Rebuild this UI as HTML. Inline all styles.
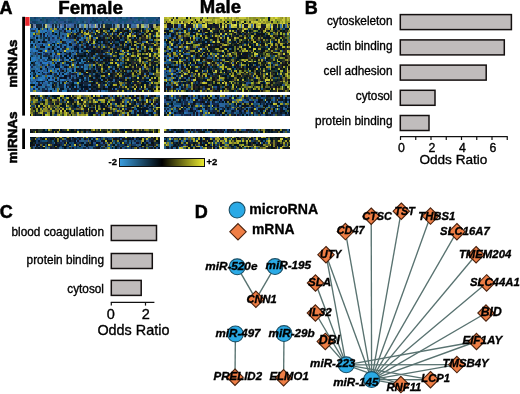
<!DOCTYPE html>
<html><head><meta charset="utf-8"><style>
html,body{margin:0;padding:0;background:#fff;width:520px;height:394px;overflow:hidden}
svg{display:block;font-family:'Liberation Sans', sans-serif;will-change:transform}
</style></head><body>
<svg width="520" height="394" viewBox="0 0 520 394">
<text x="-0.6" y="14.3" font-size="18" font-weight="bold" font-style="normal" text-anchor="start" stroke="#000" stroke-width="0.5" >A</text>
<text x="58.2" y="13.6" font-size="18.8" font-weight="bold" font-style="normal" text-anchor="start" stroke="#000" stroke-width="0.5" >Female</text>
<text x="199.8" y="13.4" font-size="18.5" font-weight="bold" font-style="normal" text-anchor="start" stroke="#000" stroke-width="0.5" >Male</text>
<g shape-rendering="crispEdges"><path fill="#145078" d="M29.6 16.8h2v1.9h-2zM31.6 18.7h2v1.9h-2zM33.6 18.7h2v1.9h-2zM35.6 16.8h2v1.9h-2zM35.6 22.5h2v1.9h-2zM37.6 22.5h2v1.9h-2zM39.6 22.5h2v1.9h-2zM41.6 20.6h2v1.9h-2zM43.6 16.8h2v1.9h-2zM43.6 22.5h2v1.9h-2zM45.6 22.5h2v1.9h-2zM47.6 18.7h2v1.9h-2zM47.6 20.6h2v1.9h-2zM49.6 16.8h2v1.9h-2zM49.6 18.7h2v1.9h-2zM51.6 16.8h2v1.9h-2zM53.6 18.7h2v1.9h-2zM55.6 16.8h2v1.9h-2zM59.6 18.7h2v1.9h-2zM61.6 18.7h2v1.9h-2zM65.6 22.5h2v1.9h-2zM67.6 16.8h2v1.9h-2zM69.6 16.8h2v1.9h-2zM71.6 18.7h2v1.9h-2zM71.6 20.6h2v1.9h-2zM73.6 18.7h2v1.9h-2zM75.6 20.6h2v1.9h-2zM75.6 22.5h2v1.9h-2zM77.6 16.8h2v1.9h-2zM79.6 16.8h2v1.9h-2zM79.6 18.7h2v1.9h-2zM79.6 20.6h2v1.9h-2zM81.6 18.7h2v1.9h-2zM81.6 22.5h2v1.9h-2zM83.6 16.8h2v1.9h-2zM89.6 16.8h2v1.9h-2zM89.6 18.7h2v1.9h-2zM91.6 20.6h2v1.9h-2zM91.6 22.5h2v1.9h-2zM93.6 16.8h2v1.9h-2zM95.6 18.7h2v1.9h-2zM97.6 20.6h2v1.9h-2zM97.6 22.5h2v1.9h-2zM99.6 16.8h2v1.9h-2zM103.6 16.8h2v1.9h-2zM103.6 18.7h2v1.9h-2zM103.6 22.5h2v1.9h-2zM109.6 20.6h2v1.9h-2zM109.6 22.5h2v1.9h-2zM111.6 16.8h2v1.9h-2zM113.6 16.8h2v1.9h-2zM113.6 18.7h2v1.9h-2zM117.6 16.8h2v1.9h-2zM117.6 20.6h2v1.9h-2zM119.6 18.7h2v1.9h-2zM119.6 20.6h2v1.9h-2zM121.6 18.7h2v1.9h-2zM123.6 18.7h2v1.9h-2zM123.6 20.6h2v1.9h-2zM123.6 22.5h2v1.9h-2zM125.6 16.8h2v1.9h-2zM125.6 18.7h2v1.9h-2zM131.6 20.6h2v1.9h-2zM133.6 16.8h2v1.9h-2zM133.6 22.5h2v1.9h-2zM135.6 16.8h2v1.9h-2zM135.6 22.5h2v1.9h-2zM141.6 16.8h2v1.9h-2zM145.6 16.8h2v1.9h-2zM145.6 22.5h2v1.9h-2zM147.6 16.8h2v1.9h-2zM147.6 18.7h2v1.9h-2zM147.6 20.6h2v1.9h-2zM149.6 16.8h2v1.9h-2zM149.6 18.7h2v1.9h-2zM151.6 16.8h2v1.9h-2zM151.6 18.7h2v1.9h-2zM153.6 16.8h2v1.9h-2zM155.6 20.6h2v1.9h-2zM155.6 22.5h2v1.9h-2zM157.6 20.6h2v1.9h-2zM74.07 28.03h1.71v1.81h-1.71zM75.78 28.03h1.71v1.81h-1.71zM91.18 28.03h1.71v1.81h-1.71zM144.21 28.03h1.71v1.81h-1.71zM149.34 28.03h1.71v1.81h-1.71zM92.89 29.84h1.71v1.81h-1.71zM94.6 31.65h1.71v1.81h-1.71zM125.39 31.65h1.71v1.81h-1.71zM142.49 31.65h1.71v1.81h-1.71zM53.55 33.47h1.71v1.81h-1.71zM79.21 33.47h1.71v1.81h-1.71zM56.97 35.28h1.71v1.81h-1.71zM65.52 35.28h1.71v1.81h-1.71zM77.49 35.28h1.71v1.81h-1.71zM147.63 35.28h1.71v1.81h-1.71zM46.71 37.09h1.71v1.81h-1.71zM67.23 37.09h1.71v1.81h-1.71zM75.78 37.09h1.71v1.81h-1.71zM82.63 37.09h1.71v1.81h-1.71zM132.23 37.09h1.71v1.81h-1.71zM82.63 38.91h1.71v1.81h-1.71zM121.97 38.91h1.71v1.81h-1.71zM55.26 40.72h1.71v1.81h-1.71zM108.28 40.72h1.71v1.81h-1.71zM127.1 40.72h1.71v1.81h-1.71zM84.34 42.54h1.71v1.81h-1.71zM87.76 42.54h1.71v1.81h-1.71zM29.6 44.35h1.71v1.81h-1.71zM39.86 44.35h1.71v1.81h-1.71zM65.52 44.35h1.71v1.81h-1.71zM65.52 46.16h1.71v1.81h-1.71zM123.68 46.16h1.71v1.81h-1.71zM151.05 46.16h1.71v1.81h-1.71zM38.15 47.98h1.71v1.81h-1.71zM72.36 47.98h1.71v1.81h-1.71zM79.21 47.98h1.71v1.81h-1.71zM80.92 47.98h1.71v1.81h-1.71zM142.49 47.98h1.71v1.81h-1.71zM41.57 49.79h1.71v1.81h-1.71zM84.34 49.79h1.71v1.81h-1.71zM89.47 49.79h1.71v1.81h-1.71zM50.13 51.6h1.71v1.81h-1.71zM65.52 51.6h1.71v1.81h-1.71zM80.92 51.6h1.71v1.81h-1.71zM125.39 51.6h1.71v1.81h-1.71zM127.1 51.6h1.71v1.81h-1.71zM70.65 53.42h1.71v1.81h-1.71zM123.68 53.42h1.71v1.81h-1.71zM94.6 55.23h1.71v1.81h-1.71zM120.26 55.23h1.71v1.81h-1.71zM56.97 57.04h1.71v1.81h-1.71zM82.63 57.04h1.71v1.81h-1.71zM103.15 57.04h1.71v1.81h-1.71zM120.26 57.04h1.71v1.81h-1.71zM135.65 57.04h1.71v1.81h-1.71zM74.07 58.86h1.71v1.81h-1.71zM92.89 58.86h1.71v1.81h-1.71zM101.44 58.86h1.71v1.81h-1.71zM115.13 58.86h1.71v1.81h-1.71zM75.78 60.67h1.71v1.81h-1.71zM144.21 60.67h1.71v1.81h-1.71zM70.65 62.48h1.71v1.81h-1.71zM80.92 62.48h1.71v1.81h-1.71zM116.84 62.48h1.71v1.81h-1.71zM121.97 62.48h1.71v1.81h-1.71zM145.92 62.48h1.71v1.81h-1.71zM43.28 64.3h1.71v1.81h-1.71zM63.81 64.3h1.71v1.81h-1.71zM106.57 64.3h1.71v1.81h-1.71zM120.26 64.3h1.71v1.81h-1.71zM50.13 66.11h1.71v1.81h-1.71zM91.18 66.11h1.71v1.81h-1.71zM121.97 66.11h1.71v1.81h-1.71zM84.34 69.74h1.71v1.81h-1.71zM104.86 69.74h1.71v1.81h-1.71zM109.99 71.55h1.71v1.81h-1.71zM127.1 71.55h1.71v1.81h-1.71zM149.34 71.55h1.71v1.81h-1.71zM89.47 73.36h1.71v1.81h-1.71zM123.68 73.36h1.71v1.81h-1.71zM34.73 75.18h1.71v1.81h-1.71zM39.86 75.18h1.71v1.81h-1.71zM99.73 75.18h1.71v1.81h-1.71zM108.28 75.18h1.71v1.81h-1.71zM137.36 75.18h1.71v1.81h-1.71zM44.99 76.99h1.71v1.81h-1.71zM65.52 78.81h1.71v1.81h-1.71zM84.34 78.81h1.71v1.81h-1.71zM145.92 80.62h1.71v1.81h-1.71zM130.52 82.43h1.71v1.81h-1.71zM108.28 84.25h1.71v1.81h-1.71zM121.97 84.25h1.71v1.81h-1.71zM46.71 86.06h1.71v1.81h-1.71zM79.21 87.87h1.71v1.81h-1.71zM104.86 89.69h1.71v1.81h-1.71zM165.71 28.03h1.71v1.81h-1.71zM192.99 28.03h1.71v1.81h-1.71zM283.38 28.03h1.71v1.81h-1.71zM179.35 29.84h1.71v1.81h-1.71zM182.76 29.84h1.71v1.81h-1.71zM187.88 29.84h1.71v1.81h-1.71zM170.82 31.65h1.71v1.81h-1.71zM182.76 31.65h1.71v1.81h-1.71zM223.69 33.47h1.71v1.81h-1.71zM271.44 33.47h1.71v1.81h-1.71zM165.71 35.28h1.71v1.81h-1.71zM189.58 35.28h1.71v1.81h-1.71zM191.29 35.28h1.71v1.81h-1.71zM249.27 37.09h1.71v1.81h-1.71zM201.52 38.91h1.71v1.81h-1.71zM164 40.72h1.71v1.81h-1.71zM172.53 40.72h1.71v1.81h-1.71zM210.05 40.72h1.71v1.81h-1.71zM259.5 40.72h1.71v1.81h-1.71zM271.44 40.72h1.71v1.81h-1.71zM286.79 40.72h1.71v1.81h-1.71zM165.71 44.35h1.71v1.81h-1.71zM252.68 44.35h1.71v1.81h-1.71zM257.8 44.35h1.71v1.81h-1.71zM266.32 46.16h1.71v1.81h-1.71zM194.7 47.98h1.71v1.81h-1.71zM201.52 47.98h1.71v1.81h-1.71zM181.05 49.79h1.71v1.81h-1.71zM164 51.6h1.71v1.81h-1.71zM199.81 51.6h1.71v1.81h-1.71zM221.98 51.6h1.71v1.81h-1.71zM175.94 53.42h1.71v1.81h-1.71zM208.34 55.23h1.71v1.81h-1.71zM220.28 55.23h1.71v1.81h-1.71zM269.74 55.23h1.71v1.81h-1.71zM273.15 55.23h1.71v1.81h-1.71zM213.46 57.04h1.71v1.81h-1.71zM232.22 57.04h1.71v1.81h-1.71zM271.44 57.04h1.71v1.81h-1.71zM181.05 58.86h1.71v1.81h-1.71zM187.88 58.86h1.71v1.81h-1.71zM213.46 58.86h1.71v1.81h-1.71zM216.87 58.86h1.71v1.81h-1.71zM167.41 60.67h1.71v1.81h-1.71zM165.71 62.48h1.71v1.81h-1.71zM167.41 62.48h1.71v1.81h-1.71zM169.12 62.48h1.71v1.81h-1.71zM199.81 62.48h1.71v1.81h-1.71zM271.44 62.48h1.71v1.81h-1.71zM239.04 64.3h1.71v1.81h-1.71zM254.39 64.3h1.71v1.81h-1.71zM268.03 64.3h1.71v1.81h-1.71zM210.05 66.11h1.71v1.81h-1.71zM232.22 66.11h1.71v1.81h-1.71zM206.64 67.92h1.71v1.81h-1.71zM233.92 67.92h1.71v1.81h-1.71zM268.03 67.92h1.71v1.81h-1.71zM165.71 69.74h1.71v1.81h-1.71zM247.56 69.74h1.71v1.81h-1.71zM167.41 71.55h1.71v1.81h-1.71zM177.64 71.55h1.71v1.81h-1.71zM250.98 71.55h1.71v1.81h-1.71zM165.71 73.36h1.71v1.81h-1.71zM167.41 73.36h1.71v1.81h-1.71zM208.34 73.36h1.71v1.81h-1.71zM223.69 73.36h1.71v1.81h-1.71zM264.62 73.36h1.71v1.81h-1.71zM179.35 75.18h1.71v1.81h-1.71zM167.41 76.99h1.71v1.81h-1.71zM204.93 76.99h1.71v1.81h-1.71zM273.15 76.99h1.71v1.81h-1.71zM276.56 76.99h1.71v1.81h-1.71zM179.35 80.62h1.71v1.81h-1.71zM249.27 82.43h1.71v1.81h-1.71zM264.62 82.43h1.71v1.81h-1.71zM167.41 84.25h1.71v1.81h-1.71zM169.12 84.25h1.71v1.81h-1.71zM181.05 84.25h1.71v1.81h-1.71zM187.88 86.06h1.71v1.81h-1.71zM189.58 86.06h1.71v1.81h-1.71zM213.46 86.06h1.71v1.81h-1.71zM221.98 86.06h1.71v1.81h-1.71zM177.64 87.87h1.71v1.81h-1.71zM186.17 87.87h1.71v1.81h-1.71zM261.21 87.87h1.71v1.81h-1.71zM38.15 95.4h1.71v1.85h-1.71zM48.42 95.4h1.71v1.85h-1.71zM121.97 95.4h1.71v1.85h-1.71zM63.81 97.25h1.71v1.85h-1.71zM123.68 97.25h1.71v1.85h-1.71zM60.39 99.11h1.71v1.85h-1.71zM65.52 99.11h1.71v1.85h-1.71zM96.31 99.11h1.71v1.85h-1.71zM127.1 99.11h1.71v1.85h-1.71zM132.23 99.11h1.71v1.85h-1.71zM140.78 99.11h1.71v1.85h-1.71zM31.31 100.96h1.71v1.85h-1.71zM87.76 100.96h1.71v1.85h-1.71zM99.73 100.96h1.71v1.85h-1.71zM106.57 100.96h1.71v1.85h-1.71zM130.52 100.96h1.71v1.85h-1.71zM111.71 102.82h1.71v1.85h-1.71zM113.42 102.82h1.71v1.85h-1.71zM77.49 104.67h1.71v1.85h-1.71zM123.68 104.67h1.71v1.85h-1.71zM41.57 106.53h1.71v1.85h-1.71zM65.52 106.53h1.71v1.85h-1.71zM67.23 106.53h1.71v1.85h-1.71zM89.47 106.53h1.71v1.85h-1.71zM152.76 106.53h1.71v1.85h-1.71zM133.94 108.38h1.71v1.85h-1.71zM82.63 110.24h1.71v1.85h-1.71zM111.71 113.95h1.71v1.85h-1.71zM135.65 113.95h1.71v1.85h-1.71zM149.34 113.95h1.71v1.85h-1.71zM164 95.4h1.71v1.85h-1.71zM169.12 95.4h1.71v1.85h-1.71zM199.81 95.4h1.71v1.85h-1.71zM203.22 95.4h1.71v1.85h-1.71zM218.57 95.4h1.71v1.85h-1.71zM254.39 95.4h1.71v1.85h-1.71zM257.8 95.4h1.71v1.85h-1.71zM223.69 97.25h1.71v1.85h-1.71zM230.51 97.25h1.71v1.85h-1.71zM237.33 97.25h1.71v1.85h-1.71zM262.91 97.25h1.71v1.85h-1.71zM170.82 99.11h1.71v1.85h-1.71zM181.05 99.11h1.71v1.85h-1.71zM191.29 99.11h1.71v1.85h-1.71zM206.64 99.11h1.71v1.85h-1.71zM218.57 99.11h1.71v1.85h-1.71zM244.15 99.11h1.71v1.85h-1.71zM250.98 99.11h1.71v1.85h-1.71zM254.39 99.11h1.71v1.85h-1.71zM262.91 99.11h1.71v1.85h-1.71zM271.44 99.11h1.71v1.85h-1.71zM167.41 100.96h1.71v1.85h-1.71zM169.12 100.96h1.71v1.85h-1.71zM182.76 100.96h1.71v1.85h-1.71zM216.87 100.96h1.71v1.85h-1.71zM240.74 100.96h1.71v1.85h-1.71zM279.97 100.96h1.71v1.85h-1.71zM174.23 102.82h1.71v1.85h-1.71zM175.94 102.82h1.71v1.85h-1.71zM177.64 102.82h1.71v1.85h-1.71zM179.35 102.82h1.71v1.85h-1.71zM198.11 102.82h1.71v1.85h-1.71zM232.22 102.82h1.71v1.85h-1.71zM252.68 102.82h1.71v1.85h-1.71zM254.39 102.82h1.71v1.85h-1.71zM256.09 102.82h1.71v1.85h-1.71zM283.38 102.82h1.71v1.85h-1.71zM227.1 104.67h1.71v1.85h-1.71zM232.22 104.67h1.71v1.85h-1.71zM254.39 104.67h1.71v1.85h-1.71zM286.79 104.67h1.71v1.85h-1.71zM164 106.53h1.71v1.85h-1.71zM177.64 106.53h1.71v1.85h-1.71zM194.7 106.53h1.71v1.85h-1.71zM213.46 106.53h1.71v1.85h-1.71zM218.57 106.53h1.71v1.85h-1.71zM233.92 106.53h1.71v1.85h-1.71zM257.8 106.53h1.71v1.85h-1.71zM261.21 106.53h1.71v1.85h-1.71zM172.53 108.38h1.71v1.85h-1.71zM211.75 108.38h1.71v1.85h-1.71zM225.39 108.38h1.71v1.85h-1.71zM278.26 108.38h1.71v1.85h-1.71zM174.23 110.24h1.71v1.85h-1.71zM175.94 110.24h1.71v1.85h-1.71zM257.8 110.24h1.71v1.85h-1.71zM274.85 110.24h1.71v1.85h-1.71zM189.58 112.09h1.71v1.85h-1.71zM191.29 112.09h1.71v1.85h-1.71zM227.1 112.09h1.71v1.85h-1.71zM228.81 112.09h1.71v1.85h-1.71zM235.63 112.09h1.71v1.85h-1.71zM237.33 112.09h1.71v1.85h-1.71zM259.5 112.09h1.71v1.85h-1.71zM208.34 113.95h1.71v1.85h-1.71zM240.74 113.95h1.71v1.85h-1.71zM250.98 113.95h1.71v1.85h-1.71zM256.09 113.95h1.71v1.85h-1.71zM44.99 129.2h1.71v1.65h-1.71zM113.42 130.85h1.71v1.65h-1.71zM184.46 129.2h1.71v1.65h-1.71zM242.45 129.2h1.71v1.65h-1.71zM204.93 130.85h1.71v1.65h-1.71zM225.39 130.85h1.71v1.65h-1.71zM247.56 130.85h1.71v1.65h-1.71zM257.8 130.85h1.71v1.65h-1.71zM288.49 130.85h1.71v1.65h-1.71zM113.42 136.5h1.71v1.81h-1.71zM121.97 136.5h1.71v1.81h-1.71zM139.07 136.5h1.71v1.81h-1.71zM144.21 136.5h1.71v1.81h-1.71zM82.63 138.31h1.71v1.81h-1.71zM101.44 138.31h1.71v1.81h-1.71zM109.99 138.31h1.71v1.81h-1.71zM147.63 138.31h1.71v1.81h-1.71zM41.57 140.13h1.71v1.81h-1.71zM43.28 140.13h1.71v1.81h-1.71zM44.99 140.13h1.71v1.81h-1.71zM51.84 140.13h1.71v1.81h-1.71zM96.31 140.13h1.71v1.81h-1.71zM98.02 140.13h1.71v1.81h-1.71zM113.42 140.13h1.71v1.81h-1.71zM128.81 140.13h1.71v1.81h-1.71zM135.65 140.13h1.71v1.81h-1.71zM68.94 141.94h1.71v1.81h-1.71zM72.36 141.94h1.71v1.81h-1.71zM116.84 141.94h1.71v1.81h-1.71zM44.99 143.76h1.71v1.81h-1.71zM72.36 143.76h1.71v1.81h-1.71zM127.1 143.76h1.71v1.81h-1.71zM157.89 143.76h1.71v1.81h-1.71zM44.99 145.57h1.71v1.81h-1.71zM60.39 145.57h1.71v1.81h-1.71zM72.36 145.57h1.71v1.81h-1.71zM87.76 145.57h1.71v1.81h-1.71zM91.18 145.57h1.71v1.81h-1.71zM108.28 145.57h1.71v1.81h-1.71zM109.99 145.57h1.71v1.81h-1.71zM123.68 145.57h1.71v1.81h-1.71zM157.89 145.57h1.71v1.81h-1.71zM67.23 147.39h1.71v1.81h-1.71zM70.65 147.39h1.71v1.81h-1.71zM74.07 147.39h1.71v1.81h-1.71zM79.21 147.39h1.71v1.81h-1.71zM80.92 147.39h1.71v1.81h-1.71zM99.73 147.39h1.71v1.81h-1.71zM109.99 147.39h1.71v1.81h-1.71zM113.42 147.39h1.71v1.81h-1.71zM127.1 147.39h1.71v1.81h-1.71zM147.63 147.39h1.71v1.81h-1.71zM152.76 147.39h1.71v1.81h-1.71zM192.99 136.5h1.71v1.81h-1.71zM225.39 136.5h1.71v1.81h-1.71zM164 138.31h1.71v1.81h-1.71zM167.41 138.31h1.71v1.81h-1.71zM182.76 138.31h1.71v1.81h-1.71zM196.4 138.31h1.71v1.81h-1.71zM211.75 138.31h1.71v1.81h-1.71zM228.81 138.31h1.71v1.81h-1.71zM240.74 138.31h1.71v1.81h-1.71zM266.32 138.31h1.71v1.81h-1.71zM167.41 140.13h1.71v1.81h-1.71zM169.12 140.13h1.71v1.81h-1.71zM189.58 140.13h1.71v1.81h-1.71zM194.7 140.13h1.71v1.81h-1.71zM262.91 140.13h1.71v1.81h-1.71zM182.76 141.94h1.71v1.81h-1.71zM201.52 141.94h1.71v1.81h-1.71zM170.82 143.76h1.71v1.81h-1.71zM215.16 143.76h1.71v1.81h-1.71zM223.69 143.76h1.71v1.81h-1.71zM177.64 145.57h1.71v1.81h-1.71zM191.29 145.57h1.71v1.81h-1.71zM233.92 145.57h1.71v1.81h-1.71zM169.12 147.39h1.71v1.81h-1.71zM250.98 147.39h1.71v1.81h-1.71z"/>
<path fill="#145064" d="M29.6 18.7h2v1.9h-2zM35.6 20.6h2v1.9h-2zM41.6 16.8h2v1.9h-2zM41.6 18.7h2v1.9h-2zM53.6 22.5h2v1.9h-2zM55.6 20.6h2v1.9h-2zM69.6 18.7h2v1.9h-2zM71.6 16.8h2v1.9h-2zM77.6 22.5h2v1.9h-2zM93.6 22.5h2v1.9h-2zM97.6 18.7h2v1.9h-2zM99.6 18.7h2v1.9h-2zM105.6 22.5h2v1.9h-2zM137.6 16.8h2v1.9h-2zM137.6 18.7h2v1.9h-2zM139.6 16.8h2v1.9h-2zM141.6 20.6h2v1.9h-2zM149.6 20.6h2v1.9h-2zM116.84 40.72h1.71v1.81h-1.71zM154.47 40.72h1.71v1.81h-1.71zM128.81 69.74h1.71v1.81h-1.71zM198.11 37.09h1.71v1.81h-1.71zM244.15 42.54h1.71v1.81h-1.71zM259.5 57.04h1.71v1.81h-1.71zM170.82 64.3h1.71v1.81h-1.71zM220.28 67.92h1.71v1.81h-1.71zM192.99 106.53h1.71v1.85h-1.71zM196.4 106.53h1.71v1.85h-1.71zM285.08 110.24h1.71v1.85h-1.71zM120.26 145.57h1.71v1.81h-1.71zM77.49 147.39h1.71v1.81h-1.71zM123.68 147.39h1.71v1.81h-1.71z"/>
<path fill="#285078" d="M29.6 20.6h2v1.9h-2zM31.6 16.8h2v1.9h-2zM31.6 22.5h2v1.9h-2zM37.6 16.8h2v1.9h-2zM37.6 20.6h2v1.9h-2zM43.6 18.7h2v1.9h-2zM43.6 20.6h2v1.9h-2zM45.6 16.8h2v1.9h-2zM47.6 16.8h2v1.9h-2zM47.6 22.5h2v1.9h-2zM51.6 18.7h2v1.9h-2zM51.6 20.6h2v1.9h-2zM55.6 22.5h2v1.9h-2zM57.6 18.7h2v1.9h-2zM57.6 22.5h2v1.9h-2zM59.6 22.5h2v1.9h-2zM61.6 16.8h2v1.9h-2zM63.6 16.8h2v1.9h-2zM63.6 18.7h2v1.9h-2zM65.6 16.8h2v1.9h-2zM67.6 18.7h2v1.9h-2zM67.6 22.5h2v1.9h-2zM73.6 20.6h2v1.9h-2zM79.6 22.5h2v1.9h-2zM81.6 16.8h2v1.9h-2zM83.6 18.7h2v1.9h-2zM83.6 22.5h2v1.9h-2zM85.6 16.8h2v1.9h-2zM85.6 18.7h2v1.9h-2zM85.6 20.6h2v1.9h-2zM89.6 22.5h2v1.9h-2zM97.6 16.8h2v1.9h-2zM101.6 16.8h2v1.9h-2zM101.6 18.7h2v1.9h-2zM105.6 20.6h2v1.9h-2zM107.6 16.8h2v1.9h-2zM107.6 20.6h2v1.9h-2zM111.6 20.6h2v1.9h-2zM117.6 18.7h2v1.9h-2zM125.6 20.6h2v1.9h-2zM127.6 18.7h2v1.9h-2zM127.6 20.6h2v1.9h-2zM129.6 18.7h2v1.9h-2zM131.6 18.7h2v1.9h-2zM139.6 22.5h2v1.9h-2zM141.6 18.7h2v1.9h-2zM143.6 18.7h2v1.9h-2zM143.6 20.6h2v1.9h-2zM147.6 22.5h2v1.9h-2zM151.6 20.6h2v1.9h-2zM153.6 20.6h2v1.9h-2zM153.6 22.5h2v1.9h-2zM155.6 16.8h2v1.9h-2zM157.6 22.5h2v1.9h-2zM34.73 31.65h1.71v1.81h-1.71zM62.1 31.65h1.71v1.81h-1.71zM79.21 35.28h1.71v1.81h-1.71zM101.44 35.28h1.71v1.81h-1.71zM120.26 38.91h1.71v1.81h-1.71zM149.34 38.91h1.71v1.81h-1.71zM72.36 40.72h1.71v1.81h-1.71zM86.05 40.72h1.71v1.81h-1.71zM36.44 42.54h1.71v1.81h-1.71zM44.99 42.54h1.71v1.81h-1.71zM118.55 42.54h1.71v1.81h-1.71zM82.63 44.35h1.71v1.81h-1.71zM55.26 46.16h1.71v1.81h-1.71zM72.36 46.16h1.71v1.81h-1.71zM79.21 46.16h1.71v1.81h-1.71zM101.44 46.16h1.71v1.81h-1.71zM111.71 46.16h1.71v1.81h-1.71zM50.13 47.98h1.71v1.81h-1.71zM50.13 49.79h1.71v1.81h-1.71zM62.1 49.79h1.71v1.81h-1.71zM74.07 49.79h1.71v1.81h-1.71zM82.63 49.79h1.71v1.81h-1.71zM36.44 51.6h1.71v1.81h-1.71zM121.97 51.6h1.71v1.81h-1.71zM33.02 53.42h1.71v1.81h-1.71zM48.42 53.42h1.71v1.81h-1.71zM106.57 53.42h1.71v1.81h-1.71zM36.44 55.23h1.71v1.81h-1.71zM50.13 55.23h1.71v1.81h-1.71zM72.36 55.23h1.71v1.81h-1.71zM72.36 57.04h1.71v1.81h-1.71zM38.15 58.86h1.71v1.81h-1.71zM43.28 58.86h1.71v1.81h-1.71zM43.28 60.67h1.71v1.81h-1.71zM55.26 60.67h1.71v1.81h-1.71zM74.07 62.48h1.71v1.81h-1.71zM34.73 64.3h1.71v1.81h-1.71zM44.99 67.92h1.71v1.81h-1.71zM62.1 67.92h1.71v1.81h-1.71zM108.28 67.92h1.71v1.81h-1.71zM53.55 69.74h1.71v1.81h-1.71zM96.31 69.74h1.71v1.81h-1.71zM137.36 69.74h1.71v1.81h-1.71zM67.23 73.36h1.71v1.81h-1.71zM72.36 75.18h1.71v1.81h-1.71zM74.07 75.18h1.71v1.81h-1.71zM36.44 76.99h1.71v1.81h-1.71zM118.55 76.99h1.71v1.81h-1.71zM29.6 78.81h1.71v1.81h-1.71zM44.99 78.81h1.71v1.81h-1.71zM67.23 78.81h1.71v1.81h-1.71zM29.6 80.62h1.71v1.81h-1.71zM67.23 82.43h1.71v1.81h-1.71zM82.63 84.25h1.71v1.81h-1.71zM48.42 86.06h1.71v1.81h-1.71zM139.07 87.87h1.71v1.81h-1.71zM133.94 89.69h1.71v1.81h-1.71zM149.34 89.69h1.71v1.81h-1.71zM181.05 28.03h1.71v1.81h-1.71zM247.56 29.84h1.71v1.81h-1.71zM210.05 31.65h1.71v1.81h-1.71zM165.71 33.47h1.71v1.81h-1.71zM203.22 33.47h1.71v1.81h-1.71zM264.62 33.47h1.71v1.81h-1.71zM288.49 33.47h1.71v1.81h-1.71zM181.05 37.09h1.71v1.81h-1.71zM288.49 37.09h1.71v1.81h-1.71zM211.75 38.91h1.71v1.81h-1.71zM182.76 40.72h1.71v1.81h-1.71zM235.63 40.72h1.71v1.81h-1.71zM169.12 44.35h1.71v1.81h-1.71zM164 46.16h1.71v1.81h-1.71zM203.22 47.98h1.71v1.81h-1.71zM230.51 51.6h1.71v1.81h-1.71zM203.22 55.23h1.71v1.81h-1.71zM213.46 55.23h1.71v1.81h-1.71zM227.1 55.23h1.71v1.81h-1.71zM208.34 57.04h1.71v1.81h-1.71zM169.12 60.67h1.71v1.81h-1.71zM266.32 60.67h1.71v1.81h-1.71zM223.69 62.48h1.71v1.81h-1.71zM179.35 64.3h1.71v1.81h-1.71zM191.29 64.3h1.71v1.81h-1.71zM218.57 64.3h1.71v1.81h-1.71zM273.15 64.3h1.71v1.81h-1.71zM198.11 66.11h1.71v1.81h-1.71zM179.35 67.92h1.71v1.81h-1.71zM211.75 67.92h1.71v1.81h-1.71zM203.22 69.74h1.71v1.81h-1.71zM164 73.36h1.71v1.81h-1.71zM213.46 73.36h1.71v1.81h-1.71zM175.94 75.18h1.71v1.81h-1.71zM186.17 78.81h1.71v1.81h-1.71zM177.64 84.25h1.71v1.81h-1.71zM187.88 84.25h1.71v1.81h-1.71zM245.86 84.25h1.71v1.81h-1.71zM283.38 84.25h1.71v1.81h-1.71zM182.76 86.06h1.71v1.81h-1.71zM82.63 95.4h1.71v1.85h-1.71zM127.1 95.4h1.71v1.85h-1.71zM157.89 95.4h1.71v1.85h-1.71zM39.86 97.25h1.71v1.85h-1.71zM43.28 99.11h1.71v1.85h-1.71zM74.07 99.11h1.71v1.85h-1.71zM63.81 100.96h1.71v1.85h-1.71zM137.36 102.82h1.71v1.85h-1.71zM108.28 104.67h1.71v1.85h-1.71zM149.34 104.67h1.71v1.85h-1.71zM154.47 104.67h1.71v1.85h-1.71zM111.71 108.38h1.71v1.85h-1.71zM149.34 108.38h1.71v1.85h-1.71zM75.78 113.95h1.71v1.85h-1.71zM228.81 95.4h1.71v1.85h-1.71zM252.68 95.4h1.71v1.85h-1.71zM259.5 95.4h1.71v1.85h-1.71zM264.62 95.4h1.71v1.85h-1.71zM169.12 97.25h1.71v1.85h-1.71zM186.17 97.25h1.71v1.85h-1.71zM215.16 97.25h1.71v1.85h-1.71zM221.98 97.25h1.71v1.85h-1.71zM225.39 97.25h1.71v1.85h-1.71zM165.71 100.96h1.71v1.85h-1.71zM172.53 100.96h1.71v1.85h-1.71zM239.04 100.96h1.71v1.85h-1.71zM273.15 100.96h1.71v1.85h-1.71zM227.1 102.82h1.71v1.85h-1.71zM230.51 104.67h1.71v1.85h-1.71zM235.63 104.67h1.71v1.85h-1.71zM215.16 106.53h1.71v1.85h-1.71zM244.15 108.38h1.71v1.85h-1.71zM285.08 108.38h1.71v1.85h-1.71zM206.64 112.09h1.71v1.85h-1.71zM254.39 112.09h1.71v1.85h-1.71zM268.03 112.09h1.71v1.85h-1.71zM182.76 113.95h1.71v1.85h-1.71zM206.64 113.95h1.71v1.85h-1.71zM86.05 130.85h1.71v1.65h-1.71zM189.58 129.2h1.71v1.65h-1.71zM240.74 129.2h1.71v1.65h-1.71zM196.4 130.85h1.71v1.65h-1.71zM206.64 130.85h1.71v1.65h-1.71zM283.38 130.85h1.71v1.65h-1.71zM38.15 136.5h1.71v1.81h-1.71zM65.52 136.5h1.71v1.81h-1.71zM70.65 136.5h1.71v1.81h-1.71zM108.28 136.5h1.71v1.81h-1.71zM109.99 136.5h1.71v1.81h-1.71zM65.52 140.13h1.71v1.81h-1.71zM84.34 140.13h1.71v1.81h-1.71zM89.47 140.13h1.71v1.81h-1.71zM123.68 140.13h1.71v1.81h-1.71zM132.23 140.13h1.71v1.81h-1.71zM145.92 140.13h1.71v1.81h-1.71zM104.86 141.94h1.71v1.81h-1.71zM70.65 143.76h1.71v1.81h-1.71zM137.36 143.76h1.71v1.81h-1.71zM33.02 145.57h1.71v1.81h-1.71zM38.15 145.57h1.71v1.81h-1.71zM92.89 145.57h1.71v1.81h-1.71zM113.42 145.57h1.71v1.81h-1.71zM137.36 145.57h1.71v1.81h-1.71zM151.05 145.57h1.71v1.81h-1.71zM33.02 147.39h1.71v1.81h-1.71zM104.86 147.39h1.71v1.81h-1.71zM213.46 140.13h1.71v1.81h-1.71zM218.57 141.94h1.71v1.81h-1.71zM264.62 141.94h1.71v1.81h-1.71zM192.99 145.57h1.71v1.81h-1.71zM201.52 147.39h1.71v1.81h-1.71z"/>
<path fill="#143c64" d="M29.6 22.5h2v1.9h-2zM31.6 20.6h2v1.9h-2zM33.6 16.8h2v1.9h-2zM33.6 20.6h2v1.9h-2zM33.6 22.5h2v1.9h-2zM39.6 18.7h2v1.9h-2zM45.6 18.7h2v1.9h-2zM45.6 20.6h2v1.9h-2zM57.6 16.8h2v1.9h-2zM63.6 20.6h2v1.9h-2zM67.6 20.6h2v1.9h-2zM69.6 20.6h2v1.9h-2zM73.6 16.8h2v1.9h-2zM81.6 20.6h2v1.9h-2zM85.6 22.5h2v1.9h-2zM89.6 20.6h2v1.9h-2zM91.6 16.8h2v1.9h-2zM91.6 18.7h2v1.9h-2zM93.6 18.7h2v1.9h-2zM93.6 20.6h2v1.9h-2zM95.6 16.8h2v1.9h-2zM95.6 20.6h2v1.9h-2zM101.6 20.6h2v1.9h-2zM101.6 22.5h2v1.9h-2zM105.6 16.8h2v1.9h-2zM107.6 18.7h2v1.9h-2zM117.6 22.5h2v1.9h-2zM119.6 16.8h2v1.9h-2zM129.6 16.8h2v1.9h-2zM141.6 22.5h2v1.9h-2zM155.6 18.7h2v1.9h-2zM157.6 16.8h2v1.9h-2zM116.84 28.03h1.71v1.81h-1.71zM106.57 29.84h1.71v1.81h-1.71zM99.73 35.28h1.71v1.81h-1.71zM118.55 35.28h1.71v1.81h-1.71zM121.97 37.09h1.71v1.81h-1.71zM98.02 40.72h1.71v1.81h-1.71zM115.13 40.72h1.71v1.81h-1.71zM101.44 42.54h1.71v1.81h-1.71zM127.1 42.54h1.71v1.81h-1.71zM149.34 42.54h1.71v1.81h-1.71zM104.86 46.16h1.71v1.81h-1.71zM142.49 46.16h1.71v1.81h-1.71zM111.71 53.42h1.71v1.81h-1.71zM151.05 58.86h1.71v1.81h-1.71zM108.28 62.48h1.71v1.81h-1.71zM113.42 66.11h1.71v1.81h-1.71zM156.18 66.11h1.71v1.81h-1.71zM149.34 67.92h1.71v1.81h-1.71zM98.02 71.55h1.71v1.81h-1.71zM104.86 76.99h1.71v1.81h-1.71zM120.26 80.62h1.71v1.81h-1.71zM140.78 80.62h1.71v1.81h-1.71zM142.49 80.62h1.71v1.81h-1.71zM152.76 80.62h1.71v1.81h-1.71zM123.68 82.43h1.71v1.81h-1.71zM103.15 84.25h1.71v1.81h-1.71zM130.52 86.06h1.71v1.81h-1.71zM127.1 89.69h1.71v1.81h-1.71zM288.49 26.21h1.71v1.81h-1.71zM228.81 28.03h1.71v1.81h-1.71zM247.56 28.03h1.71v1.81h-1.71zM276.56 28.03h1.71v1.81h-1.71zM281.67 28.03h1.71v1.81h-1.71zM254.39 31.65h1.71v1.81h-1.71zM242.45 33.47h1.71v1.81h-1.71zM285.08 33.47h1.71v1.81h-1.71zM174.23 35.28h1.71v1.81h-1.71zM210.05 35.28h1.71v1.81h-1.71zM227.1 35.28h1.71v1.81h-1.71zM221.98 38.91h1.71v1.81h-1.71zM192.99 40.72h1.71v1.81h-1.71zM228.81 40.72h1.71v1.81h-1.71zM247.56 40.72h1.71v1.81h-1.71zM242.45 44.35h1.71v1.81h-1.71zM181.05 47.98h1.71v1.81h-1.71zM187.88 49.79h1.71v1.81h-1.71zM201.52 49.79h1.71v1.81h-1.71zM274.85 49.79h1.71v1.81h-1.71zM182.76 53.42h1.71v1.81h-1.71zM247.56 55.23h1.71v1.81h-1.71zM187.88 57.04h1.71v1.81h-1.71zM261.21 57.04h1.71v1.81h-1.71zM187.88 62.48h1.71v1.81h-1.71zM198.11 62.48h1.71v1.81h-1.71zM192.99 64.3h1.71v1.81h-1.71zM220.28 64.3h1.71v1.81h-1.71zM278.26 64.3h1.71v1.81h-1.71zM216.87 66.11h1.71v1.81h-1.71zM244.15 66.11h1.71v1.81h-1.71zM196.4 67.92h1.71v1.81h-1.71zM218.57 67.92h1.71v1.81h-1.71zM204.93 69.74h1.71v1.81h-1.71zM228.81 69.74h1.71v1.81h-1.71zM218.57 71.55h1.71v1.81h-1.71zM237.33 71.55h1.71v1.81h-1.71zM281.67 71.55h1.71v1.81h-1.71zM191.29 73.36h1.71v1.81h-1.71zM252.68 73.36h1.71v1.81h-1.71zM278.26 73.36h1.71v1.81h-1.71zM210.05 75.18h1.71v1.81h-1.71zM227.1 75.18h1.71v1.81h-1.71zM250.98 75.18h1.71v1.81h-1.71zM279.97 75.18h1.71v1.81h-1.71zM177.64 76.99h1.71v1.81h-1.71zM206.64 76.99h1.71v1.81h-1.71zM247.56 78.81h1.71v1.81h-1.71zM196.4 80.62h1.71v1.81h-1.71zM247.56 80.62h1.71v1.81h-1.71zM262.91 80.62h1.71v1.81h-1.71zM192.99 82.43h1.71v1.81h-1.71zM196.4 82.43h1.71v1.81h-1.71zM227.1 84.25h1.71v1.81h-1.71zM203.22 86.06h1.71v1.81h-1.71zM230.51 86.06h1.71v1.81h-1.71zM215.16 87.87h1.71v1.81h-1.71zM220.28 87.87h1.71v1.81h-1.71zM237.33 87.87h1.71v1.81h-1.71zM189.58 89.69h1.71v1.81h-1.71zM201.52 89.69h1.71v1.81h-1.71zM233.92 89.69h1.71v1.81h-1.71zM65.52 95.4h1.71v1.85h-1.71zM130.52 95.4h1.71v1.85h-1.71zM51.84 97.25h1.71v1.85h-1.71zM84.34 97.25h1.71v1.85h-1.71zM113.42 97.25h1.71v1.85h-1.71zM151.05 97.25h1.71v1.85h-1.71zM82.63 99.11h1.71v1.85h-1.71zM38.15 100.96h1.71v1.85h-1.71zM60.39 100.96h1.71v1.85h-1.71zM111.71 100.96h1.71v1.85h-1.71zM123.68 100.96h1.71v1.85h-1.71zM48.42 102.82h1.71v1.85h-1.71zM94.6 102.82h1.71v1.85h-1.71zM31.31 104.67h1.71v1.85h-1.71zM33.02 104.67h1.71v1.85h-1.71zM70.65 104.67h1.71v1.85h-1.71zM86.05 104.67h1.71v1.85h-1.71zM55.26 106.53h1.71v1.85h-1.71zM92.89 106.53h1.71v1.85h-1.71zM99.73 106.53h1.71v1.85h-1.71zM121.97 106.53h1.71v1.85h-1.71zM41.57 108.38h1.71v1.85h-1.71zM74.07 108.38h1.71v1.85h-1.71zM50.13 110.24h1.71v1.85h-1.71zM68.94 110.24h1.71v1.85h-1.71zM151.05 110.24h1.71v1.85h-1.71zM44.99 112.09h1.71v1.85h-1.71zM79.21 112.09h1.71v1.85h-1.71zM135.65 112.09h1.71v1.85h-1.71zM53.55 113.95h1.71v1.85h-1.71zM55.26 113.95h1.71v1.85h-1.71zM87.76 113.95h1.71v1.85h-1.71zM109.99 113.95h1.71v1.85h-1.71zM116.84 113.95h1.71v1.85h-1.71zM247.56 97.25h1.71v1.85h-1.71zM249.27 97.25h1.71v1.85h-1.71zM264.62 97.25h1.71v1.85h-1.71zM211.75 99.11h1.71v1.85h-1.71zM240.74 102.82h1.71v1.85h-1.71zM261.21 102.82h1.71v1.85h-1.71zM271.44 104.67h1.71v1.85h-1.71zM250.98 106.53h1.71v1.85h-1.71zM259.5 106.53h1.71v1.85h-1.71zM273.15 106.53h1.71v1.85h-1.71zM228.81 108.38h1.71v1.85h-1.71zM210.05 110.24h1.71v1.85h-1.71zM242.45 112.09h1.71v1.85h-1.71zM249.27 112.09h1.71v1.85h-1.71zM77.49 129.2h1.71v1.65h-1.71zM123.68 129.2h1.71v1.65h-1.71zM58.68 130.85h1.71v1.65h-1.71zM89.47 130.85h1.71v1.65h-1.71zM235.63 130.85h1.71v1.65h-1.71zM286.79 130.85h1.71v1.65h-1.71zM43.28 136.5h1.71v1.81h-1.71zM84.34 136.5h1.71v1.81h-1.71zM101.44 136.5h1.71v1.81h-1.71zM104.86 136.5h1.71v1.81h-1.71zM116.84 136.5h1.71v1.81h-1.71zM29.6 138.31h1.71v1.81h-1.71zM36.44 138.31h1.71v1.81h-1.71zM53.55 138.31h1.71v1.81h-1.71zM77.49 138.31h1.71v1.81h-1.71zM108.28 138.31h1.71v1.81h-1.71zM36.44 140.13h1.71v1.81h-1.71zM39.86 140.13h1.71v1.81h-1.71zM46.71 140.13h1.71v1.81h-1.71zM137.36 140.13h1.71v1.81h-1.71zM139.07 140.13h1.71v1.81h-1.71zM36.44 141.94h1.71v1.81h-1.71zM51.84 141.94h1.71v1.81h-1.71zM62.1 141.94h1.71v1.81h-1.71zM70.65 141.94h1.71v1.81h-1.71zM77.49 141.94h1.71v1.81h-1.71zM99.73 141.94h1.71v1.81h-1.71zM125.39 141.94h1.71v1.81h-1.71zM139.07 141.94h1.71v1.81h-1.71zM144.21 141.94h1.71v1.81h-1.71zM147.63 141.94h1.71v1.81h-1.71zM41.57 143.76h1.71v1.81h-1.71zM62.1 143.76h1.71v1.81h-1.71zM67.23 143.76h1.71v1.81h-1.71zM80.92 143.76h1.71v1.81h-1.71zM92.89 143.76h1.71v1.81h-1.71zM94.6 143.76h1.71v1.81h-1.71zM103.15 143.76h1.71v1.81h-1.71zM109.99 143.76h1.71v1.81h-1.71zM118.55 143.76h1.71v1.81h-1.71zM120.26 143.76h1.71v1.81h-1.71zM121.97 143.76h1.71v1.81h-1.71zM132.23 143.76h1.71v1.81h-1.71zM133.94 143.76h1.71v1.81h-1.71zM41.57 145.57h1.71v1.81h-1.71zM96.31 145.57h1.71v1.81h-1.71zM128.81 145.57h1.71v1.81h-1.71zM145.92 145.57h1.71v1.81h-1.71zM62.1 147.39h1.71v1.81h-1.71zM116.84 147.39h1.71v1.81h-1.71zM128.81 147.39h1.71v1.81h-1.71zM132.23 147.39h1.71v1.81h-1.71zM142.49 147.39h1.71v1.81h-1.71zM179.35 136.5h1.71v1.81h-1.71zM240.74 140.13h1.71v1.81h-1.71zM250.98 140.13h1.71v1.81h-1.71zM252.68 140.13h1.71v1.81h-1.71zM213.46 141.94h1.71v1.81h-1.71zM216.87 141.94h1.71v1.81h-1.71zM227.1 141.94h1.71v1.81h-1.71zM256.09 141.94h1.71v1.81h-1.71zM266.32 141.94h1.71v1.81h-1.71zM182.76 143.76h1.71v1.81h-1.71zM210.05 143.76h1.71v1.81h-1.71zM285.08 143.76h1.71v1.81h-1.71zM216.87 145.57h1.71v1.81h-1.71zM220.28 145.57h1.71v1.81h-1.71zM228.81 145.57h1.71v1.81h-1.71zM233.92 147.39h1.71v1.81h-1.71zM278.26 147.39h1.71v1.81h-1.71z"/>
<path fill="#28508c" d="M35.6 18.7h2v1.9h-2zM39.6 20.6h2v1.9h-2zM41.6 22.5h2v1.9h-2zM49.6 20.6h2v1.9h-2zM49.6 22.5h2v1.9h-2zM51.6 22.5h2v1.9h-2zM53.6 16.8h2v1.9h-2zM55.6 18.7h2v1.9h-2zM57.6 20.6h2v1.9h-2zM59.6 16.8h2v1.9h-2zM59.6 20.6h2v1.9h-2zM61.6 20.6h2v1.9h-2zM63.6 22.5h2v1.9h-2zM65.6 20.6h2v1.9h-2zM69.6 22.5h2v1.9h-2zM71.6 22.5h2v1.9h-2zM73.6 22.5h2v1.9h-2zM75.6 16.8h2v1.9h-2zM75.6 18.7h2v1.9h-2zM77.6 18.7h2v1.9h-2zM87.6 16.8h2v1.9h-2zM87.6 18.7h2v1.9h-2zM87.6 20.6h2v1.9h-2zM87.6 22.5h2v1.9h-2zM95.6 22.5h2v1.9h-2zM99.6 20.6h2v1.9h-2zM103.6 20.6h2v1.9h-2zM109.6 16.8h2v1.9h-2zM109.6 18.7h2v1.9h-2zM111.6 18.7h2v1.9h-2zM111.6 22.5h2v1.9h-2zM113.6 20.6h2v1.9h-2zM115.6 16.8h2v1.9h-2zM115.6 18.7h2v1.9h-2zM115.6 20.6h2v1.9h-2zM115.6 22.5h2v1.9h-2zM119.6 22.5h2v1.9h-2zM121.6 20.6h2v1.9h-2zM125.6 22.5h2v1.9h-2zM127.6 16.8h2v1.9h-2zM127.6 22.5h2v1.9h-2zM129.6 20.6h2v1.9h-2zM129.6 22.5h2v1.9h-2zM131.6 16.8h2v1.9h-2zM131.6 22.5h2v1.9h-2zM133.6 18.7h2v1.9h-2zM135.6 20.6h2v1.9h-2zM137.6 20.6h2v1.9h-2zM137.6 22.5h2v1.9h-2zM139.6 18.7h2v1.9h-2zM143.6 22.5h2v1.9h-2zM145.6 18.7h2v1.9h-2zM145.6 20.6h2v1.9h-2zM149.6 22.5h2v1.9h-2zM151.6 22.5h2v1.9h-2zM153.6 18.7h2v1.9h-2zM157.6 18.7h2v1.9h-2zM29.6 28.03h1.71v1.81h-1.71zM34.73 28.03h1.71v1.81h-1.71zM51.84 28.03h1.71v1.81h-1.71zM147.63 28.03h1.71v1.81h-1.71zM46.71 29.84h1.71v1.81h-1.71zM62.1 29.84h1.71v1.81h-1.71zM84.34 29.84h1.71v1.81h-1.71zM89.47 29.84h1.71v1.81h-1.71zM128.81 29.84h1.71v1.81h-1.71zM48.42 31.65h1.71v1.81h-1.71zM67.23 31.65h1.71v1.81h-1.71zM68.94 31.65h1.71v1.81h-1.71zM72.36 31.65h1.71v1.81h-1.71zM48.42 33.47h1.71v1.81h-1.71zM115.13 33.47h1.71v1.81h-1.71zM120.26 33.47h1.71v1.81h-1.71zM132.23 33.47h1.71v1.81h-1.71zM139.07 33.47h1.71v1.81h-1.71zM36.44 35.28h1.71v1.81h-1.71zM50.13 35.28h1.71v1.81h-1.71zM70.65 35.28h1.71v1.81h-1.71zM29.6 37.09h1.71v1.81h-1.71zM33.02 37.09h1.71v1.81h-1.71zM53.55 37.09h1.71v1.81h-1.71zM62.1 37.09h1.71v1.81h-1.71zM51.84 38.91h1.71v1.81h-1.71zM53.55 38.91h1.71v1.81h-1.71zM68.94 38.91h1.71v1.81h-1.71zM39.86 40.72h1.71v1.81h-1.71zM50.13 40.72h1.71v1.81h-1.71zM142.49 40.72h1.71v1.81h-1.71zM72.36 42.54h1.71v1.81h-1.71zM38.15 44.35h1.71v1.81h-1.71zM46.71 44.35h1.71v1.81h-1.71zM58.68 44.35h1.71v1.81h-1.71zM74.07 44.35h1.71v1.81h-1.71zM92.89 44.35h1.71v1.81h-1.71zM98.02 44.35h1.71v1.81h-1.71zM103.15 44.35h1.71v1.81h-1.71zM113.42 44.35h1.71v1.81h-1.71zM125.39 44.35h1.71v1.81h-1.71zM113.42 46.16h1.71v1.81h-1.71zM43.28 47.98h1.71v1.81h-1.71zM46.71 47.98h1.71v1.81h-1.71zM53.55 47.98h1.71v1.81h-1.71zM48.42 49.79h1.71v1.81h-1.71zM60.39 49.79h1.71v1.81h-1.71zM108.28 49.79h1.71v1.81h-1.71zM154.47 51.6h1.71v1.81h-1.71zM36.44 53.42h1.71v1.81h-1.71zM43.28 53.42h1.71v1.81h-1.71zM60.39 53.42h1.71v1.81h-1.71zM63.81 53.42h1.71v1.81h-1.71zM86.05 53.42h1.71v1.81h-1.71zM55.26 55.23h1.71v1.81h-1.71zM56.97 55.23h1.71v1.81h-1.71zM109.99 55.23h1.71v1.81h-1.71zM51.84 57.04h1.71v1.81h-1.71zM87.76 57.04h1.71v1.81h-1.71zM41.57 58.86h1.71v1.81h-1.71zM60.39 58.86h1.71v1.81h-1.71zM38.15 60.67h1.71v1.81h-1.71zM48.42 62.48h1.71v1.81h-1.71zM39.86 64.3h1.71v1.81h-1.71zM65.52 64.3h1.71v1.81h-1.71zM94.6 64.3h1.71v1.81h-1.71zM48.42 66.11h1.71v1.81h-1.71zM142.49 66.11h1.71v1.81h-1.71zM41.57 67.92h1.71v1.81h-1.71zM70.65 67.92h1.71v1.81h-1.71zM36.44 69.74h1.71v1.81h-1.71zM43.28 69.74h1.71v1.81h-1.71zM109.99 69.74h1.71v1.81h-1.71zM48.42 71.55h1.71v1.81h-1.71zM77.49 71.55h1.71v1.81h-1.71zM44.99 73.36h1.71v1.81h-1.71zM149.34 73.36h1.71v1.81h-1.71zM60.39 75.18h1.71v1.81h-1.71zM147.63 76.99h1.71v1.81h-1.71zM31.31 80.62h1.71v1.81h-1.71zM60.39 80.62h1.71v1.81h-1.71zM68.94 80.62h1.71v1.81h-1.71zM82.63 80.62h1.71v1.81h-1.71zM113.42 80.62h1.71v1.81h-1.71zM149.34 82.43h1.71v1.81h-1.71zM36.44 84.25h1.71v1.81h-1.71zM44.99 84.25h1.71v1.81h-1.71zM104.86 86.06h1.71v1.81h-1.71zM118.55 86.06h1.71v1.81h-1.71zM154.47 86.06h1.71v1.81h-1.71zM39.86 89.69h1.71v1.81h-1.71zM48.42 89.69h1.71v1.81h-1.71zM98.02 89.69h1.71v1.81h-1.71zM196.4 28.03h1.71v1.81h-1.71zM201.52 28.03h1.71v1.81h-1.71zM172.53 29.84h1.71v1.81h-1.71zM235.63 29.84h1.71v1.81h-1.71zM179.35 33.47h1.71v1.81h-1.71zM164 35.28h1.71v1.81h-1.71zM167.41 37.09h1.71v1.81h-1.71zM172.53 37.09h1.71v1.81h-1.71zM194.7 37.09h1.71v1.81h-1.71zM172.53 42.54h1.71v1.81h-1.71zM179.35 42.54h1.71v1.81h-1.71zM211.75 44.35h1.71v1.81h-1.71zM175.94 46.16h1.71v1.81h-1.71zM196.4 46.16h1.71v1.81h-1.71zM165.71 49.79h1.71v1.81h-1.71zM167.41 49.79h1.71v1.81h-1.71zM281.67 49.79h1.71v1.81h-1.71zM184.46 53.42h1.71v1.81h-1.71zM215.16 53.42h1.71v1.81h-1.71zM164 55.23h1.71v1.81h-1.71zM167.41 55.23h1.71v1.81h-1.71zM256.09 55.23h1.71v1.81h-1.71zM170.82 57.04h1.71v1.81h-1.71zM206.64 57.04h1.71v1.81h-1.71zM262.91 57.04h1.71v1.81h-1.71zM184.46 58.86h1.71v1.81h-1.71zM220.28 58.86h1.71v1.81h-1.71zM264.62 58.86h1.71v1.81h-1.71zM216.87 62.48h1.71v1.81h-1.71zM232.22 62.48h1.71v1.81h-1.71zM276.56 62.48h1.71v1.81h-1.71zM182.76 64.3h1.71v1.81h-1.71zM208.34 64.3h1.71v1.81h-1.71zM257.8 66.11h1.71v1.81h-1.71zM170.82 67.92h1.71v1.81h-1.71zM164 69.74h1.71v1.81h-1.71zM172.53 69.74h1.71v1.81h-1.71zM179.35 69.74h1.71v1.81h-1.71zM169.12 71.55h1.71v1.81h-1.71zM170.82 71.55h1.71v1.81h-1.71zM184.46 71.55h1.71v1.81h-1.71zM165.71 75.18h1.71v1.81h-1.71zM191.29 75.18h1.71v1.81h-1.71zM184.46 76.99h1.71v1.81h-1.71zM254.39 76.99h1.71v1.81h-1.71zM177.64 78.81h1.71v1.81h-1.71zM191.29 78.81h1.71v1.81h-1.71zM182.76 80.62h1.71v1.81h-1.71zM203.22 80.62h1.71v1.81h-1.71zM245.86 82.43h1.71v1.81h-1.71zM247.56 82.43h1.71v1.81h-1.71zM281.67 84.25h1.71v1.81h-1.71zM215.16 86.06h1.71v1.81h-1.71zM203.22 87.87h1.71v1.81h-1.71zM108.28 95.4h1.71v1.85h-1.71zM145.92 95.4h1.71v1.85h-1.71zM46.71 97.25h1.71v1.85h-1.71zM137.36 97.25h1.71v1.85h-1.71zM144.21 97.25h1.71v1.85h-1.71zM152.76 97.25h1.71v1.85h-1.71zM39.86 99.11h1.71v1.85h-1.71zM156.18 102.82h1.71v1.85h-1.71zM79.21 106.53h1.71v1.85h-1.71zM147.63 106.53h1.71v1.85h-1.71zM125.39 108.38h1.71v1.85h-1.71zM115.13 110.24h1.71v1.85h-1.71zM96.31 112.09h1.71v1.85h-1.71zM101.44 112.09h1.71v1.85h-1.71zM98.02 113.95h1.71v1.85h-1.71zM174.23 95.4h1.71v1.85h-1.71zM187.88 95.4h1.71v1.85h-1.71zM211.75 95.4h1.71v1.85h-1.71zM239.04 95.4h1.71v1.85h-1.71zM189.58 97.25h1.71v1.85h-1.71zM220.28 97.25h1.71v1.85h-1.71zM227.1 97.25h1.71v1.85h-1.71zM261.21 97.25h1.71v1.85h-1.71zM278.26 97.25h1.71v1.85h-1.71zM288.49 97.25h1.71v1.85h-1.71zM164 99.11h1.71v1.85h-1.71zM198.11 99.11h1.71v1.85h-1.71zM221.98 99.11h1.71v1.85h-1.71zM232.22 99.11h1.71v1.85h-1.71zM256.09 99.11h1.71v1.85h-1.71zM164 100.96h1.71v1.85h-1.71zM189.58 100.96h1.71v1.85h-1.71zM235.63 100.96h1.71v1.85h-1.71zM247.56 100.96h1.71v1.85h-1.71zM201.52 102.82h1.71v1.85h-1.71zM225.39 102.82h1.71v1.85h-1.71zM264.62 102.82h1.71v1.85h-1.71zM218.57 104.67h1.71v1.85h-1.71zM259.5 104.67h1.71v1.85h-1.71zM165.71 106.53h1.71v1.85h-1.71zM189.58 106.53h1.71v1.85h-1.71zM256.09 106.53h1.71v1.85h-1.71zM271.44 106.53h1.71v1.85h-1.71zM286.79 106.53h1.71v1.85h-1.71zM192.99 108.38h1.71v1.85h-1.71zM218.57 108.38h1.71v1.85h-1.71zM232.22 108.38h1.71v1.85h-1.71zM164 110.24h1.71v1.85h-1.71zM184.46 110.24h1.71v1.85h-1.71zM186.17 110.24h1.71v1.85h-1.71zM196.4 110.24h1.71v1.85h-1.71zM227.1 110.24h1.71v1.85h-1.71zM237.33 110.24h1.71v1.85h-1.71zM242.45 110.24h1.71v1.85h-1.71zM271.44 110.24h1.71v1.85h-1.71zM187.88 112.09h1.71v1.85h-1.71zM198.11 112.09h1.71v1.85h-1.71zM286.79 112.09h1.71v1.85h-1.71zM174.23 113.95h1.71v1.85h-1.71zM191.29 113.95h1.71v1.85h-1.71zM201.52 113.95h1.71v1.85h-1.71zM220.28 113.95h1.71v1.85h-1.71zM261.21 113.95h1.71v1.85h-1.71zM273.15 113.95h1.71v1.85h-1.71zM281.67 113.95h1.71v1.85h-1.71zM194.7 129.2h1.71v1.65h-1.71zM235.63 129.2h1.71v1.65h-1.71zM244.15 129.2h1.71v1.65h-1.71zM174.23 130.85h1.71v1.65h-1.71zM184.46 130.85h1.71v1.65h-1.71zM46.71 136.5h1.71v1.81h-1.71zM74.07 136.5h1.71v1.81h-1.71zM94.6 136.5h1.71v1.81h-1.71zM38.15 138.31h1.71v1.81h-1.71zM70.65 138.31h1.71v1.81h-1.71zM87.76 138.31h1.71v1.81h-1.71zM94.6 138.31h1.71v1.81h-1.71zM98.02 138.31h1.71v1.81h-1.71zM120.26 138.31h1.71v1.81h-1.71zM133.94 138.31h1.71v1.81h-1.71zM60.39 140.13h1.71v1.81h-1.71zM79.21 140.13h1.71v1.81h-1.71zM86.05 140.13h1.71v1.81h-1.71zM147.63 140.13h1.71v1.81h-1.71zM92.89 141.94h1.71v1.81h-1.71zM94.6 141.94h1.71v1.81h-1.71zM101.44 141.94h1.71v1.81h-1.71zM133.94 141.94h1.71v1.81h-1.71zM149.34 141.94h1.71v1.81h-1.71zM34.73 143.76h1.71v1.81h-1.71zM74.07 145.57h1.71v1.81h-1.71zM77.49 145.57h1.71v1.81h-1.71zM80.92 145.57h1.71v1.81h-1.71zM106.57 145.57h1.71v1.81h-1.71zM125.39 145.57h1.71v1.81h-1.71zM149.34 145.57h1.71v1.81h-1.71zM86.05 147.39h1.71v1.81h-1.71zM89.47 147.39h1.71v1.81h-1.71zM118.55 147.39h1.71v1.81h-1.71zM121.97 147.39h1.71v1.81h-1.71zM139.07 147.39h1.71v1.81h-1.71zM156.18 147.39h1.71v1.81h-1.71zM177.64 136.5h1.71v1.81h-1.71zM211.75 136.5h1.71v1.81h-1.71zM247.56 136.5h1.71v1.81h-1.71zM254.39 138.31h1.71v1.81h-1.71zM223.69 140.13h1.71v1.81h-1.71zM261.21 141.94h1.71v1.81h-1.71zM184.46 143.76h1.71v1.81h-1.71zM198.11 143.76h1.71v1.81h-1.71zM181.05 145.57h1.71v1.81h-1.71zM211.75 145.57h1.71v1.81h-1.71zM225.39 145.57h1.71v1.81h-1.71zM215.16 147.39h1.71v1.81h-1.71zM256.09 147.39h1.71v1.81h-1.71z"/>
<path fill="#28648c" d="M37.6 18.7h2v1.9h-2zM39.6 16.8h2v1.9h-2zM53.6 20.6h2v1.9h-2zM61.6 22.5h2v1.9h-2zM65.6 18.7h2v1.9h-2zM77.6 20.6h2v1.9h-2zM83.6 20.6h2v1.9h-2zM99.6 22.5h2v1.9h-2zM105.6 18.7h2v1.9h-2zM107.6 22.5h2v1.9h-2zM113.6 22.5h2v1.9h-2zM121.6 16.8h2v1.9h-2zM121.6 22.5h2v1.9h-2zM123.6 16.8h2v1.9h-2zM133.6 20.6h2v1.9h-2zM135.6 18.7h2v1.9h-2zM139.6 20.6h2v1.9h-2zM143.6 16.8h2v1.9h-2zM39.86 28.03h1.71v1.81h-1.71zM43.28 28.03h1.71v1.81h-1.71zM63.81 28.03h1.71v1.81h-1.71zM82.63 28.03h1.71v1.81h-1.71zM125.39 28.03h1.71v1.81h-1.71zM29.6 29.84h1.71v1.81h-1.71zM55.26 29.84h1.71v1.81h-1.71zM56.97 29.84h1.71v1.81h-1.71zM72.36 29.84h1.71v1.81h-1.71zM77.49 29.84h1.71v1.81h-1.71zM108.28 29.84h1.71v1.81h-1.71zM115.13 29.84h1.71v1.81h-1.71zM41.57 31.65h1.71v1.81h-1.71zM60.39 31.65h1.71v1.81h-1.71zM140.78 31.65h1.71v1.81h-1.71zM56.97 33.47h1.71v1.81h-1.71zM60.39 33.47h1.71v1.81h-1.71zM109.99 33.47h1.71v1.81h-1.71zM123.68 33.47h1.71v1.81h-1.71zM63.81 35.28h1.71v1.81h-1.71zM91.18 35.28h1.71v1.81h-1.71zM154.47 35.28h1.71v1.81h-1.71zM31.31 37.09h1.71v1.81h-1.71zM38.15 37.09h1.71v1.81h-1.71zM41.57 37.09h1.71v1.81h-1.71zM87.76 37.09h1.71v1.81h-1.71zM135.65 37.09h1.71v1.81h-1.71zM34.73 38.91h1.71v1.81h-1.71zM36.44 38.91h1.71v1.81h-1.71zM39.86 38.91h1.71v1.81h-1.71zM56.97 38.91h1.71v1.81h-1.71zM94.6 38.91h1.71v1.81h-1.71zM151.05 38.91h1.71v1.81h-1.71zM36.44 40.72h1.71v1.81h-1.71zM46.71 40.72h1.71v1.81h-1.71zM70.65 40.72h1.71v1.81h-1.71zM144.21 40.72h1.71v1.81h-1.71zM34.73 42.54h1.71v1.81h-1.71zM46.71 42.54h1.71v1.81h-1.71zM55.26 42.54h1.71v1.81h-1.71zM58.68 42.54h1.71v1.81h-1.71zM74.07 42.54h1.71v1.81h-1.71zM135.65 42.54h1.71v1.81h-1.71zM139.07 42.54h1.71v1.81h-1.71zM44.99 44.35h1.71v1.81h-1.71zM118.55 44.35h1.71v1.81h-1.71zM36.44 46.16h1.71v1.81h-1.71zM50.13 46.16h1.71v1.81h-1.71zM128.81 46.16h1.71v1.81h-1.71zM39.86 47.98h1.71v1.81h-1.71zM41.57 47.98h1.71v1.81h-1.71zM128.81 47.98h1.71v1.81h-1.71zM87.76 49.79h1.71v1.81h-1.71zM139.07 49.79h1.71v1.81h-1.71zM31.31 51.6h1.71v1.81h-1.71zM33.02 51.6h1.71v1.81h-1.71zM44.99 51.6h1.71v1.81h-1.71zM46.71 51.6h1.71v1.81h-1.71zM48.42 51.6h1.71v1.81h-1.71zM56.97 51.6h1.71v1.81h-1.71zM67.23 51.6h1.71v1.81h-1.71zM152.76 51.6h1.71v1.81h-1.71zM62.1 53.42h1.71v1.81h-1.71zM108.28 53.42h1.71v1.81h-1.71zM128.81 53.42h1.71v1.81h-1.71zM29.6 55.23h1.71v1.81h-1.71zM33.02 55.23h1.71v1.81h-1.71zM121.97 55.23h1.71v1.81h-1.71zM84.34 57.04h1.71v1.81h-1.71zM91.18 57.04h1.71v1.81h-1.71zM152.76 57.04h1.71v1.81h-1.71zM53.55 58.86h1.71v1.81h-1.71zM99.73 58.86h1.71v1.81h-1.71zM33.02 60.67h1.71v1.81h-1.71zM60.39 62.48h1.71v1.81h-1.71zM63.81 62.48h1.71v1.81h-1.71zM82.63 62.48h1.71v1.81h-1.71zM120.26 62.48h1.71v1.81h-1.71zM31.31 64.3h1.71v1.81h-1.71zM36.44 64.3h1.71v1.81h-1.71zM86.05 64.3h1.71v1.81h-1.71zM36.44 66.11h1.71v1.81h-1.71zM38.15 66.11h1.71v1.81h-1.71zM62.1 66.11h1.71v1.81h-1.71zM86.05 66.11h1.71v1.81h-1.71zM109.99 66.11h1.71v1.81h-1.71zM31.31 67.92h1.71v1.81h-1.71zM33.02 67.92h1.71v1.81h-1.71zM50.13 67.92h1.71v1.81h-1.71zM68.94 67.92h1.71v1.81h-1.71zM89.47 67.92h1.71v1.81h-1.71zM142.49 67.92h1.71v1.81h-1.71zM44.99 69.74h1.71v1.81h-1.71zM63.81 69.74h1.71v1.81h-1.71zM67.23 69.74h1.71v1.81h-1.71zM127.1 69.74h1.71v1.81h-1.71zM34.73 71.55h1.71v1.81h-1.71zM60.39 71.55h1.71v1.81h-1.71zM65.52 71.55h1.71v1.81h-1.71zM103.15 71.55h1.71v1.81h-1.71zM31.31 73.36h1.71v1.81h-1.71zM92.89 73.36h1.71v1.81h-1.71zM51.84 75.18h1.71v1.81h-1.71zM87.76 76.99h1.71v1.81h-1.71zM92.89 76.99h1.71v1.81h-1.71zM145.92 76.99h1.71v1.81h-1.71zM34.73 78.81h1.71v1.81h-1.71zM113.42 78.81h1.71v1.81h-1.71zM33.02 80.62h1.71v1.81h-1.71zM87.76 80.62h1.71v1.81h-1.71zM111.71 80.62h1.71v1.81h-1.71zM147.63 80.62h1.71v1.81h-1.71zM31.31 82.43h1.71v1.81h-1.71zM56.97 82.43h1.71v1.81h-1.71zM106.57 82.43h1.71v1.81h-1.71zM43.28 84.25h1.71v1.81h-1.71zM56.97 84.25h1.71v1.81h-1.71zM77.49 84.25h1.71v1.81h-1.71zM123.68 84.25h1.71v1.81h-1.71zM38.15 86.06h1.71v1.81h-1.71zM56.97 86.06h1.71v1.81h-1.71zM39.86 87.87h1.71v1.81h-1.71zM44.99 87.87h1.71v1.81h-1.71zM51.84 87.87h1.71v1.81h-1.71zM63.81 87.87h1.71v1.81h-1.71zM65.52 87.87h1.71v1.81h-1.71zM68.94 87.87h1.71v1.81h-1.71zM82.63 87.87h1.71v1.81h-1.71zM145.92 87.87h1.71v1.81h-1.71zM31.31 89.69h1.71v1.81h-1.71zM36.44 89.69h1.71v1.81h-1.71zM38.15 89.69h1.71v1.81h-1.71zM53.55 89.69h1.71v1.81h-1.71zM106.57 89.69h1.71v1.81h-1.71zM170.82 28.03h1.71v1.81h-1.71zM177.64 31.65h1.71v1.81h-1.71zM199.81 33.47h1.71v1.81h-1.71zM167.41 35.28h1.71v1.81h-1.71zM221.98 35.28h1.71v1.81h-1.71zM164 37.09h1.71v1.81h-1.71zM165.71 37.09h1.71v1.81h-1.71zM196.4 37.09h1.71v1.81h-1.71zM196.4 38.91h1.71v1.81h-1.71zM179.35 40.72h1.71v1.81h-1.71zM204.93 40.72h1.71v1.81h-1.71zM198.11 42.54h1.71v1.81h-1.71zM164 44.35h1.71v1.81h-1.71zM169.12 46.16h1.71v1.81h-1.71zM174.23 46.16h1.71v1.81h-1.71zM182.76 47.98h1.71v1.81h-1.71zM198.11 47.98h1.71v1.81h-1.71zM228.81 47.98h1.71v1.81h-1.71zM177.64 51.6h1.71v1.81h-1.71zM187.88 53.42h1.71v1.81h-1.71zM211.75 53.42h1.71v1.81h-1.71zM165.71 55.23h1.71v1.81h-1.71zM192.99 55.23h1.71v1.81h-1.71zM192.99 57.04h1.71v1.81h-1.71zM210.05 57.04h1.71v1.81h-1.71zM165.71 60.67h1.71v1.81h-1.71zM198.11 60.67h1.71v1.81h-1.71zM203.22 60.67h1.71v1.81h-1.71zM172.53 64.3h1.71v1.81h-1.71zM167.41 66.11h1.71v1.81h-1.71zM201.52 71.55h1.71v1.81h-1.71zM169.12 73.36h1.71v1.81h-1.71zM172.53 73.36h1.71v1.81h-1.71zM164 75.18h1.71v1.81h-1.71zM165.71 76.99h1.71v1.81h-1.71zM174.23 76.99h1.71v1.81h-1.71zM187.88 76.99h1.71v1.81h-1.71zM167.41 78.81h1.71v1.81h-1.71zM220.28 78.81h1.71v1.81h-1.71zM164 80.62h1.71v1.81h-1.71zM175.94 80.62h1.71v1.81h-1.71zM167.41 82.43h1.71v1.81h-1.71zM192.99 89.69h1.71v1.81h-1.71zM101.44 95.4h1.71v1.85h-1.71zM113.42 95.4h1.71v1.85h-1.71zM144.21 95.4h1.71v1.85h-1.71zM156.18 95.4h1.71v1.85h-1.71zM109.99 97.25h1.71v1.85h-1.71zM120.26 97.25h1.71v1.85h-1.71zM75.78 99.11h1.71v1.85h-1.71zM144.21 99.11h1.71v1.85h-1.71zM125.39 102.82h1.71v1.85h-1.71zM115.13 104.67h1.71v1.85h-1.71zM130.52 106.53h1.71v1.85h-1.71zM154.47 106.53h1.71v1.85h-1.71zM118.55 108.38h1.71v1.85h-1.71zM135.65 108.38h1.71v1.85h-1.71zM140.78 110.24h1.71v1.85h-1.71zM147.63 110.24h1.71v1.85h-1.71zM149.34 110.24h1.71v1.85h-1.71zM125.39 112.09h1.71v1.85h-1.71zM130.52 112.09h1.71v1.85h-1.71zM132.23 112.09h1.71v1.85h-1.71zM108.28 113.95h1.71v1.85h-1.71zM189.58 95.4h1.71v1.85h-1.71zM196.4 95.4h1.71v1.85h-1.71zM232.22 95.4h1.71v1.85h-1.71zM240.74 95.4h1.71v1.85h-1.71zM194.7 97.25h1.71v1.85h-1.71zM196.4 97.25h1.71v1.85h-1.71zM211.75 97.25h1.71v1.85h-1.71zM286.79 97.25h1.71v1.85h-1.71zM175.94 99.11h1.71v1.85h-1.71zM186.17 99.11h1.71v1.85h-1.71zM233.92 99.11h1.71v1.85h-1.71zM249.27 99.11h1.71v1.85h-1.71zM174.23 100.96h1.71v1.85h-1.71zM182.76 102.82h1.71v1.85h-1.71zM196.4 102.82h1.71v1.85h-1.71zM221.98 102.82h1.71v1.85h-1.71zM230.51 102.82h1.71v1.85h-1.71zM257.8 102.82h1.71v1.85h-1.71zM179.35 104.67h1.71v1.85h-1.71zM203.22 104.67h1.71v1.85h-1.71zM210.05 104.67h1.71v1.85h-1.71zM223.69 104.67h1.71v1.85h-1.71zM261.21 104.67h1.71v1.85h-1.71zM268.03 104.67h1.71v1.85h-1.71zM172.53 106.53h1.71v1.85h-1.71zM230.51 106.53h1.71v1.85h-1.71zM247.56 106.53h1.71v1.85h-1.71zM283.38 106.53h1.71v1.85h-1.71zM165.71 108.38h1.71v1.85h-1.71zM169.12 108.38h1.71v1.85h-1.71zM187.88 108.38h1.71v1.85h-1.71zM201.52 108.38h1.71v1.85h-1.71zM210.05 108.38h1.71v1.85h-1.71zM274.85 108.38h1.71v1.85h-1.71zM172.53 110.24h1.71v1.85h-1.71zM204.93 110.24h1.71v1.85h-1.71zM218.57 110.24h1.71v1.85h-1.71zM225.39 110.24h1.71v1.85h-1.71zM228.81 110.24h1.71v1.85h-1.71zM235.63 110.24h1.71v1.85h-1.71zM262.91 110.24h1.71v1.85h-1.71zM172.53 112.09h1.71v1.85h-1.71zM233.92 112.09h1.71v1.85h-1.71zM177.64 113.95h1.71v1.85h-1.71zM179.35 113.95h1.71v1.85h-1.71zM211.75 113.95h1.71v1.85h-1.71zM225.39 113.95h1.71v1.85h-1.71zM244.15 113.95h1.71v1.85h-1.71zM247.56 113.95h1.71v1.85h-1.71zM254.39 113.95h1.71v1.85h-1.71zM262.91 113.95h1.71v1.85h-1.71zM252.68 129.2h1.71v1.65h-1.71zM256.09 129.2h1.71v1.65h-1.71zM191.29 130.85h1.71v1.65h-1.71zM208.34 130.85h1.71v1.65h-1.71zM41.57 136.5h1.71v1.81h-1.71zM75.78 136.5h1.71v1.81h-1.71zM92.89 136.5h1.71v1.81h-1.71zM103.15 136.5h1.71v1.81h-1.71zM106.57 136.5h1.71v1.81h-1.71zM130.52 136.5h1.71v1.81h-1.71zM63.81 138.31h1.71v1.81h-1.71zM80.92 138.31h1.71v1.81h-1.71zM91.18 138.31h1.71v1.81h-1.71zM80.92 140.13h1.71v1.81h-1.71zM82.63 140.13h1.71v1.81h-1.71zM99.73 140.13h1.71v1.81h-1.71zM125.39 140.13h1.71v1.81h-1.71zM53.55 141.94h1.71v1.81h-1.71zM84.34 141.94h1.71v1.81h-1.71zM113.42 141.94h1.71v1.81h-1.71zM118.55 141.94h1.71v1.81h-1.71zM128.81 141.94h1.71v1.81h-1.71zM132.23 141.94h1.71v1.81h-1.71zM82.63 143.76h1.71v1.81h-1.71zM106.57 143.76h1.71v1.81h-1.71zM115.13 143.76h1.71v1.81h-1.71zM135.65 143.76h1.71v1.81h-1.71zM139.07 143.76h1.71v1.81h-1.71zM34.73 145.57h1.71v1.81h-1.71zM70.65 145.57h1.71v1.81h-1.71zM82.63 145.57h1.71v1.81h-1.71zM84.34 145.57h1.71v1.81h-1.71zM89.47 145.57h1.71v1.81h-1.71zM44.99 147.39h1.71v1.81h-1.71zM48.42 147.39h1.71v1.81h-1.71zM58.68 147.39h1.71v1.81h-1.71zM60.39 147.39h1.71v1.81h-1.71zM91.18 147.39h1.71v1.81h-1.71zM189.58 136.5h1.71v1.81h-1.71zM189.58 138.31h1.71v1.81h-1.71zM174.23 140.13h1.71v1.81h-1.71zM175.94 140.13h1.71v1.81h-1.71zM165.71 141.94h1.71v1.81h-1.71zM169.12 141.94h1.71v1.81h-1.71zM225.39 141.94h1.71v1.81h-1.71zM169.12 143.76h1.71v1.81h-1.71zM164 145.57h1.71v1.81h-1.71zM169.12 145.57h1.71v1.81h-1.71zM164 147.39h1.71v1.81h-1.71zM174.23 147.39h1.71v1.81h-1.71zM244.15 147.39h1.71v1.81h-1.71z"/>
<path fill="#b4b428" d="M164 16.8h1.71v1.9h-1.71zM165.71 16.8h1.71v1.9h-1.71zM169.12 16.8h1.71v1.9h-1.71zM177.64 16.8h1.71v1.9h-1.71zM181.05 16.8h1.71v1.9h-1.71zM218.57 16.8h1.71v1.9h-1.71zM264.62 16.8h1.71v1.9h-1.71zM273.15 16.8h1.71v1.9h-1.71zM278.26 16.8h1.71v1.9h-1.71zM177.64 18.7h1.71v1.9h-1.71zM179.35 18.7h1.71v1.9h-1.71zM187.88 18.7h1.71v1.9h-1.71zM189.58 18.7h1.71v1.9h-1.71zM196.4 18.7h1.71v1.9h-1.71zM203.22 18.7h1.71v1.9h-1.71zM216.87 18.7h1.71v1.9h-1.71zM223.69 18.7h1.71v1.9h-1.71zM237.33 18.7h1.71v1.9h-1.71zM264.62 18.7h1.71v1.9h-1.71zM266.32 18.7h1.71v1.9h-1.71zM269.74 18.7h1.71v1.9h-1.71zM187.88 20.6h1.71v1.9h-1.71zM218.57 20.6h1.71v1.9h-1.71zM225.39 20.6h1.71v1.9h-1.71zM252.68 20.6h1.71v1.9h-1.71zM264.62 20.6h1.71v1.9h-1.71zM256.09 22.5h1.71v1.9h-1.71zM262.91 22.5h1.71v1.9h-1.71zM286.79 22.5h1.71v1.9h-1.71zM53.55 28.03h1.71v1.81h-1.71zM68.94 28.03h1.71v1.81h-1.71zM156.18 28.03h1.71v1.81h-1.71zM51.84 29.84h1.71v1.81h-1.71zM147.63 29.84h1.71v1.81h-1.71zM80.92 31.65h1.71v1.81h-1.71zM84.34 31.65h1.71v1.81h-1.71zM120.26 31.65h1.71v1.81h-1.71zM156.18 31.65h1.71v1.81h-1.71zM94.6 33.47h1.71v1.81h-1.71zM118.55 33.47h1.71v1.81h-1.71zM149.34 33.47h1.71v1.81h-1.71zM125.39 40.72h1.71v1.81h-1.71zM92.89 42.54h1.71v1.81h-1.71zM48.42 44.35h1.71v1.81h-1.71zM154.47 44.35h1.71v1.81h-1.71zM121.97 49.79h1.71v1.81h-1.71zM151.05 49.79h1.71v1.81h-1.71zM157.89 49.79h1.71v1.81h-1.71zM106.57 51.6h1.71v1.81h-1.71zM58.68 53.42h1.71v1.81h-1.71zM109.99 53.42h1.71v1.81h-1.71zM154.47 53.42h1.71v1.81h-1.71zM132.23 55.23h1.71v1.81h-1.71zM58.68 58.86h1.71v1.81h-1.71zM70.65 58.86h1.71v1.81h-1.71zM127.1 58.86h1.71v1.81h-1.71zM87.76 60.67h1.71v1.81h-1.71zM109.99 62.48h1.71v1.81h-1.71zM115.13 62.48h1.71v1.81h-1.71zM144.21 64.3h1.71v1.81h-1.71zM101.44 67.92h1.71v1.81h-1.71zM75.78 71.55h1.71v1.81h-1.71zM135.65 71.55h1.71v1.81h-1.71zM139.07 71.55h1.71v1.81h-1.71zM156.18 71.55h1.71v1.81h-1.71zM65.52 80.62h1.71v1.81h-1.71zM89.47 80.62h1.71v1.81h-1.71zM137.36 80.62h1.71v1.81h-1.71zM157.89 80.62h1.71v1.81h-1.71zM151.05 82.43h1.71v1.81h-1.71zM113.42 84.25h1.71v1.81h-1.71zM125.39 86.06h1.71v1.81h-1.71zM135.65 86.06h1.71v1.81h-1.71zM156.18 86.06h1.71v1.81h-1.71zM121.97 89.69h1.71v1.81h-1.71zM286.79 24.4h1.71v1.81h-1.71zM208.34 28.03h1.71v1.81h-1.71zM264.62 28.03h1.71v1.81h-1.71zM271.44 28.03h1.71v1.81h-1.71zM184.46 29.84h1.71v1.81h-1.71zM179.35 31.65h1.71v1.81h-1.71zM204.93 31.65h1.71v1.81h-1.71zM247.56 31.65h1.71v1.81h-1.71zM276.56 31.65h1.71v1.81h-1.71zM196.4 33.47h1.71v1.81h-1.71zM268.03 33.47h1.71v1.81h-1.71zM192.99 35.28h1.71v1.81h-1.71zM199.81 35.28h1.71v1.81h-1.71zM211.75 35.28h1.71v1.81h-1.71zM215.16 35.28h1.71v1.81h-1.71zM250.98 35.28h1.71v1.81h-1.71zM269.74 35.28h1.71v1.81h-1.71zM192.99 37.09h1.71v1.81h-1.71zM204.93 37.09h1.71v1.81h-1.71zM244.15 37.09h1.71v1.81h-1.71zM250.98 37.09h1.71v1.81h-1.71zM165.71 38.91h1.71v1.81h-1.71zM181.05 38.91h1.71v1.81h-1.71zM191.29 40.72h1.71v1.81h-1.71zM218.57 40.72h1.71v1.81h-1.71zM254.39 40.72h1.71v1.81h-1.71zM278.26 40.72h1.71v1.81h-1.71zM269.74 42.54h1.71v1.81h-1.71zM279.97 42.54h1.71v1.81h-1.71zM223.69 44.35h1.71v1.81h-1.71zM247.56 44.35h1.71v1.81h-1.71zM271.44 44.35h1.71v1.81h-1.71zM179.35 46.16h1.71v1.81h-1.71zM249.27 46.16h1.71v1.81h-1.71zM269.74 46.16h1.71v1.81h-1.71zM281.67 46.16h1.71v1.81h-1.71zM283.38 46.16h1.71v1.81h-1.71zM169.12 47.98h1.71v1.81h-1.71zM225.39 47.98h1.71v1.81h-1.71zM244.15 47.98h1.71v1.81h-1.71zM179.35 49.79h1.71v1.81h-1.71zM198.11 49.79h1.71v1.81h-1.71zM245.86 49.79h1.71v1.81h-1.71zM252.68 49.79h1.71v1.81h-1.71zM172.53 51.6h1.71v1.81h-1.71zM274.85 51.6h1.71v1.81h-1.71zM286.79 51.6h1.71v1.81h-1.71zM288.49 51.6h1.71v1.81h-1.71zM201.52 53.42h1.71v1.81h-1.71zM210.05 53.42h1.71v1.81h-1.71zM191.29 55.23h1.71v1.81h-1.71zM179.35 58.86h1.71v1.81h-1.71zM242.45 58.86h1.71v1.81h-1.71zM276.56 58.86h1.71v1.81h-1.71zM211.75 60.67h1.71v1.81h-1.71zM227.1 60.67h1.71v1.81h-1.71zM278.26 60.67h1.71v1.81h-1.71zM189.58 62.48h1.71v1.81h-1.71zM194.7 62.48h1.71v1.81h-1.71zM235.63 62.48h1.71v1.81h-1.71zM268.03 62.48h1.71v1.81h-1.71zM232.22 64.3h1.71v1.81h-1.71zM220.28 66.11h1.71v1.81h-1.71zM221.98 66.11h1.71v1.81h-1.71zM221.98 67.92h1.71v1.81h-1.71zM256.09 67.92h1.71v1.81h-1.71zM194.7 69.74h1.71v1.81h-1.71zM196.4 69.74h1.71v1.81h-1.71zM206.64 69.74h1.71v1.81h-1.71zM235.63 69.74h1.71v1.81h-1.71zM281.67 69.74h1.71v1.81h-1.71zM187.88 71.55h1.71v1.81h-1.71zM220.28 71.55h1.71v1.81h-1.71zM245.86 71.55h1.71v1.81h-1.71zM286.79 71.55h1.71v1.81h-1.71zM170.82 73.36h1.71v1.81h-1.71zM204.93 75.18h1.71v1.81h-1.71zM230.51 75.18h1.71v1.81h-1.71zM232.22 75.18h1.71v1.81h-1.71zM252.68 75.18h1.71v1.81h-1.71zM218.57 76.99h1.71v1.81h-1.71zM256.09 76.99h1.71v1.81h-1.71zM206.64 78.81h1.71v1.81h-1.71zM237.33 78.81h1.71v1.81h-1.71zM242.45 78.81h1.71v1.81h-1.71zM165.71 80.62h1.71v1.81h-1.71zM283.38 80.62h1.71v1.81h-1.71zM174.23 82.43h1.71v1.81h-1.71zM191.29 82.43h1.71v1.81h-1.71zM201.52 82.43h1.71v1.81h-1.71zM204.93 82.43h1.71v1.81h-1.71zM218.57 82.43h1.71v1.81h-1.71zM257.8 82.43h1.71v1.81h-1.71zM266.32 82.43h1.71v1.81h-1.71zM232.22 84.25h1.71v1.81h-1.71zM242.45 84.25h1.71v1.81h-1.71zM211.75 86.06h1.71v1.81h-1.71zM232.22 86.06h1.71v1.81h-1.71zM208.34 87.87h1.71v1.81h-1.71zM252.68 87.87h1.71v1.81h-1.71zM276.56 87.87h1.71v1.81h-1.71zM170.82 89.69h1.71v1.81h-1.71zM199.81 89.69h1.71v1.81h-1.71zM223.69 89.69h1.71v1.81h-1.71zM276.56 89.69h1.71v1.81h-1.71zM62.1 95.4h1.71v1.85h-1.71zM79.21 95.4h1.71v1.85h-1.71zM87.76 95.4h1.71v1.85h-1.71zM98.02 95.4h1.71v1.85h-1.71zM67.23 97.25h1.71v1.85h-1.71zM128.81 97.25h1.71v1.85h-1.71zM103.15 99.11h1.71v1.85h-1.71zM111.71 99.11h1.71v1.85h-1.71zM133.94 99.11h1.71v1.85h-1.71zM152.76 99.11h1.71v1.85h-1.71zM53.55 102.82h1.71v1.85h-1.71zM151.05 102.82h1.71v1.85h-1.71zM48.42 104.67h1.71v1.85h-1.71zM94.6 106.53h1.71v1.85h-1.71zM109.99 106.53h1.71v1.85h-1.71zM62.1 108.38h1.71v1.85h-1.71zM68.94 108.38h1.71v1.85h-1.71zM121.97 108.38h1.71v1.85h-1.71zM41.57 110.24h1.71v1.85h-1.71zM63.81 110.24h1.71v1.85h-1.71zM72.36 110.24h1.71v1.85h-1.71zM96.31 110.24h1.71v1.85h-1.71zM145.92 110.24h1.71v1.85h-1.71zM39.86 112.09h1.71v1.85h-1.71zM41.57 112.09h1.71v1.85h-1.71zM77.49 112.09h1.71v1.85h-1.71zM31.31 113.95h1.71v1.85h-1.71zM103.15 113.95h1.71v1.85h-1.71zM137.36 113.95h1.71v1.85h-1.71zM170.82 95.4h1.71v1.85h-1.71zM220.28 95.4h1.71v1.85h-1.71zM223.69 95.4h1.71v1.85h-1.71zM192.99 99.11h1.71v1.85h-1.71zM239.04 99.11h1.71v1.85h-1.71zM240.74 99.11h1.71v1.85h-1.71zM274.85 102.82h1.71v1.85h-1.71zM199.81 110.24h1.71v1.85h-1.71zM250.98 112.09h1.71v1.85h-1.71zM48.42 129.2h1.71v1.65h-1.71zM58.68 129.2h1.71v1.65h-1.71zM92.89 129.2h1.71v1.65h-1.71zM34.73 130.85h1.71v1.65h-1.71zM152.76 130.85h1.71v1.65h-1.71zM157.89 130.85h1.71v1.65h-1.71zM60.39 136.5h1.71v1.81h-1.71zM82.63 136.5h1.71v1.81h-1.71zM86.05 136.5h1.71v1.81h-1.71zM147.63 136.5h1.71v1.81h-1.71zM44.99 138.31h1.71v1.81h-1.71zM96.31 138.31h1.71v1.81h-1.71zM142.49 138.31h1.71v1.81h-1.71zM156.18 138.31h1.71v1.81h-1.71zM104.86 140.13h1.71v1.81h-1.71zM121.97 141.94h1.71v1.81h-1.71zM96.31 143.76h1.71v1.81h-1.71zM201.52 136.5h1.71v1.81h-1.71zM223.69 136.5h1.71v1.81h-1.71zM249.27 136.5h1.71v1.81h-1.71zM192.99 138.31h1.71v1.81h-1.71zM198.11 138.31h1.71v1.81h-1.71zM223.69 138.31h1.71v1.81h-1.71zM237.33 140.13h1.71v1.81h-1.71zM242.45 140.13h1.71v1.81h-1.71zM278.26 140.13h1.71v1.81h-1.71zM228.81 141.94h1.71v1.81h-1.71zM237.33 141.94h1.71v1.81h-1.71zM268.03 141.94h1.71v1.81h-1.71zM165.71 143.76h1.71v1.81h-1.71zM204.93 143.76h1.71v1.81h-1.71zM211.75 143.76h1.71v1.81h-1.71zM269.74 143.76h1.71v1.81h-1.71zM182.76 145.57h1.71v1.81h-1.71zM184.46 145.57h1.71v1.81h-1.71zM198.11 145.57h1.71v1.81h-1.71zM201.52 145.57h1.71v1.81h-1.71zM244.15 145.57h1.71v1.81h-1.71zM181.05 147.39h1.71v1.81h-1.71zM187.88 147.39h1.71v1.81h-1.71z"/>
<path fill="#c8c83c" d="M167.41 16.8h1.71v1.9h-1.71zM174.23 16.8h1.71v1.9h-1.71zM182.76 16.8h1.71v1.9h-1.71zM184.46 16.8h1.71v1.9h-1.71zM187.88 16.8h1.71v1.9h-1.71zM196.4 16.8h1.71v1.9h-1.71zM225.39 16.8h1.71v1.9h-1.71zM228.81 16.8h1.71v1.9h-1.71zM232.22 16.8h1.71v1.9h-1.71zM239.04 16.8h1.71v1.9h-1.71zM240.74 16.8h1.71v1.9h-1.71zM242.45 16.8h1.71v1.9h-1.71zM244.15 16.8h1.71v1.9h-1.71zM247.56 16.8h1.71v1.9h-1.71zM271.44 16.8h1.71v1.9h-1.71zM276.56 16.8h1.71v1.9h-1.71zM283.38 16.8h1.71v1.9h-1.71zM286.79 16.8h1.71v1.9h-1.71zM191.29 18.7h1.71v1.9h-1.71zM198.11 18.7h1.71v1.9h-1.71zM201.52 18.7h1.71v1.9h-1.71zM204.93 18.7h1.71v1.9h-1.71zM206.64 18.7h1.71v1.9h-1.71zM208.34 18.7h1.71v1.9h-1.71zM215.16 18.7h1.71v1.9h-1.71zM221.98 18.7h1.71v1.9h-1.71zM262.91 18.7h1.71v1.9h-1.71zM273.15 18.7h1.71v1.9h-1.71zM281.67 18.7h1.71v1.9h-1.71zM283.38 18.7h1.71v1.9h-1.71zM170.82 20.6h1.71v1.9h-1.71zM172.53 20.6h1.71v1.9h-1.71zM181.05 20.6h1.71v1.9h-1.71zM194.7 20.6h1.71v1.9h-1.71zM203.22 20.6h1.71v1.9h-1.71zM215.16 20.6h1.71v1.9h-1.71zM240.74 20.6h1.71v1.9h-1.71zM242.45 20.6h1.71v1.9h-1.71zM250.98 20.6h1.71v1.9h-1.71zM254.39 20.6h1.71v1.9h-1.71zM256.09 20.6h1.71v1.9h-1.71zM283.38 20.6h1.71v1.9h-1.71zM170.82 22.5h1.71v1.9h-1.71zM191.29 22.5h1.71v1.9h-1.71zM204.93 22.5h1.71v1.9h-1.71zM210.05 22.5h1.71v1.9h-1.71zM215.16 22.5h1.71v1.9h-1.71zM221.98 22.5h1.71v1.9h-1.71zM230.51 22.5h1.71v1.9h-1.71zM244.15 22.5h1.71v1.9h-1.71zM245.86 22.5h1.71v1.9h-1.71zM252.68 22.5h1.71v1.9h-1.71zM269.74 22.5h1.71v1.9h-1.71zM279.97 22.5h1.71v1.9h-1.71zM111.71 28.03h1.71v1.81h-1.71zM115.13 28.03h1.71v1.81h-1.71zM96.31 29.84h1.71v1.81h-1.71zM157.89 29.84h1.71v1.81h-1.71zM87.76 31.65h1.71v1.81h-1.71zM86.05 33.47h1.71v1.81h-1.71zM128.81 33.47h1.71v1.81h-1.71zM156.18 33.47h1.71v1.81h-1.71zM67.23 35.28h1.71v1.81h-1.71zM89.47 35.28h1.71v1.81h-1.71zM127.1 35.28h1.71v1.81h-1.71zM128.81 35.28h1.71v1.81h-1.71zM133.94 35.28h1.71v1.81h-1.71zM156.18 35.28h1.71v1.81h-1.71zM87.76 40.72h1.71v1.81h-1.71zM145.92 40.72h1.71v1.81h-1.71zM44.99 49.79h1.71v1.81h-1.71zM63.81 49.79h1.71v1.81h-1.71zM123.68 51.6h1.71v1.81h-1.71zM157.89 51.6h1.71v1.81h-1.71zM127.1 53.42h1.71v1.81h-1.71zM149.34 53.42h1.71v1.81h-1.71zM149.34 55.23h1.71v1.81h-1.71zM157.89 55.23h1.71v1.81h-1.71zM139.07 58.86h1.71v1.81h-1.71zM139.07 60.67h1.71v1.81h-1.71zM111.71 62.48h1.71v1.81h-1.71zM72.36 64.3h1.71v1.81h-1.71zM99.73 64.3h1.71v1.81h-1.71zM116.84 64.3h1.71v1.81h-1.71zM135.65 64.3h1.71v1.81h-1.71zM86.05 71.55h1.71v1.81h-1.71zM108.28 73.36h1.71v1.81h-1.71zM152.76 73.36h1.71v1.81h-1.71zM137.36 76.99h1.71v1.81h-1.71zM118.55 80.62h1.71v1.81h-1.71zM140.78 86.06h1.71v1.81h-1.71zM133.94 87.87h1.71v1.81h-1.71zM156.18 87.87h1.71v1.81h-1.71zM156.18 89.69h1.71v1.81h-1.71zM201.52 24.4h1.71v1.81h-1.71zM203.22 24.4h1.71v1.81h-1.71zM232.22 24.4h1.71v1.81h-1.71zM242.45 24.4h1.71v1.81h-1.71zM252.68 24.4h1.71v1.81h-1.71zM268.03 24.4h1.71v1.81h-1.71zM281.67 24.4h1.71v1.81h-1.71zM164 26.21h1.71v1.81h-1.71zM165.71 26.21h1.71v1.81h-1.71zM232.22 26.21h1.71v1.81h-1.71zM252.68 26.21h1.71v1.81h-1.71zM266.32 26.21h1.71v1.81h-1.71zM189.58 28.03h1.71v1.81h-1.71zM244.15 28.03h1.71v1.81h-1.71zM288.49 28.03h1.71v1.81h-1.71zM210.05 29.84h1.71v1.81h-1.71zM228.81 29.84h1.71v1.81h-1.71zM242.45 29.84h1.71v1.81h-1.71zM264.62 29.84h1.71v1.81h-1.71zM184.46 31.65h1.71v1.81h-1.71zM220.28 33.47h1.71v1.81h-1.71zM225.39 33.47h1.71v1.81h-1.71zM189.58 37.09h1.71v1.81h-1.71zM227.1 37.09h1.71v1.81h-1.71zM213.46 40.72h1.71v1.81h-1.71zM252.68 40.72h1.71v1.81h-1.71zM269.74 40.72h1.71v1.81h-1.71zM170.82 42.54h1.71v1.81h-1.71zM186.17 42.54h1.71v1.81h-1.71zM256.09 42.54h1.71v1.81h-1.71zM170.82 44.35h1.71v1.81h-1.71zM208.34 44.35h1.71v1.81h-1.71zM264.62 44.35h1.71v1.81h-1.71zM186.17 46.16h1.71v1.81h-1.71zM240.74 46.16h1.71v1.81h-1.71zM286.79 46.16h1.71v1.81h-1.71zM199.81 47.98h1.71v1.81h-1.71zM206.64 47.98h1.71v1.81h-1.71zM252.68 47.98h1.71v1.81h-1.71zM254.39 47.98h1.71v1.81h-1.71zM221.98 49.79h1.71v1.81h-1.71zM286.79 49.79h1.71v1.81h-1.71zM228.81 53.42h1.71v1.81h-1.71zM254.39 53.42h1.71v1.81h-1.71zM256.09 53.42h1.71v1.81h-1.71zM283.38 53.42h1.71v1.81h-1.71zM288.49 53.42h1.71v1.81h-1.71zM181.05 55.23h1.71v1.81h-1.71zM215.16 55.23h1.71v1.81h-1.71zM221.98 55.23h1.71v1.81h-1.71zM264.62 57.04h1.71v1.81h-1.71zM169.12 58.86h1.71v1.81h-1.71zM198.11 58.86h1.71v1.81h-1.71zM179.35 60.67h1.71v1.81h-1.71zM244.15 60.67h1.71v1.81h-1.71zM249.27 60.67h1.71v1.81h-1.71zM208.34 62.48h1.71v1.81h-1.71zM164 67.92h1.71v1.81h-1.71zM286.79 67.92h1.71v1.81h-1.71zM215.16 69.74h1.71v1.81h-1.71zM286.79 69.74h1.71v1.81h-1.71zM223.69 71.55h1.71v1.81h-1.71zM184.46 73.36h1.71v1.81h-1.71zM266.32 73.36h1.71v1.81h-1.71zM286.79 73.36h1.71v1.81h-1.71zM181.05 75.18h1.71v1.81h-1.71zM218.57 75.18h1.71v1.81h-1.71zM286.79 75.18h1.71v1.81h-1.71zM165.71 78.81h1.71v1.81h-1.71zM192.99 78.81h1.71v1.81h-1.71zM194.7 78.81h1.71v1.81h-1.71zM264.62 78.81h1.71v1.81h-1.71zM266.32 78.81h1.71v1.81h-1.71zM268.03 78.81h1.71v1.81h-1.71zM264.62 80.62h1.71v1.81h-1.71zM203.22 82.43h1.71v1.81h-1.71zM221.98 82.43h1.71v1.81h-1.71zM225.39 82.43h1.71v1.81h-1.71zM273.15 87.87h1.71v1.81h-1.71zM288.49 87.87h1.71v1.81h-1.71zM177.64 89.69h1.71v1.81h-1.71zM220.28 89.69h1.71v1.81h-1.71zM242.45 89.69h1.71v1.81h-1.71zM39.86 95.4h1.71v1.85h-1.71zM60.39 95.4h1.71v1.85h-1.71zM70.65 95.4h1.71v1.85h-1.71zM92.89 95.4h1.71v1.85h-1.71zM58.68 97.25h1.71v1.85h-1.71zM77.49 97.25h1.71v1.85h-1.71zM80.92 99.11h1.71v1.85h-1.71zM145.92 99.11h1.71v1.85h-1.71zM67.23 100.96h1.71v1.85h-1.71zM77.49 100.96h1.71v1.85h-1.71zM84.34 100.96h1.71v1.85h-1.71zM94.6 100.96h1.71v1.85h-1.71zM145.92 100.96h1.71v1.85h-1.71zM106.57 102.82h1.71v1.85h-1.71zM38.15 104.67h1.71v1.85h-1.71zM65.52 104.67h1.71v1.85h-1.71zM84.34 104.67h1.71v1.85h-1.71zM121.97 104.67h1.71v1.85h-1.71zM156.18 106.53h1.71v1.85h-1.71zM29.6 108.38h1.71v1.85h-1.71zM60.39 110.24h1.71v1.85h-1.71zM65.52 112.09h1.71v1.85h-1.71zM108.28 112.09h1.71v1.85h-1.71zM58.68 113.95h1.71v1.85h-1.71zM65.52 113.95h1.71v1.85h-1.71zM86.05 113.95h1.71v1.85h-1.71zM127.1 113.95h1.71v1.85h-1.71zM242.45 95.4h1.71v1.85h-1.71zM264.62 99.11h1.71v1.85h-1.71zM273.15 102.82h1.71v1.85h-1.71zM211.75 104.67h1.71v1.85h-1.71zM181.05 106.53h1.71v1.85h-1.71zM276.56 108.38h1.71v1.85h-1.71zM169.12 112.09h1.71v1.85h-1.71zM67.23 129.2h1.71v1.65h-1.71zM99.73 129.2h1.71v1.65h-1.71zM77.49 130.85h1.71v1.65h-1.71zM125.39 130.85h1.71v1.65h-1.71zM164 129.2h1.71v1.65h-1.71zM125.39 136.5h1.71v1.81h-1.71zM48.42 143.76h1.71v1.81h-1.71zM74.07 143.76h1.71v1.81h-1.71zM43.28 145.57h1.71v1.81h-1.71zM127.1 145.57h1.71v1.81h-1.71zM232.22 136.5h1.71v1.81h-1.71zM261.21 136.5h1.71v1.81h-1.71zM285.08 136.5h1.71v1.81h-1.71zM169.12 138.31h1.71v1.81h-1.71zM225.39 138.31h1.71v1.81h-1.71zM256.09 138.31h1.71v1.81h-1.71zM279.97 138.31h1.71v1.81h-1.71zM281.67 138.31h1.71v1.81h-1.71zM196.4 140.13h1.71v1.81h-1.71zM225.39 140.13h1.71v1.81h-1.71zM268.03 140.13h1.71v1.81h-1.71zM164 141.94h1.71v1.81h-1.71zM211.75 141.94h1.71v1.81h-1.71zM259.5 141.94h1.71v1.81h-1.71zM218.57 145.57h1.71v1.81h-1.71zM240.74 145.57h1.71v1.81h-1.71zM247.56 145.57h1.71v1.81h-1.71zM254.39 145.57h1.71v1.81h-1.71zM266.32 145.57h1.71v1.81h-1.71zM288.49 145.57h1.71v1.81h-1.71zM179.35 147.39h1.71v1.81h-1.71zM204.93 147.39h1.71v1.81h-1.71zM211.75 147.39h1.71v1.81h-1.71zM220.28 147.39h1.71v1.81h-1.71zM279.97 147.39h1.71v1.81h-1.71z"/>
<path fill="#a0a028" d="M170.82 16.8h1.71v1.9h-1.71zM191.29 16.8h1.71v1.9h-1.71zM208.34 16.8h1.71v1.9h-1.71zM210.05 16.8h1.71v1.9h-1.71zM211.75 16.8h1.71v1.9h-1.71zM215.16 16.8h1.71v1.9h-1.71zM216.87 16.8h1.71v1.9h-1.71zM237.33 16.8h1.71v1.9h-1.71zM245.86 16.8h1.71v1.9h-1.71zM256.09 16.8h1.71v1.9h-1.71zM257.8 16.8h1.71v1.9h-1.71zM269.74 16.8h1.71v1.9h-1.71zM279.97 16.8h1.71v1.9h-1.71zM165.71 18.7h1.71v1.9h-1.71zM167.41 18.7h1.71v1.9h-1.71zM174.23 18.7h1.71v1.9h-1.71zM175.94 18.7h1.71v1.9h-1.71zM182.76 18.7h1.71v1.9h-1.71zM192.99 18.7h1.71v1.9h-1.71zM213.46 18.7h1.71v1.9h-1.71zM233.92 18.7h1.71v1.9h-1.71zM242.45 18.7h1.71v1.9h-1.71zM249.27 18.7h1.71v1.9h-1.71zM250.98 18.7h1.71v1.9h-1.71zM257.8 18.7h1.71v1.9h-1.71zM278.26 18.7h1.71v1.9h-1.71zM279.97 18.7h1.71v1.9h-1.71zM288.49 18.7h1.71v1.9h-1.71zM164 20.6h1.71v1.9h-1.71zM167.41 20.6h1.71v1.9h-1.71zM186.17 20.6h1.71v1.9h-1.71zM192.99 20.6h1.71v1.9h-1.71zM198.11 20.6h1.71v1.9h-1.71zM199.81 20.6h1.71v1.9h-1.71zM216.87 20.6h1.71v1.9h-1.71zM220.28 20.6h1.71v1.9h-1.71zM221.98 20.6h1.71v1.9h-1.71zM230.51 20.6h1.71v1.9h-1.71zM257.8 20.6h1.71v1.9h-1.71zM269.74 20.6h1.71v1.9h-1.71zM286.79 20.6h1.71v1.9h-1.71zM175.94 22.5h1.71v1.9h-1.71zM179.35 22.5h1.71v1.9h-1.71zM184.46 22.5h1.71v1.9h-1.71zM194.7 22.5h1.71v1.9h-1.71zM196.4 22.5h1.71v1.9h-1.71zM199.81 22.5h1.71v1.9h-1.71zM211.75 22.5h1.71v1.9h-1.71zM223.69 22.5h1.71v1.9h-1.71zM228.81 22.5h1.71v1.9h-1.71zM247.56 22.5h1.71v1.9h-1.71zM249.27 22.5h1.71v1.9h-1.71zM264.62 22.5h1.71v1.9h-1.71zM266.32 22.5h1.71v1.9h-1.71zM273.15 22.5h1.71v1.9h-1.71zM274.85 22.5h1.71v1.9h-1.71zM281.67 22.5h1.71v1.9h-1.71zM157.89 26.21h1.71v1.81h-1.71zM41.57 28.03h1.71v1.81h-1.71zM109.99 28.03h1.71v1.81h-1.71zM123.68 28.03h1.71v1.81h-1.71zM157.89 28.03h1.71v1.81h-1.71zM103.15 29.84h1.71v1.81h-1.71zM113.42 29.84h1.71v1.81h-1.71zM140.78 29.84h1.71v1.81h-1.71zM104.86 31.65h1.71v1.81h-1.71zM130.52 31.65h1.71v1.81h-1.71zM84.34 33.47h1.71v1.81h-1.71zM106.57 33.47h1.71v1.81h-1.71zM89.47 37.09h1.71v1.81h-1.71zM111.71 37.09h1.71v1.81h-1.71zM133.94 40.72h1.71v1.81h-1.71zM56.97 42.54h1.71v1.81h-1.71zM109.99 42.54h1.71v1.81h-1.71zM142.49 42.54h1.71v1.81h-1.71zM152.76 42.54h1.71v1.81h-1.71zM123.68 44.35h1.71v1.81h-1.71zM34.73 46.16h1.71v1.81h-1.71zM67.23 47.98h1.71v1.81h-1.71zM132.23 47.98h1.71v1.81h-1.71zM127.1 49.79h1.71v1.81h-1.71zM137.36 49.79h1.71v1.81h-1.71zM87.76 51.6h1.71v1.81h-1.71zM111.71 51.6h1.71v1.81h-1.71zM115.13 51.6h1.71v1.81h-1.71zM56.97 53.42h1.71v1.81h-1.71zM120.26 53.42h1.71v1.81h-1.71zM130.52 55.23h1.71v1.81h-1.71zM156.18 57.04h1.71v1.81h-1.71zM51.84 58.86h1.71v1.81h-1.71zM116.84 58.86h1.71v1.81h-1.71zM149.34 58.86h1.71v1.81h-1.71zM62.1 62.48h1.71v1.81h-1.71zM92.89 64.3h1.71v1.81h-1.71zM108.28 66.11h1.71v1.81h-1.71zM144.21 66.11h1.71v1.81h-1.71zM50.13 69.74h1.71v1.81h-1.71zM157.89 71.55h1.71v1.81h-1.71zM116.84 73.36h1.71v1.81h-1.71zM132.23 73.36h1.71v1.81h-1.71zM103.15 75.18h1.71v1.81h-1.71zM118.55 75.18h1.71v1.81h-1.71zM33.02 76.99h1.71v1.81h-1.71zM151.05 76.99h1.71v1.81h-1.71zM132.23 80.62h1.71v1.81h-1.71zM156.18 82.43h1.71v1.81h-1.71zM104.86 84.25h1.71v1.81h-1.71zM115.13 84.25h1.71v1.81h-1.71zM144.21 84.25h1.71v1.81h-1.71zM147.63 89.69h1.71v1.81h-1.71zM154.47 89.69h1.71v1.81h-1.71zM157.89 89.69h1.71v1.81h-1.71zM286.79 26.21h1.71v1.81h-1.71zM245.86 28.03h1.71v1.81h-1.71zM268.03 28.03h1.71v1.81h-1.71zM262.91 29.84h1.71v1.81h-1.71zM211.75 31.65h1.71v1.81h-1.71zM273.15 31.65h1.71v1.81h-1.71zM279.97 31.65h1.71v1.81h-1.71zM276.56 33.47h1.71v1.81h-1.71zM179.35 35.28h1.71v1.81h-1.71zM252.68 35.28h1.71v1.81h-1.71zM271.44 35.28h1.71v1.81h-1.71zM172.53 38.91h1.71v1.81h-1.71zM227.1 38.91h1.71v1.81h-1.71zM240.74 38.91h1.71v1.81h-1.71zM252.68 38.91h1.71v1.81h-1.71zM269.74 38.91h1.71v1.81h-1.71zM189.58 42.54h1.71v1.81h-1.71zM228.81 42.54h1.71v1.81h-1.71zM271.44 42.54h1.71v1.81h-1.71zM281.67 42.54h1.71v1.81h-1.71zM196.4 44.35h1.71v1.81h-1.71zM198.11 44.35h1.71v1.81h-1.71zM279.97 44.35h1.71v1.81h-1.71zM216.87 47.98h1.71v1.81h-1.71zM257.8 47.98h1.71v1.81h-1.71zM259.5 47.98h1.71v1.81h-1.71zM192.99 49.79h1.71v1.81h-1.71zM288.49 49.79h1.71v1.81h-1.71zM174.23 51.6h1.71v1.81h-1.71zM203.22 51.6h1.71v1.81h-1.71zM232.22 51.6h1.71v1.81h-1.71zM276.56 51.6h1.71v1.81h-1.71zM174.23 53.42h1.71v1.81h-1.71zM179.35 53.42h1.71v1.81h-1.71zM216.87 53.42h1.71v1.81h-1.71zM235.63 53.42h1.71v1.81h-1.71zM240.74 53.42h1.71v1.81h-1.71zM278.26 53.42h1.71v1.81h-1.71zM169.12 55.23h1.71v1.81h-1.71zM235.63 55.23h1.71v1.81h-1.71zM274.85 55.23h1.71v1.81h-1.71zM196.4 58.86h1.71v1.81h-1.71zM245.86 58.86h1.71v1.81h-1.71zM261.21 58.86h1.71v1.81h-1.71zM286.79 58.86h1.71v1.81h-1.71zM181.05 60.67h1.71v1.81h-1.71zM237.33 60.67h1.71v1.81h-1.71zM247.56 60.67h1.71v1.81h-1.71zM276.56 60.67h1.71v1.81h-1.71zM175.94 62.48h1.71v1.81h-1.71zM206.64 62.48h1.71v1.81h-1.71zM230.51 62.48h1.71v1.81h-1.71zM240.74 62.48h1.71v1.81h-1.71zM269.74 62.48h1.71v1.81h-1.71zM216.87 64.3h1.71v1.81h-1.71zM247.56 64.3h1.71v1.81h-1.71zM269.74 64.3h1.71v1.81h-1.71zM196.4 66.11h1.71v1.81h-1.71zM225.39 66.11h1.71v1.81h-1.71zM266.32 66.11h1.71v1.81h-1.71zM283.38 66.11h1.71v1.81h-1.71zM227.1 67.92h1.71v1.81h-1.71zM269.74 67.92h1.71v1.81h-1.71zM169.12 69.74h1.71v1.81h-1.71zM187.88 69.74h1.71v1.81h-1.71zM201.52 69.74h1.71v1.81h-1.71zM233.92 69.74h1.71v1.81h-1.71zM179.35 71.55h1.71v1.81h-1.71zM182.76 71.55h1.71v1.81h-1.71zM269.74 71.55h1.71v1.81h-1.71zM194.7 73.36h1.71v1.81h-1.71zM203.22 73.36h1.71v1.81h-1.71zM254.39 73.36h1.71v1.81h-1.71zM285.08 73.36h1.71v1.81h-1.71zM262.91 75.18h1.71v1.81h-1.71zM269.74 75.18h1.71v1.81h-1.71zM172.53 76.99h1.71v1.81h-1.71zM179.35 76.99h1.71v1.81h-1.71zM220.28 76.99h1.71v1.81h-1.71zM221.98 76.99h1.71v1.81h-1.71zM164 78.81h1.71v1.81h-1.71zM218.57 78.81h1.71v1.81h-1.71zM223.69 80.62h1.71v1.81h-1.71zM228.81 80.62h1.71v1.81h-1.71zM286.79 80.62h1.71v1.81h-1.71zM182.76 84.25h1.71v1.81h-1.71zM285.08 84.25h1.71v1.81h-1.71zM235.63 86.06h1.71v1.81h-1.71zM249.27 86.06h1.71v1.81h-1.71zM256.09 86.06h1.71v1.81h-1.71zM288.49 86.06h1.71v1.81h-1.71zM257.8 87.87h1.71v1.81h-1.71zM174.23 89.69h1.71v1.81h-1.71zM181.05 89.69h1.71v1.81h-1.71zM266.32 89.69h1.71v1.81h-1.71zM147.63 95.4h1.71v1.85h-1.71zM29.6 97.25h1.71v1.85h-1.71zM41.57 97.25h1.71v1.85h-1.71zM65.52 97.25h1.71v1.85h-1.71zM79.21 97.25h1.71v1.85h-1.71zM29.6 99.11h1.71v1.85h-1.71zM36.44 99.11h1.71v1.85h-1.71zM44.99 99.11h1.71v1.85h-1.71zM51.84 99.11h1.71v1.85h-1.71zM58.68 99.11h1.71v1.85h-1.71zM33.02 100.96h1.71v1.85h-1.71zM92.89 100.96h1.71v1.85h-1.71zM96.31 100.96h1.71v1.85h-1.71zM103.15 100.96h1.71v1.85h-1.71zM121.97 100.96h1.71v1.85h-1.71zM127.1 100.96h1.71v1.85h-1.71zM77.49 102.82h1.71v1.85h-1.71zM82.63 102.82h1.71v1.85h-1.71zM109.99 102.82h1.71v1.85h-1.71zM115.13 102.82h1.71v1.85h-1.71zM128.81 102.82h1.71v1.85h-1.71zM34.73 104.67h1.71v1.85h-1.71zM43.28 104.67h1.71v1.85h-1.71zM94.6 104.67h1.71v1.85h-1.71zM137.36 104.67h1.71v1.85h-1.71zM152.76 104.67h1.71v1.85h-1.71zM44.99 106.53h1.71v1.85h-1.71zM48.42 106.53h1.71v1.85h-1.71zM53.55 106.53h1.71v1.85h-1.71zM60.39 106.53h1.71v1.85h-1.71zM132.23 106.53h1.71v1.85h-1.71zM36.44 108.38h1.71v1.85h-1.71zM39.86 108.38h1.71v1.85h-1.71zM50.13 108.38h1.71v1.85h-1.71zM94.6 108.38h1.71v1.85h-1.71zM103.15 108.38h1.71v1.85h-1.71zM113.42 108.38h1.71v1.85h-1.71zM152.76 108.38h1.71v1.85h-1.71zM116.84 110.24h1.71v1.85h-1.71zM29.6 112.09h1.71v1.85h-1.71zM46.71 112.09h1.71v1.85h-1.71zM63.81 112.09h1.71v1.85h-1.71zM121.97 112.09h1.71v1.85h-1.71zM127.1 112.09h1.71v1.85h-1.71zM48.42 113.95h1.71v1.85h-1.71zM56.97 113.95h1.71v1.85h-1.71zM80.92 113.95h1.71v1.85h-1.71zM118.55 113.95h1.71v1.85h-1.71zM250.98 102.82h1.71v1.85h-1.71zM279.97 102.82h1.71v1.85h-1.71zM196.4 104.67h1.71v1.85h-1.71zM199.81 104.67h1.71v1.85h-1.71zM232.22 106.53h1.71v1.85h-1.71zM235.63 108.38h1.71v1.85h-1.71zM223.69 110.24h1.71v1.85h-1.71zM204.93 112.09h1.71v1.85h-1.71zM167.41 113.95h1.71v1.85h-1.71zM106.57 130.85h1.71v1.65h-1.71zM262.91 130.85h1.71v1.65h-1.71zM67.23 136.5h1.71v1.81h-1.71zM65.52 141.94h1.71v1.81h-1.71zM108.28 143.76h1.71v1.81h-1.71zM111.71 145.57h1.71v1.81h-1.71zM29.6 147.39h1.71v1.81h-1.71zM108.28 147.39h1.71v1.81h-1.71zM198.11 136.5h1.71v1.81h-1.71zM256.09 136.5h1.71v1.81h-1.71zM184.46 138.31h1.71v1.81h-1.71zM203.22 138.31h1.71v1.81h-1.71zM210.05 138.31h1.71v1.81h-1.71zM215.16 138.31h1.71v1.81h-1.71zM218.57 138.31h1.71v1.81h-1.71zM247.56 138.31h1.71v1.81h-1.71zM192.99 140.13h1.71v1.81h-1.71zM220.28 140.13h1.71v1.81h-1.71zM235.63 140.13h1.71v1.81h-1.71zM249.27 140.13h1.71v1.81h-1.71zM279.97 140.13h1.71v1.81h-1.71zM285.08 140.13h1.71v1.81h-1.71zM288.49 140.13h1.71v1.81h-1.71zM186.17 141.94h1.71v1.81h-1.71zM208.34 141.94h1.71v1.81h-1.71zM221.98 141.94h1.71v1.81h-1.71zM230.51 141.94h1.71v1.81h-1.71zM233.92 141.94h1.71v1.81h-1.71zM283.38 141.94h1.71v1.81h-1.71zM196.4 145.57h1.71v1.81h-1.71zM245.86 145.57h1.71v1.81h-1.71zM218.57 147.39h1.71v1.81h-1.71zM225.39 147.39h1.71v1.81h-1.71zM276.56 147.39h1.71v1.81h-1.71z"/>
<path fill="#142828" d="M172.53 16.8h1.71v1.9h-1.71zM175.94 16.8h1.71v1.9h-1.71zM237.33 20.6h1.71v1.9h-1.71zM92.89 28.03h1.71v1.81h-1.71zM103.15 28.03h1.71v1.81h-1.71zM104.86 28.03h1.71v1.81h-1.71zM121.97 28.03h1.71v1.81h-1.71zM135.65 28.03h1.71v1.81h-1.71zM118.55 29.84h1.71v1.81h-1.71zM132.23 29.84h1.71v1.81h-1.71zM152.76 29.84h1.71v1.81h-1.71zM156.18 29.84h1.71v1.81h-1.71zM101.44 31.65h1.71v1.81h-1.71zM103.15 31.65h1.71v1.81h-1.71zM108.28 31.65h1.71v1.81h-1.71zM144.21 31.65h1.71v1.81h-1.71zM125.39 33.47h1.71v1.81h-1.71zM154.47 33.47h1.71v1.81h-1.71zM92.89 35.28h1.71v1.81h-1.71zM103.15 35.28h1.71v1.81h-1.71zM115.13 35.28h1.71v1.81h-1.71zM142.49 38.91h1.71v1.81h-1.71zM94.6 40.72h1.71v1.81h-1.71zM99.73 40.72h1.71v1.81h-1.71zM113.42 40.72h1.71v1.81h-1.71zM106.57 42.54h1.71v1.81h-1.71zM116.84 42.54h1.71v1.81h-1.71zM140.78 42.54h1.71v1.81h-1.71zM104.86 44.35h1.71v1.81h-1.71zM149.34 44.35h1.71v1.81h-1.71zM152.76 44.35h1.71v1.81h-1.71zM157.89 44.35h1.71v1.81h-1.71zM118.55 46.16h1.71v1.81h-1.71zM120.26 46.16h1.71v1.81h-1.71zM99.73 47.98h1.71v1.81h-1.71zM94.6 49.79h1.71v1.81h-1.71zM113.42 49.79h1.71v1.81h-1.71zM140.78 49.79h1.71v1.81h-1.71zM118.55 51.6h1.71v1.81h-1.71zM133.94 51.6h1.71v1.81h-1.71zM82.63 53.42h1.71v1.81h-1.71zM115.13 53.42h1.71v1.81h-1.71zM151.05 53.42h1.71v1.81h-1.71zM98.02 55.23h1.71v1.81h-1.71zM104.86 55.23h1.71v1.81h-1.71zM108.28 55.23h1.71v1.81h-1.71zM111.71 55.23h1.71v1.81h-1.71zM128.81 55.23h1.71v1.81h-1.71zM151.05 55.23h1.71v1.81h-1.71zM156.18 55.23h1.71v1.81h-1.71zM125.39 57.04h1.71v1.81h-1.71zM133.94 57.04h1.71v1.81h-1.71zM157.89 57.04h1.71v1.81h-1.71zM130.52 58.86h1.71v1.81h-1.71zM132.23 58.86h1.71v1.81h-1.71zM152.76 58.86h1.71v1.81h-1.71zM156.18 58.86h1.71v1.81h-1.71zM111.71 60.67h1.71v1.81h-1.71zM130.52 60.67h1.71v1.81h-1.71zM140.78 60.67h1.71v1.81h-1.71zM149.34 60.67h1.71v1.81h-1.71zM137.36 62.48h1.71v1.81h-1.71zM156.18 62.48h1.71v1.81h-1.71zM109.99 64.3h1.71v1.81h-1.71zM111.71 64.3h1.71v1.81h-1.71zM125.39 64.3h1.71v1.81h-1.71zM147.63 64.3h1.71v1.81h-1.71zM151.05 64.3h1.71v1.81h-1.71zM154.47 64.3h1.71v1.81h-1.71zM111.71 66.11h1.71v1.81h-1.71zM103.15 67.92h1.71v1.81h-1.71zM121.97 67.92h1.71v1.81h-1.71zM135.65 67.92h1.71v1.81h-1.71zM108.28 69.74h1.71v1.81h-1.71zM94.6 71.55h1.71v1.81h-1.71zM121.97 71.55h1.71v1.81h-1.71zM142.49 71.55h1.71v1.81h-1.71zM151.05 71.55h1.71v1.81h-1.71zM113.42 73.36h1.71v1.81h-1.71zM125.39 73.36h1.71v1.81h-1.71zM106.57 75.18h1.71v1.81h-1.71zM154.47 75.18h1.71v1.81h-1.71zM121.97 76.99h1.71v1.81h-1.71zM128.81 78.81h1.71v1.81h-1.71zM132.23 78.81h1.71v1.81h-1.71zM133.94 78.81h1.71v1.81h-1.71zM137.36 78.81h1.71v1.81h-1.71zM116.84 80.62h1.71v1.81h-1.71zM135.65 80.62h1.71v1.81h-1.71zM154.47 80.62h1.71v1.81h-1.71zM104.86 82.43h1.71v1.81h-1.71zM109.99 82.43h1.71v1.81h-1.71zM111.71 84.25h1.71v1.81h-1.71zM118.55 84.25h1.71v1.81h-1.71zM125.39 84.25h1.71v1.81h-1.71zM128.81 84.25h1.71v1.81h-1.71zM139.07 84.25h1.71v1.81h-1.71zM154.47 84.25h1.71v1.81h-1.71zM91.18 86.06h1.71v1.81h-1.71zM96.31 86.06h1.71v1.81h-1.71zM139.07 86.06h1.71v1.81h-1.71zM147.63 86.06h1.71v1.81h-1.71zM121.97 87.87h1.71v1.81h-1.71zM108.28 89.69h1.71v1.81h-1.71zM120.26 89.69h1.71v1.81h-1.71zM170.82 24.4h1.71v1.81h-1.71zM182.76 24.4h1.71v1.81h-1.71zM186.17 24.4h1.71v1.81h-1.71zM191.29 24.4h1.71v1.81h-1.71zM208.34 24.4h1.71v1.81h-1.71zM211.75 24.4h1.71v1.81h-1.71zM216.87 24.4h1.71v1.81h-1.71zM223.69 24.4h1.71v1.81h-1.71zM227.1 24.4h1.71v1.81h-1.71zM237.33 24.4h1.71v1.81h-1.71zM262.91 24.4h1.71v1.81h-1.71zM264.62 24.4h1.71v1.81h-1.71zM273.15 24.4h1.71v1.81h-1.71zM278.26 24.4h1.71v1.81h-1.71zM283.38 24.4h1.71v1.81h-1.71zM182.76 26.21h1.71v1.81h-1.71zM206.64 26.21h1.71v1.81h-1.71zM211.75 26.21h1.71v1.81h-1.71zM213.46 26.21h1.71v1.81h-1.71zM220.28 26.21h1.71v1.81h-1.71zM223.69 26.21h1.71v1.81h-1.71zM237.33 26.21h1.71v1.81h-1.71zM245.86 26.21h1.71v1.81h-1.71zM274.85 26.21h1.71v1.81h-1.71zM278.26 26.21h1.71v1.81h-1.71zM283.38 26.21h1.71v1.81h-1.71zM240.74 28.03h1.71v1.81h-1.71zM252.68 28.03h1.71v1.81h-1.71zM177.64 29.84h1.71v1.81h-1.71zM186.17 29.84h1.71v1.81h-1.71zM189.58 29.84h1.71v1.81h-1.71zM194.7 29.84h1.71v1.81h-1.71zM213.46 29.84h1.71v1.81h-1.71zM215.16 29.84h1.71v1.81h-1.71zM230.51 29.84h1.71v1.81h-1.71zM250.98 29.84h1.71v1.81h-1.71zM281.67 29.84h1.71v1.81h-1.71zM286.79 29.84h1.71v1.81h-1.71zM186.17 31.65h1.71v1.81h-1.71zM228.81 31.65h1.71v1.81h-1.71zM252.68 31.65h1.71v1.81h-1.71zM174.23 33.47h1.71v1.81h-1.71zM213.46 33.47h1.71v1.81h-1.71zM216.87 33.47h1.71v1.81h-1.71zM269.74 33.47h1.71v1.81h-1.71zM278.26 33.47h1.71v1.81h-1.71zM281.67 33.47h1.71v1.81h-1.71zM206.64 35.28h1.71v1.81h-1.71zM232.22 35.28h1.71v1.81h-1.71zM242.45 35.28h1.71v1.81h-1.71zM249.27 35.28h1.71v1.81h-1.71zM262.91 35.28h1.71v1.81h-1.71zM285.08 35.28h1.71v1.81h-1.71zM170.82 37.09h1.71v1.81h-1.71zM208.34 37.09h1.71v1.81h-1.71zM278.26 37.09h1.71v1.81h-1.71zM208.34 38.91h1.71v1.81h-1.71zM232.22 38.91h1.71v1.81h-1.71zM235.63 38.91h1.71v1.81h-1.71zM259.5 38.91h1.71v1.81h-1.71zM264.62 38.91h1.71v1.81h-1.71zM268.03 38.91h1.71v1.81h-1.71zM283.38 38.91h1.71v1.81h-1.71zM170.82 40.72h1.71v1.81h-1.71zM199.81 40.72h1.71v1.81h-1.71zM215.16 40.72h1.71v1.81h-1.71zM230.51 40.72h1.71v1.81h-1.71zM257.8 40.72h1.71v1.81h-1.71zM266.32 40.72h1.71v1.81h-1.71zM283.38 40.72h1.71v1.81h-1.71zM192.99 42.54h1.71v1.81h-1.71zM216.87 42.54h1.71v1.81h-1.71zM232.22 42.54h1.71v1.81h-1.71zM233.92 42.54h1.71v1.81h-1.71zM257.8 42.54h1.71v1.81h-1.71zM199.81 44.35h1.71v1.81h-1.71zM228.81 44.35h1.71v1.81h-1.71zM247.56 46.16h1.71v1.81h-1.71zM262.91 46.16h1.71v1.81h-1.71zM192.99 47.98h1.71v1.81h-1.71zM204.93 47.98h1.71v1.81h-1.71zM213.46 47.98h1.71v1.81h-1.71zM264.62 47.98h1.71v1.81h-1.71zM266.32 47.98h1.71v1.81h-1.71zM273.15 47.98h1.71v1.81h-1.71zM281.67 47.98h1.71v1.81h-1.71zM286.79 47.98h1.71v1.81h-1.71zM174.23 49.79h1.71v1.81h-1.71zM213.46 49.79h1.71v1.81h-1.71zM215.16 49.79h1.71v1.81h-1.71zM240.74 49.79h1.71v1.81h-1.71zM247.56 49.79h1.71v1.81h-1.71zM256.09 49.79h1.71v1.81h-1.71zM257.8 49.79h1.71v1.81h-1.71zM276.56 49.79h1.71v1.81h-1.71zM181.05 51.6h1.71v1.81h-1.71zM216.87 51.6h1.71v1.81h-1.71zM247.56 51.6h1.71v1.81h-1.71zM252.68 51.6h1.71v1.81h-1.71zM268.03 51.6h1.71v1.81h-1.71zM285.08 51.6h1.71v1.81h-1.71zM177.64 53.42h1.71v1.81h-1.71zM189.58 53.42h1.71v1.81h-1.71zM247.56 53.42h1.71v1.81h-1.71zM249.27 53.42h1.71v1.81h-1.71zM257.8 53.42h1.71v1.81h-1.71zM259.5 53.42h1.71v1.81h-1.71zM261.21 53.42h1.71v1.81h-1.71zM269.74 53.42h1.71v1.81h-1.71zM186.17 55.23h1.71v1.81h-1.71zM198.11 55.23h1.71v1.81h-1.71zM201.52 55.23h1.71v1.81h-1.71zM216.87 55.23h1.71v1.81h-1.71zM233.92 55.23h1.71v1.81h-1.71zM249.27 55.23h1.71v1.81h-1.71zM181.05 57.04h1.71v1.81h-1.71zM194.7 57.04h1.71v1.81h-1.71zM198.11 57.04h1.71v1.81h-1.71zM204.93 57.04h1.71v1.81h-1.71zM221.98 57.04h1.71v1.81h-1.71zM266.32 57.04h1.71v1.81h-1.71zM274.85 57.04h1.71v1.81h-1.71zM276.56 57.04h1.71v1.81h-1.71zM172.53 58.86h1.71v1.81h-1.71zM177.64 58.86h1.71v1.81h-1.71zM228.81 58.86h1.71v1.81h-1.71zM268.03 58.86h1.71v1.81h-1.71zM274.85 58.86h1.71v1.81h-1.71zM279.97 58.86h1.71v1.81h-1.71zM187.88 60.67h1.71v1.81h-1.71zM218.57 60.67h1.71v1.81h-1.71zM239.04 60.67h1.71v1.81h-1.71zM256.09 60.67h1.71v1.81h-1.71zM218.57 62.48h1.71v1.81h-1.71zM245.86 62.48h1.71v1.81h-1.71zM250.98 62.48h1.71v1.81h-1.71zM257.8 64.3h1.71v1.81h-1.71zM192.99 66.11h1.71v1.81h-1.71zM227.1 66.11h1.71v1.81h-1.71zM276.56 66.11h1.71v1.81h-1.71zM285.08 66.11h1.71v1.81h-1.71zM194.7 67.92h1.71v1.81h-1.71zM210.05 67.92h1.71v1.81h-1.71zM215.16 67.92h1.71v1.81h-1.71zM216.87 67.92h1.71v1.81h-1.71zM274.85 67.92h1.71v1.81h-1.71zM182.76 69.74h1.71v1.81h-1.71zM257.8 69.74h1.71v1.81h-1.71zM264.62 69.74h1.71v1.81h-1.71zM266.32 69.74h1.71v1.81h-1.71zM276.56 69.74h1.71v1.81h-1.71zM262.91 71.55h1.71v1.81h-1.71zM268.03 71.55h1.71v1.81h-1.71zM283.38 71.55h1.71v1.81h-1.71zM210.05 73.36h1.71v1.81h-1.71zM220.28 73.36h1.71v1.81h-1.71zM235.63 73.36h1.71v1.81h-1.71zM242.45 73.36h1.71v1.81h-1.71zM167.41 75.18h1.71v1.81h-1.71zM182.76 75.18h1.71v1.81h-1.71zM194.7 75.18h1.71v1.81h-1.71zM196.4 75.18h1.71v1.81h-1.71zM215.16 75.18h1.71v1.81h-1.71zM228.81 75.18h1.71v1.81h-1.71zM244.15 75.18h1.71v1.81h-1.71zM247.56 75.18h1.71v1.81h-1.71zM261.21 75.18h1.71v1.81h-1.71zM268.03 75.18h1.71v1.81h-1.71zM278.26 75.18h1.71v1.81h-1.71zM198.11 76.99h1.71v1.81h-1.71zM203.22 76.99h1.71v1.81h-1.71zM245.86 76.99h1.71v1.81h-1.71zM199.81 78.81h1.71v1.81h-1.71zM201.52 78.81h1.71v1.81h-1.71zM223.69 78.81h1.71v1.81h-1.71zM245.86 78.81h1.71v1.81h-1.71zM273.15 78.81h1.71v1.81h-1.71zM274.85 78.81h1.71v1.81h-1.71zM278.26 78.81h1.71v1.81h-1.71zM167.41 80.62h1.71v1.81h-1.71zM187.88 80.62h1.71v1.81h-1.71zM210.05 80.62h1.71v1.81h-1.71zM220.28 80.62h1.71v1.81h-1.71zM233.92 80.62h1.71v1.81h-1.71zM237.33 80.62h1.71v1.81h-1.71zM239.04 80.62h1.71v1.81h-1.71zM242.45 80.62h1.71v1.81h-1.71zM273.15 80.62h1.71v1.81h-1.71zM169.12 82.43h1.71v1.81h-1.71zM189.58 82.43h1.71v1.81h-1.71zM228.81 82.43h1.71v1.81h-1.71zM232.22 82.43h1.71v1.81h-1.71zM279.97 82.43h1.71v1.81h-1.71zM198.11 84.25h1.71v1.81h-1.71zM218.57 84.25h1.71v1.81h-1.71zM233.92 84.25h1.71v1.81h-1.71zM254.39 84.25h1.71v1.81h-1.71zM273.15 84.25h1.71v1.81h-1.71zM274.85 84.25h1.71v1.81h-1.71zM278.26 84.25h1.71v1.81h-1.71zM181.05 86.06h1.71v1.81h-1.71zM228.81 86.06h1.71v1.81h-1.71zM259.5 86.06h1.71v1.81h-1.71zM174.23 87.87h1.71v1.81h-1.71zM182.76 87.87h1.71v1.81h-1.71zM196.4 87.87h1.71v1.81h-1.71zM244.15 87.87h1.71v1.81h-1.71zM256.09 87.87h1.71v1.81h-1.71zM172.53 89.69h1.71v1.81h-1.71zM228.81 89.69h1.71v1.81h-1.71zM271.44 89.69h1.71v1.81h-1.71zM58.68 95.4h1.71v1.85h-1.71zM72.36 95.4h1.71v1.85h-1.71zM99.73 95.4h1.71v1.85h-1.71zM106.57 95.4h1.71v1.85h-1.71zM103.15 97.25h1.71v1.85h-1.71zM108.28 97.25h1.71v1.85h-1.71zM157.89 97.25h1.71v1.85h-1.71zM41.57 99.11h1.71v1.85h-1.71zM48.42 99.11h1.71v1.85h-1.71zM67.23 99.11h1.71v1.85h-1.71zM87.76 99.11h1.71v1.85h-1.71zM55.26 102.82h1.71v1.85h-1.71zM63.81 102.82h1.71v1.85h-1.71zM67.23 102.82h1.71v1.85h-1.71zM68.94 102.82h1.71v1.85h-1.71zM75.78 102.82h1.71v1.85h-1.71zM80.92 102.82h1.71v1.85h-1.71zM123.68 102.82h1.71v1.85h-1.71zM132.23 102.82h1.71v1.85h-1.71zM72.36 104.67h1.71v1.85h-1.71zM151.05 104.67h1.71v1.85h-1.71zM72.36 106.53h1.71v1.85h-1.71zM87.76 106.53h1.71v1.85h-1.71zM115.13 106.53h1.71v1.85h-1.71zM127.1 106.53h1.71v1.85h-1.71zM128.81 106.53h1.71v1.85h-1.71zM51.84 108.38h1.71v1.85h-1.71zM154.47 108.38h1.71v1.85h-1.71zM38.15 110.24h1.71v1.85h-1.71zM98.02 110.24h1.71v1.85h-1.71zM101.44 110.24h1.71v1.85h-1.71zM103.15 110.24h1.71v1.85h-1.71zM156.18 110.24h1.71v1.85h-1.71zM84.34 112.09h1.71v1.85h-1.71zM113.42 112.09h1.71v1.85h-1.71zM140.78 112.09h1.71v1.85h-1.71zM36.44 113.95h1.71v1.85h-1.71zM38.15 113.95h1.71v1.85h-1.71zM271.44 100.96h1.71v1.85h-1.71zM33.02 129.2h1.71v1.65h-1.71zM55.26 129.2h1.71v1.65h-1.71zM68.94 129.2h1.71v1.65h-1.71zM80.92 129.2h1.71v1.65h-1.71zM82.63 129.2h1.71v1.65h-1.71zM87.76 129.2h1.71v1.65h-1.71zM94.6 129.2h1.71v1.65h-1.71zM98.02 129.2h1.71v1.65h-1.71zM108.28 129.2h1.71v1.65h-1.71zM142.49 129.2h1.71v1.65h-1.71zM39.86 130.85h1.71v1.65h-1.71zM48.42 130.85h1.71v1.65h-1.71zM79.21 130.85h1.71v1.65h-1.71zM98.02 130.85h1.71v1.65h-1.71zM101.44 130.85h1.71v1.65h-1.71zM115.13 130.85h1.71v1.65h-1.71zM167.41 129.2h1.71v1.65h-1.71zM175.94 129.2h1.71v1.65h-1.71zM179.35 129.2h1.71v1.65h-1.71zM199.81 129.2h1.71v1.65h-1.71zM230.51 129.2h1.71v1.65h-1.71zM249.27 129.2h1.71v1.65h-1.71zM250.98 129.2h1.71v1.65h-1.71zM276.56 129.2h1.71v1.65h-1.71zM283.38 129.2h1.71v1.65h-1.71zM198.11 130.85h1.71v1.65h-1.71zM242.45 130.85h1.71v1.65h-1.71zM266.32 130.85h1.71v1.65h-1.71zM269.74 130.85h1.71v1.65h-1.71zM51.84 136.5h1.71v1.81h-1.71zM127.1 136.5h1.71v1.81h-1.71zM31.31 138.31h1.71v1.81h-1.71zM60.39 138.31h1.71v1.81h-1.71zM116.84 138.31h1.71v1.81h-1.71zM125.39 138.31h1.71v1.81h-1.71zM50.13 140.13h1.71v1.81h-1.71zM120.26 140.13h1.71v1.81h-1.71zM127.1 140.13h1.71v1.81h-1.71zM33.02 141.94h1.71v1.81h-1.71zM44.99 141.94h1.71v1.81h-1.71zM115.13 141.94h1.71v1.81h-1.71zM147.63 143.76h1.71v1.81h-1.71zM121.97 145.57h1.71v1.81h-1.71zM31.31 147.39h1.71v1.81h-1.71zM36.44 147.39h1.71v1.81h-1.71zM149.34 147.39h1.71v1.81h-1.71zM221.98 136.5h1.71v1.81h-1.71zM242.45 136.5h1.71v1.81h-1.71zM244.15 136.5h1.71v1.81h-1.71zM250.98 136.5h1.71v1.81h-1.71zM271.44 136.5h1.71v1.81h-1.71zM273.15 136.5h1.71v1.81h-1.71zM276.56 136.5h1.71v1.81h-1.71zM279.97 136.5h1.71v1.81h-1.71zM281.67 136.5h1.71v1.81h-1.71zM181.05 138.31h1.71v1.81h-1.71zM227.1 138.31h1.71v1.81h-1.71zM232.22 138.31h1.71v1.81h-1.71zM245.86 138.31h1.71v1.81h-1.71zM274.85 138.31h1.71v1.81h-1.71zM165.71 140.13h1.71v1.81h-1.71zM218.57 140.13h1.71v1.81h-1.71zM233.92 140.13h1.71v1.81h-1.71zM274.85 140.13h1.71v1.81h-1.71zM184.46 141.94h1.71v1.81h-1.71zM196.4 141.94h1.71v1.81h-1.71zM239.04 141.94h1.71v1.81h-1.71zM242.45 141.94h1.71v1.81h-1.71zM172.53 143.76h1.71v1.81h-1.71zM175.94 143.76h1.71v1.81h-1.71zM230.51 143.76h1.71v1.81h-1.71zM244.15 143.76h1.71v1.81h-1.71zM170.82 145.57h1.71v1.81h-1.71zM204.93 145.57h1.71v1.81h-1.71zM239.04 145.57h1.71v1.81h-1.71zM262.91 145.57h1.71v1.81h-1.71zM232.22 147.39h1.71v1.81h-1.71zM245.86 147.39h1.71v1.81h-1.71zM269.74 147.39h1.71v1.81h-1.71z"/>
<path fill="#b4b43c" d="M179.35 16.8h1.71v1.9h-1.71zM194.7 16.8h1.71v1.9h-1.71zM233.92 16.8h1.71v1.9h-1.71zM288.49 16.8h1.71v1.9h-1.71zM210.05 18.7h1.71v1.9h-1.71zM218.57 18.7h1.71v1.9h-1.71zM235.63 18.7h1.71v1.9h-1.71zM247.56 18.7h1.71v1.9h-1.71zM271.44 18.7h1.71v1.9h-1.71zM247.56 20.6h1.71v1.9h-1.71zM261.21 20.6h1.71v1.9h-1.71zM279.97 20.6h1.71v1.9h-1.71zM268.03 22.5h1.71v1.9h-1.71zM128.81 28.03h1.71v1.81h-1.71zM87.76 33.47h1.71v1.81h-1.71zM111.71 33.47h1.71v1.81h-1.71zM145.92 35.28h1.71v1.81h-1.71zM96.31 37.09h1.71v1.81h-1.71zM157.89 38.91h1.71v1.81h-1.71zM133.94 44.35h1.71v1.81h-1.71zM144.21 46.16h1.71v1.81h-1.71zM151.05 47.98h1.71v1.81h-1.71zM145.92 53.42h1.71v1.81h-1.71zM139.07 57.04h1.71v1.81h-1.71zM111.71 58.86h1.71v1.81h-1.71zM139.07 67.92h1.71v1.81h-1.71zM156.18 69.74h1.71v1.81h-1.71zM154.47 76.99h1.71v1.81h-1.71zM98.02 84.25h1.71v1.81h-1.71zM144.21 86.06h1.71v1.81h-1.71zM164 24.4h1.71v1.81h-1.71zM165.71 24.4h1.71v1.81h-1.71zM172.53 24.4h1.71v1.81h-1.71zM218.57 24.4h1.71v1.81h-1.71zM221.98 24.4h1.71v1.81h-1.71zM225.39 24.4h1.71v1.81h-1.71zM247.56 24.4h1.71v1.81h-1.71zM256.09 24.4h1.71v1.81h-1.71zM257.8 24.4h1.71v1.81h-1.71zM259.5 24.4h1.71v1.81h-1.71zM271.44 24.4h1.71v1.81h-1.71zM276.56 24.4h1.71v1.81h-1.71zM172.53 26.21h1.71v1.81h-1.71zM184.46 26.21h1.71v1.81h-1.71zM192.99 26.21h1.71v1.81h-1.71zM201.52 26.21h1.71v1.81h-1.71zM203.22 26.21h1.71v1.81h-1.71zM218.57 26.21h1.71v1.81h-1.71zM225.39 26.21h1.71v1.81h-1.71zM233.92 26.21h1.71v1.81h-1.71zM235.63 26.21h1.71v1.81h-1.71zM239.04 26.21h1.71v1.81h-1.71zM256.09 26.21h1.71v1.81h-1.71zM268.03 26.21h1.71v1.81h-1.71zM276.56 26.21h1.71v1.81h-1.71zM281.67 26.21h1.71v1.81h-1.71zM170.82 29.84h1.71v1.81h-1.71zM198.11 29.84h1.71v1.81h-1.71zM233.92 31.65h1.71v1.81h-1.71zM286.79 33.47h1.71v1.81h-1.71zM218.57 35.28h1.71v1.81h-1.71zM220.28 37.09h1.71v1.81h-1.71zM233.92 37.09h1.71v1.81h-1.71zM228.81 38.91h1.71v1.81h-1.71zM278.26 38.91h1.71v1.81h-1.71zM169.12 40.72h1.71v1.81h-1.71zM216.87 40.72h1.71v1.81h-1.71zM187.88 42.54h1.71v1.81h-1.71zM264.62 42.54h1.71v1.81h-1.71zM225.39 44.35h1.71v1.81h-1.71zM256.09 44.35h1.71v1.81h-1.71zM240.74 64.3h1.71v1.81h-1.71zM228.81 67.92h1.71v1.81h-1.71zM262.91 69.74h1.71v1.81h-1.71zM213.46 71.55h1.71v1.81h-1.71zM235.63 71.55h1.71v1.81h-1.71zM279.97 73.36h1.71v1.81h-1.71zM177.64 80.62h1.71v1.81h-1.71zM259.5 80.62h1.71v1.81h-1.71zM175.94 84.25h1.71v1.81h-1.71zM281.67 87.87h1.71v1.81h-1.71zM92.89 99.11h1.71v1.85h-1.71zM99.73 99.11h1.71v1.85h-1.71zM101.44 99.11h1.71v1.85h-1.71zM130.52 99.11h1.71v1.85h-1.71zM152.76 100.96h1.71v1.85h-1.71zM29.6 104.67h1.71v1.85h-1.71zM65.52 108.38h1.71v1.85h-1.71zM80.92 108.38h1.71v1.85h-1.71zM51.84 110.24h1.71v1.85h-1.71zM77.49 113.95h1.71v1.85h-1.71zM232.22 100.96h1.71v1.85h-1.71zM235.63 102.82h1.71v1.85h-1.71zM254.39 108.38h1.71v1.85h-1.71zM208.34 112.09h1.71v1.85h-1.71zM108.28 130.85h1.71v1.65h-1.71zM145.92 138.31h1.71v1.81h-1.71zM142.49 140.13h1.71v1.81h-1.71zM216.87 136.5h1.71v1.81h-1.71zM230.51 138.31h1.71v1.81h-1.71zM216.87 140.13h1.71v1.81h-1.71zM245.86 140.13h1.71v1.81h-1.71zM281.67 145.57h1.71v1.81h-1.71z"/>
<path fill="#001414" d="M186.17 16.8h1.71v1.9h-1.71zM196.4 20.6h1.71v1.9h-1.71zM244.15 20.6h1.71v1.9h-1.71zM169.12 22.5h1.71v1.9h-1.71zM220.28 22.5h1.71v1.9h-1.71zM151.05 28.03h1.71v1.81h-1.71zM109.99 29.84h1.71v1.81h-1.71zM127.1 29.84h1.71v1.81h-1.71zM135.65 29.84h1.71v1.81h-1.71zM82.63 31.65h1.71v1.81h-1.71zM116.84 31.65h1.71v1.81h-1.71zM135.65 31.65h1.71v1.81h-1.71zM55.26 33.47h1.71v1.81h-1.71zM139.07 35.28h1.71v1.81h-1.71zM36.44 37.09h1.71v1.81h-1.71zM113.42 37.09h1.71v1.81h-1.71zM120.26 37.09h1.71v1.81h-1.71zM154.47 37.09h1.71v1.81h-1.71zM31.31 38.91h1.71v1.81h-1.71zM108.28 38.91h1.71v1.81h-1.71zM125.39 38.91h1.71v1.81h-1.71zM140.78 38.91h1.71v1.81h-1.71zM79.21 40.72h1.71v1.81h-1.71zM96.31 40.72h1.71v1.81h-1.71zM53.55 42.54h1.71v1.81h-1.71zM86.05 42.54h1.71v1.81h-1.71zM111.71 42.54h1.71v1.81h-1.71zM132.23 42.54h1.71v1.81h-1.71zM144.21 42.54h1.71v1.81h-1.71zM53.55 44.35h1.71v1.81h-1.71zM115.13 44.35h1.71v1.81h-1.71zM127.1 44.35h1.71v1.81h-1.71zM43.28 46.16h1.71v1.81h-1.71zM75.78 46.16h1.71v1.81h-1.71zM99.73 46.16h1.71v1.81h-1.71zM130.52 46.16h1.71v1.81h-1.71zM145.92 46.16h1.71v1.81h-1.71zM51.84 47.98h1.71v1.81h-1.71zM123.68 47.98h1.71v1.81h-1.71zM127.1 47.98h1.71v1.81h-1.71zM53.55 49.79h1.71v1.81h-1.71zM118.55 49.79h1.71v1.81h-1.71zM123.68 49.79h1.71v1.81h-1.71zM142.49 49.79h1.71v1.81h-1.71zM60.39 51.6h1.71v1.81h-1.71zM86.05 51.6h1.71v1.81h-1.71zM109.99 51.6h1.71v1.81h-1.71zM140.78 51.6h1.71v1.81h-1.71zM130.52 53.42h1.71v1.81h-1.71zM63.81 55.23h1.71v1.81h-1.71zM80.92 55.23h1.71v1.81h-1.71zM84.34 55.23h1.71v1.81h-1.71zM127.1 55.23h1.71v1.81h-1.71zM140.78 55.23h1.71v1.81h-1.71zM142.49 55.23h1.71v1.81h-1.71zM53.55 57.04h1.71v1.81h-1.71zM74.07 57.04h1.71v1.81h-1.71zM116.84 57.04h1.71v1.81h-1.71zM29.6 58.86h1.71v1.81h-1.71zM82.63 58.86h1.71v1.81h-1.71zM123.68 58.86h1.71v1.81h-1.71zM135.65 58.86h1.71v1.81h-1.71zM142.49 58.86h1.71v1.81h-1.71zM108.28 60.67h1.71v1.81h-1.71zM125.39 60.67h1.71v1.81h-1.71zM31.31 62.48h1.71v1.81h-1.71zM106.57 62.48h1.71v1.81h-1.71zM128.81 62.48h1.71v1.81h-1.71zM96.31 64.3h1.71v1.81h-1.71zM103.15 64.3h1.71v1.81h-1.71zM123.68 64.3h1.71v1.81h-1.71zM127.1 64.3h1.71v1.81h-1.71zM145.92 64.3h1.71v1.81h-1.71zM157.89 64.3h1.71v1.81h-1.71zM65.52 66.11h1.71v1.81h-1.71zM92.89 66.11h1.71v1.81h-1.71zM115.13 66.11h1.71v1.81h-1.71zM39.86 67.92h1.71v1.81h-1.71zM46.71 67.92h1.71v1.81h-1.71zM140.78 67.92h1.71v1.81h-1.71zM38.15 71.55h1.71v1.81h-1.71zM92.89 71.55h1.71v1.81h-1.71zM99.73 71.55h1.71v1.81h-1.71zM137.36 71.55h1.71v1.81h-1.71zM101.44 73.36h1.71v1.81h-1.71zM121.97 73.36h1.71v1.81h-1.71zM75.78 75.18h1.71v1.81h-1.71zM151.05 75.18h1.71v1.81h-1.71zM91.18 76.99h1.71v1.81h-1.71zM101.44 76.99h1.71v1.81h-1.71zM103.15 76.99h1.71v1.81h-1.71zM156.18 76.99h1.71v1.81h-1.71zM77.49 78.81h1.71v1.81h-1.71zM98.02 78.81h1.71v1.81h-1.71zM127.1 78.81h1.71v1.81h-1.71zM135.65 78.81h1.71v1.81h-1.71zM147.63 78.81h1.71v1.81h-1.71zM67.23 80.62h1.71v1.81h-1.71zM80.92 80.62h1.71v1.81h-1.71zM101.44 80.62h1.71v1.81h-1.71zM121.97 80.62h1.71v1.81h-1.71zM130.52 80.62h1.71v1.81h-1.71zM156.18 80.62h1.71v1.81h-1.71zM92.89 82.43h1.71v1.81h-1.71zM111.71 82.43h1.71v1.81h-1.71zM31.31 84.25h1.71v1.81h-1.71zM33.02 84.25h1.71v1.81h-1.71zM72.36 84.25h1.71v1.81h-1.71zM79.21 84.25h1.71v1.81h-1.71zM140.78 84.25h1.71v1.81h-1.71zM157.89 84.25h1.71v1.81h-1.71zM108.28 86.06h1.71v1.81h-1.71zM109.99 86.06h1.71v1.81h-1.71zM127.1 86.06h1.71v1.81h-1.71zM53.55 87.87h1.71v1.81h-1.71zM103.15 87.87h1.71v1.81h-1.71zM135.65 87.87h1.71v1.81h-1.71zM149.34 87.87h1.71v1.81h-1.71zM89.47 89.69h1.71v1.81h-1.71zM204.93 28.03h1.71v1.81h-1.71zM233.92 28.03h1.71v1.81h-1.71zM278.26 28.03h1.71v1.81h-1.71zM249.27 29.84h1.71v1.81h-1.71zM279.97 29.84h1.71v1.81h-1.71zM283.38 29.84h1.71v1.81h-1.71zM216.87 31.65h1.71v1.81h-1.71zM230.51 31.65h1.71v1.81h-1.71zM264.62 31.65h1.71v1.81h-1.71zM269.74 31.65h1.71v1.81h-1.71zM167.41 33.47h1.71v1.81h-1.71zM206.64 33.47h1.71v1.81h-1.71zM208.34 33.47h1.71v1.81h-1.71zM262.91 33.47h1.71v1.81h-1.71zM198.11 35.28h1.71v1.81h-1.71zM254.39 35.28h1.71v1.81h-1.71zM278.26 35.28h1.71v1.81h-1.71zM211.75 37.09h1.71v1.81h-1.71zM182.76 38.91h1.71v1.81h-1.71zM187.88 38.91h1.71v1.81h-1.71zM230.51 38.91h1.71v1.81h-1.71zM167.41 40.72h1.71v1.81h-1.71zM240.74 40.72h1.71v1.81h-1.71zM250.98 40.72h1.71v1.81h-1.71zM194.7 42.54h1.71v1.81h-1.71zM211.75 42.54h1.71v1.81h-1.71zM223.69 42.54h1.71v1.81h-1.71zM239.04 42.54h1.71v1.81h-1.71zM262.91 42.54h1.71v1.81h-1.71zM273.15 42.54h1.71v1.81h-1.71zM187.88 44.35h1.71v1.81h-1.71zM191.29 44.35h1.71v1.81h-1.71zM203.22 44.35h1.71v1.81h-1.71zM285.08 44.35h1.71v1.81h-1.71zM216.87 46.16h1.71v1.81h-1.71zM235.63 46.16h1.71v1.81h-1.71zM245.86 46.16h1.71v1.81h-1.71zM250.98 46.16h1.71v1.81h-1.71zM249.27 47.98h1.71v1.81h-1.71zM169.12 49.79h1.71v1.81h-1.71zM232.22 49.79h1.71v1.81h-1.71zM254.39 49.79h1.71v1.81h-1.71zM165.71 51.6h1.71v1.81h-1.71zM206.64 51.6h1.71v1.81h-1.71zM215.16 51.6h1.71v1.81h-1.71zM225.39 51.6h1.71v1.81h-1.71zM191.29 53.42h1.71v1.81h-1.71zM196.4 53.42h1.71v1.81h-1.71zM252.68 53.42h1.71v1.81h-1.71zM170.82 55.23h1.71v1.81h-1.71zM184.46 55.23h1.71v1.81h-1.71zM196.4 55.23h1.71v1.81h-1.71zM204.93 55.23h1.71v1.81h-1.71zM239.04 55.23h1.71v1.81h-1.71zM252.68 55.23h1.71v1.81h-1.71zM261.21 55.23h1.71v1.81h-1.71zM239.04 57.04h1.71v1.81h-1.71zM242.45 57.04h1.71v1.81h-1.71zM244.15 57.04h1.71v1.81h-1.71zM268.03 57.04h1.71v1.81h-1.71zM235.63 58.86h1.71v1.81h-1.71zM256.09 58.86h1.71v1.81h-1.71zM266.32 58.86h1.71v1.81h-1.71zM189.58 60.67h1.71v1.81h-1.71zM199.81 60.67h1.71v1.81h-1.71zM216.87 60.67h1.71v1.81h-1.71zM235.63 60.67h1.71v1.81h-1.71zM264.62 60.67h1.71v1.81h-1.71zM174.23 62.48h1.71v1.81h-1.71zM177.64 62.48h1.71v1.81h-1.71zM186.17 62.48h1.71v1.81h-1.71zM211.75 62.48h1.71v1.81h-1.71zM244.15 62.48h1.71v1.81h-1.71zM249.27 62.48h1.71v1.81h-1.71zM278.26 62.48h1.71v1.81h-1.71zM186.17 64.3h1.71v1.81h-1.71zM206.64 64.3h1.71v1.81h-1.71zM245.86 64.3h1.71v1.81h-1.71zM286.79 64.3h1.71v1.81h-1.71zM169.12 66.11h1.71v1.81h-1.71zM174.23 66.11h1.71v1.81h-1.71zM187.88 66.11h1.71v1.81h-1.71zM199.81 66.11h1.71v1.81h-1.71zM203.22 66.11h1.71v1.81h-1.71zM262.91 66.11h1.71v1.81h-1.71zM281.67 66.11h1.71v1.81h-1.71zM187.88 67.92h1.71v1.81h-1.71zM203.22 67.92h1.71v1.81h-1.71zM232.22 67.92h1.71v1.81h-1.71zM252.68 67.92h1.71v1.81h-1.71zM271.44 67.92h1.71v1.81h-1.71zM283.38 67.92h1.71v1.81h-1.71zM192.99 69.74h1.71v1.81h-1.71zM198.11 69.74h1.71v1.81h-1.71zM218.57 69.74h1.71v1.81h-1.71zM250.98 69.74h1.71v1.81h-1.71zM278.26 69.74h1.71v1.81h-1.71zM210.05 71.55h1.71v1.81h-1.71zM225.39 71.55h1.71v1.81h-1.71zM233.92 71.55h1.71v1.81h-1.71zM257.8 71.55h1.71v1.81h-1.71zM264.62 71.55h1.71v1.81h-1.71zM199.81 73.36h1.71v1.81h-1.71zM211.75 73.36h1.71v1.81h-1.71zM268.03 73.36h1.71v1.81h-1.71zM281.67 73.36h1.71v1.81h-1.71zM206.64 75.18h1.71v1.81h-1.71zM225.39 75.18h1.71v1.81h-1.71zM257.8 75.18h1.71v1.81h-1.71zM276.56 75.18h1.71v1.81h-1.71zM283.38 75.18h1.71v1.81h-1.71zM230.51 76.99h1.71v1.81h-1.71zM237.33 76.99h1.71v1.81h-1.71zM244.15 76.99h1.71v1.81h-1.71zM268.03 76.99h1.71v1.81h-1.71zM184.46 78.81h1.71v1.81h-1.71zM225.39 78.81h1.71v1.81h-1.71zM227.1 80.62h1.71v1.81h-1.71zM201.52 84.25h1.71v1.81h-1.71zM216.87 84.25h1.71v1.81h-1.71zM221.98 84.25h1.71v1.81h-1.71zM223.69 84.25h1.71v1.81h-1.71zM228.81 84.25h1.71v1.81h-1.71zM262.91 84.25h1.71v1.81h-1.71zM279.97 84.25h1.71v1.81h-1.71zM262.91 86.06h1.71v1.81h-1.71zM285.08 86.06h1.71v1.81h-1.71zM198.11 87.87h1.71v1.81h-1.71zM221.98 87.87h1.71v1.81h-1.71zM266.32 87.87h1.71v1.81h-1.71zM271.44 87.87h1.71v1.81h-1.71zM186.17 89.69h1.71v1.81h-1.71zM232.22 89.69h1.71v1.81h-1.71zM250.98 89.69h1.71v1.81h-1.71zM288.49 89.69h1.71v1.81h-1.71zM33.02 95.4h1.71v1.85h-1.71zM44.99 95.4h1.71v1.85h-1.71zM51.84 95.4h1.71v1.85h-1.71zM53.55 95.4h1.71v1.85h-1.71zM56.97 95.4h1.71v1.85h-1.71zM128.81 95.4h1.71v1.85h-1.71zM140.78 95.4h1.71v1.85h-1.71zM38.15 97.25h1.71v1.85h-1.71zM55.26 97.25h1.71v1.85h-1.71zM80.92 97.25h1.71v1.85h-1.71zM145.92 97.25h1.71v1.85h-1.71zM147.63 97.25h1.71v1.85h-1.71zM68.94 99.11h1.71v1.85h-1.71zM43.28 100.96h1.71v1.85h-1.71zM142.49 100.96h1.71v1.85h-1.71zM62.1 102.82h1.71v1.85h-1.71zM74.07 102.82h1.71v1.85h-1.71zM96.31 102.82h1.71v1.85h-1.71zM104.86 102.82h1.71v1.85h-1.71zM108.28 102.82h1.71v1.85h-1.71zM118.55 102.82h1.71v1.85h-1.71zM147.63 102.82h1.71v1.85h-1.71zM41.57 104.67h1.71v1.85h-1.71zM74.07 104.67h1.71v1.85h-1.71zM82.63 104.67h1.71v1.85h-1.71zM127.1 104.67h1.71v1.85h-1.71zM137.36 106.53h1.71v1.85h-1.71zM38.15 108.38h1.71v1.85h-1.71zM106.57 108.38h1.71v1.85h-1.71zM139.07 108.38h1.71v1.85h-1.71zM67.23 110.24h1.71v1.85h-1.71zM74.07 110.24h1.71v1.85h-1.71zM75.78 110.24h1.71v1.85h-1.71zM99.73 110.24h1.71v1.85h-1.71zM106.57 112.09h1.71v1.85h-1.71zM151.05 112.09h1.71v1.85h-1.71zM157.89 112.09h1.71v1.85h-1.71zM29.6 113.95h1.71v1.85h-1.71zM70.65 113.95h1.71v1.85h-1.71zM91.18 113.95h1.71v1.85h-1.71zM130.52 113.95h1.71v1.85h-1.71zM182.76 95.4h1.71v1.85h-1.71zM186.17 95.4h1.71v1.85h-1.71zM215.16 95.4h1.71v1.85h-1.71zM256.09 95.4h1.71v1.85h-1.71zM261.21 95.4h1.71v1.85h-1.71zM187.88 97.25h1.71v1.85h-1.71zM201.52 97.25h1.71v1.85h-1.71zM210.05 97.25h1.71v1.85h-1.71zM208.34 99.11h1.71v1.85h-1.71zM213.46 99.11h1.71v1.85h-1.71zM281.67 99.11h1.71v1.85h-1.71zM285.08 99.11h1.71v1.85h-1.71zM201.52 100.96h1.71v1.85h-1.71zM225.39 100.96h1.71v1.85h-1.71zM257.8 100.96h1.71v1.85h-1.71zM264.62 100.96h1.71v1.85h-1.71zM285.08 100.96h1.71v1.85h-1.71zM170.82 102.82h1.71v1.85h-1.71zM249.27 102.82h1.71v1.85h-1.71zM271.44 102.82h1.71v1.85h-1.71zM278.26 102.82h1.71v1.85h-1.71zM164 104.67h1.71v1.85h-1.71zM184.46 104.67h1.71v1.85h-1.71zM191.29 104.67h1.71v1.85h-1.71zM264.62 104.67h1.71v1.85h-1.71zM274.85 106.53h1.71v1.85h-1.71zM189.58 108.38h1.71v1.85h-1.71zM198.11 108.38h1.71v1.85h-1.71zM216.87 108.38h1.71v1.85h-1.71zM245.86 108.38h1.71v1.85h-1.71zM273.15 108.38h1.71v1.85h-1.71zM286.79 108.38h1.71v1.85h-1.71zM288.49 108.38h1.71v1.85h-1.71zM165.71 110.24h1.71v1.85h-1.71zM220.28 110.24h1.71v1.85h-1.71zM259.5 110.24h1.71v1.85h-1.71zM273.15 110.24h1.71v1.85h-1.71zM210.05 112.09h1.71v1.85h-1.71zM225.39 112.09h1.71v1.85h-1.71zM285.08 112.09h1.71v1.85h-1.71zM164 113.95h1.71v1.85h-1.71zM170.82 113.95h1.71v1.85h-1.71zM221.98 113.95h1.71v1.85h-1.71zM242.45 113.95h1.71v1.85h-1.71zM288.49 113.95h1.71v1.85h-1.71zM43.28 129.2h1.71v1.65h-1.71zM70.65 129.2h1.71v1.65h-1.71zM79.21 129.2h1.71v1.65h-1.71zM89.47 129.2h1.71v1.65h-1.71zM128.81 129.2h1.71v1.65h-1.71zM156.18 129.2h1.71v1.65h-1.71zM46.71 130.85h1.71v1.65h-1.71zM70.65 130.85h1.71v1.65h-1.71zM72.36 130.85h1.71v1.65h-1.71zM84.34 130.85h1.71v1.65h-1.71zM103.15 130.85h1.71v1.65h-1.71zM139.07 130.85h1.71v1.65h-1.71zM149.34 130.85h1.71v1.65h-1.71zM156.18 130.85h1.71v1.65h-1.71zM174.23 129.2h1.71v1.65h-1.71zM237.33 129.2h1.71v1.65h-1.71zM268.03 129.2h1.71v1.65h-1.71zM170.82 130.85h1.71v1.65h-1.71zM179.35 130.85h1.71v1.65h-1.71zM203.22 130.85h1.71v1.65h-1.71zM240.74 130.85h1.71v1.65h-1.71zM264.62 130.85h1.71v1.65h-1.71zM31.31 136.5h1.71v1.81h-1.71zM53.55 136.5h1.71v1.81h-1.71zM72.36 136.5h1.71v1.81h-1.71zM99.73 136.5h1.71v1.81h-1.71zM118.55 136.5h1.71v1.81h-1.71zM154.47 136.5h1.71v1.81h-1.71zM41.57 138.31h1.71v1.81h-1.71zM43.28 138.31h1.71v1.81h-1.71zM89.47 138.31h1.71v1.81h-1.71zM139.07 138.31h1.71v1.81h-1.71zM33.02 140.13h1.71v1.81h-1.71zM156.18 140.13h1.71v1.81h-1.71zM31.31 141.94h1.71v1.81h-1.71zM142.49 141.94h1.71v1.81h-1.71zM151.05 141.94h1.71v1.81h-1.71zM29.6 143.76h1.71v1.81h-1.71zM46.71 143.76h1.71v1.81h-1.71zM75.78 143.76h1.71v1.81h-1.71zM113.42 143.76h1.71v1.81h-1.71zM142.49 143.76h1.71v1.81h-1.71zM53.55 145.57h1.71v1.81h-1.71zM79.21 145.57h1.71v1.81h-1.71zM99.73 145.57h1.71v1.81h-1.71zM130.52 145.57h1.71v1.81h-1.71zM152.76 145.57h1.71v1.81h-1.71zM63.81 147.39h1.71v1.81h-1.71zM115.13 147.39h1.71v1.81h-1.71zM181.05 136.5h1.71v1.81h-1.71zM204.93 136.5h1.71v1.81h-1.71zM206.64 136.5h1.71v1.81h-1.71zM235.63 136.5h1.71v1.81h-1.71zM274.85 136.5h1.71v1.81h-1.71zM262.91 138.31h1.71v1.81h-1.71zM271.44 138.31h1.71v1.81h-1.71zM211.75 140.13h1.71v1.81h-1.71zM247.56 140.13h1.71v1.81h-1.71zM240.74 141.94h1.71v1.81h-1.71zM252.68 141.94h1.71v1.81h-1.71zM177.64 143.76h1.71v1.81h-1.71zM192.99 143.76h1.71v1.81h-1.71zM201.52 143.76h1.71v1.81h-1.71zM208.34 143.76h1.71v1.81h-1.71zM233.92 143.76h1.71v1.81h-1.71zM235.63 143.76h1.71v1.81h-1.71zM247.56 143.76h1.71v1.81h-1.71zM256.09 143.76h1.71v1.81h-1.71zM276.56 143.76h1.71v1.81h-1.71zM172.53 145.57h1.71v1.81h-1.71zM187.88 145.57h1.71v1.81h-1.71zM191.29 147.39h1.71v1.81h-1.71zM271.44 147.39h1.71v1.81h-1.71z"/>
<path fill="#001428" d="M189.58 16.8h1.71v1.9h-1.71zM268.03 16.8h1.71v1.9h-1.71zM194.7 18.7h1.71v1.9h-1.71zM268.03 18.7h1.71v1.9h-1.71zM191.29 20.6h1.71v1.9h-1.71zM223.69 20.6h1.71v1.9h-1.71zM227.1 20.6h1.71v1.9h-1.71zM201.52 22.5h1.71v1.9h-1.71zM203.22 22.5h1.71v1.9h-1.71zM213.46 22.5h1.71v1.9h-1.71zM233.92 22.5h1.71v1.9h-1.71zM242.45 22.5h1.71v1.9h-1.71zM288.49 22.5h1.71v1.9h-1.71zM156.18 24.4h1.71v1.81h-1.71zM38.15 28.03h1.71v1.81h-1.71zM46.71 28.03h1.71v1.81h-1.71zM67.23 28.03h1.71v1.81h-1.71zM84.34 28.03h1.71v1.81h-1.71zM108.28 28.03h1.71v1.81h-1.71zM139.07 28.03h1.71v1.81h-1.71zM142.49 28.03h1.71v1.81h-1.71zM70.65 29.84h1.71v1.81h-1.71zM75.78 29.84h1.71v1.81h-1.71zM79.21 29.84h1.71v1.81h-1.71zM101.44 29.84h1.71v1.81h-1.71zM111.71 29.84h1.71v1.81h-1.71zM116.84 29.84h1.71v1.81h-1.71zM120.26 29.84h1.71v1.81h-1.71zM133.94 29.84h1.71v1.81h-1.71zM137.36 29.84h1.71v1.81h-1.71zM142.49 29.84h1.71v1.81h-1.71zM51.84 31.65h1.71v1.81h-1.71zM58.68 31.65h1.71v1.81h-1.71zM109.99 31.65h1.71v1.81h-1.71zM149.34 31.65h1.71v1.81h-1.71zM151.05 31.65h1.71v1.81h-1.71zM152.76 31.65h1.71v1.81h-1.71zM58.68 33.47h1.71v1.81h-1.71zM70.65 33.47h1.71v1.81h-1.71zM121.97 33.47h1.71v1.81h-1.71zM127.1 33.47h1.71v1.81h-1.71zM135.65 33.47h1.71v1.81h-1.71zM142.49 33.47h1.71v1.81h-1.71zM152.76 33.47h1.71v1.81h-1.71zM74.07 35.28h1.71v1.81h-1.71zM94.6 35.28h1.71v1.81h-1.71zM113.42 35.28h1.71v1.81h-1.71zM125.39 35.28h1.71v1.81h-1.71zM137.36 35.28h1.71v1.81h-1.71zM151.05 35.28h1.71v1.81h-1.71zM98.02 37.09h1.71v1.81h-1.71zM99.73 37.09h1.71v1.81h-1.71zM137.36 37.09h1.71v1.81h-1.71zM151.05 37.09h1.71v1.81h-1.71zM98.02 38.91h1.71v1.81h-1.71zM101.44 38.91h1.71v1.81h-1.71zM111.71 38.91h1.71v1.81h-1.71zM115.13 38.91h1.71v1.81h-1.71zM116.84 38.91h1.71v1.81h-1.71zM118.55 38.91h1.71v1.81h-1.71zM132.23 38.91h1.71v1.81h-1.71zM135.65 38.91h1.71v1.81h-1.71zM147.63 38.91h1.71v1.81h-1.71zM38.15 40.72h1.71v1.81h-1.71zM41.57 40.72h1.71v1.81h-1.71zM103.15 40.72h1.71v1.81h-1.71zM118.55 40.72h1.71v1.81h-1.71zM121.97 40.72h1.71v1.81h-1.71zM132.23 40.72h1.71v1.81h-1.71zM140.78 40.72h1.71v1.81h-1.71zM147.63 40.72h1.71v1.81h-1.71zM151.05 40.72h1.71v1.81h-1.71zM157.89 40.72h1.71v1.81h-1.71zM51.84 42.54h1.71v1.81h-1.71zM68.94 42.54h1.71v1.81h-1.71zM79.21 42.54h1.71v1.81h-1.71zM89.47 42.54h1.71v1.81h-1.71zM98.02 42.54h1.71v1.81h-1.71zM103.15 42.54h1.71v1.81h-1.71zM108.28 42.54h1.71v1.81h-1.71zM121.97 42.54h1.71v1.81h-1.71zM125.39 42.54h1.71v1.81h-1.71zM133.94 42.54h1.71v1.81h-1.71zM31.31 44.35h1.71v1.81h-1.71zM56.97 44.35h1.71v1.81h-1.71zM68.94 44.35h1.71v1.81h-1.71zM91.18 44.35h1.71v1.81h-1.71zM99.73 44.35h1.71v1.81h-1.71zM116.84 44.35h1.71v1.81h-1.71zM121.97 44.35h1.71v1.81h-1.71zM128.81 44.35h1.71v1.81h-1.71zM137.36 44.35h1.71v1.81h-1.71zM91.18 46.16h1.71v1.81h-1.71zM109.99 46.16h1.71v1.81h-1.71zM132.23 46.16h1.71v1.81h-1.71zM133.94 46.16h1.71v1.81h-1.71zM139.07 46.16h1.71v1.81h-1.71zM147.63 46.16h1.71v1.81h-1.71zM154.47 46.16h1.71v1.81h-1.71zM56.97 47.98h1.71v1.81h-1.71zM74.07 47.98h1.71v1.81h-1.71zM77.49 47.98h1.71v1.81h-1.71zM86.05 47.98h1.71v1.81h-1.71zM87.76 47.98h1.71v1.81h-1.71zM104.86 47.98h1.71v1.81h-1.71zM115.13 47.98h1.71v1.81h-1.71zM121.97 47.98h1.71v1.81h-1.71zM125.39 47.98h1.71v1.81h-1.71zM152.76 47.98h1.71v1.81h-1.71zM80.92 49.79h1.71v1.81h-1.71zM91.18 49.79h1.71v1.81h-1.71zM92.89 49.79h1.71v1.81h-1.71zM101.44 49.79h1.71v1.81h-1.71zM116.84 49.79h1.71v1.81h-1.71zM128.81 49.79h1.71v1.81h-1.71zM130.52 49.79h1.71v1.81h-1.71zM133.94 49.79h1.71v1.81h-1.71zM149.34 49.79h1.71v1.81h-1.71zM156.18 49.79h1.71v1.81h-1.71zM63.81 51.6h1.71v1.81h-1.71zM77.49 51.6h1.71v1.81h-1.71zM84.34 51.6h1.71v1.81h-1.71zM89.47 51.6h1.71v1.81h-1.71zM94.6 51.6h1.71v1.81h-1.71zM101.44 51.6h1.71v1.81h-1.71zM113.42 51.6h1.71v1.81h-1.71zM130.52 51.6h1.71v1.81h-1.71zM135.65 51.6h1.71v1.81h-1.71zM139.07 51.6h1.71v1.81h-1.71zM142.49 51.6h1.71v1.81h-1.71zM144.21 51.6h1.71v1.81h-1.71zM149.34 51.6h1.71v1.81h-1.71zM151.05 51.6h1.71v1.81h-1.71zM84.34 53.42h1.71v1.81h-1.71zM87.76 53.42h1.71v1.81h-1.71zM92.89 53.42h1.71v1.81h-1.71zM116.84 53.42h1.71v1.81h-1.71zM140.78 53.42h1.71v1.81h-1.71zM60.39 55.23h1.71v1.81h-1.71zM65.52 55.23h1.71v1.81h-1.71zM68.94 55.23h1.71v1.81h-1.71zM74.07 55.23h1.71v1.81h-1.71zM79.21 55.23h1.71v1.81h-1.71zM87.76 55.23h1.71v1.81h-1.71zM116.84 55.23h1.71v1.81h-1.71zM118.55 55.23h1.71v1.81h-1.71zM123.68 55.23h1.71v1.81h-1.71zM135.65 55.23h1.71v1.81h-1.71zM144.21 55.23h1.71v1.81h-1.71zM145.92 55.23h1.71v1.81h-1.71zM29.6 57.04h1.71v1.81h-1.71zM48.42 57.04h1.71v1.81h-1.71zM65.52 57.04h1.71v1.81h-1.71zM67.23 57.04h1.71v1.81h-1.71zM70.65 57.04h1.71v1.81h-1.71zM104.86 57.04h1.71v1.81h-1.71zM108.28 57.04h1.71v1.81h-1.71zM111.71 57.04h1.71v1.81h-1.71zM113.42 57.04h1.71v1.81h-1.71zM132.23 57.04h1.71v1.81h-1.71zM137.36 57.04h1.71v1.81h-1.71zM75.78 58.86h1.71v1.81h-1.71zM79.21 58.86h1.71v1.81h-1.71zM89.47 58.86h1.71v1.81h-1.71zM91.18 58.86h1.71v1.81h-1.71zM98.02 58.86h1.71v1.81h-1.71zM118.55 58.86h1.71v1.81h-1.71zM144.21 58.86h1.71v1.81h-1.71zM60.39 60.67h1.71v1.81h-1.71zM62.1 60.67h1.71v1.81h-1.71zM65.52 60.67h1.71v1.81h-1.71zM72.36 60.67h1.71v1.81h-1.71zM79.21 60.67h1.71v1.81h-1.71zM91.18 60.67h1.71v1.81h-1.71zM115.13 60.67h1.71v1.81h-1.71zM152.76 60.67h1.71v1.81h-1.71zM56.97 62.48h1.71v1.81h-1.71zM58.68 62.48h1.71v1.81h-1.71zM65.52 62.48h1.71v1.81h-1.71zM67.23 62.48h1.71v1.81h-1.71zM68.94 62.48h1.71v1.81h-1.71zM77.49 62.48h1.71v1.81h-1.71zM99.73 62.48h1.71v1.81h-1.71zM104.86 62.48h1.71v1.81h-1.71zM123.68 62.48h1.71v1.81h-1.71zM127.1 62.48h1.71v1.81h-1.71zM140.78 62.48h1.71v1.81h-1.71zM55.26 64.3h1.71v1.81h-1.71zM108.28 64.3h1.71v1.81h-1.71zM113.42 64.3h1.71v1.81h-1.71zM115.13 64.3h1.71v1.81h-1.71zM133.94 64.3h1.71v1.81h-1.71zM137.36 64.3h1.71v1.81h-1.71zM139.07 64.3h1.71v1.81h-1.71zM152.76 64.3h1.71v1.81h-1.71zM55.26 66.11h1.71v1.81h-1.71zM56.97 66.11h1.71v1.81h-1.71zM99.73 66.11h1.71v1.81h-1.71zM103.15 66.11h1.71v1.81h-1.71zM120.26 66.11h1.71v1.81h-1.71zM133.94 66.11h1.71v1.81h-1.71zM140.78 66.11h1.71v1.81h-1.71zM151.05 66.11h1.71v1.81h-1.71zM154.47 66.11h1.71v1.81h-1.71zM157.89 66.11h1.71v1.81h-1.71zM80.92 67.92h1.71v1.81h-1.71zM99.73 67.92h1.71v1.81h-1.71zM104.86 67.92h1.71v1.81h-1.71zM109.99 67.92h1.71v1.81h-1.71zM123.68 67.92h1.71v1.81h-1.71zM125.39 67.92h1.71v1.81h-1.71zM128.81 67.92h1.71v1.81h-1.71zM130.52 67.92h1.71v1.81h-1.71zM151.05 67.92h1.71v1.81h-1.71zM154.47 67.92h1.71v1.81h-1.71zM33.02 69.74h1.71v1.81h-1.71zM46.71 69.74h1.71v1.81h-1.71zM72.36 69.74h1.71v1.81h-1.71zM79.21 69.74h1.71v1.81h-1.71zM94.6 69.74h1.71v1.81h-1.71zM98.02 69.74h1.71v1.81h-1.71zM118.55 69.74h1.71v1.81h-1.71zM132.23 69.74h1.71v1.81h-1.71zM144.21 69.74h1.71v1.81h-1.71zM151.05 69.74h1.71v1.81h-1.71zM152.76 69.74h1.71v1.81h-1.71zM154.47 69.74h1.71v1.81h-1.71zM29.6 71.55h1.71v1.81h-1.71zM41.57 71.55h1.71v1.81h-1.71zM50.13 71.55h1.71v1.81h-1.71zM58.68 71.55h1.71v1.81h-1.71zM80.92 71.55h1.71v1.81h-1.71zM108.28 71.55h1.71v1.81h-1.71zM123.68 71.55h1.71v1.81h-1.71zM147.63 71.55h1.71v1.81h-1.71zM34.73 73.36h1.71v1.81h-1.71zM50.13 73.36h1.71v1.81h-1.71zM62.1 73.36h1.71v1.81h-1.71zM86.05 73.36h1.71v1.81h-1.71zM96.31 73.36h1.71v1.81h-1.71zM104.86 73.36h1.71v1.81h-1.71zM106.57 73.36h1.71v1.81h-1.71zM118.55 73.36h1.71v1.81h-1.71zM128.81 73.36h1.71v1.81h-1.71zM133.94 73.36h1.71v1.81h-1.71zM135.65 73.36h1.71v1.81h-1.71zM29.6 75.18h1.71v1.81h-1.71zM33.02 75.18h1.71v1.81h-1.71zM65.52 75.18h1.71v1.81h-1.71zM79.21 75.18h1.71v1.81h-1.71zM80.92 75.18h1.71v1.81h-1.71zM96.31 75.18h1.71v1.81h-1.71zM98.02 75.18h1.71v1.81h-1.71zM109.99 75.18h1.71v1.81h-1.71zM127.1 75.18h1.71v1.81h-1.71zM139.07 75.18h1.71v1.81h-1.71zM149.34 75.18h1.71v1.81h-1.71zM152.76 75.18h1.71v1.81h-1.71zM60.39 76.99h1.71v1.81h-1.71zM63.81 76.99h1.71v1.81h-1.71zM80.92 76.99h1.71v1.81h-1.71zM108.28 76.99h1.71v1.81h-1.71zM116.84 76.99h1.71v1.81h-1.71zM123.68 76.99h1.71v1.81h-1.71zM130.52 76.99h1.71v1.81h-1.71zM133.94 76.99h1.71v1.81h-1.71zM135.65 76.99h1.71v1.81h-1.71zM139.07 76.99h1.71v1.81h-1.71zM140.78 76.99h1.71v1.81h-1.71zM149.34 76.99h1.71v1.81h-1.71zM152.76 76.99h1.71v1.81h-1.71zM46.71 78.81h1.71v1.81h-1.71zM55.26 78.81h1.71v1.81h-1.71zM82.63 78.81h1.71v1.81h-1.71zM99.73 78.81h1.71v1.81h-1.71zM109.99 78.81h1.71v1.81h-1.71zM120.26 78.81h1.71v1.81h-1.71zM130.52 78.81h1.71v1.81h-1.71zM144.21 78.81h1.71v1.81h-1.71zM145.92 78.81h1.71v1.81h-1.71zM154.47 78.81h1.71v1.81h-1.71zM36.44 80.62h1.71v1.81h-1.71zM41.57 80.62h1.71v1.81h-1.71zM77.49 80.62h1.71v1.81h-1.71zM86.05 80.62h1.71v1.81h-1.71zM92.89 80.62h1.71v1.81h-1.71zM115.13 80.62h1.71v1.81h-1.71zM125.39 80.62h1.71v1.81h-1.71zM127.1 80.62h1.71v1.81h-1.71zM144.21 80.62h1.71v1.81h-1.71zM58.68 82.43h1.71v1.81h-1.71zM62.1 82.43h1.71v1.81h-1.71zM72.36 82.43h1.71v1.81h-1.71zM103.15 82.43h1.71v1.81h-1.71zM128.81 82.43h1.71v1.81h-1.71zM135.65 82.43h1.71v1.81h-1.71zM142.49 82.43h1.71v1.81h-1.71zM144.21 82.43h1.71v1.81h-1.71zM145.92 82.43h1.71v1.81h-1.71zM147.63 82.43h1.71v1.81h-1.71zM152.76 82.43h1.71v1.81h-1.71zM51.84 84.25h1.71v1.81h-1.71zM58.68 84.25h1.71v1.81h-1.71zM65.52 84.25h1.71v1.81h-1.71zM70.65 84.25h1.71v1.81h-1.71zM80.92 84.25h1.71v1.81h-1.71zM106.57 84.25h1.71v1.81h-1.71zM109.99 84.25h1.71v1.81h-1.71zM130.52 84.25h1.71v1.81h-1.71zM132.23 84.25h1.71v1.81h-1.71zM142.49 84.25h1.71v1.81h-1.71zM145.92 84.25h1.71v1.81h-1.71zM151.05 84.25h1.71v1.81h-1.71zM72.36 86.06h1.71v1.81h-1.71zM80.92 86.06h1.71v1.81h-1.71zM82.63 86.06h1.71v1.81h-1.71zM84.34 86.06h1.71v1.81h-1.71zM86.05 86.06h1.71v1.81h-1.71zM89.47 86.06h1.71v1.81h-1.71zM92.89 86.06h1.71v1.81h-1.71zM94.6 86.06h1.71v1.81h-1.71zM115.13 86.06h1.71v1.81h-1.71zM142.49 86.06h1.71v1.81h-1.71zM151.05 86.06h1.71v1.81h-1.71zM60.39 87.87h1.71v1.81h-1.71zM62.1 87.87h1.71v1.81h-1.71zM70.65 87.87h1.71v1.81h-1.71zM80.92 87.87h1.71v1.81h-1.71zM96.31 87.87h1.71v1.81h-1.71zM99.73 87.87h1.71v1.81h-1.71zM104.86 87.87h1.71v1.81h-1.71zM113.42 87.87h1.71v1.81h-1.71zM120.26 87.87h1.71v1.81h-1.71zM128.81 87.87h1.71v1.81h-1.71zM130.52 87.87h1.71v1.81h-1.71zM132.23 87.87h1.71v1.81h-1.71zM137.36 87.87h1.71v1.81h-1.71zM142.49 87.87h1.71v1.81h-1.71zM147.63 87.87h1.71v1.81h-1.71zM50.13 89.69h1.71v1.81h-1.71zM58.68 89.69h1.71v1.81h-1.71zM67.23 89.69h1.71v1.81h-1.71zM79.21 89.69h1.71v1.81h-1.71zM87.76 89.69h1.71v1.81h-1.71zM92.89 89.69h1.71v1.81h-1.71zM99.73 89.69h1.71v1.81h-1.71zM125.39 89.69h1.71v1.81h-1.71zM132.23 89.69h1.71v1.81h-1.71zM140.78 89.69h1.71v1.81h-1.71zM151.05 89.69h1.71v1.81h-1.71zM169.12 28.03h1.71v1.81h-1.71zM182.76 28.03h1.71v1.81h-1.71zM184.46 28.03h1.71v1.81h-1.71zM210.05 28.03h1.71v1.81h-1.71zM218.57 28.03h1.71v1.81h-1.71zM225.39 28.03h1.71v1.81h-1.71zM230.51 28.03h1.71v1.81h-1.71zM232.22 28.03h1.71v1.81h-1.71zM235.63 28.03h1.71v1.81h-1.71zM254.39 28.03h1.71v1.81h-1.71zM256.09 28.03h1.71v1.81h-1.71zM269.74 28.03h1.71v1.81h-1.71zM273.15 28.03h1.71v1.81h-1.71zM286.79 28.03h1.71v1.81h-1.71zM165.71 29.84h1.71v1.81h-1.71zM167.41 29.84h1.71v1.81h-1.71zM191.29 29.84h1.71v1.81h-1.71zM192.99 29.84h1.71v1.81h-1.71zM196.4 29.84h1.71v1.81h-1.71zM199.81 29.84h1.71v1.81h-1.71zM220.28 29.84h1.71v1.81h-1.71zM245.86 29.84h1.71v1.81h-1.71zM257.8 29.84h1.71v1.81h-1.71zM268.03 29.84h1.71v1.81h-1.71zM274.85 29.84h1.71v1.81h-1.71zM198.11 31.65h1.71v1.81h-1.71zM199.81 31.65h1.71v1.81h-1.71zM208.34 31.65h1.71v1.81h-1.71zM213.46 31.65h1.71v1.81h-1.71zM225.39 31.65h1.71v1.81h-1.71zM237.33 31.65h1.71v1.81h-1.71zM245.86 31.65h1.71v1.81h-1.71zM256.09 31.65h1.71v1.81h-1.71zM261.21 31.65h1.71v1.81h-1.71zM271.44 31.65h1.71v1.81h-1.71zM164 33.47h1.71v1.81h-1.71zM172.53 33.47h1.71v1.81h-1.71zM189.58 33.47h1.71v1.81h-1.71zM191.29 33.47h1.71v1.81h-1.71zM192.99 33.47h1.71v1.81h-1.71zM204.93 33.47h1.71v1.81h-1.71zM218.57 33.47h1.71v1.81h-1.71zM233.92 33.47h1.71v1.81h-1.71zM239.04 33.47h1.71v1.81h-1.71zM240.74 33.47h1.71v1.81h-1.71zM250.98 33.47h1.71v1.81h-1.71zM252.68 33.47h1.71v1.81h-1.71zM256.09 33.47h1.71v1.81h-1.71zM257.8 33.47h1.71v1.81h-1.71zM170.82 35.28h1.71v1.81h-1.71zM201.52 35.28h1.71v1.81h-1.71zM225.39 35.28h1.71v1.81h-1.71zM228.81 35.28h1.71v1.81h-1.71zM235.63 35.28h1.71v1.81h-1.71zM237.33 35.28h1.71v1.81h-1.71zM266.32 35.28h1.71v1.81h-1.71zM182.76 37.09h1.71v1.81h-1.71zM187.88 37.09h1.71v1.81h-1.71zM199.81 37.09h1.71v1.81h-1.71zM203.22 37.09h1.71v1.81h-1.71zM210.05 37.09h1.71v1.81h-1.71zM225.39 37.09h1.71v1.81h-1.71zM240.74 37.09h1.71v1.81h-1.71zM247.56 37.09h1.71v1.81h-1.71zM252.68 37.09h1.71v1.81h-1.71zM262.91 37.09h1.71v1.81h-1.71zM264.62 37.09h1.71v1.81h-1.71zM268.03 37.09h1.71v1.81h-1.71zM269.74 37.09h1.71v1.81h-1.71zM276.56 37.09h1.71v1.81h-1.71zM167.41 38.91h1.71v1.81h-1.71zM169.12 38.91h1.71v1.81h-1.71zM198.11 38.91h1.71v1.81h-1.71zM204.93 38.91h1.71v1.81h-1.71zM206.64 38.91h1.71v1.81h-1.71zM215.16 38.91h1.71v1.81h-1.71zM218.57 38.91h1.71v1.81h-1.71zM225.39 38.91h1.71v1.81h-1.71zM237.33 38.91h1.71v1.81h-1.71zM279.97 38.91h1.71v1.81h-1.71zM285.08 38.91h1.71v1.81h-1.71zM165.71 40.72h1.71v1.81h-1.71zM175.94 40.72h1.71v1.81h-1.71zM177.64 40.72h1.71v1.81h-1.71zM181.05 40.72h1.71v1.81h-1.71zM201.52 40.72h1.71v1.81h-1.71zM203.22 40.72h1.71v1.81h-1.71zM221.98 40.72h1.71v1.81h-1.71zM233.92 40.72h1.71v1.81h-1.71zM244.15 40.72h1.71v1.81h-1.71zM245.86 40.72h1.71v1.81h-1.71zM256.09 40.72h1.71v1.81h-1.71zM268.03 40.72h1.71v1.81h-1.71zM273.15 40.72h1.71v1.81h-1.71zM274.85 40.72h1.71v1.81h-1.71zM174.23 42.54h1.71v1.81h-1.71zM175.94 42.54h1.71v1.81h-1.71zM184.46 42.54h1.71v1.81h-1.71zM201.52 42.54h1.71v1.81h-1.71zM204.93 42.54h1.71v1.81h-1.71zM206.64 42.54h1.71v1.81h-1.71zM208.34 42.54h1.71v1.81h-1.71zM210.05 42.54h1.71v1.81h-1.71zM213.46 42.54h1.71v1.81h-1.71zM218.57 42.54h1.71v1.81h-1.71zM225.39 42.54h1.71v1.81h-1.71zM230.51 42.54h1.71v1.81h-1.71zM240.74 42.54h1.71v1.81h-1.71zM245.86 42.54h1.71v1.81h-1.71zM254.39 42.54h1.71v1.81h-1.71zM261.21 42.54h1.71v1.81h-1.71zM167.41 44.35h1.71v1.81h-1.71zM174.23 44.35h1.71v1.81h-1.71zM201.52 44.35h1.71v1.81h-1.71zM237.33 44.35h1.71v1.81h-1.71zM250.98 44.35h1.71v1.81h-1.71zM268.03 44.35h1.71v1.81h-1.71zM273.15 44.35h1.71v1.81h-1.71zM283.38 44.35h1.71v1.81h-1.71zM170.82 46.16h1.71v1.81h-1.71zM199.81 46.16h1.71v1.81h-1.71zM208.34 46.16h1.71v1.81h-1.71zM215.16 46.16h1.71v1.81h-1.71zM225.39 46.16h1.71v1.81h-1.71zM228.81 46.16h1.71v1.81h-1.71zM230.51 46.16h1.71v1.81h-1.71zM232.22 46.16h1.71v1.81h-1.71zM242.45 46.16h1.71v1.81h-1.71zM254.39 46.16h1.71v1.81h-1.71zM256.09 46.16h1.71v1.81h-1.71zM268.03 46.16h1.71v1.81h-1.71zM278.26 46.16h1.71v1.81h-1.71zM279.97 46.16h1.71v1.81h-1.71zM164 47.98h1.71v1.81h-1.71zM210.05 47.98h1.71v1.81h-1.71zM221.98 47.98h1.71v1.81h-1.71zM227.1 47.98h1.71v1.81h-1.71zM232.22 47.98h1.71v1.81h-1.71zM239.04 47.98h1.71v1.81h-1.71zM245.86 47.98h1.71v1.81h-1.71zM250.98 47.98h1.71v1.81h-1.71zM256.09 47.98h1.71v1.81h-1.71zM261.21 47.98h1.71v1.81h-1.71zM262.91 47.98h1.71v1.81h-1.71zM279.97 47.98h1.71v1.81h-1.71zM177.64 49.79h1.71v1.81h-1.71zM194.7 49.79h1.71v1.81h-1.71zM196.4 49.79h1.71v1.81h-1.71zM203.22 49.79h1.71v1.81h-1.71zM210.05 49.79h1.71v1.81h-1.71zM223.69 49.79h1.71v1.81h-1.71zM225.39 49.79h1.71v1.81h-1.71zM228.81 49.79h1.71v1.81h-1.71zM237.33 49.79h1.71v1.81h-1.71zM261.21 49.79h1.71v1.81h-1.71zM184.46 51.6h1.71v1.81h-1.71zM213.46 51.6h1.71v1.81h-1.71zM218.57 51.6h1.71v1.81h-1.71zM239.04 51.6h1.71v1.81h-1.71zM245.86 51.6h1.71v1.81h-1.71zM249.27 51.6h1.71v1.81h-1.71zM256.09 51.6h1.71v1.81h-1.71zM164 53.42h1.71v1.81h-1.71zM165.71 53.42h1.71v1.81h-1.71zM181.05 53.42h1.71v1.81h-1.71zM203.22 53.42h1.71v1.81h-1.71zM208.34 53.42h1.71v1.81h-1.71zM221.98 53.42h1.71v1.81h-1.71zM242.45 53.42h1.71v1.81h-1.71zM244.15 53.42h1.71v1.81h-1.71zM240.74 55.23h1.71v1.81h-1.71zM257.8 55.23h1.71v1.81h-1.71zM281.67 55.23h1.71v1.81h-1.71zM283.38 55.23h1.71v1.81h-1.71zM174.23 57.04h1.71v1.81h-1.71zM175.94 57.04h1.71v1.81h-1.71zM184.46 57.04h1.71v1.81h-1.71zM189.58 57.04h1.71v1.81h-1.71zM225.39 57.04h1.71v1.81h-1.71zM228.81 57.04h1.71v1.81h-1.71zM237.33 57.04h1.71v1.81h-1.71zM164 58.86h1.71v1.81h-1.71zM175.94 58.86h1.71v1.81h-1.71zM189.58 58.86h1.71v1.81h-1.71zM194.7 58.86h1.71v1.81h-1.71zM199.81 58.86h1.71v1.81h-1.71zM218.57 58.86h1.71v1.81h-1.71zM225.39 58.86h1.71v1.81h-1.71zM227.1 58.86h1.71v1.81h-1.71zM237.33 58.86h1.71v1.81h-1.71zM252.68 58.86h1.71v1.81h-1.71zM259.5 58.86h1.71v1.81h-1.71zM278.26 58.86h1.71v1.81h-1.71zM177.64 60.67h1.71v1.81h-1.71zM182.76 60.67h1.71v1.81h-1.71zM191.29 60.67h1.71v1.81h-1.71zM196.4 60.67h1.71v1.81h-1.71zM245.86 60.67h1.71v1.81h-1.71zM262.91 60.67h1.71v1.81h-1.71zM273.15 60.67h1.71v1.81h-1.71zM274.85 60.67h1.71v1.81h-1.71zM279.97 60.67h1.71v1.81h-1.71zM288.49 60.67h1.71v1.81h-1.71zM191.29 62.48h1.71v1.81h-1.71zM196.4 62.48h1.71v1.81h-1.71zM221.98 62.48h1.71v1.81h-1.71zM242.45 62.48h1.71v1.81h-1.71zM254.39 62.48h1.71v1.81h-1.71zM256.09 62.48h1.71v1.81h-1.71zM264.62 62.48h1.71v1.81h-1.71zM281.67 62.48h1.71v1.81h-1.71zM181.05 64.3h1.71v1.81h-1.71zM189.58 64.3h1.71v1.81h-1.71zM201.52 64.3h1.71v1.81h-1.71zM225.39 64.3h1.71v1.81h-1.71zM227.1 64.3h1.71v1.81h-1.71zM249.27 64.3h1.71v1.81h-1.71zM250.98 64.3h1.71v1.81h-1.71zM256.09 64.3h1.71v1.81h-1.71zM271.44 64.3h1.71v1.81h-1.71zM165.71 66.11h1.71v1.81h-1.71zM170.82 66.11h1.71v1.81h-1.71zM177.64 66.11h1.71v1.81h-1.71zM211.75 66.11h1.71v1.81h-1.71zM215.16 66.11h1.71v1.81h-1.71zM233.92 66.11h1.71v1.81h-1.71zM245.86 66.11h1.71v1.81h-1.71zM249.27 66.11h1.71v1.81h-1.71zM252.68 66.11h1.71v1.81h-1.71zM261.21 66.11h1.71v1.81h-1.71zM264.62 66.11h1.71v1.81h-1.71zM274.85 66.11h1.71v1.81h-1.71zM191.29 67.92h1.71v1.81h-1.71zM201.52 67.92h1.71v1.81h-1.71zM208.34 67.92h1.71v1.81h-1.71zM225.39 67.92h1.71v1.81h-1.71zM249.27 67.92h1.71v1.81h-1.71zM250.98 67.92h1.71v1.81h-1.71zM257.8 67.92h1.71v1.81h-1.71zM261.21 67.92h1.71v1.81h-1.71zM273.15 67.92h1.71v1.81h-1.71zM175.94 69.74h1.71v1.81h-1.71zM189.58 69.74h1.71v1.81h-1.71zM191.29 69.74h1.71v1.81h-1.71zM199.81 69.74h1.71v1.81h-1.71zM208.34 69.74h1.71v1.81h-1.71zM210.05 69.74h1.71v1.81h-1.71zM221.98 69.74h1.71v1.81h-1.71zM225.39 69.74h1.71v1.81h-1.71zM232.22 69.74h1.71v1.81h-1.71zM256.09 69.74h1.71v1.81h-1.71zM268.03 69.74h1.71v1.81h-1.71zM283.38 69.74h1.71v1.81h-1.71zM174.23 71.55h1.71v1.81h-1.71zM181.05 71.55h1.71v1.81h-1.71zM192.99 71.55h1.71v1.81h-1.71zM203.22 71.55h1.71v1.81h-1.71zM211.75 71.55h1.71v1.81h-1.71zM228.81 71.55h1.71v1.81h-1.71zM261.21 71.55h1.71v1.81h-1.71zM278.26 71.55h1.71v1.81h-1.71zM179.35 73.36h1.71v1.81h-1.71zM227.1 73.36h1.71v1.81h-1.71zM233.92 73.36h1.71v1.81h-1.71zM274.85 73.36h1.71v1.81h-1.71zM172.53 75.18h1.71v1.81h-1.71zM186.17 75.18h1.71v1.81h-1.71zM221.98 75.18h1.71v1.81h-1.71zM223.69 75.18h1.71v1.81h-1.71zM274.85 75.18h1.71v1.81h-1.71zM164 76.99h1.71v1.81h-1.71zM175.94 76.99h1.71v1.81h-1.71zM186.17 76.99h1.71v1.81h-1.71zM189.58 76.99h1.71v1.81h-1.71zM192.99 76.99h1.71v1.81h-1.71zM211.75 76.99h1.71v1.81h-1.71zM216.87 76.99h1.71v1.81h-1.71zM228.81 76.99h1.71v1.81h-1.71zM232.22 76.99h1.71v1.81h-1.71zM240.74 76.99h1.71v1.81h-1.71zM259.5 76.99h1.71v1.81h-1.71zM279.97 76.99h1.71v1.81h-1.71zM174.23 78.81h1.71v1.81h-1.71zM175.94 78.81h1.71v1.81h-1.71zM181.05 78.81h1.71v1.81h-1.71zM182.76 78.81h1.71v1.81h-1.71zM203.22 78.81h1.71v1.81h-1.71zM227.1 78.81h1.71v1.81h-1.71zM228.81 78.81h1.71v1.81h-1.71zM230.51 78.81h1.71v1.81h-1.71zM239.04 78.81h1.71v1.81h-1.71zM244.15 78.81h1.71v1.81h-1.71zM254.39 78.81h1.71v1.81h-1.71zM256.09 78.81h1.71v1.81h-1.71zM276.56 78.81h1.71v1.81h-1.71zM194.7 80.62h1.71v1.81h-1.71zM198.11 80.62h1.71v1.81h-1.71zM206.64 80.62h1.71v1.81h-1.71zM208.34 80.62h1.71v1.81h-1.71zM211.75 80.62h1.71v1.81h-1.71zM221.98 80.62h1.71v1.81h-1.71zM235.63 80.62h1.71v1.81h-1.71zM250.98 80.62h1.71v1.81h-1.71zM254.39 80.62h1.71v1.81h-1.71zM274.85 80.62h1.71v1.81h-1.71zM165.71 82.43h1.71v1.81h-1.71zM182.76 82.43h1.71v1.81h-1.71zM184.46 82.43h1.71v1.81h-1.71zM208.34 82.43h1.71v1.81h-1.71zM211.75 82.43h1.71v1.81h-1.71zM215.16 82.43h1.71v1.81h-1.71zM220.28 82.43h1.71v1.81h-1.71zM239.04 82.43h1.71v1.81h-1.71zM244.15 82.43h1.71v1.81h-1.71zM261.21 82.43h1.71v1.81h-1.71zM262.91 82.43h1.71v1.81h-1.71zM269.74 82.43h1.71v1.81h-1.71zM281.67 82.43h1.71v1.81h-1.71zM179.35 84.25h1.71v1.81h-1.71zM189.58 84.25h1.71v1.81h-1.71zM196.4 84.25h1.71v1.81h-1.71zM199.81 84.25h1.71v1.81h-1.71zM206.64 84.25h1.71v1.81h-1.71zM215.16 84.25h1.71v1.81h-1.71zM230.51 84.25h1.71v1.81h-1.71zM235.63 84.25h1.71v1.81h-1.71zM240.74 84.25h1.71v1.81h-1.71zM249.27 84.25h1.71v1.81h-1.71zM256.09 84.25h1.71v1.81h-1.71zM257.8 84.25h1.71v1.81h-1.71zM259.5 84.25h1.71v1.81h-1.71zM276.56 84.25h1.71v1.81h-1.71zM177.64 86.06h1.71v1.81h-1.71zM206.64 86.06h1.71v1.81h-1.71zM218.57 86.06h1.71v1.81h-1.71zM233.92 86.06h1.71v1.81h-1.71zM237.33 86.06h1.71v1.81h-1.71zM252.68 86.06h1.71v1.81h-1.71zM269.74 86.06h1.71v1.81h-1.71zM172.53 87.87h1.71v1.81h-1.71zM181.05 87.87h1.71v1.81h-1.71zM218.57 87.87h1.71v1.81h-1.71zM228.81 87.87h1.71v1.81h-1.71zM235.63 87.87h1.71v1.81h-1.71zM240.74 87.87h1.71v1.81h-1.71zM247.56 87.87h1.71v1.81h-1.71zM250.98 87.87h1.71v1.81h-1.71zM268.03 87.87h1.71v1.81h-1.71zM196.4 89.69h1.71v1.81h-1.71zM206.64 89.69h1.71v1.81h-1.71zM218.57 89.69h1.71v1.81h-1.71zM240.74 89.69h1.71v1.81h-1.71zM252.68 89.69h1.71v1.81h-1.71zM254.39 89.69h1.71v1.81h-1.71zM256.09 89.69h1.71v1.81h-1.71zM269.74 89.69h1.71v1.81h-1.71zM279.97 89.69h1.71v1.81h-1.71zM55.26 95.4h1.71v1.85h-1.71zM63.81 95.4h1.71v1.85h-1.71zM67.23 95.4h1.71v1.85h-1.71zM91.18 95.4h1.71v1.85h-1.71zM94.6 95.4h1.71v1.85h-1.71zM103.15 95.4h1.71v1.85h-1.71zM104.86 95.4h1.71v1.85h-1.71zM115.13 95.4h1.71v1.85h-1.71zM132.23 95.4h1.71v1.85h-1.71zM135.65 95.4h1.71v1.85h-1.71zM154.47 95.4h1.71v1.85h-1.71zM34.73 97.25h1.71v1.85h-1.71zM53.55 97.25h1.71v1.85h-1.71zM60.39 97.25h1.71v1.85h-1.71zM68.94 97.25h1.71v1.85h-1.71zM70.65 97.25h1.71v1.85h-1.71zM92.89 97.25h1.71v1.85h-1.71zM94.6 97.25h1.71v1.85h-1.71zM96.31 97.25h1.71v1.85h-1.71zM99.73 97.25h1.71v1.85h-1.71zM133.94 97.25h1.71v1.85h-1.71zM149.34 97.25h1.71v1.85h-1.71zM38.15 99.11h1.71v1.85h-1.71zM70.65 99.11h1.71v1.85h-1.71zM79.21 99.11h1.71v1.85h-1.71zM106.57 99.11h1.71v1.85h-1.71zM116.84 99.11h1.71v1.85h-1.71zM120.26 99.11h1.71v1.85h-1.71zM135.65 99.11h1.71v1.85h-1.71zM137.36 99.11h1.71v1.85h-1.71zM70.65 100.96h1.71v1.85h-1.71zM79.21 100.96h1.71v1.85h-1.71zM98.02 100.96h1.71v1.85h-1.71zM116.84 100.96h1.71v1.85h-1.71zM133.94 100.96h1.71v1.85h-1.71zM151.05 100.96h1.71v1.85h-1.71zM38.15 102.82h1.71v1.85h-1.71zM51.84 102.82h1.71v1.85h-1.71zM70.65 102.82h1.71v1.85h-1.71zM101.44 102.82h1.71v1.85h-1.71zM116.84 102.82h1.71v1.85h-1.71zM127.1 102.82h1.71v1.85h-1.71zM133.94 102.82h1.71v1.85h-1.71zM157.89 102.82h1.71v1.85h-1.71zM36.44 104.67h1.71v1.85h-1.71zM39.86 104.67h1.71v1.85h-1.71zM60.39 104.67h1.71v1.85h-1.71zM62.1 104.67h1.71v1.85h-1.71zM63.81 104.67h1.71v1.85h-1.71zM75.78 104.67h1.71v1.85h-1.71zM89.47 104.67h1.71v1.85h-1.71zM96.31 104.67h1.71v1.85h-1.71zM101.44 104.67h1.71v1.85h-1.71zM103.15 104.67h1.71v1.85h-1.71zM111.71 104.67h1.71v1.85h-1.71zM130.52 104.67h1.71v1.85h-1.71zM132.23 104.67h1.71v1.85h-1.71zM139.07 104.67h1.71v1.85h-1.71zM140.78 104.67h1.71v1.85h-1.71zM145.92 104.67h1.71v1.85h-1.71zM156.18 104.67h1.71v1.85h-1.71zM157.89 104.67h1.71v1.85h-1.71zM29.6 106.53h1.71v1.85h-1.71zM58.68 106.53h1.71v1.85h-1.71zM63.81 106.53h1.71v1.85h-1.71zM74.07 106.53h1.71v1.85h-1.71zM96.31 106.53h1.71v1.85h-1.71zM101.44 106.53h1.71v1.85h-1.71zM103.15 106.53h1.71v1.85h-1.71zM111.71 106.53h1.71v1.85h-1.71zM113.42 106.53h1.71v1.85h-1.71zM135.65 106.53h1.71v1.85h-1.71zM149.34 106.53h1.71v1.85h-1.71zM151.05 106.53h1.71v1.85h-1.71zM53.55 108.38h1.71v1.85h-1.71zM63.81 108.38h1.71v1.85h-1.71zM89.47 108.38h1.71v1.85h-1.71zM92.89 108.38h1.71v1.85h-1.71zM96.31 108.38h1.71v1.85h-1.71zM120.26 108.38h1.71v1.85h-1.71zM137.36 108.38h1.71v1.85h-1.71zM142.49 108.38h1.71v1.85h-1.71zM144.21 108.38h1.71v1.85h-1.71zM145.92 108.38h1.71v1.85h-1.71zM34.73 110.24h1.71v1.85h-1.71zM58.68 110.24h1.71v1.85h-1.71zM65.52 110.24h1.71v1.85h-1.71zM77.49 110.24h1.71v1.85h-1.71zM86.05 110.24h1.71v1.85h-1.71zM104.86 110.24h1.71v1.85h-1.71zM108.28 110.24h1.71v1.85h-1.71zM142.49 110.24h1.71v1.85h-1.71zM157.89 110.24h1.71v1.85h-1.71zM34.73 112.09h1.71v1.85h-1.71zM50.13 112.09h1.71v1.85h-1.71zM55.26 112.09h1.71v1.85h-1.71zM68.94 112.09h1.71v1.85h-1.71zM89.47 112.09h1.71v1.85h-1.71zM91.18 112.09h1.71v1.85h-1.71zM92.89 112.09h1.71v1.85h-1.71zM111.71 112.09h1.71v1.85h-1.71zM115.13 112.09h1.71v1.85h-1.71zM128.81 112.09h1.71v1.85h-1.71zM137.36 112.09h1.71v1.85h-1.71zM142.49 112.09h1.71v1.85h-1.71zM149.34 112.09h1.71v1.85h-1.71zM34.73 113.95h1.71v1.85h-1.71zM39.86 113.95h1.71v1.85h-1.71zM50.13 113.95h1.71v1.85h-1.71zM89.47 113.95h1.71v1.85h-1.71zM99.73 113.95h1.71v1.85h-1.71zM104.86 113.95h1.71v1.85h-1.71zM133.94 113.95h1.71v1.85h-1.71zM144.21 113.95h1.71v1.85h-1.71zM151.05 113.95h1.71v1.85h-1.71zM152.76 113.95h1.71v1.85h-1.71zM157.89 113.95h1.71v1.85h-1.71zM167.41 95.4h1.71v1.85h-1.71zM198.11 95.4h1.71v1.85h-1.71zM204.93 95.4h1.71v1.85h-1.71zM208.34 95.4h1.71v1.85h-1.71zM249.27 95.4h1.71v1.85h-1.71zM271.44 95.4h1.71v1.85h-1.71zM276.56 95.4h1.71v1.85h-1.71zM286.79 95.4h1.71v1.85h-1.71zM198.11 97.25h1.71v1.85h-1.71zM216.87 97.25h1.71v1.85h-1.71zM233.92 97.25h1.71v1.85h-1.71zM244.15 97.25h1.71v1.85h-1.71zM276.56 97.25h1.71v1.85h-1.71zM281.67 97.25h1.71v1.85h-1.71zM167.41 99.11h1.71v1.85h-1.71zM182.76 99.11h1.71v1.85h-1.71zM196.4 99.11h1.71v1.85h-1.71zM257.8 99.11h1.71v1.85h-1.71zM259.5 99.11h1.71v1.85h-1.71zM268.03 99.11h1.71v1.85h-1.71zM288.49 99.11h1.71v1.85h-1.71zM179.35 100.96h1.71v1.85h-1.71zM192.99 100.96h1.71v1.85h-1.71zM218.57 100.96h1.71v1.85h-1.71zM221.98 100.96h1.71v1.85h-1.71zM228.81 100.96h1.71v1.85h-1.71zM230.51 100.96h1.71v1.85h-1.71zM252.68 100.96h1.71v1.85h-1.71zM268.03 100.96h1.71v1.85h-1.71zM288.49 100.96h1.71v1.85h-1.71zM204.93 102.82h1.71v1.85h-1.71zM208.34 102.82h1.71v1.85h-1.71zM233.92 102.82h1.71v1.85h-1.71zM237.33 102.82h1.71v1.85h-1.71zM239.04 102.82h1.71v1.85h-1.71zM259.5 102.82h1.71v1.85h-1.71zM266.32 102.82h1.71v1.85h-1.71zM269.74 102.82h1.71v1.85h-1.71zM165.71 104.67h1.71v1.85h-1.71zM213.46 104.67h1.71v1.85h-1.71zM237.33 104.67h1.71v1.85h-1.71zM242.45 104.67h1.71v1.85h-1.71zM245.86 104.67h1.71v1.85h-1.71zM266.32 104.67h1.71v1.85h-1.71zM279.97 104.67h1.71v1.85h-1.71zM281.67 104.67h1.71v1.85h-1.71zM175.94 106.53h1.71v1.85h-1.71zM186.17 106.53h1.71v1.85h-1.71zM199.81 106.53h1.71v1.85h-1.71zM204.93 106.53h1.71v1.85h-1.71zM208.34 106.53h1.71v1.85h-1.71zM211.75 106.53h1.71v1.85h-1.71zM240.74 106.53h1.71v1.85h-1.71zM252.68 106.53h1.71v1.85h-1.71zM264.62 106.53h1.71v1.85h-1.71zM278.26 106.53h1.71v1.85h-1.71zM281.67 106.53h1.71v1.85h-1.71zM285.08 106.53h1.71v1.85h-1.71zM181.05 108.38h1.71v1.85h-1.71zM227.1 108.38h1.71v1.85h-1.71zM237.33 108.38h1.71v1.85h-1.71zM250.98 108.38h1.71v1.85h-1.71zM259.5 108.38h1.71v1.85h-1.71zM268.03 108.38h1.71v1.85h-1.71zM281.67 108.38h1.71v1.85h-1.71zM179.35 110.24h1.71v1.85h-1.71zM189.58 110.24h1.71v1.85h-1.71zM191.29 110.24h1.71v1.85h-1.71zM194.7 110.24h1.71v1.85h-1.71zM221.98 110.24h1.71v1.85h-1.71zM232.22 110.24h1.71v1.85h-1.71zM239.04 110.24h1.71v1.85h-1.71zM261.21 110.24h1.71v1.85h-1.71zM268.03 110.24h1.71v1.85h-1.71zM283.38 110.24h1.71v1.85h-1.71zM288.49 110.24h1.71v1.85h-1.71zM174.23 112.09h1.71v1.85h-1.71zM182.76 112.09h1.71v1.85h-1.71zM220.28 112.09h1.71v1.85h-1.71zM240.74 112.09h1.71v1.85h-1.71zM257.8 112.09h1.71v1.85h-1.71zM261.21 112.09h1.71v1.85h-1.71zM264.62 112.09h1.71v1.85h-1.71zM276.56 112.09h1.71v1.85h-1.71zM279.97 112.09h1.71v1.85h-1.71zM288.49 112.09h1.71v1.85h-1.71zM218.57 113.95h1.71v1.85h-1.71zM223.69 113.95h1.71v1.85h-1.71zM245.86 113.95h1.71v1.85h-1.71zM266.32 113.95h1.71v1.85h-1.71zM269.74 113.95h1.71v1.85h-1.71zM46.71 129.2h1.71v1.65h-1.71zM51.84 129.2h1.71v1.65h-1.71zM53.55 129.2h1.71v1.65h-1.71zM60.39 129.2h1.71v1.65h-1.71zM72.36 129.2h1.71v1.65h-1.71zM120.26 129.2h1.71v1.65h-1.71zM121.97 129.2h1.71v1.65h-1.71zM125.39 129.2h1.71v1.65h-1.71zM130.52 129.2h1.71v1.65h-1.71zM29.6 130.85h1.71v1.65h-1.71zM41.57 130.85h1.71v1.65h-1.71zM43.28 130.85h1.71v1.65h-1.71zM44.99 130.85h1.71v1.65h-1.71zM51.84 130.85h1.71v1.65h-1.71zM62.1 130.85h1.71v1.65h-1.71zM63.81 130.85h1.71v1.65h-1.71zM67.23 130.85h1.71v1.65h-1.71zM75.78 130.85h1.71v1.65h-1.71zM94.6 130.85h1.71v1.65h-1.71zM123.68 130.85h1.71v1.65h-1.71zM133.94 130.85h1.71v1.65h-1.71zM140.78 130.85h1.71v1.65h-1.71zM142.49 130.85h1.71v1.65h-1.71zM144.21 130.85h1.71v1.65h-1.71zM181.05 129.2h1.71v1.65h-1.71zM186.17 129.2h1.71v1.65h-1.71zM187.88 129.2h1.71v1.65h-1.71zM204.93 129.2h1.71v1.65h-1.71zM208.34 129.2h1.71v1.65h-1.71zM210.05 129.2h1.71v1.65h-1.71zM223.69 129.2h1.71v1.65h-1.71zM266.32 129.2h1.71v1.65h-1.71zM278.26 129.2h1.71v1.65h-1.71zM281.67 129.2h1.71v1.65h-1.71zM288.49 129.2h1.71v1.65h-1.71zM175.94 130.85h1.71v1.65h-1.71zM177.64 130.85h1.71v1.65h-1.71zM213.46 130.85h1.71v1.65h-1.71zM227.1 130.85h1.71v1.65h-1.71zM239.04 130.85h1.71v1.65h-1.71zM259.5 130.85h1.71v1.65h-1.71zM261.21 130.85h1.71v1.65h-1.71zM268.03 130.85h1.71v1.65h-1.71zM271.44 130.85h1.71v1.65h-1.71zM279.97 130.85h1.71v1.65h-1.71zM281.67 130.85h1.71v1.65h-1.71zM29.6 136.5h1.71v1.81h-1.71zM33.02 136.5h1.71v1.81h-1.71zM34.73 136.5h1.71v1.81h-1.71zM39.86 136.5h1.71v1.81h-1.71zM56.97 136.5h1.71v1.81h-1.71zM63.81 136.5h1.71v1.81h-1.71zM77.49 136.5h1.71v1.81h-1.71zM98.02 136.5h1.71v1.81h-1.71zM120.26 136.5h1.71v1.81h-1.71zM132.23 136.5h1.71v1.81h-1.71zM137.36 136.5h1.71v1.81h-1.71zM151.05 136.5h1.71v1.81h-1.71zM50.13 138.31h1.71v1.81h-1.71zM58.68 138.31h1.71v1.81h-1.71zM92.89 138.31h1.71v1.81h-1.71zM106.57 138.31h1.71v1.81h-1.71zM128.81 138.31h1.71v1.81h-1.71zM132.23 138.31h1.71v1.81h-1.71zM135.65 138.31h1.71v1.81h-1.71zM34.73 140.13h1.71v1.81h-1.71zM38.15 140.13h1.71v1.81h-1.71zM55.26 140.13h1.71v1.81h-1.71zM58.68 140.13h1.71v1.81h-1.71zM68.94 140.13h1.71v1.81h-1.71zM74.07 140.13h1.71v1.81h-1.71zM91.18 140.13h1.71v1.81h-1.71zM103.15 140.13h1.71v1.81h-1.71zM106.57 140.13h1.71v1.81h-1.71zM109.99 140.13h1.71v1.81h-1.71zM118.55 140.13h1.71v1.81h-1.71zM144.21 140.13h1.71v1.81h-1.71zM157.89 140.13h1.71v1.81h-1.71zM29.6 141.94h1.71v1.81h-1.71zM67.23 141.94h1.71v1.81h-1.71zM80.92 141.94h1.71v1.81h-1.71zM82.63 141.94h1.71v1.81h-1.71zM87.76 141.94h1.71v1.81h-1.71zM91.18 141.94h1.71v1.81h-1.71zM96.31 141.94h1.71v1.81h-1.71zM120.26 141.94h1.71v1.81h-1.71zM130.52 141.94h1.71v1.81h-1.71zM157.89 141.94h1.71v1.81h-1.71zM38.15 143.76h1.71v1.81h-1.71zM53.55 143.76h1.71v1.81h-1.71zM55.26 143.76h1.71v1.81h-1.71zM58.68 143.76h1.71v1.81h-1.71zM68.94 143.76h1.71v1.81h-1.71zM84.34 143.76h1.71v1.81h-1.71zM91.18 143.76h1.71v1.81h-1.71zM140.78 143.76h1.71v1.81h-1.71zM144.21 143.76h1.71v1.81h-1.71zM29.6 145.57h1.71v1.81h-1.71zM36.44 145.57h1.71v1.81h-1.71zM56.97 145.57h1.71v1.81h-1.71zM62.1 145.57h1.71v1.81h-1.71zM63.81 145.57h1.71v1.81h-1.71zM65.52 145.57h1.71v1.81h-1.71zM86.05 145.57h1.71v1.81h-1.71zM98.02 145.57h1.71v1.81h-1.71zM104.86 145.57h1.71v1.81h-1.71zM133.94 145.57h1.71v1.81h-1.71zM135.65 145.57h1.71v1.81h-1.71zM156.18 145.57h1.71v1.81h-1.71zM38.15 147.39h1.71v1.81h-1.71zM41.57 147.39h1.71v1.81h-1.71zM43.28 147.39h1.71v1.81h-1.71zM111.71 147.39h1.71v1.81h-1.71zM157.89 147.39h1.71v1.81h-1.71zM164 136.5h1.71v1.81h-1.71zM196.4 136.5h1.71v1.81h-1.71zM199.81 136.5h1.71v1.81h-1.71zM218.57 136.5h1.71v1.81h-1.71zM230.51 136.5h1.71v1.81h-1.71zM237.33 136.5h1.71v1.81h-1.71zM254.39 136.5h1.71v1.81h-1.71zM269.74 136.5h1.71v1.81h-1.71zM165.71 138.31h1.71v1.81h-1.71zM177.64 138.31h1.71v1.81h-1.71zM194.7 138.31h1.71v1.81h-1.71zM199.81 138.31h1.71v1.81h-1.71zM204.93 138.31h1.71v1.81h-1.71zM206.64 138.31h1.71v1.81h-1.71zM233.92 138.31h1.71v1.81h-1.71zM250.98 138.31h1.71v1.81h-1.71zM257.8 138.31h1.71v1.81h-1.71zM259.5 138.31h1.71v1.81h-1.71zM261.21 138.31h1.71v1.81h-1.71zM264.62 138.31h1.71v1.81h-1.71zM269.74 138.31h1.71v1.81h-1.71zM283.38 138.31h1.71v1.81h-1.71zM285.08 138.31h1.71v1.81h-1.71zM170.82 140.13h1.71v1.81h-1.71zM179.35 140.13h1.71v1.81h-1.71zM186.17 140.13h1.71v1.81h-1.71zM199.81 140.13h1.71v1.81h-1.71zM208.34 140.13h1.71v1.81h-1.71zM261.21 140.13h1.71v1.81h-1.71zM264.62 140.13h1.71v1.81h-1.71zM271.44 140.13h1.71v1.81h-1.71zM281.67 140.13h1.71v1.81h-1.71zM175.94 141.94h1.71v1.81h-1.71zM179.35 141.94h1.71v1.81h-1.71zM192.99 141.94h1.71v1.81h-1.71zM204.93 141.94h1.71v1.81h-1.71zM206.64 141.94h1.71v1.81h-1.71zM244.15 141.94h1.71v1.81h-1.71zM247.56 141.94h1.71v1.81h-1.71zM249.27 141.94h1.71v1.81h-1.71zM254.39 141.94h1.71v1.81h-1.71zM174.23 143.76h1.71v1.81h-1.71zM189.58 143.76h1.71v1.81h-1.71zM203.22 143.76h1.71v1.81h-1.71zM237.33 143.76h1.71v1.81h-1.71zM249.27 143.76h1.71v1.81h-1.71zM261.21 143.76h1.71v1.81h-1.71zM278.26 143.76h1.71v1.81h-1.71zM281.67 143.76h1.71v1.81h-1.71zM175.94 145.57h1.71v1.81h-1.71zM203.22 145.57h1.71v1.81h-1.71zM210.05 145.57h1.71v1.81h-1.71zM230.51 145.57h1.71v1.81h-1.71zM232.22 145.57h1.71v1.81h-1.71zM242.45 145.57h1.71v1.81h-1.71zM271.44 145.57h1.71v1.81h-1.71zM278.26 145.57h1.71v1.81h-1.71zM279.97 145.57h1.71v1.81h-1.71zM186.17 147.39h1.71v1.81h-1.71zM196.4 147.39h1.71v1.81h-1.71zM198.11 147.39h1.71v1.81h-1.71zM216.87 147.39h1.71v1.81h-1.71zM249.27 147.39h1.71v1.81h-1.71zM285.08 147.39h1.71v1.81h-1.71z"/>
<path fill="#8ca028" d="M192.99 16.8h1.71v1.9h-1.71zM223.69 16.8h1.71v1.9h-1.71zM230.51 16.8h1.71v1.9h-1.71zM250.98 16.8h1.71v1.9h-1.71zM164 18.7h1.71v1.9h-1.71zM181.05 18.7h1.71v1.9h-1.71zM186.17 18.7h1.71v1.9h-1.71zM227.1 18.7h1.71v1.9h-1.71zM228.81 18.7h1.71v1.9h-1.71zM240.74 18.7h1.71v1.9h-1.71zM245.86 18.7h1.71v1.9h-1.71zM261.21 18.7h1.71v1.9h-1.71zM174.23 20.6h1.71v1.9h-1.71zM213.46 20.6h1.71v1.9h-1.71zM228.81 20.6h1.71v1.9h-1.71zM259.5 20.6h1.71v1.9h-1.71zM274.85 20.6h1.71v1.9h-1.71zM281.67 20.6h1.71v1.9h-1.71zM239.04 22.5h1.71v1.9h-1.71zM278.26 22.5h1.71v1.9h-1.71zM151.05 29.84h1.71v1.81h-1.71zM67.23 33.47h1.71v1.81h-1.71zM127.1 37.09h1.71v1.81h-1.71zM128.81 38.91h1.71v1.81h-1.71zM156.18 38.91h1.71v1.81h-1.71zM137.36 42.54h1.71v1.81h-1.71zM140.78 44.35h1.71v1.81h-1.71zM103.15 46.16h1.71v1.81h-1.71zM135.65 47.98h1.71v1.81h-1.71zM149.34 47.98h1.71v1.81h-1.71zM121.97 53.42h1.71v1.81h-1.71zM157.89 76.99h1.71v1.81h-1.71zM254.39 29.84h1.71v1.81h-1.71zM283.38 33.47h1.71v1.81h-1.71zM223.69 35.28h1.71v1.81h-1.71zM279.97 37.09h1.71v1.81h-1.71zM281.67 38.91h1.71v1.81h-1.71zM268.03 42.54h1.71v1.81h-1.71zM194.7 44.35h1.71v1.81h-1.71zM279.97 49.79h1.71v1.81h-1.71zM254.39 51.6h1.71v1.81h-1.71zM273.15 51.6h1.71v1.81h-1.71zM266.32 53.42h1.71v1.81h-1.71zM230.51 55.23h1.71v1.81h-1.71zM254.39 55.23h1.71v1.81h-1.71zM279.97 57.04h1.71v1.81h-1.71zM192.99 58.86h1.71v1.81h-1.71zM223.69 58.86h1.71v1.81h-1.71zM259.5 62.48h1.71v1.81h-1.71zM242.45 64.3h1.71v1.81h-1.71zM247.56 67.92h1.71v1.81h-1.71zM239.04 69.74h1.71v1.81h-1.71zM240.74 71.55h1.71v1.81h-1.71zM269.74 73.36h1.71v1.81h-1.71zM276.56 73.36h1.71v1.81h-1.71zM210.05 76.99h1.71v1.81h-1.71zM288.49 76.99h1.71v1.81h-1.71zM208.34 78.81h1.71v1.81h-1.71zM286.79 82.43h1.71v1.81h-1.71zM239.04 87.87h1.71v1.81h-1.71zM116.84 95.4h1.71v1.85h-1.71zM56.97 97.25h1.71v1.85h-1.71zM34.73 99.11h1.71v1.85h-1.71zM98.02 99.11h1.71v1.85h-1.71zM44.99 102.82h1.71v1.85h-1.71zM98.02 108.38h1.71v1.85h-1.71zM36.44 110.24h1.71v1.85h-1.71zM60.39 112.09h1.71v1.85h-1.71zM82.63 113.95h1.71v1.85h-1.71zM92.89 113.95h1.71v1.85h-1.71zM101.44 113.95h1.71v1.85h-1.71zM264.62 136.5h1.71v1.81h-1.71zM215.16 141.94h1.71v1.81h-1.71zM225.39 143.76h1.71v1.81h-1.71zM221.98 145.57h1.71v1.81h-1.71zM254.39 147.39h1.71v1.81h-1.71z"/>
<path fill="#b4c83c" d="M198.11 16.8h1.71v1.9h-1.71zM286.79 18.7h1.71v1.9h-1.71zM235.63 20.6h1.71v1.9h-1.71zM227.1 22.5h1.71v1.9h-1.71zM65.52 28.03h1.71v1.81h-1.71zM98.02 31.65h1.71v1.81h-1.71zM157.89 35.28h1.71v1.81h-1.71zM92.89 40.72h1.71v1.81h-1.71zM157.89 47.98h1.71v1.81h-1.71zM137.36 55.23h1.71v1.81h-1.71zM149.34 78.81h1.71v1.81h-1.71zM142.49 89.69h1.71v1.81h-1.71zM194.7 28.03h1.71v1.81h-1.71zM288.49 31.65h1.71v1.81h-1.71zM268.03 47.98h1.71v1.81h-1.71zM182.76 51.6h1.71v1.81h-1.71zM254.39 60.67h1.71v1.81h-1.71zM189.58 66.11h1.71v1.81h-1.71zM215.16 71.55h1.71v1.81h-1.71zM198.11 73.36h1.71v1.81h-1.71zM230.51 82.43h1.71v1.81h-1.71zM281.67 86.06h1.71v1.81h-1.71zM286.79 86.06h1.71v1.81h-1.71zM242.45 87.87h1.71v1.81h-1.71zM87.76 108.38h1.71v1.85h-1.71zM44.99 113.95h1.71v1.85h-1.71zM46.71 113.95h1.71v1.85h-1.71zM232.22 97.25h1.71v1.85h-1.71zM276.56 104.67h1.71v1.85h-1.71z"/>
<path fill="#8c8c28" d="M199.81 16.8h1.71v1.9h-1.71zM227.1 16.8h1.71v1.9h-1.71zM235.63 16.8h1.71v1.9h-1.71zM249.27 16.8h1.71v1.9h-1.71zM252.68 16.8h1.71v1.9h-1.71zM254.39 16.8h1.71v1.9h-1.71zM259.5 16.8h1.71v1.9h-1.71zM281.67 16.8h1.71v1.9h-1.71zM285.08 16.8h1.71v1.9h-1.71zM225.39 18.7h1.71v1.9h-1.71zM230.51 18.7h1.71v1.9h-1.71zM239.04 18.7h1.71v1.9h-1.71zM252.68 18.7h1.71v1.9h-1.71zM254.39 18.7h1.71v1.9h-1.71zM285.08 18.7h1.71v1.9h-1.71zM169.12 20.6h1.71v1.9h-1.71zM175.94 20.6h1.71v1.9h-1.71zM184.46 20.6h1.71v1.9h-1.71zM189.58 20.6h1.71v1.9h-1.71zM201.52 20.6h1.71v1.9h-1.71zM204.93 20.6h1.71v1.9h-1.71zM208.34 20.6h1.71v1.9h-1.71zM210.05 20.6h1.71v1.9h-1.71zM211.75 20.6h1.71v1.9h-1.71zM245.86 20.6h1.71v1.9h-1.71zM262.91 20.6h1.71v1.9h-1.71zM266.32 20.6h1.71v1.9h-1.71zM288.49 20.6h1.71v1.9h-1.71zM165.71 22.5h1.71v1.9h-1.71zM174.23 22.5h1.71v1.9h-1.71zM182.76 22.5h1.71v1.9h-1.71zM216.87 22.5h1.71v1.9h-1.71zM218.57 22.5h1.71v1.9h-1.71zM250.98 22.5h1.71v1.9h-1.71zM254.39 22.5h1.71v1.9h-1.71zM261.21 22.5h1.71v1.9h-1.71zM271.44 22.5h1.71v1.9h-1.71zM276.56 22.5h1.71v1.9h-1.71zM285.08 22.5h1.71v1.9h-1.71zM50.13 28.03h1.71v1.81h-1.71zM55.26 28.03h1.71v1.81h-1.71zM38.15 29.84h1.71v1.81h-1.71zM80.92 29.84h1.71v1.81h-1.71zM145.92 29.84h1.71v1.81h-1.71zM145.92 31.65h1.71v1.81h-1.71zM132.23 35.28h1.71v1.81h-1.71zM152.76 35.28h1.71v1.81h-1.71zM86.05 37.09h1.71v1.81h-1.71zM145.92 37.09h1.71v1.81h-1.71zM156.18 42.54h1.71v1.81h-1.71zM142.49 44.35h1.71v1.81h-1.71zM111.71 47.98h1.71v1.81h-1.71zM86.05 49.79h1.71v1.81h-1.71zM75.78 53.42h1.71v1.81h-1.71zM118.55 53.42h1.71v1.81h-1.71zM137.36 53.42h1.71v1.81h-1.71zM139.07 53.42h1.71v1.81h-1.71zM113.42 55.23h1.71v1.81h-1.71zM154.47 55.23h1.71v1.81h-1.71zM121.97 57.04h1.71v1.81h-1.71zM55.26 58.86h1.71v1.81h-1.71zM72.36 58.86h1.71v1.81h-1.71zM145.92 60.67h1.71v1.81h-1.71zM142.49 62.48h1.71v1.81h-1.71zM46.71 64.3h1.71v1.81h-1.71zM149.34 64.3h1.71v1.81h-1.71zM156.18 64.3h1.71v1.81h-1.71zM68.94 66.11h1.71v1.81h-1.71zM152.76 66.11h1.71v1.81h-1.71zM123.68 69.74h1.71v1.81h-1.71zM139.07 69.74h1.71v1.81h-1.71zM118.55 71.55h1.71v1.81h-1.71zM79.21 73.36h1.71v1.81h-1.71zM36.44 75.18h1.71v1.81h-1.71zM89.47 75.18h1.71v1.81h-1.71zM120.26 75.18h1.71v1.81h-1.71zM144.21 75.18h1.71v1.81h-1.71zM147.63 75.18h1.71v1.81h-1.71zM63.81 82.43h1.71v1.81h-1.71zM96.31 82.43h1.71v1.81h-1.71zM120.26 82.43h1.71v1.81h-1.71zM154.47 82.43h1.71v1.81h-1.71zM120.26 84.25h1.71v1.81h-1.71zM31.31 86.06h1.71v1.81h-1.71zM127.1 87.87h1.71v1.81h-1.71zM33.02 89.69h1.71v1.81h-1.71zM56.97 89.69h1.71v1.81h-1.71zM221.98 28.03h1.71v1.81h-1.71zM223.69 29.84h1.71v1.81h-1.71zM164 31.65h1.71v1.81h-1.71zM187.88 31.65h1.71v1.81h-1.71zM235.63 31.65h1.71v1.81h-1.71zM262.91 31.65h1.71v1.81h-1.71zM266.32 31.65h1.71v1.81h-1.71zM286.79 31.65h1.71v1.81h-1.71zM186.17 33.47h1.71v1.81h-1.71zM187.88 33.47h1.71v1.81h-1.71zM201.52 37.09h1.71v1.81h-1.71zM223.69 37.09h1.71v1.81h-1.71zM237.33 37.09h1.71v1.81h-1.71zM257.8 37.09h1.71v1.81h-1.71zM210.05 38.91h1.71v1.81h-1.71zM216.87 38.91h1.71v1.81h-1.71zM247.56 38.91h1.71v1.81h-1.71zM262.91 38.91h1.71v1.81h-1.71zM274.85 38.91h1.71v1.81h-1.71zM186.17 40.72h1.71v1.81h-1.71zM182.76 42.54h1.71v1.81h-1.71zM274.85 42.54h1.71v1.81h-1.71zM286.79 42.54h1.71v1.81h-1.71zM221.98 44.35h1.71v1.81h-1.71zM244.15 44.35h1.71v1.81h-1.71zM259.5 44.35h1.71v1.81h-1.71zM266.32 44.35h1.71v1.81h-1.71zM274.85 44.35h1.71v1.81h-1.71zM281.67 44.35h1.71v1.81h-1.71zM194.7 46.16h1.71v1.81h-1.71zM239.04 46.16h1.71v1.81h-1.71zM276.56 46.16h1.71v1.81h-1.71zM288.49 46.16h1.71v1.81h-1.71zM186.17 47.98h1.71v1.81h-1.71zM215.16 47.98h1.71v1.81h-1.71zM237.33 47.98h1.71v1.81h-1.71zM274.85 47.98h1.71v1.81h-1.71zM191.29 49.79h1.71v1.81h-1.71zM218.57 49.79h1.71v1.81h-1.71zM244.15 49.79h1.71v1.81h-1.71zM271.44 49.79h1.71v1.81h-1.71zM250.98 51.6h1.71v1.81h-1.71zM167.41 53.42h1.71v1.81h-1.71zM172.53 53.42h1.71v1.81h-1.71zM206.64 53.42h1.71v1.81h-1.71zM175.94 55.23h1.71v1.81h-1.71zM199.81 55.23h1.71v1.81h-1.71zM228.81 55.23h1.71v1.81h-1.71zM268.03 55.23h1.71v1.81h-1.71zM186.17 57.04h1.71v1.81h-1.71zM216.87 57.04h1.71v1.81h-1.71zM281.67 57.04h1.71v1.81h-1.71zM221.98 58.86h1.71v1.81h-1.71zM244.15 58.86h1.71v1.81h-1.71zM257.8 58.86h1.71v1.81h-1.71zM273.15 58.86h1.71v1.81h-1.71zM174.23 60.67h1.71v1.81h-1.71zM225.39 60.67h1.71v1.81h-1.71zM232.22 60.67h1.71v1.81h-1.71zM250.98 60.67h1.71v1.81h-1.71zM179.35 62.48h1.71v1.81h-1.71zM220.28 62.48h1.71v1.81h-1.71zM279.97 62.48h1.71v1.81h-1.71zM184.46 64.3h1.71v1.81h-1.71zM274.85 64.3h1.71v1.81h-1.71zM276.56 64.3h1.71v1.81h-1.71zM240.74 66.11h1.71v1.81h-1.71zM268.03 66.11h1.71v1.81h-1.71zM286.79 66.11h1.71v1.81h-1.71zM169.12 67.92h1.71v1.81h-1.71zM186.17 67.92h1.71v1.81h-1.71zM259.5 67.92h1.71v1.81h-1.71zM230.51 69.74h1.71v1.81h-1.71zM249.27 69.74h1.71v1.81h-1.71zM191.29 71.55h1.71v1.81h-1.71zM239.04 71.55h1.71v1.81h-1.71zM242.45 71.55h1.71v1.81h-1.71zM288.49 71.55h1.71v1.81h-1.71zM204.93 73.36h1.71v1.81h-1.71zM232.22 73.36h1.71v1.81h-1.71zM239.04 73.36h1.71v1.81h-1.71zM198.11 75.18h1.71v1.81h-1.71zM201.52 75.18h1.71v1.81h-1.71zM256.09 75.18h1.71v1.81h-1.71zM170.82 76.99h1.71v1.81h-1.71zM194.7 76.99h1.71v1.81h-1.71zM257.8 76.99h1.71v1.81h-1.71zM269.74 76.99h1.71v1.81h-1.71zM286.79 76.99h1.71v1.81h-1.71zM169.12 78.81h1.71v1.81h-1.71zM271.44 78.81h1.71v1.81h-1.71zM181.05 80.62h1.71v1.81h-1.71zM213.46 80.62h1.71v1.81h-1.71zM230.51 80.62h1.71v1.81h-1.71zM216.87 82.43h1.71v1.81h-1.71zM268.03 82.43h1.71v1.81h-1.71zM186.17 84.25h1.71v1.81h-1.71zM225.39 84.25h1.71v1.81h-1.71zM257.8 86.06h1.71v1.81h-1.71zM191.29 87.87h1.71v1.81h-1.71zM206.64 87.87h1.71v1.81h-1.71zM165.71 89.69h1.71v1.81h-1.71zM182.76 89.69h1.71v1.81h-1.71zM210.05 89.69h1.71v1.81h-1.71zM268.03 89.69h1.71v1.81h-1.71zM285.08 89.69h1.71v1.81h-1.71zM77.49 95.4h1.71v1.85h-1.71zM96.31 95.4h1.71v1.85h-1.71zM120.26 95.4h1.71v1.85h-1.71zM133.94 95.4h1.71v1.85h-1.71zM89.47 97.25h1.71v1.85h-1.71zM111.71 97.25h1.71v1.85h-1.71zM154.47 97.25h1.71v1.85h-1.71zM33.02 99.11h1.71v1.85h-1.71zM46.71 99.11h1.71v1.85h-1.71zM53.55 99.11h1.71v1.85h-1.71zM113.42 99.11h1.71v1.85h-1.71zM44.99 100.96h1.71v1.85h-1.71zM46.71 100.96h1.71v1.85h-1.71zM53.55 100.96h1.71v1.85h-1.71zM89.47 100.96h1.71v1.85h-1.71zM39.86 102.82h1.71v1.85h-1.71zM46.71 102.82h1.71v1.85h-1.71zM58.68 102.82h1.71v1.85h-1.71zM65.52 102.82h1.71v1.85h-1.71zM67.23 104.67h1.71v1.85h-1.71zM116.84 104.67h1.71v1.85h-1.71zM34.73 106.53h1.71v1.85h-1.71zM43.28 108.38h1.71v1.85h-1.71zM44.99 108.38h1.71v1.85h-1.71zM58.68 108.38h1.71v1.85h-1.71zM82.63 108.38h1.71v1.85h-1.71zM156.18 108.38h1.71v1.85h-1.71zM29.6 110.24h1.71v1.85h-1.71zM44.99 110.24h1.71v1.85h-1.71zM56.97 110.24h1.71v1.85h-1.71zM120.26 110.24h1.71v1.85h-1.71zM130.52 110.24h1.71v1.85h-1.71zM154.47 110.24h1.71v1.85h-1.71zM48.42 112.09h1.71v1.85h-1.71zM51.84 112.09h1.71v1.85h-1.71zM70.65 112.09h1.71v1.85h-1.71zM103.15 112.09h1.71v1.85h-1.71zM109.99 112.09h1.71v1.85h-1.71zM123.68 112.09h1.71v1.85h-1.71zM41.57 113.95h1.71v1.85h-1.71zM68.94 113.95h1.71v1.85h-1.71zM79.21 113.95h1.71v1.85h-1.71zM84.34 113.95h1.71v1.85h-1.71zM154.47 113.95h1.71v1.85h-1.71zM192.99 95.4h1.71v1.85h-1.71zM206.64 95.4h1.71v1.85h-1.71zM240.74 97.25h1.71v1.85h-1.71zM177.64 99.11h1.71v1.85h-1.71zM235.63 99.11h1.71v1.85h-1.71zM237.33 99.11h1.71v1.85h-1.71zM237.33 100.96h1.71v1.85h-1.71zM187.88 102.82h1.71v1.85h-1.71zM242.45 102.82h1.71v1.85h-1.71zM281.67 102.82h1.71v1.85h-1.71zM285.08 102.82h1.71v1.85h-1.71zM194.7 104.67h1.71v1.85h-1.71zM201.52 106.53h1.71v1.85h-1.71zM170.82 108.38h1.71v1.85h-1.71zM179.35 108.38h1.71v1.85h-1.71zM221.98 112.09h1.71v1.85h-1.71zM262.91 112.09h1.71v1.85h-1.71zM172.53 113.95h1.71v1.85h-1.71zM228.81 113.95h1.71v1.85h-1.71zM132.23 129.2h1.71v1.65h-1.71zM137.36 129.2h1.71v1.65h-1.71zM145.92 129.2h1.71v1.65h-1.71zM152.76 129.2h1.71v1.65h-1.71zM157.89 129.2h1.71v1.65h-1.71zM53.55 130.85h1.71v1.65h-1.71zM56.97 130.85h1.71v1.65h-1.71zM233.92 129.2h1.71v1.65h-1.71zM262.91 129.2h1.71v1.65h-1.71zM279.97 129.2h1.71v1.65h-1.71zM149.34 136.5h1.71v1.81h-1.71zM156.18 136.5h1.71v1.81h-1.71zM34.73 138.31h1.71v1.81h-1.71zM56.97 138.31h1.71v1.81h-1.71zM111.71 140.13h1.71v1.81h-1.71zM116.84 140.13h1.71v1.81h-1.71zM106.57 141.94h1.71v1.81h-1.71zM109.99 141.94h1.71v1.81h-1.71zM140.78 141.94h1.71v1.81h-1.71zM63.81 143.76h1.71v1.81h-1.71zM68.94 145.57h1.71v1.81h-1.71zM142.49 145.57h1.71v1.81h-1.71zM135.65 147.39h1.71v1.81h-1.71zM187.88 136.5h1.71v1.81h-1.71zM191.29 136.5h1.71v1.81h-1.71zM227.1 136.5h1.71v1.81h-1.71zM262.91 136.5h1.71v1.81h-1.71zM286.79 136.5h1.71v1.81h-1.71zM179.35 138.31h1.71v1.81h-1.71zM216.87 138.31h1.71v1.81h-1.71zM235.63 138.31h1.71v1.81h-1.71zM206.64 140.13h1.71v1.81h-1.71zM221.98 140.13h1.71v1.81h-1.71zM257.8 140.13h1.71v1.81h-1.71zM167.41 141.94h1.71v1.81h-1.71zM181.05 141.94h1.71v1.81h-1.71zM198.11 141.94h1.71v1.81h-1.71zM223.69 141.94h1.71v1.81h-1.71zM245.86 141.94h1.71v1.81h-1.71zM286.79 141.94h1.71v1.81h-1.71zM167.41 143.76h1.71v1.81h-1.71zM227.1 143.76h1.71v1.81h-1.71zM240.74 143.76h1.71v1.81h-1.71zM262.91 143.76h1.71v1.81h-1.71zM286.79 143.76h1.71v1.81h-1.71zM186.17 145.57h1.71v1.81h-1.71zM223.69 145.57h1.71v1.81h-1.71zM249.27 145.57h1.71v1.81h-1.71zM273.15 145.57h1.71v1.81h-1.71zM283.38 145.57h1.71v1.81h-1.71zM192.99 147.39h1.71v1.81h-1.71zM223.69 147.39h1.71v1.81h-1.71zM262.91 147.39h1.71v1.81h-1.71z"/>
<path fill="#3c5028" d="M201.52 16.8h1.71v1.9h-1.71zM256.09 18.7h1.71v1.9h-1.71zM237.33 22.5h1.71v1.9h-1.71z"/>
<path fill="#c8dc3c" d="M203.22 16.8h1.71v1.9h-1.71zM172.53 22.5h1.71v1.9h-1.71zM177.64 22.5h1.71v1.9h-1.71z"/>
<path fill="#a0b428" d="M204.93 16.8h1.71v1.9h-1.71zM266.32 16.8h1.71v1.9h-1.71zM276.56 18.7h1.71v1.9h-1.71zM273.15 20.6h1.71v1.9h-1.71zM208.34 22.5h1.71v1.9h-1.71zM235.63 22.5h1.71v1.9h-1.71zM240.74 22.5h1.71v1.9h-1.71zM70.65 31.65h1.71v1.81h-1.71zM33.02 33.47h1.71v1.81h-1.71zM130.52 47.98h1.71v1.81h-1.71zM125.39 66.11h1.71v1.81h-1.71zM77.49 82.43h1.71v1.81h-1.71zM34.73 89.69h1.71v1.81h-1.71zM232.22 29.84h1.71v1.81h-1.71zM230.51 33.47h1.71v1.81h-1.71zM279.97 33.47h1.71v1.81h-1.71zM242.45 49.79h1.71v1.81h-1.71zM175.94 60.67h1.71v1.81h-1.71zM221.98 64.3h1.71v1.81h-1.71zM269.74 66.11h1.71v1.81h-1.71zM177.64 67.92h1.71v1.81h-1.71zM278.26 67.92h1.71v1.81h-1.71zM279.97 69.74h1.71v1.81h-1.71zM250.98 82.43h1.71v1.81h-1.71zM108.28 100.96h1.71v1.85h-1.71zM41.57 102.82h1.71v1.85h-1.71zM157.89 106.53h1.71v1.85h-1.71zM63.81 113.95h1.71v1.85h-1.71zM210.05 95.4h1.71v1.85h-1.71zM264.62 110.24h1.71v1.85h-1.71zM228.81 140.13h1.71v1.81h-1.71zM239.04 140.13h1.71v1.81h-1.71zM242.45 143.76h1.71v1.81h-1.71z"/>
<path fill="#3c3c28" d="M206.64 16.8h1.71v1.9h-1.71zM179.35 20.6h1.71v1.9h-1.71zM232.22 20.6h1.71v1.9h-1.71zM186.17 22.5h1.71v1.9h-1.71zM157.89 24.4h1.71v1.81h-1.71zM157.89 60.67h1.71v1.81h-1.71zM157.89 67.92h1.71v1.81h-1.71zM276.56 35.28h1.71v1.81h-1.71zM279.97 51.6h1.71v1.81h-1.71zM288.49 55.23h1.71v1.81h-1.71zM281.67 60.67h1.71v1.81h-1.71zM283.38 60.67h1.71v1.81h-1.71zM286.79 60.67h1.71v1.81h-1.71zM288.49 73.36h1.71v1.81h-1.71zM281.67 80.62h1.71v1.81h-1.71zM74.07 129.2h1.71v1.65h-1.71zM87.76 130.85h1.71v1.65h-1.71z"/>
<path fill="#788c28" d="M213.46 16.8h1.71v1.9h-1.71zM261.21 16.8h1.71v1.9h-1.71zM262.91 16.8h1.71v1.9h-1.71zM184.46 18.7h1.71v1.9h-1.71zM211.75 18.7h1.71v1.9h-1.71zM220.28 18.7h1.71v1.9h-1.71zM244.15 18.7h1.71v1.9h-1.71zM274.85 18.7h1.71v1.9h-1.71zM239.04 20.6h1.71v1.9h-1.71zM268.03 20.6h1.71v1.9h-1.71zM278.26 20.6h1.71v1.9h-1.71zM285.08 20.6h1.71v1.9h-1.71zM192.99 22.5h1.71v1.9h-1.71zM198.11 22.5h1.71v1.9h-1.71zM154.47 28.03h1.71v1.81h-1.71zM130.52 29.84h1.71v1.81h-1.71zM38.15 31.65h1.71v1.81h-1.71zM149.34 37.09h1.71v1.81h-1.71zM65.52 47.98h1.71v1.81h-1.71zM142.49 53.42h1.71v1.81h-1.71zM157.89 53.42h1.71v1.81h-1.71zM145.92 57.04h1.71v1.81h-1.71zM154.47 60.67h1.71v1.81h-1.71zM156.18 67.92h1.71v1.81h-1.71zM130.52 69.74h1.71v1.81h-1.71zM132.23 75.18h1.71v1.81h-1.71zM104.86 80.62h1.71v1.81h-1.71zM157.89 82.43h1.71v1.81h-1.71zM271.44 29.84h1.71v1.81h-1.71zM206.64 31.65h1.71v1.81h-1.71zM240.74 31.65h1.71v1.81h-1.71zM268.03 31.65h1.71v1.81h-1.71zM228.81 33.47h1.71v1.81h-1.71zM206.64 37.09h1.71v1.81h-1.71zM227.1 40.72h1.71v1.81h-1.71zM192.99 44.35h1.71v1.81h-1.71zM167.41 46.16h1.71v1.81h-1.71zM208.34 49.79h1.71v1.81h-1.71zM264.62 49.79h1.71v1.81h-1.71zM187.88 51.6h1.71v1.81h-1.71zM194.7 51.6h1.71v1.81h-1.71zM223.69 51.6h1.71v1.81h-1.71zM278.26 51.6h1.71v1.81h-1.71zM240.74 58.86h1.71v1.81h-1.71zM172.53 60.67h1.71v1.81h-1.71zM286.79 62.48h1.71v1.81h-1.71zM194.7 66.11h1.71v1.81h-1.71zM181.05 69.74h1.71v1.81h-1.71zM186.17 73.36h1.71v1.81h-1.71zM228.81 73.36h1.71v1.81h-1.71zM288.49 75.18h1.71v1.81h-1.71zM232.22 80.62h1.71v1.81h-1.71zM257.8 80.62h1.71v1.81h-1.71zM261.21 80.62h1.71v1.81h-1.71zM252.68 82.43h1.71v1.81h-1.71zM191.29 84.25h1.71v1.81h-1.71zM288.49 84.25h1.71v1.81h-1.71zM247.56 86.06h1.71v1.81h-1.71zM261.21 86.06h1.71v1.81h-1.71zM254.39 87.87h1.71v1.81h-1.71zM247.56 89.69h1.71v1.81h-1.71zM101.44 100.96h1.71v1.85h-1.71zM56.97 104.67h1.71v1.85h-1.71zM98.02 104.67h1.71v1.85h-1.71zM80.92 106.53h1.71v1.85h-1.71zM53.55 110.24h1.71v1.85h-1.71zM72.36 113.95h1.71v1.85h-1.71zM268.03 106.53h1.71v1.85h-1.71zM215.16 108.38h1.71v1.85h-1.71zM203.22 113.95h1.71v1.85h-1.71zM268.03 138.31h1.71v1.81h-1.71zM239.04 143.76h1.71v1.81h-1.71zM252.68 143.76h1.71v1.81h-1.71zM203.22 147.39h1.71v1.81h-1.71z"/>
<path fill="#dcdc3c" d="M220.28 16.8h1.71v1.9h-1.71zM221.98 16.8h1.71v1.9h-1.71zM274.85 16.8h1.71v1.9h-1.71zM169.12 18.7h1.71v1.9h-1.71zM172.53 18.7h1.71v1.9h-1.71zM232.22 18.7h1.71v1.9h-1.71zM259.5 18.7h1.71v1.9h-1.71zM177.64 20.6h1.71v1.9h-1.71zM181.05 22.5h1.71v1.9h-1.71zM187.88 22.5h1.71v1.9h-1.71zM257.8 22.5h1.71v1.9h-1.71zM259.5 22.5h1.71v1.9h-1.71zM283.38 22.5h1.71v1.9h-1.71z"/>
<path fill="#282828" d="M170.82 18.7h1.71v1.9h-1.71zM199.81 18.7h1.71v1.9h-1.71zM165.71 20.6h1.71v1.9h-1.71zM182.76 20.6h1.71v1.9h-1.71zM271.44 20.6h1.71v1.9h-1.71zM225.39 22.5h1.71v1.9h-1.71zM232.22 22.5h1.71v1.9h-1.71zM101.44 28.03h1.71v1.81h-1.71zM127.1 28.03h1.71v1.81h-1.71zM130.52 28.03h1.71v1.81h-1.71zM137.36 28.03h1.71v1.81h-1.71zM121.97 29.84h1.71v1.81h-1.71zM139.07 29.84h1.71v1.81h-1.71zM144.21 29.84h1.71v1.81h-1.71zM118.55 31.65h1.71v1.81h-1.71zM123.68 31.65h1.71v1.81h-1.71zM132.23 31.65h1.71v1.81h-1.71zM154.47 31.65h1.71v1.81h-1.71zM101.44 33.47h1.71v1.81h-1.71zM130.52 33.47h1.71v1.81h-1.71zM133.94 33.47h1.71v1.81h-1.71zM137.36 33.47h1.71v1.81h-1.71zM140.78 33.47h1.71v1.81h-1.71zM147.63 33.47h1.71v1.81h-1.71zM151.05 33.47h1.71v1.81h-1.71zM98.02 35.28h1.71v1.81h-1.71zM108.28 35.28h1.71v1.81h-1.71zM111.71 35.28h1.71v1.81h-1.71zM130.52 35.28h1.71v1.81h-1.71zM125.39 37.09h1.71v1.81h-1.71zM130.52 37.09h1.71v1.81h-1.71zM140.78 37.09h1.71v1.81h-1.71zM142.49 37.09h1.71v1.81h-1.71zM144.21 37.09h1.71v1.81h-1.71zM147.63 37.09h1.71v1.81h-1.71zM157.89 37.09h1.71v1.81h-1.71zM109.99 38.91h1.71v1.81h-1.71zM113.42 38.91h1.71v1.81h-1.71zM123.68 38.91h1.71v1.81h-1.71zM133.94 38.91h1.71v1.81h-1.71zM137.36 38.91h1.71v1.81h-1.71zM144.21 38.91h1.71v1.81h-1.71zM104.86 40.72h1.71v1.81h-1.71zM106.57 40.72h1.71v1.81h-1.71zM139.07 40.72h1.71v1.81h-1.71zM145.92 42.54h1.71v1.81h-1.71zM106.57 44.35h1.71v1.81h-1.71zM147.63 44.35h1.71v1.81h-1.71zM106.57 46.16h1.71v1.81h-1.71zM115.13 46.16h1.71v1.81h-1.71zM125.39 46.16h1.71v1.81h-1.71zM156.18 46.16h1.71v1.81h-1.71zM96.31 47.98h1.71v1.81h-1.71zM118.55 47.98h1.71v1.81h-1.71zM133.94 47.98h1.71v1.81h-1.71zM137.36 47.98h1.71v1.81h-1.71zM154.47 47.98h1.71v1.81h-1.71zM99.73 49.79h1.71v1.81h-1.71zM106.57 49.79h1.71v1.81h-1.71zM125.39 49.79h1.71v1.81h-1.71zM154.47 49.79h1.71v1.81h-1.71zM156.18 51.6h1.71v1.81h-1.71zM101.44 53.42h1.71v1.81h-1.71zM147.63 53.42h1.71v1.81h-1.71zM139.07 55.23h1.71v1.81h-1.71zM109.99 57.04h1.71v1.81h-1.71zM128.81 57.04h1.71v1.81h-1.71zM142.49 57.04h1.71v1.81h-1.71zM147.63 57.04h1.71v1.81h-1.71zM154.47 57.04h1.71v1.81h-1.71zM106.57 58.86h1.71v1.81h-1.71zM128.81 58.86h1.71v1.81h-1.71zM140.78 58.86h1.71v1.81h-1.71zM145.92 58.86h1.71v1.81h-1.71zM118.55 60.67h1.71v1.81h-1.71zM128.81 60.67h1.71v1.81h-1.71zM132.23 60.67h1.71v1.81h-1.71zM135.65 60.67h1.71v1.81h-1.71zM137.36 60.67h1.71v1.81h-1.71zM151.05 60.67h1.71v1.81h-1.71zM132.23 62.48h1.71v1.81h-1.71zM152.76 62.48h1.71v1.81h-1.71zM121.97 64.3h1.71v1.81h-1.71zM132.23 64.3h1.71v1.81h-1.71zM130.52 66.11h1.71v1.81h-1.71zM137.36 66.11h1.71v1.81h-1.71zM139.07 66.11h1.71v1.81h-1.71zM149.34 66.11h1.71v1.81h-1.71zM120.26 67.92h1.71v1.81h-1.71zM132.23 67.92h1.71v1.81h-1.71zM144.21 67.92h1.71v1.81h-1.71zM125.39 69.74h1.71v1.81h-1.71zM140.78 69.74h1.71v1.81h-1.71zM142.49 69.74h1.71v1.81h-1.71zM149.34 69.74h1.71v1.81h-1.71zM104.86 71.55h1.71v1.81h-1.71zM106.57 71.55h1.71v1.81h-1.71zM111.71 71.55h1.71v1.81h-1.71zM128.81 71.55h1.71v1.81h-1.71zM144.21 71.55h1.71v1.81h-1.71zM145.92 71.55h1.71v1.81h-1.71zM152.76 71.55h1.71v1.81h-1.71zM115.13 73.36h1.71v1.81h-1.71zM130.52 73.36h1.71v1.81h-1.71zM135.65 75.18h1.71v1.81h-1.71zM145.92 75.18h1.71v1.81h-1.71zM109.99 76.99h1.71v1.81h-1.71zM120.26 76.99h1.71v1.81h-1.71zM132.23 76.99h1.71v1.81h-1.71zM142.49 78.81h1.71v1.81h-1.71zM151.05 78.81h1.71v1.81h-1.71zM137.36 82.43h1.71v1.81h-1.71zM135.65 84.25h1.71v1.81h-1.71zM147.63 84.25h1.71v1.81h-1.71zM152.76 84.25h1.71v1.81h-1.71zM120.26 86.06h1.71v1.81h-1.71zM123.68 86.06h1.71v1.81h-1.71zM149.34 86.06h1.71v1.81h-1.71zM152.76 86.06h1.71v1.81h-1.71zM140.78 87.87h1.71v1.81h-1.71zM115.13 89.69h1.71v1.81h-1.71zM137.36 89.69h1.71v1.81h-1.71zM145.92 89.69h1.71v1.81h-1.71zM186.17 28.03h1.71v1.81h-1.71zM215.16 28.03h1.71v1.81h-1.71zM216.87 28.03h1.71v1.81h-1.71zM227.1 28.03h1.71v1.81h-1.71zM261.21 28.03h1.71v1.81h-1.71zM274.85 28.03h1.71v1.81h-1.71zM221.98 29.84h1.71v1.81h-1.71zM225.39 29.84h1.71v1.81h-1.71zM233.92 29.84h1.71v1.81h-1.71zM239.04 29.84h1.71v1.81h-1.71zM259.5 29.84h1.71v1.81h-1.71zM266.32 29.84h1.71v1.81h-1.71zM273.15 29.84h1.71v1.81h-1.71zM285.08 29.84h1.71v1.81h-1.71zM189.58 31.65h1.71v1.81h-1.71zM194.7 31.65h1.71v1.81h-1.71zM201.52 31.65h1.71v1.81h-1.71zM203.22 31.65h1.71v1.81h-1.71zM220.28 31.65h1.71v1.81h-1.71zM221.98 31.65h1.71v1.81h-1.71zM223.69 31.65h1.71v1.81h-1.71zM232.22 31.65h1.71v1.81h-1.71zM249.27 31.65h1.71v1.81h-1.71zM283.38 31.65h1.71v1.81h-1.71zM211.75 33.47h1.71v1.81h-1.71zM227.1 33.47h1.71v1.81h-1.71zM232.22 33.47h1.71v1.81h-1.71zM237.33 33.47h1.71v1.81h-1.71zM245.86 33.47h1.71v1.81h-1.71zM213.46 35.28h1.71v1.81h-1.71zM220.28 35.28h1.71v1.81h-1.71zM233.92 35.28h1.71v1.81h-1.71zM274.85 35.28h1.71v1.81h-1.71zM184.46 37.09h1.71v1.81h-1.71zM221.98 37.09h1.71v1.81h-1.71zM230.51 37.09h1.71v1.81h-1.71zM259.5 37.09h1.71v1.81h-1.71zM283.38 37.09h1.71v1.81h-1.71zM199.81 38.91h1.71v1.81h-1.71zM223.69 38.91h1.71v1.81h-1.71zM256.09 38.91h1.71v1.81h-1.71zM273.15 38.91h1.71v1.81h-1.71zM194.7 40.72h1.71v1.81h-1.71zM225.39 40.72h1.71v1.81h-1.71zM242.45 40.72h1.71v1.81h-1.71zM276.56 40.72h1.71v1.81h-1.71zM279.97 40.72h1.71v1.81h-1.71zM285.08 40.72h1.71v1.81h-1.71zM242.45 42.54h1.71v1.81h-1.71zM276.56 42.54h1.71v1.81h-1.71zM204.93 44.35h1.71v1.81h-1.71zM210.05 44.35h1.71v1.81h-1.71zM213.46 44.35h1.71v1.81h-1.71zM216.87 44.35h1.71v1.81h-1.71zM245.86 44.35h1.71v1.81h-1.71zM286.79 44.35h1.71v1.81h-1.71zM288.49 44.35h1.71v1.81h-1.71zM182.76 46.16h1.71v1.81h-1.71zM198.11 46.16h1.71v1.81h-1.71zM201.52 46.16h1.71v1.81h-1.71zM237.33 46.16h1.71v1.81h-1.71zM252.68 46.16h1.71v1.81h-1.71zM257.8 46.16h1.71v1.81h-1.71zM264.62 46.16h1.71v1.81h-1.71zM271.44 46.16h1.71v1.81h-1.71zM274.85 46.16h1.71v1.81h-1.71zM211.75 47.98h1.71v1.81h-1.71zM247.56 47.98h1.71v1.81h-1.71zM285.08 47.98h1.71v1.81h-1.71zM288.49 47.98h1.71v1.81h-1.71zM184.46 49.79h1.71v1.81h-1.71zM199.81 49.79h1.71v1.81h-1.71zM250.98 49.79h1.71v1.81h-1.71zM259.5 49.79h1.71v1.81h-1.71zM269.74 49.79h1.71v1.81h-1.71zM273.15 49.79h1.71v1.81h-1.71zM283.38 49.79h1.71v1.81h-1.71zM285.08 49.79h1.71v1.81h-1.71zM189.58 51.6h1.71v1.81h-1.71zM191.29 51.6h1.71v1.81h-1.71zM227.1 51.6h1.71v1.81h-1.71zM228.81 51.6h1.71v1.81h-1.71zM242.45 51.6h1.71v1.81h-1.71zM198.11 53.42h1.71v1.81h-1.71zM271.44 53.42h1.71v1.81h-1.71zM281.67 53.42h1.71v1.81h-1.71zM187.88 55.23h1.71v1.81h-1.71zM189.58 55.23h1.71v1.81h-1.71zM194.7 55.23h1.71v1.81h-1.71zM206.64 55.23h1.71v1.81h-1.71zM210.05 55.23h1.71v1.81h-1.71zM237.33 55.23h1.71v1.81h-1.71zM279.97 55.23h1.71v1.81h-1.71zM285.08 55.23h1.71v1.81h-1.71zM182.76 57.04h1.71v1.81h-1.71zM211.75 57.04h1.71v1.81h-1.71zM223.69 57.04h1.71v1.81h-1.71zM227.1 57.04h1.71v1.81h-1.71zM252.68 57.04h1.71v1.81h-1.71zM257.8 57.04h1.71v1.81h-1.71zM286.79 57.04h1.71v1.81h-1.71zM204.93 58.86h1.71v1.81h-1.71zM211.75 58.86h1.71v1.81h-1.71zM233.92 58.86h1.71v1.81h-1.71zM247.56 58.86h1.71v1.81h-1.71zM249.27 58.86h1.71v1.81h-1.71zM254.39 58.86h1.71v1.81h-1.71zM262.91 58.86h1.71v1.81h-1.71zM269.74 58.86h1.71v1.81h-1.71zM271.44 58.86h1.71v1.81h-1.71zM281.67 58.86h1.71v1.81h-1.71zM186.17 60.67h1.71v1.81h-1.71zM215.16 60.67h1.71v1.81h-1.71zM221.98 60.67h1.71v1.81h-1.71zM233.92 60.67h1.71v1.81h-1.71zM240.74 60.67h1.71v1.81h-1.71zM242.45 60.67h1.71v1.81h-1.71zM268.03 60.67h1.71v1.81h-1.71zM228.81 62.48h1.71v1.81h-1.71zM247.56 62.48h1.71v1.81h-1.71zM273.15 62.48h1.71v1.81h-1.71zM283.38 62.48h1.71v1.81h-1.71zM210.05 64.3h1.71v1.81h-1.71zM213.46 64.3h1.71v1.81h-1.71zM215.16 64.3h1.71v1.81h-1.71zM223.69 64.3h1.71v1.81h-1.71zM233.92 64.3h1.71v1.81h-1.71zM279.97 64.3h1.71v1.81h-1.71zM223.69 66.11h1.71v1.81h-1.71zM235.63 66.11h1.71v1.81h-1.71zM239.04 66.11h1.71v1.81h-1.71zM250.98 66.11h1.71v1.81h-1.71zM256.09 66.11h1.71v1.81h-1.71zM271.44 66.11h1.71v1.81h-1.71zM278.26 66.11h1.71v1.81h-1.71zM279.97 66.11h1.71v1.81h-1.71zM182.76 67.92h1.71v1.81h-1.71zM189.58 67.92h1.71v1.81h-1.71zM198.11 67.92h1.71v1.81h-1.71zM204.93 67.92h1.71v1.81h-1.71zM213.46 67.92h1.71v1.81h-1.71zM254.39 67.92h1.71v1.81h-1.71zM266.32 67.92h1.71v1.81h-1.71zM276.56 67.92h1.71v1.81h-1.71zM281.67 67.92h1.71v1.81h-1.71zM184.46 69.74h1.71v1.81h-1.71zM213.46 69.74h1.71v1.81h-1.71zM216.87 69.74h1.71v1.81h-1.71zM223.69 69.74h1.71v1.81h-1.71zM227.1 69.74h1.71v1.81h-1.71zM261.21 69.74h1.71v1.81h-1.71zM269.74 69.74h1.71v1.81h-1.71zM285.08 69.74h1.71v1.81h-1.71zM198.11 71.55h1.71v1.81h-1.71zM199.81 71.55h1.71v1.81h-1.71zM204.93 71.55h1.71v1.81h-1.71zM227.1 71.55h1.71v1.81h-1.71zM247.56 71.55h1.71v1.81h-1.71zM252.68 71.55h1.71v1.81h-1.71zM271.44 71.55h1.71v1.81h-1.71zM189.58 73.36h1.71v1.81h-1.71zM215.16 73.36h1.71v1.81h-1.71zM225.39 73.36h1.71v1.81h-1.71zM250.98 73.36h1.71v1.81h-1.71zM261.21 73.36h1.71v1.81h-1.71zM271.44 73.36h1.71v1.81h-1.71zM199.81 75.18h1.71v1.81h-1.71zM211.75 75.18h1.71v1.81h-1.71zM213.46 75.18h1.71v1.81h-1.71zM220.28 75.18h1.71v1.81h-1.71zM233.92 75.18h1.71v1.81h-1.71zM242.45 75.18h1.71v1.81h-1.71zM249.27 75.18h1.71v1.81h-1.71zM259.5 75.18h1.71v1.81h-1.71zM182.76 76.99h1.71v1.81h-1.71zM208.34 76.99h1.71v1.81h-1.71zM215.16 76.99h1.71v1.81h-1.71zM239.04 76.99h1.71v1.81h-1.71zM250.98 76.99h1.71v1.81h-1.71zM261.21 76.99h1.71v1.81h-1.71zM271.44 76.99h1.71v1.81h-1.71zM285.08 76.99h1.71v1.81h-1.71zM215.16 78.81h1.71v1.81h-1.71zM232.22 78.81h1.71v1.81h-1.71zM235.63 78.81h1.71v1.81h-1.71zM262.91 78.81h1.71v1.81h-1.71zM281.67 78.81h1.71v1.81h-1.71zM285.08 78.81h1.71v1.81h-1.71zM199.81 80.62h1.71v1.81h-1.71zM216.87 80.62h1.71v1.81h-1.71zM225.39 80.62h1.71v1.81h-1.71zM240.74 80.62h1.71v1.81h-1.71zM245.86 80.62h1.71v1.81h-1.71zM249.27 80.62h1.71v1.81h-1.71zM269.74 80.62h1.71v1.81h-1.71zM276.56 80.62h1.71v1.81h-1.71zM210.05 82.43h1.71v1.81h-1.71zM223.69 82.43h1.71v1.81h-1.71zM254.39 82.43h1.71v1.81h-1.71zM259.5 82.43h1.71v1.81h-1.71zM274.85 82.43h1.71v1.81h-1.71zM278.26 82.43h1.71v1.81h-1.71zM194.7 84.25h1.71v1.81h-1.71zM237.33 84.25h1.71v1.81h-1.71zM247.56 84.25h1.71v1.81h-1.71zM264.62 84.25h1.71v1.81h-1.71zM194.7 86.06h1.71v1.81h-1.71zM196.4 86.06h1.71v1.81h-1.71zM201.52 86.06h1.71v1.81h-1.71zM210.05 86.06h1.71v1.81h-1.71zM271.44 86.06h1.71v1.81h-1.71zM273.15 86.06h1.71v1.81h-1.71zM184.46 87.87h1.71v1.81h-1.71zM187.88 87.87h1.71v1.81h-1.71zM189.58 87.87h1.71v1.81h-1.71zM194.7 87.87h1.71v1.81h-1.71zM199.81 87.87h1.71v1.81h-1.71zM204.93 87.87h1.71v1.81h-1.71zM213.46 87.87h1.71v1.81h-1.71zM227.1 87.87h1.71v1.81h-1.71zM233.92 87.87h1.71v1.81h-1.71zM262.91 87.87h1.71v1.81h-1.71zM264.62 87.87h1.71v1.81h-1.71zM274.85 87.87h1.71v1.81h-1.71zM198.11 89.69h1.71v1.81h-1.71zM203.22 89.69h1.71v1.81h-1.71zM213.46 89.69h1.71v1.81h-1.71zM216.87 89.69h1.71v1.81h-1.71zM221.98 89.69h1.71v1.81h-1.71zM237.33 89.69h1.71v1.81h-1.71zM273.15 89.69h1.71v1.81h-1.71zM274.85 89.69h1.71v1.81h-1.71zM283.38 89.69h1.71v1.81h-1.71zM36.44 95.4h1.71v1.85h-1.71zM118.55 95.4h1.71v1.85h-1.71zM152.76 95.4h1.71v1.85h-1.71zM31.31 97.25h1.71v1.85h-1.71zM44.99 97.25h1.71v1.85h-1.71zM48.42 97.25h1.71v1.85h-1.71zM82.63 97.25h1.71v1.85h-1.71zM98.02 97.25h1.71v1.85h-1.71zM56.97 99.11h1.71v1.85h-1.71zM91.18 99.11h1.71v1.85h-1.71zM104.86 99.11h1.71v1.85h-1.71zM151.05 99.11h1.71v1.85h-1.71zM50.13 100.96h1.71v1.85h-1.71zM55.26 100.96h1.71v1.85h-1.71zM56.97 100.96h1.71v1.85h-1.71zM75.78 100.96h1.71v1.85h-1.71zM120.26 100.96h1.71v1.85h-1.71zM128.81 100.96h1.71v1.85h-1.71zM144.21 100.96h1.71v1.85h-1.71zM154.47 100.96h1.71v1.85h-1.71zM29.6 102.82h1.71v1.85h-1.71zM34.73 102.82h1.71v1.85h-1.71zM43.28 102.82h1.71v1.85h-1.71zM50.13 102.82h1.71v1.85h-1.71zM98.02 102.82h1.71v1.85h-1.71zM103.15 102.82h1.71v1.85h-1.71zM130.52 102.82h1.71v1.85h-1.71zM79.21 104.67h1.71v1.85h-1.71zM99.73 104.67h1.71v1.85h-1.71zM113.42 104.67h1.71v1.85h-1.71zM147.63 104.67h1.71v1.85h-1.71zM39.86 106.53h1.71v1.85h-1.71zM43.28 106.53h1.71v1.85h-1.71zM70.65 106.53h1.71v1.85h-1.71zM75.78 106.53h1.71v1.85h-1.71zM106.57 106.53h1.71v1.85h-1.71zM120.26 106.53h1.71v1.85h-1.71zM125.39 106.53h1.71v1.85h-1.71zM142.49 106.53h1.71v1.85h-1.71zM34.73 108.38h1.71v1.85h-1.71zM48.42 108.38h1.71v1.85h-1.71zM60.39 108.38h1.71v1.85h-1.71zM72.36 108.38h1.71v1.85h-1.71zM130.52 108.38h1.71v1.85h-1.71zM80.92 110.24h1.71v1.85h-1.71zM94.6 110.24h1.71v1.85h-1.71zM109.99 110.24h1.71v1.85h-1.71zM121.97 110.24h1.71v1.85h-1.71zM135.65 110.24h1.71v1.85h-1.71zM36.44 112.09h1.71v1.85h-1.71zM43.28 112.09h1.71v1.85h-1.71zM87.76 112.09h1.71v1.85h-1.71zM94.6 112.09h1.71v1.85h-1.71zM98.02 112.09h1.71v1.85h-1.71zM116.84 112.09h1.71v1.85h-1.71zM156.18 112.09h1.71v1.85h-1.71zM33.02 113.95h1.71v1.85h-1.71zM96.31 113.95h1.71v1.85h-1.71zM106.57 113.95h1.71v1.85h-1.71zM128.81 113.95h1.71v1.85h-1.71zM31.31 129.2h1.71v1.65h-1.71zM34.73 129.2h1.71v1.65h-1.71zM41.57 129.2h1.71v1.65h-1.71zM62.1 129.2h1.71v1.65h-1.71zM86.05 129.2h1.71v1.65h-1.71zM103.15 129.2h1.71v1.65h-1.71zM118.55 129.2h1.71v1.65h-1.71zM133.94 129.2h1.71v1.65h-1.71zM139.07 129.2h1.71v1.65h-1.71zM50.13 130.85h1.71v1.65h-1.71zM91.18 130.85h1.71v1.65h-1.71zM96.31 130.85h1.71v1.65h-1.71zM120.26 130.85h1.71v1.65h-1.71zM128.81 130.85h1.71v1.65h-1.71zM132.23 130.85h1.71v1.65h-1.71zM137.36 130.85h1.71v1.65h-1.71zM145.92 130.85h1.71v1.65h-1.71zM154.47 130.85h1.71v1.65h-1.71zM182.76 129.2h1.71v1.65h-1.71zM164 130.85h1.71v1.65h-1.71zM172.53 130.85h1.71v1.65h-1.71zM237.33 130.85h1.71v1.65h-1.71zM244.15 130.85h1.71v1.65h-1.71zM245.86 130.85h1.71v1.65h-1.71zM250.98 130.85h1.71v1.65h-1.71zM165.71 136.5h1.71v1.81h-1.71zM167.41 136.5h1.71v1.81h-1.71zM194.7 136.5h1.71v1.81h-1.71zM257.8 136.5h1.71v1.81h-1.71zM288.49 136.5h1.71v1.81h-1.71zM221.98 138.31h1.71v1.81h-1.71zM244.15 138.31h1.71v1.81h-1.71zM273.15 138.31h1.71v1.81h-1.71zM187.88 140.13h1.71v1.81h-1.71zM201.52 140.13h1.71v1.81h-1.71zM204.93 140.13h1.71v1.81h-1.71zM254.39 140.13h1.71v1.81h-1.71zM259.5 140.13h1.71v1.81h-1.71zM177.64 141.94h1.71v1.81h-1.71zM250.98 141.94h1.71v1.81h-1.71zM269.74 141.94h1.71v1.81h-1.71zM271.44 141.94h1.71v1.81h-1.71zM274.85 141.94h1.71v1.81h-1.71zM281.67 141.94h1.71v1.81h-1.71zM285.08 141.94h1.71v1.81h-1.71zM186.17 143.76h1.71v1.81h-1.71zM196.4 143.76h1.71v1.81h-1.71zM216.87 143.76h1.71v1.81h-1.71zM250.98 143.76h1.71v1.81h-1.71zM274.85 143.76h1.71v1.81h-1.71zM179.35 145.57h1.71v1.81h-1.71zM208.34 145.57h1.71v1.81h-1.71zM215.16 145.57h1.71v1.81h-1.71zM252.68 145.57h1.71v1.81h-1.71zM261.21 145.57h1.71v1.81h-1.71zM268.03 145.57h1.71v1.81h-1.71zM269.74 145.57h1.71v1.81h-1.71zM208.34 147.39h1.71v1.81h-1.71zM210.05 147.39h1.71v1.81h-1.71zM221.98 147.39h1.71v1.81h-1.71zM230.51 147.39h1.71v1.81h-1.71zM266.32 147.39h1.71v1.81h-1.71zM274.85 147.39h1.71v1.81h-1.71z"/>
<path fill="#505028" d="M206.64 20.6h1.71v1.9h-1.71zM113.42 28.03h1.71v1.81h-1.71zM118.55 28.03h1.71v1.81h-1.71zM133.94 28.03h1.71v1.81h-1.71zM82.63 33.47h1.71v1.81h-1.71zM89.47 33.47h1.71v1.81h-1.71zM80.92 35.28h1.71v1.81h-1.71zM142.49 35.28h1.71v1.81h-1.71zM139.07 38.91h1.71v1.81h-1.71zM80.92 40.72h1.71v1.81h-1.71zM130.52 40.72h1.71v1.81h-1.71zM70.65 42.54h1.71v1.81h-1.71zM80.92 44.35h1.71v1.81h-1.71zM101.44 47.98h1.71v1.81h-1.71zM120.26 47.98h1.71v1.81h-1.71zM137.36 51.6h1.71v1.81h-1.71zM147.63 58.86h1.71v1.81h-1.71zM67.23 60.67h1.71v1.81h-1.71zM94.6 60.67h1.71v1.81h-1.71zM72.36 62.48h1.71v1.81h-1.71zM133.94 62.48h1.71v1.81h-1.71zM118.55 64.3h1.71v1.81h-1.71zM72.36 66.11h1.71v1.81h-1.71zM145.92 66.11h1.71v1.81h-1.71zM157.89 69.74h1.71v1.81h-1.71zM96.31 71.55h1.71v1.81h-1.71zM154.47 73.36h1.71v1.81h-1.71zM82.63 75.18h1.71v1.81h-1.71zM55.26 76.99h1.71v1.81h-1.71zM151.05 80.62h1.71v1.81h-1.71zM139.07 82.43h1.71v1.81h-1.71zM276.56 29.84h1.71v1.81h-1.71zM278.26 29.84h1.71v1.81h-1.71zM196.4 31.65h1.71v1.81h-1.71zM250.98 31.65h1.71v1.81h-1.71zM215.16 33.47h1.71v1.81h-1.71zM181.05 35.28h1.71v1.81h-1.71zM186.17 35.28h1.71v1.81h-1.71zM283.38 35.28h1.71v1.81h-1.71zM169.12 37.09h1.71v1.81h-1.71zM175.94 38.91h1.71v1.81h-1.71zM257.8 38.91h1.71v1.81h-1.71zM264.62 40.72h1.71v1.81h-1.71zM175.94 44.35h1.71v1.81h-1.71zM187.88 46.16h1.71v1.81h-1.71zM187.88 47.98h1.71v1.81h-1.71zM276.56 47.98h1.71v1.81h-1.71zM249.27 49.79h1.71v1.81h-1.71zM194.7 53.42h1.71v1.81h-1.71zM279.97 53.42h1.71v1.81h-1.71zM264.62 55.23h1.71v1.81h-1.71zM286.79 55.23h1.71v1.81h-1.71zM249.27 57.04h1.71v1.81h-1.71zM278.26 57.04h1.71v1.81h-1.71zM288.49 57.04h1.71v1.81h-1.71zM288.49 58.86h1.71v1.81h-1.71zM170.82 60.67h1.71v1.81h-1.71zM192.99 60.67h1.71v1.81h-1.71zM206.64 60.67h1.71v1.81h-1.71zM210.05 62.48h1.71v1.81h-1.71zM266.32 62.48h1.71v1.81h-1.71zM165.71 64.3h1.71v1.81h-1.71zM174.23 64.3h1.71v1.81h-1.71zM201.52 66.11h1.71v1.81h-1.71zM206.64 66.11h1.71v1.81h-1.71zM273.15 66.11h1.71v1.81h-1.71zM174.23 69.74h1.71v1.81h-1.71zM186.17 69.74h1.71v1.81h-1.71zM181.05 73.36h1.71v1.81h-1.71zM192.99 73.36h1.71v1.81h-1.71zM201.52 73.36h1.71v1.81h-1.71zM244.15 73.36h1.71v1.81h-1.71zM201.52 76.99h1.71v1.81h-1.71zM278.26 76.99h1.71v1.81h-1.71zM286.79 78.81h1.71v1.81h-1.71zM192.99 80.62h1.71v1.81h-1.71zM244.15 80.62h1.71v1.81h-1.71zM199.81 82.43h1.71v1.81h-1.71zM170.82 84.25h1.71v1.81h-1.71zM199.81 86.06h1.71v1.81h-1.71zM220.28 86.06h1.71v1.81h-1.71zM276.56 86.06h1.71v1.81h-1.71zM170.82 87.87h1.71v1.81h-1.71zM278.26 87.87h1.71v1.81h-1.71zM286.79 87.87h1.71v1.81h-1.71zM262.91 89.69h1.71v1.81h-1.71zM286.79 89.69h1.71v1.81h-1.71zM75.78 95.4h1.71v1.85h-1.71zM109.99 95.4h1.71v1.85h-1.71zM139.07 95.4h1.71v1.85h-1.71zM72.36 97.25h1.71v1.85h-1.71zM31.31 99.11h1.71v1.85h-1.71zM77.49 99.11h1.71v1.85h-1.71zM58.68 100.96h1.71v1.85h-1.71zM84.34 102.82h1.71v1.85h-1.71zM50.13 104.67h1.71v1.85h-1.71zM51.84 104.67h1.71v1.85h-1.71zM87.76 104.67h1.71v1.85h-1.71zM104.86 104.67h1.71v1.85h-1.71zM31.31 106.53h1.71v1.85h-1.71zM91.18 106.53h1.71v1.85h-1.71zM31.31 108.38h1.71v1.85h-1.71zM79.21 108.38h1.71v1.85h-1.71zM31.31 110.24h1.71v1.85h-1.71zM55.26 110.24h1.71v1.85h-1.71zM62.1 112.09h1.71v1.85h-1.71zM75.78 112.09h1.71v1.85h-1.71zM67.23 113.95h1.71v1.85h-1.71zM123.68 113.95h1.71v1.85h-1.71zM271.44 97.25h1.71v1.85h-1.71zM249.27 104.67h1.71v1.85h-1.71zM223.69 112.09h1.71v1.85h-1.71zM257.8 113.95h1.71v1.85h-1.71zM273.15 129.2h1.71v1.65h-1.71zM194.7 130.85h1.71v1.65h-1.71zM89.47 141.94h1.71v1.81h-1.71zM128.81 143.76h1.71v1.81h-1.71zM184.46 136.5h1.71v1.81h-1.71zM228.81 136.5h1.71v1.81h-1.71zM268.03 136.5h1.71v1.81h-1.71zM187.88 138.31h1.71v1.81h-1.71zM252.68 138.31h1.71v1.81h-1.71zM177.64 140.13h1.71v1.81h-1.71zM215.16 140.13h1.71v1.81h-1.71zM245.86 143.76h1.71v1.81h-1.71zM254.39 143.76h1.71v1.81h-1.71zM266.32 143.76h1.71v1.81h-1.71zM252.68 147.39h1.71v1.81h-1.71z"/>
<path fill="#141428" d="M233.92 20.6h1.71v1.9h-1.71zM70.65 28.03h1.71v1.81h-1.71zM72.36 28.03h1.71v1.81h-1.71zM94.6 28.03h1.71v1.81h-1.71zM96.31 28.03h1.71v1.81h-1.71zM63.81 29.84h1.71v1.81h-1.71zM115.13 31.65h1.71v1.81h-1.71zM127.1 31.65h1.71v1.81h-1.71zM39.86 33.47h1.71v1.81h-1.71zM43.28 33.47h1.71v1.81h-1.71zM77.49 33.47h1.71v1.81h-1.71zM68.94 35.28h1.71v1.81h-1.71zM87.76 35.28h1.71v1.81h-1.71zM120.26 35.28h1.71v1.81h-1.71zM140.78 35.28h1.71v1.81h-1.71zM65.52 37.09h1.71v1.81h-1.71zM77.49 37.09h1.71v1.81h-1.71zM103.15 37.09h1.71v1.81h-1.71zM109.99 37.09h1.71v1.81h-1.71zM123.68 37.09h1.71v1.81h-1.71zM128.81 37.09h1.71v1.81h-1.71zM152.76 37.09h1.71v1.81h-1.71zM29.6 38.91h1.71v1.81h-1.71zM60.39 38.91h1.71v1.81h-1.71zM77.49 38.91h1.71v1.81h-1.71zM84.34 38.91h1.71v1.81h-1.71zM130.52 38.91h1.71v1.81h-1.71zM62.1 40.72h1.71v1.81h-1.71zM89.47 40.72h1.71v1.81h-1.71zM91.18 40.72h1.71v1.81h-1.71zM109.99 40.72h1.71v1.81h-1.71zM120.26 40.72h1.71v1.81h-1.71zM137.36 40.72h1.71v1.81h-1.71zM149.34 40.72h1.71v1.81h-1.71zM113.42 42.54h1.71v1.81h-1.71zM154.47 42.54h1.71v1.81h-1.71zM34.73 44.35h1.71v1.81h-1.71zM41.57 44.35h1.71v1.81h-1.71zM87.76 44.35h1.71v1.81h-1.71zM144.21 44.35h1.71v1.81h-1.71zM145.92 44.35h1.71v1.81h-1.71zM151.05 44.35h1.71v1.81h-1.71zM39.86 46.16h1.71v1.81h-1.71zM41.57 46.16h1.71v1.81h-1.71zM63.81 46.16h1.71v1.81h-1.71zM74.07 46.16h1.71v1.81h-1.71zM86.05 46.16h1.71v1.81h-1.71zM89.47 46.16h1.71v1.81h-1.71zM84.34 47.98h1.71v1.81h-1.71zM94.6 47.98h1.71v1.81h-1.71zM98.02 47.98h1.71v1.81h-1.71zM106.57 47.98h1.71v1.81h-1.71zM113.42 47.98h1.71v1.81h-1.71zM98.02 49.79h1.71v1.81h-1.71zM109.99 49.79h1.71v1.81h-1.71zM91.18 51.6h1.71v1.81h-1.71zM120.26 51.6h1.71v1.81h-1.71zM38.15 53.42h1.71v1.81h-1.71zM125.39 53.42h1.71v1.81h-1.71zM133.94 53.42h1.71v1.81h-1.71zM82.63 55.23h1.71v1.81h-1.71zM94.6 57.04h1.71v1.81h-1.71zM68.94 58.86h1.71v1.81h-1.71zM154.47 58.86h1.71v1.81h-1.71zM96.31 60.67h1.71v1.81h-1.71zM104.86 60.67h1.71v1.81h-1.71zM116.84 60.67h1.71v1.81h-1.71zM84.34 62.48h1.71v1.81h-1.71zM135.65 62.48h1.71v1.81h-1.71zM154.47 62.48h1.71v1.81h-1.71zM82.63 64.3h1.71v1.81h-1.71zM44.99 66.11h1.71v1.81h-1.71zM63.81 66.11h1.71v1.81h-1.71zM96.31 66.11h1.71v1.81h-1.71zM104.86 66.11h1.71v1.81h-1.71zM147.63 66.11h1.71v1.81h-1.71zM127.1 67.92h1.71v1.81h-1.71zM133.94 67.92h1.71v1.81h-1.71zM75.78 69.74h1.71v1.81h-1.71zM145.92 69.74h1.71v1.81h-1.71zM113.42 71.55h1.71v1.81h-1.71zM72.36 73.36h1.71v1.81h-1.71zM84.34 73.36h1.71v1.81h-1.71zM111.71 73.36h1.71v1.81h-1.71zM127.1 73.36h1.71v1.81h-1.71zM68.94 75.18h1.71v1.81h-1.71zM104.86 75.18h1.71v1.81h-1.71zM125.39 75.18h1.71v1.81h-1.71zM142.49 75.18h1.71v1.81h-1.71zM48.42 76.99h1.71v1.81h-1.71zM62.1 76.99h1.71v1.81h-1.71zM65.52 76.99h1.71v1.81h-1.71zM82.63 76.99h1.71v1.81h-1.71zM111.71 76.99h1.71v1.81h-1.71zM72.36 78.81h1.71v1.81h-1.71zM75.78 78.81h1.71v1.81h-1.71zM92.89 78.81h1.71v1.81h-1.71zM94.6 78.81h1.71v1.81h-1.71zM111.71 78.81h1.71v1.81h-1.71zM115.13 78.81h1.71v1.81h-1.71zM118.55 78.81h1.71v1.81h-1.71zM121.97 78.81h1.71v1.81h-1.71zM139.07 78.81h1.71v1.81h-1.71zM84.34 80.62h1.71v1.81h-1.71zM123.68 80.62h1.71v1.81h-1.71zM133.94 80.62h1.71v1.81h-1.71zM149.34 80.62h1.71v1.81h-1.71zM53.55 82.43h1.71v1.81h-1.71zM80.92 82.43h1.71v1.81h-1.71zM127.1 82.43h1.71v1.81h-1.71zM133.94 82.43h1.71v1.81h-1.71zM38.15 84.25h1.71v1.81h-1.71zM39.86 84.25h1.71v1.81h-1.71zM96.31 84.25h1.71v1.81h-1.71zM36.44 86.06h1.71v1.81h-1.71zM53.55 86.06h1.71v1.81h-1.71zM65.52 86.06h1.71v1.81h-1.71zM113.42 86.06h1.71v1.81h-1.71zM137.36 86.06h1.71v1.81h-1.71zM145.92 86.06h1.71v1.81h-1.71zM75.78 87.87h1.71v1.81h-1.71zM84.34 87.87h1.71v1.81h-1.71zM118.55 87.87h1.71v1.81h-1.71zM44.99 89.69h1.71v1.81h-1.71zM109.99 89.69h1.71v1.81h-1.71zM113.42 89.69h1.71v1.81h-1.71zM118.55 89.69h1.71v1.81h-1.71zM144.21 89.69h1.71v1.81h-1.71zM167.41 24.4h1.71v1.81h-1.71zM169.12 24.4h1.71v1.81h-1.71zM174.23 24.4h1.71v1.81h-1.71zM175.94 24.4h1.71v1.81h-1.71zM181.05 24.4h1.71v1.81h-1.71zM187.88 24.4h1.71v1.81h-1.71zM189.58 24.4h1.71v1.81h-1.71zM206.64 24.4h1.71v1.81h-1.71zM210.05 24.4h1.71v1.81h-1.71zM213.46 24.4h1.71v1.81h-1.71zM215.16 24.4h1.71v1.81h-1.71zM220.28 24.4h1.71v1.81h-1.71zM244.15 24.4h1.71v1.81h-1.71zM245.86 24.4h1.71v1.81h-1.71zM254.39 24.4h1.71v1.81h-1.71zM261.21 24.4h1.71v1.81h-1.71zM274.85 24.4h1.71v1.81h-1.71zM167.41 26.21h1.71v1.81h-1.71zM169.12 26.21h1.71v1.81h-1.71zM170.82 26.21h1.71v1.81h-1.71zM174.23 26.21h1.71v1.81h-1.71zM175.94 26.21h1.71v1.81h-1.71zM181.05 26.21h1.71v1.81h-1.71zM186.17 26.21h1.71v1.81h-1.71zM187.88 26.21h1.71v1.81h-1.71zM189.58 26.21h1.71v1.81h-1.71zM191.29 26.21h1.71v1.81h-1.71zM208.34 26.21h1.71v1.81h-1.71zM210.05 26.21h1.71v1.81h-1.71zM215.16 26.21h1.71v1.81h-1.71zM216.87 26.21h1.71v1.81h-1.71zM227.1 26.21h1.71v1.81h-1.71zM244.15 26.21h1.71v1.81h-1.71zM254.39 26.21h1.71v1.81h-1.71zM261.21 26.21h1.71v1.81h-1.71zM262.91 26.21h1.71v1.81h-1.71zM264.62 26.21h1.71v1.81h-1.71zM273.15 26.21h1.71v1.81h-1.71zM203.22 28.03h1.71v1.81h-1.71zM203.22 29.84h1.71v1.81h-1.71zM216.87 29.84h1.71v1.81h-1.71zM191.29 31.65h1.71v1.81h-1.71zM215.16 31.65h1.71v1.81h-1.71zM170.82 33.47h1.71v1.81h-1.71zM201.52 33.47h1.71v1.81h-1.71zM221.98 33.47h1.71v1.81h-1.71zM218.57 37.09h1.71v1.81h-1.71zM177.64 38.91h1.71v1.81h-1.71zM191.29 38.91h1.71v1.81h-1.71zM184.46 40.72h1.71v1.81h-1.71zM196.4 40.72h1.71v1.81h-1.71zM203.22 42.54h1.71v1.81h-1.71zM172.53 44.35h1.71v1.81h-1.71zM220.28 44.35h1.71v1.81h-1.71zM189.58 46.16h1.71v1.81h-1.71zM211.75 46.16h1.71v1.81h-1.71zM221.98 46.16h1.71v1.81h-1.71zM174.23 47.98h1.71v1.81h-1.71zM184.46 47.98h1.71v1.81h-1.71zM189.58 47.98h1.71v1.81h-1.71zM191.29 47.98h1.71v1.81h-1.71zM235.63 47.98h1.71v1.81h-1.71zM186.17 49.79h1.71v1.81h-1.71zM206.64 49.79h1.71v1.81h-1.71zM211.75 49.79h1.71v1.81h-1.71zM198.11 51.6h1.71v1.81h-1.71zM201.52 51.6h1.71v1.81h-1.71zM204.93 51.6h1.71v1.81h-1.71zM208.34 51.6h1.71v1.81h-1.71zM237.33 51.6h1.71v1.81h-1.71zM170.82 53.42h1.71v1.81h-1.71zM192.99 53.42h1.71v1.81h-1.71zM204.93 53.42h1.71v1.81h-1.71zM220.28 53.42h1.71v1.81h-1.71zM177.64 55.23h1.71v1.81h-1.71zM218.57 55.23h1.71v1.81h-1.71zM242.45 55.23h1.71v1.81h-1.71zM167.41 57.04h1.71v1.81h-1.71zM196.4 57.04h1.71v1.81h-1.71zM218.57 57.04h1.71v1.81h-1.71zM170.82 58.86h1.71v1.81h-1.71zM186.17 58.86h1.71v1.81h-1.71zM191.29 58.86h1.71v1.81h-1.71zM201.52 58.86h1.71v1.81h-1.71zM184.46 60.67h1.71v1.81h-1.71zM208.34 60.67h1.71v1.81h-1.71zM220.28 60.67h1.71v1.81h-1.71zM192.99 62.48h1.71v1.81h-1.71zM204.93 62.48h1.71v1.81h-1.71zM225.39 62.48h1.71v1.81h-1.71zM169.12 64.3h1.71v1.81h-1.71zM177.64 64.3h1.71v1.81h-1.71zM194.7 64.3h1.71v1.81h-1.71zM196.4 64.3h1.71v1.81h-1.71zM230.51 64.3h1.71v1.81h-1.71zM237.33 64.3h1.71v1.81h-1.71zM175.94 66.11h1.71v1.81h-1.71zM204.93 66.11h1.71v1.81h-1.71zM208.34 66.11h1.71v1.81h-1.71zM237.33 66.11h1.71v1.81h-1.71zM167.41 67.92h1.71v1.81h-1.71zM181.05 67.92h1.71v1.81h-1.71zM184.46 67.92h1.71v1.81h-1.71zM192.99 67.92h1.71v1.81h-1.71zM199.81 67.92h1.71v1.81h-1.71zM189.58 71.55h1.71v1.81h-1.71zM194.7 71.55h1.71v1.81h-1.71zM196.4 71.55h1.71v1.81h-1.71zM177.64 73.36h1.71v1.81h-1.71zM196.4 73.36h1.71v1.81h-1.71zM206.64 73.36h1.71v1.81h-1.71zM187.88 75.18h1.71v1.81h-1.71zM203.22 75.18h1.71v1.81h-1.71zM191.29 76.99h1.71v1.81h-1.71zM189.58 78.81h1.71v1.81h-1.71zM198.11 78.81h1.71v1.81h-1.71zM189.58 80.62h1.71v1.81h-1.71zM191.29 80.62h1.71v1.81h-1.71zM204.93 80.62h1.71v1.81h-1.71zM179.35 82.43h1.71v1.81h-1.71zM198.11 82.43h1.71v1.81h-1.71zM227.1 82.43h1.71v1.81h-1.71zM235.63 82.43h1.71v1.81h-1.71zM192.99 84.25h1.71v1.81h-1.71zM164 86.06h1.71v1.81h-1.71zM167.41 86.06h1.71v1.81h-1.71zM169.12 86.06h1.71v1.81h-1.71zM184.46 86.06h1.71v1.81h-1.71zM192.99 86.06h1.71v1.81h-1.71zM216.87 86.06h1.71v1.81h-1.71zM164 87.87h1.71v1.81h-1.71zM210.05 87.87h1.71v1.81h-1.71zM191.29 89.69h1.71v1.81h-1.71zM111.71 95.4h1.71v1.85h-1.71zM125.39 95.4h1.71v1.85h-1.71zM142.49 95.4h1.71v1.85h-1.71zM101.44 97.25h1.71v1.85h-1.71zM118.55 97.25h1.71v1.85h-1.71zM132.23 97.25h1.71v1.85h-1.71zM135.65 97.25h1.71v1.85h-1.71zM115.13 99.11h1.71v1.85h-1.71zM118.55 99.11h1.71v1.85h-1.71zM109.99 100.96h1.71v1.85h-1.71zM115.13 100.96h1.71v1.85h-1.71zM137.36 100.96h1.71v1.85h-1.71zM99.73 102.82h1.71v1.85h-1.71zM154.47 102.82h1.71v1.85h-1.71zM77.49 106.53h1.71v1.85h-1.71zM104.86 106.53h1.71v1.85h-1.71zM123.68 106.53h1.71v1.85h-1.71zM84.34 108.38h1.71v1.85h-1.71zM108.28 108.38h1.71v1.85h-1.71zM127.1 108.38h1.71v1.85h-1.71zM133.94 110.24h1.71v1.85h-1.71zM152.76 110.24h1.71v1.85h-1.71zM118.55 112.09h1.71v1.85h-1.71zM133.94 112.09h1.71v1.85h-1.71zM115.13 113.95h1.71v1.85h-1.71zM145.92 113.95h1.71v1.85h-1.71zM266.32 95.4h1.71v1.85h-1.71zM274.85 95.4h1.71v1.85h-1.71zM184.46 97.25h1.71v1.85h-1.71zM252.68 97.25h1.71v1.85h-1.71zM254.39 97.25h1.71v1.85h-1.71zM279.97 97.25h1.71v1.85h-1.71zM285.08 97.25h1.71v1.85h-1.71zM165.71 99.11h1.71v1.85h-1.71zM169.12 99.11h1.71v1.85h-1.71zM194.7 99.11h1.71v1.85h-1.71zM215.16 99.11h1.71v1.85h-1.71zM220.28 99.11h1.71v1.85h-1.71zM227.1 99.11h1.71v1.85h-1.71zM230.51 99.11h1.71v1.85h-1.71zM247.56 99.11h1.71v1.85h-1.71zM266.32 99.11h1.71v1.85h-1.71zM278.26 99.11h1.71v1.85h-1.71zM177.64 100.96h1.71v1.85h-1.71zM199.81 100.96h1.71v1.85h-1.71zM206.64 100.96h1.71v1.85h-1.71zM249.27 100.96h1.71v1.85h-1.71zM259.5 100.96h1.71v1.85h-1.71zM181.05 104.67h1.71v1.85h-1.71zM247.56 104.67h1.71v1.85h-1.71zM250.98 104.67h1.71v1.85h-1.71zM276.56 106.53h1.71v1.85h-1.71zM177.64 108.38h1.71v1.85h-1.71zM191.29 108.38h1.71v1.85h-1.71zM240.74 108.38h1.71v1.85h-1.71zM279.97 108.38h1.71v1.85h-1.71zM177.64 110.24h1.71v1.85h-1.71zM181.05 110.24h1.71v1.85h-1.71zM182.76 110.24h1.71v1.85h-1.71zM208.34 110.24h1.71v1.85h-1.71zM266.32 110.24h1.71v1.85h-1.71zM179.35 112.09h1.71v1.85h-1.71zM192.99 112.09h1.71v1.85h-1.71zM196.4 112.09h1.71v1.85h-1.71zM196.4 113.95h1.71v1.85h-1.71zM237.33 113.95h1.71v1.85h-1.71zM172.53 129.2h1.71v1.65h-1.71zM196.4 129.2h1.71v1.65h-1.71zM198.11 129.2h1.71v1.65h-1.71zM211.75 129.2h1.71v1.65h-1.71zM220.28 129.2h1.71v1.65h-1.71zM228.81 129.2h1.71v1.65h-1.71zM245.86 129.2h1.71v1.65h-1.71zM181.05 130.85h1.71v1.65h-1.71zM220.28 130.85h1.71v1.65h-1.71zM252.68 130.85h1.71v1.65h-1.71zM96.31 136.5h1.71v1.81h-1.71zM118.55 138.31h1.71v1.81h-1.71zM123.68 138.31h1.71v1.81h-1.71zM130.52 138.31h1.71v1.81h-1.71zM77.49 140.13h1.71v1.81h-1.71zM94.6 140.13h1.71v1.81h-1.71zM101.44 140.13h1.71v1.81h-1.71zM151.05 140.13h1.71v1.81h-1.71zM63.81 141.94h1.71v1.81h-1.71zM74.07 141.94h1.71v1.81h-1.71zM98.02 141.94h1.71v1.81h-1.71zM103.15 141.94h1.71v1.81h-1.71zM135.65 141.94h1.71v1.81h-1.71zM137.36 141.94h1.71v1.81h-1.71zM56.97 143.76h1.71v1.81h-1.71zM151.05 143.76h1.71v1.81h-1.71zM50.13 147.39h1.71v1.81h-1.71zM72.36 147.39h1.71v1.81h-1.71zM130.52 147.39h1.71v1.81h-1.71zM151.05 147.39h1.71v1.81h-1.71zM170.82 136.5h1.71v1.81h-1.71zM174.23 136.5h1.71v1.81h-1.71zM208.34 138.31h1.71v1.81h-1.71zM213.46 138.31h1.71v1.81h-1.71zM249.27 138.31h1.71v1.81h-1.71zM187.88 141.94h1.71v1.81h-1.71zM220.28 141.94h1.71v1.81h-1.71zM181.05 143.76h1.71v1.81h-1.71zM206.64 143.76h1.71v1.81h-1.71zM221.98 143.76h1.71v1.81h-1.71zM228.81 143.76h1.71v1.81h-1.71zM257.8 143.76h1.71v1.81h-1.71zM174.23 145.57h1.71v1.81h-1.71zM213.46 145.57h1.71v1.81h-1.71zM259.5 145.57h1.71v1.81h-1.71zM167.41 147.39h1.71v1.81h-1.71zM170.82 147.39h1.71v1.81h-1.71zM189.58 147.39h1.71v1.81h-1.71zM194.7 147.39h1.71v1.81h-1.71zM206.64 147.39h1.71v1.81h-1.71zM239.04 147.39h1.71v1.81h-1.71z"/>
<path fill="#283c28" d="M249.27 20.6h1.71v1.9h-1.71zM276.56 20.6h1.71v1.9h-1.71zM164 22.5h1.71v1.9h-1.71zM239.04 28.03h1.71v1.81h-1.71zM249.27 28.03h1.71v1.81h-1.71zM240.74 29.84h1.71v1.81h-1.71zM227.1 31.65h1.71v1.81h-1.71zM257.8 31.65h1.71v1.81h-1.71zM274.85 31.65h1.71v1.81h-1.71zM210.05 33.47h1.71v1.81h-1.71zM247.56 33.47h1.71v1.81h-1.71zM249.27 33.47h1.71v1.81h-1.71zM266.32 33.47h1.71v1.81h-1.71zM259.5 35.28h1.71v1.81h-1.71zM264.62 35.28h1.71v1.81h-1.71zM245.86 37.09h1.71v1.81h-1.71zM254.39 37.09h1.71v1.81h-1.71zM203.22 38.91h1.71v1.81h-1.71zM242.45 38.91h1.71v1.81h-1.71zM244.15 38.91h1.71v1.81h-1.71zM271.44 38.91h1.71v1.81h-1.71zM249.27 40.72h1.71v1.81h-1.71zM262.91 40.72h1.71v1.81h-1.71zM281.67 40.72h1.71v1.81h-1.71zM250.98 42.54h1.71v1.81h-1.71zM252.68 42.54h1.71v1.81h-1.71zM266.32 42.54h1.71v1.81h-1.71zM232.22 44.35h1.71v1.81h-1.71zM239.04 44.35h1.71v1.81h-1.71zM259.5 46.16h1.71v1.81h-1.71zM261.21 46.16h1.71v1.81h-1.71zM285.08 46.16h1.71v1.81h-1.71zM230.51 47.98h1.71v1.81h-1.71zM278.26 47.98h1.71v1.81h-1.71zM268.03 49.79h1.71v1.81h-1.71zM211.75 51.6h1.71v1.81h-1.71zM240.74 51.6h1.71v1.81h-1.71zM257.8 51.6h1.71v1.81h-1.71zM269.74 51.6h1.71v1.81h-1.71zM283.38 51.6h1.71v1.81h-1.71zM218.57 53.42h1.71v1.81h-1.71zM232.22 53.42h1.71v1.81h-1.71zM250.98 53.42h1.71v1.81h-1.71zM276.56 53.42h1.71v1.81h-1.71zM286.79 53.42h1.71v1.81h-1.71zM262.91 55.23h1.71v1.81h-1.71zM271.44 55.23h1.71v1.81h-1.71zM276.56 55.23h1.71v1.81h-1.71zM233.92 57.04h1.71v1.81h-1.71zM235.63 57.04h1.71v1.81h-1.71zM247.56 57.04h1.71v1.81h-1.71zM269.74 57.04h1.71v1.81h-1.71zM215.16 58.86h1.71v1.81h-1.71zM239.04 58.86h1.71v1.81h-1.71zM283.38 58.86h1.71v1.81h-1.71zM204.93 60.67h1.71v1.81h-1.71zM213.46 60.67h1.71v1.81h-1.71zM228.81 60.67h1.71v1.81h-1.71zM252.68 60.67h1.71v1.81h-1.71zM257.8 60.67h1.71v1.81h-1.71zM271.44 60.67h1.71v1.81h-1.71zM203.22 62.48h1.71v1.81h-1.71zM239.04 62.48h1.71v1.81h-1.71zM274.85 62.48h1.71v1.81h-1.71zM261.21 64.3h1.71v1.81h-1.71zM230.51 67.92h1.71v1.81h-1.71zM237.33 67.92h1.71v1.81h-1.71zM244.15 67.92h1.71v1.81h-1.71zM285.08 67.92h1.71v1.81h-1.71zM245.86 69.74h1.71v1.81h-1.71zM259.5 69.74h1.71v1.81h-1.71zM271.44 69.74h1.71v1.81h-1.71zM273.15 69.74h1.71v1.81h-1.71zM221.98 71.55h1.71v1.81h-1.71zM249.27 71.55h1.71v1.81h-1.71zM266.32 71.55h1.71v1.81h-1.71zM221.98 73.36h1.71v1.81h-1.71zM245.86 73.36h1.71v1.81h-1.71zM273.15 73.36h1.71v1.81h-1.71zM283.38 73.36h1.71v1.81h-1.71zM216.87 75.18h1.71v1.81h-1.71zM235.63 75.18h1.71v1.81h-1.71zM264.62 75.18h1.71v1.81h-1.71zM199.81 76.99h1.71v1.81h-1.71zM227.1 76.99h1.71v1.81h-1.71zM242.45 76.99h1.71v1.81h-1.71zM252.68 76.99h1.71v1.81h-1.71zM249.27 78.81h1.71v1.81h-1.71zM252.68 78.81h1.71v1.81h-1.71zM259.5 78.81h1.71v1.81h-1.71zM218.57 80.62h1.71v1.81h-1.71zM268.03 80.62h1.71v1.81h-1.71zM278.26 80.62h1.71v1.81h-1.71zM285.08 80.62h1.71v1.81h-1.71zM288.49 80.62h1.71v1.81h-1.71zM242.45 82.43h1.71v1.81h-1.71zM276.56 82.43h1.71v1.81h-1.71zM220.28 84.25h1.71v1.81h-1.71zM242.45 86.06h1.71v1.81h-1.71zM283.38 86.06h1.71v1.81h-1.71zM201.52 87.87h1.71v1.81h-1.71zM249.27 87.87h1.71v1.81h-1.71zM283.38 87.87h1.71v1.81h-1.71zM208.34 89.69h1.71v1.81h-1.71zM249.27 89.69h1.71v1.81h-1.71zM43.28 95.4h1.71v1.85h-1.71zM50.13 95.4h1.71v1.85h-1.71zM36.44 97.25h1.71v1.85h-1.71zM43.28 97.25h1.71v1.85h-1.71zM75.78 97.25h1.71v1.85h-1.71zM94.6 99.11h1.71v1.85h-1.71zM39.86 100.96h1.71v1.85h-1.71zM48.42 100.96h1.71v1.85h-1.71zM62.1 100.96h1.71v1.85h-1.71zM86.05 100.96h1.71v1.85h-1.71zM91.18 100.96h1.71v1.85h-1.71zM86.05 102.82h1.71v1.85h-1.71zM87.76 102.82h1.71v1.85h-1.71zM92.89 102.82h1.71v1.85h-1.71zM46.71 104.67h1.71v1.85h-1.71zM53.55 104.67h1.71v1.85h-1.71zM68.94 104.67h1.71v1.85h-1.71zM91.18 104.67h1.71v1.85h-1.71zM33.02 106.53h1.71v1.85h-1.71zM51.84 106.53h1.71v1.85h-1.71zM62.1 106.53h1.71v1.85h-1.71zM70.65 108.38h1.71v1.85h-1.71zM33.02 112.09h1.71v1.85h-1.71zM58.68 112.09h1.71v1.85h-1.71zM74.07 112.09h1.71v1.85h-1.71zM62.1 113.95h1.71v1.85h-1.71zM38.15 129.2h1.71v1.65h-1.71zM39.86 129.2h1.71v1.65h-1.71zM63.81 129.2h1.71v1.65h-1.71zM65.52 129.2h1.71v1.65h-1.71zM101.44 129.2h1.71v1.65h-1.71zM104.86 129.2h1.71v1.65h-1.71zM111.71 129.2h1.71v1.65h-1.71zM113.42 129.2h1.71v1.65h-1.71zM115.13 129.2h1.71v1.65h-1.71zM149.34 129.2h1.71v1.65h-1.71zM154.47 129.2h1.71v1.65h-1.71zM33.02 130.85h1.71v1.65h-1.71zM38.15 130.85h1.71v1.65h-1.71zM116.84 130.85h1.71v1.65h-1.71zM127.1 130.85h1.71v1.65h-1.71zM135.65 130.85h1.71v1.65h-1.71zM147.63 130.85h1.71v1.65h-1.71zM283.38 136.5h1.71v1.81h-1.71zM286.79 138.31h1.71v1.81h-1.71zM288.49 138.31h1.71v1.81h-1.71zM227.1 140.13h1.71v1.81h-1.71zM230.51 140.13h1.71v1.81h-1.71zM244.15 140.13h1.71v1.81h-1.71zM256.09 140.13h1.71v1.81h-1.71zM276.56 140.13h1.71v1.81h-1.71zM283.38 140.13h1.71v1.81h-1.71zM288.49 141.94h1.71v1.81h-1.71zM286.79 145.57h1.71v1.81h-1.71zM257.8 147.39h1.71v1.81h-1.71z"/>
<path fill="#141414" d="M167.41 22.5h1.71v1.9h-1.71zM189.58 22.5h1.71v1.9h-1.71zM79.21 28.03h1.71v1.81h-1.71zM99.73 28.03h1.71v1.81h-1.71zM106.57 28.03h1.71v1.81h-1.71zM120.26 28.03h1.71v1.81h-1.71zM152.76 28.03h1.71v1.81h-1.71zM86.05 29.84h1.71v1.81h-1.71zM94.6 29.84h1.71v1.81h-1.71zM99.73 29.84h1.71v1.81h-1.71zM123.68 29.84h1.71v1.81h-1.71zM125.39 29.84h1.71v1.81h-1.71zM149.34 29.84h1.71v1.81h-1.71zM154.47 29.84h1.71v1.81h-1.71zM79.21 31.65h1.71v1.81h-1.71zM96.31 31.65h1.71v1.81h-1.71zM99.73 31.65h1.71v1.81h-1.71zM106.57 31.65h1.71v1.81h-1.71zM121.97 31.65h1.71v1.81h-1.71zM128.81 31.65h1.71v1.81h-1.71zM139.07 31.65h1.71v1.81h-1.71zM147.63 31.65h1.71v1.81h-1.71zM75.78 33.47h1.71v1.81h-1.71zM99.73 33.47h1.71v1.81h-1.71zM116.84 33.47h1.71v1.81h-1.71zM145.92 33.47h1.71v1.81h-1.71zM75.78 35.28h1.71v1.81h-1.71zM82.63 35.28h1.71v1.81h-1.71zM106.57 35.28h1.71v1.81h-1.71zM135.65 35.28h1.71v1.81h-1.71zM144.21 35.28h1.71v1.81h-1.71zM74.07 37.09h1.71v1.81h-1.71zM91.18 37.09h1.71v1.81h-1.71zM116.84 37.09h1.71v1.81h-1.71zM133.94 37.09h1.71v1.81h-1.71zM91.18 38.91h1.71v1.81h-1.71zM96.31 38.91h1.71v1.81h-1.71zM99.73 38.91h1.71v1.81h-1.71zM103.15 38.91h1.71v1.81h-1.71zM145.92 38.91h1.71v1.81h-1.71zM152.76 38.91h1.71v1.81h-1.71zM43.28 40.72h1.71v1.81h-1.71zM152.76 40.72h1.71v1.81h-1.71zM104.86 42.54h1.71v1.81h-1.71zM120.26 42.54h1.71v1.81h-1.71zM128.81 42.54h1.71v1.81h-1.71zM70.65 44.35h1.71v1.81h-1.71zM86.05 44.35h1.71v1.81h-1.71zM94.6 44.35h1.71v1.81h-1.71zM108.28 44.35h1.71v1.81h-1.71zM111.71 44.35h1.71v1.81h-1.71zM132.23 44.35h1.71v1.81h-1.71zM139.07 44.35h1.71v1.81h-1.71zM51.84 46.16h1.71v1.81h-1.71zM80.92 46.16h1.71v1.81h-1.71zM121.97 46.16h1.71v1.81h-1.71zM127.1 46.16h1.71v1.81h-1.71zM152.76 46.16h1.71v1.81h-1.71zM48.42 47.98h1.71v1.81h-1.71zM92.89 47.98h1.71v1.81h-1.71zM103.15 47.98h1.71v1.81h-1.71zM139.07 47.98h1.71v1.81h-1.71zM145.92 47.98h1.71v1.81h-1.71zM39.86 49.79h1.71v1.81h-1.71zM96.31 49.79h1.71v1.81h-1.71zM132.23 49.79h1.71v1.81h-1.71zM135.65 49.79h1.71v1.81h-1.71zM145.92 49.79h1.71v1.81h-1.71zM147.63 49.79h1.71v1.81h-1.71zM152.76 49.79h1.71v1.81h-1.71zM92.89 51.6h1.71v1.81h-1.71zM96.31 51.6h1.71v1.81h-1.71zM98.02 51.6h1.71v1.81h-1.71zM103.15 51.6h1.71v1.81h-1.71zM116.84 51.6h1.71v1.81h-1.71zM128.81 51.6h1.71v1.81h-1.71zM145.92 51.6h1.71v1.81h-1.71zM50.13 53.42h1.71v1.81h-1.71zM68.94 53.42h1.71v1.81h-1.71zM91.18 53.42h1.71v1.81h-1.71zM135.65 53.42h1.71v1.81h-1.71zM77.49 55.23h1.71v1.81h-1.71zM91.18 55.23h1.71v1.81h-1.71zM99.73 55.23h1.71v1.81h-1.71zM101.44 55.23h1.71v1.81h-1.71zM103.15 55.23h1.71v1.81h-1.71zM99.73 57.04h1.71v1.81h-1.71zM101.44 57.04h1.71v1.81h-1.71zM106.57 57.04h1.71v1.81h-1.71zM123.68 57.04h1.71v1.81h-1.71zM130.52 57.04h1.71v1.81h-1.71zM140.78 57.04h1.71v1.81h-1.71zM149.34 57.04h1.71v1.81h-1.71zM151.05 57.04h1.71v1.81h-1.71zM103.15 58.86h1.71v1.81h-1.71zM104.86 58.86h1.71v1.81h-1.71zM108.28 58.86h1.71v1.81h-1.71zM113.42 58.86h1.71v1.81h-1.71zM86.05 60.67h1.71v1.81h-1.71zM89.47 60.67h1.71v1.81h-1.71zM92.89 60.67h1.71v1.81h-1.71zM101.44 60.67h1.71v1.81h-1.71zM123.68 60.67h1.71v1.81h-1.71zM127.1 60.67h1.71v1.81h-1.71zM147.63 60.67h1.71v1.81h-1.71zM53.55 62.48h1.71v1.81h-1.71zM92.89 62.48h1.71v1.81h-1.71zM113.42 62.48h1.71v1.81h-1.71zM147.63 62.48h1.71v1.81h-1.71zM151.05 62.48h1.71v1.81h-1.71zM68.94 64.3h1.71v1.81h-1.71zM75.78 64.3h1.71v1.81h-1.71zM77.49 64.3h1.71v1.81h-1.71zM130.52 64.3h1.71v1.81h-1.71zM142.49 64.3h1.71v1.81h-1.71zM58.68 66.11h1.71v1.81h-1.71zM106.57 66.11h1.71v1.81h-1.71zM123.68 66.11h1.71v1.81h-1.71zM128.81 66.11h1.71v1.81h-1.71zM75.78 67.92h1.71v1.81h-1.71zM77.49 67.92h1.71v1.81h-1.71zM98.02 67.92h1.71v1.81h-1.71zM115.13 67.92h1.71v1.81h-1.71zM116.84 67.92h1.71v1.81h-1.71zM137.36 67.92h1.71v1.81h-1.71zM62.1 69.74h1.71v1.81h-1.71zM65.52 69.74h1.71v1.81h-1.71zM80.92 69.74h1.71v1.81h-1.71zM82.63 69.74h1.71v1.81h-1.71zM86.05 69.74h1.71v1.81h-1.71zM87.76 69.74h1.71v1.81h-1.71zM89.47 69.74h1.71v1.81h-1.71zM92.89 69.74h1.71v1.81h-1.71zM103.15 69.74h1.71v1.81h-1.71zM111.71 69.74h1.71v1.81h-1.71zM113.42 69.74h1.71v1.81h-1.71zM121.97 69.74h1.71v1.81h-1.71zM82.63 71.55h1.71v1.81h-1.71zM84.34 71.55h1.71v1.81h-1.71zM89.47 71.55h1.71v1.81h-1.71zM116.84 71.55h1.71v1.81h-1.71zM125.39 71.55h1.71v1.81h-1.71zM130.52 71.55h1.71v1.81h-1.71zM133.94 71.55h1.71v1.81h-1.71zM140.78 71.55h1.71v1.81h-1.71zM58.68 73.36h1.71v1.81h-1.71zM87.76 73.36h1.71v1.81h-1.71zM103.15 73.36h1.71v1.81h-1.71zM109.99 73.36h1.71v1.81h-1.71zM140.78 73.36h1.71v1.81h-1.71zM142.49 73.36h1.71v1.81h-1.71zM145.92 73.36h1.71v1.81h-1.71zM147.63 73.36h1.71v1.81h-1.71zM56.97 75.18h1.71v1.81h-1.71zM63.81 75.18h1.71v1.81h-1.71zM94.6 75.18h1.71v1.81h-1.71zM111.71 75.18h1.71v1.81h-1.71zM116.84 75.18h1.71v1.81h-1.71zM123.68 75.18h1.71v1.81h-1.71zM140.78 75.18h1.71v1.81h-1.71zM89.47 76.99h1.71v1.81h-1.71zM96.31 76.99h1.71v1.81h-1.71zM115.13 76.99h1.71v1.81h-1.71zM91.18 78.81h1.71v1.81h-1.71zM103.15 78.81h1.71v1.81h-1.71zM104.86 78.81h1.71v1.81h-1.71zM108.28 78.81h1.71v1.81h-1.71zM123.68 78.81h1.71v1.81h-1.71zM152.76 78.81h1.71v1.81h-1.71zM156.18 78.81h1.71v1.81h-1.71zM98.02 80.62h1.71v1.81h-1.71zM99.73 80.62h1.71v1.81h-1.71zM128.81 80.62h1.71v1.81h-1.71zM91.18 82.43h1.71v1.81h-1.71zM99.73 82.43h1.71v1.81h-1.71zM116.84 82.43h1.71v1.81h-1.71zM140.78 82.43h1.71v1.81h-1.71zM91.18 84.25h1.71v1.81h-1.71zM116.84 84.25h1.71v1.81h-1.71zM127.1 84.25h1.71v1.81h-1.71zM137.36 84.25h1.71v1.81h-1.71zM51.84 86.06h1.71v1.81h-1.71zM68.94 86.06h1.71v1.81h-1.71zM75.78 86.06h1.71v1.81h-1.71zM103.15 86.06h1.71v1.81h-1.71zM111.71 86.06h1.71v1.81h-1.71zM133.94 86.06h1.71v1.81h-1.71zM74.07 87.87h1.71v1.81h-1.71zM86.05 87.87h1.71v1.81h-1.71zM91.18 87.87h1.71v1.81h-1.71zM98.02 87.87h1.71v1.81h-1.71zM108.28 87.87h1.71v1.81h-1.71zM109.99 87.87h1.71v1.81h-1.71zM123.68 87.87h1.71v1.81h-1.71zM151.05 87.87h1.71v1.81h-1.71zM154.47 87.87h1.71v1.81h-1.71zM157.89 87.87h1.71v1.81h-1.71zM111.71 89.69h1.71v1.81h-1.71zM135.65 89.69h1.71v1.81h-1.71zM139.07 89.69h1.71v1.81h-1.71zM152.76 89.69h1.71v1.81h-1.71zM191.29 28.03h1.71v1.81h-1.71zM198.11 28.03h1.71v1.81h-1.71zM223.69 28.03h1.71v1.81h-1.71zM259.5 28.03h1.71v1.81h-1.71zM262.91 28.03h1.71v1.81h-1.71zM285.08 28.03h1.71v1.81h-1.71zM164 29.84h1.71v1.81h-1.71zM175.94 29.84h1.71v1.81h-1.71zM181.05 29.84h1.71v1.81h-1.71zM204.93 29.84h1.71v1.81h-1.71zM206.64 29.84h1.71v1.81h-1.71zM208.34 29.84h1.71v1.81h-1.71zM227.1 29.84h1.71v1.81h-1.71zM237.33 29.84h1.71v1.81h-1.71zM244.15 29.84h1.71v1.81h-1.71zM261.21 29.84h1.71v1.81h-1.71zM167.41 31.65h1.71v1.81h-1.71zM169.12 31.65h1.71v1.81h-1.71zM239.04 31.65h1.71v1.81h-1.71zM242.45 31.65h1.71v1.81h-1.71zM278.26 31.65h1.71v1.81h-1.71zM281.67 31.65h1.71v1.81h-1.71zM285.08 31.65h1.71v1.81h-1.71zM181.05 33.47h1.71v1.81h-1.71zM182.76 33.47h1.71v1.81h-1.71zM194.7 33.47h1.71v1.81h-1.71zM244.15 33.47h1.71v1.81h-1.71zM259.5 33.47h1.71v1.81h-1.71zM261.21 33.47h1.71v1.81h-1.71zM172.53 35.28h1.71v1.81h-1.71zM175.94 35.28h1.71v1.81h-1.71zM194.7 35.28h1.71v1.81h-1.71zM203.22 35.28h1.71v1.81h-1.71zM208.34 35.28h1.71v1.81h-1.71zM245.86 35.28h1.71v1.81h-1.71zM256.09 35.28h1.71v1.81h-1.71zM257.8 35.28h1.71v1.81h-1.71zM261.21 35.28h1.71v1.81h-1.71zM268.03 35.28h1.71v1.81h-1.71zM273.15 35.28h1.71v1.81h-1.71zM279.97 35.28h1.71v1.81h-1.71zM281.67 35.28h1.71v1.81h-1.71zM175.94 37.09h1.71v1.81h-1.71zM186.17 37.09h1.71v1.81h-1.71zM191.29 37.09h1.71v1.81h-1.71zM213.46 37.09h1.71v1.81h-1.71zM215.16 37.09h1.71v1.81h-1.71zM228.81 37.09h1.71v1.81h-1.71zM232.22 37.09h1.71v1.81h-1.71zM239.04 37.09h1.71v1.81h-1.71zM242.45 37.09h1.71v1.81h-1.71zM256.09 37.09h1.71v1.81h-1.71zM266.32 37.09h1.71v1.81h-1.71zM274.85 37.09h1.71v1.81h-1.71zM281.67 37.09h1.71v1.81h-1.71zM164 38.91h1.71v1.81h-1.71zM174.23 38.91h1.71v1.81h-1.71zM186.17 38.91h1.71v1.81h-1.71zM194.7 38.91h1.71v1.81h-1.71zM213.46 38.91h1.71v1.81h-1.71zM220.28 38.91h1.71v1.81h-1.71zM245.86 38.91h1.71v1.81h-1.71zM249.27 38.91h1.71v1.81h-1.71zM254.39 38.91h1.71v1.81h-1.71zM261.21 38.91h1.71v1.81h-1.71zM276.56 38.91h1.71v1.81h-1.71zM198.11 40.72h1.71v1.81h-1.71zM206.64 40.72h1.71v1.81h-1.71zM208.34 40.72h1.71v1.81h-1.71zM220.28 40.72h1.71v1.81h-1.71zM223.69 40.72h1.71v1.81h-1.71zM232.22 40.72h1.71v1.81h-1.71zM237.33 40.72h1.71v1.81h-1.71zM261.21 40.72h1.71v1.81h-1.71zM196.4 42.54h1.71v1.81h-1.71zM215.16 42.54h1.71v1.81h-1.71zM235.63 42.54h1.71v1.81h-1.71zM249.27 42.54h1.71v1.81h-1.71zM259.5 42.54h1.71v1.81h-1.71zM285.08 42.54h1.71v1.81h-1.71zM288.49 42.54h1.71v1.81h-1.71zM182.76 44.35h1.71v1.81h-1.71zM184.46 44.35h1.71v1.81h-1.71zM206.64 44.35h1.71v1.81h-1.71zM215.16 44.35h1.71v1.81h-1.71zM218.57 44.35h1.71v1.81h-1.71zM230.51 44.35h1.71v1.81h-1.71zM233.92 44.35h1.71v1.81h-1.71zM235.63 44.35h1.71v1.81h-1.71zM240.74 44.35h1.71v1.81h-1.71zM249.27 44.35h1.71v1.81h-1.71zM254.39 44.35h1.71v1.81h-1.71zM261.21 44.35h1.71v1.81h-1.71zM262.91 44.35h1.71v1.81h-1.71zM278.26 44.35h1.71v1.81h-1.71zM165.71 46.16h1.71v1.81h-1.71zM172.53 46.16h1.71v1.81h-1.71zM177.64 46.16h1.71v1.81h-1.71zM203.22 46.16h1.71v1.81h-1.71zM210.05 46.16h1.71v1.81h-1.71zM213.46 46.16h1.71v1.81h-1.71zM218.57 46.16h1.71v1.81h-1.71zM223.69 46.16h1.71v1.81h-1.71zM227.1 46.16h1.71v1.81h-1.71zM244.15 46.16h1.71v1.81h-1.71zM273.15 46.16h1.71v1.81h-1.71zM177.64 47.98h1.71v1.81h-1.71zM179.35 47.98h1.71v1.81h-1.71zM196.4 47.98h1.71v1.81h-1.71zM208.34 47.98h1.71v1.81h-1.71zM218.57 47.98h1.71v1.81h-1.71zM220.28 47.98h1.71v1.81h-1.71zM269.74 47.98h1.71v1.81h-1.71zM271.44 47.98h1.71v1.81h-1.71zM283.38 47.98h1.71v1.81h-1.71zM182.76 49.79h1.71v1.81h-1.71zM230.51 49.79h1.71v1.81h-1.71zM235.63 49.79h1.71v1.81h-1.71zM262.91 49.79h1.71v1.81h-1.71zM278.26 49.79h1.71v1.81h-1.71zM192.99 51.6h1.71v1.81h-1.71zM220.28 51.6h1.71v1.81h-1.71zM244.15 51.6h1.71v1.81h-1.71zM259.5 51.6h1.71v1.81h-1.71zM261.21 51.6h1.71v1.81h-1.71zM266.32 51.6h1.71v1.81h-1.71zM271.44 51.6h1.71v1.81h-1.71zM281.67 51.6h1.71v1.81h-1.71zM199.81 53.42h1.71v1.81h-1.71zM225.39 53.42h1.71v1.81h-1.71zM230.51 53.42h1.71v1.81h-1.71zM237.33 53.42h1.71v1.81h-1.71zM239.04 53.42h1.71v1.81h-1.71zM245.86 53.42h1.71v1.81h-1.71zM264.62 53.42h1.71v1.81h-1.71zM273.15 53.42h1.71v1.81h-1.71zM274.85 53.42h1.71v1.81h-1.71zM285.08 53.42h1.71v1.81h-1.71zM223.69 55.23h1.71v1.81h-1.71zM232.22 55.23h1.71v1.81h-1.71zM244.15 55.23h1.71v1.81h-1.71zM245.86 55.23h1.71v1.81h-1.71zM179.35 57.04h1.71v1.81h-1.71zM199.81 57.04h1.71v1.81h-1.71zM201.52 57.04h1.71v1.81h-1.71zM203.22 57.04h1.71v1.81h-1.71zM215.16 57.04h1.71v1.81h-1.71zM220.28 57.04h1.71v1.81h-1.71zM230.51 57.04h1.71v1.81h-1.71zM240.74 57.04h1.71v1.81h-1.71zM245.86 57.04h1.71v1.81h-1.71zM250.98 57.04h1.71v1.81h-1.71zM254.39 57.04h1.71v1.81h-1.71zM256.09 57.04h1.71v1.81h-1.71zM285.08 57.04h1.71v1.81h-1.71zM206.64 58.86h1.71v1.81h-1.71zM208.34 58.86h1.71v1.81h-1.71zM210.05 58.86h1.71v1.81h-1.71zM210.05 60.67h1.71v1.81h-1.71zM230.51 60.67h1.71v1.81h-1.71zM259.5 60.67h1.71v1.81h-1.71zM285.08 60.67h1.71v1.81h-1.71zM181.05 62.48h1.71v1.81h-1.71zM201.52 62.48h1.71v1.81h-1.71zM213.46 62.48h1.71v1.81h-1.71zM227.1 62.48h1.71v1.81h-1.71zM233.92 62.48h1.71v1.81h-1.71zM237.33 62.48h1.71v1.81h-1.71zM252.68 62.48h1.71v1.81h-1.71zM261.21 62.48h1.71v1.81h-1.71zM285.08 62.48h1.71v1.81h-1.71zM288.49 62.48h1.71v1.81h-1.71zM164 64.3h1.71v1.81h-1.71zM198.11 64.3h1.71v1.81h-1.71zM199.81 64.3h1.71v1.81h-1.71zM204.93 64.3h1.71v1.81h-1.71zM228.81 64.3h1.71v1.81h-1.71zM235.63 64.3h1.71v1.81h-1.71zM262.91 64.3h1.71v1.81h-1.71zM266.32 64.3h1.71v1.81h-1.71zM281.67 64.3h1.71v1.81h-1.71zM283.38 64.3h1.71v1.81h-1.71zM285.08 64.3h1.71v1.81h-1.71zM181.05 66.11h1.71v1.81h-1.71zM182.76 66.11h1.71v1.81h-1.71zM186.17 66.11h1.71v1.81h-1.71zM191.29 66.11h1.71v1.81h-1.71zM228.81 66.11h1.71v1.81h-1.71zM230.51 66.11h1.71v1.81h-1.71zM242.45 66.11h1.71v1.81h-1.71zM247.56 66.11h1.71v1.81h-1.71zM254.39 66.11h1.71v1.81h-1.71zM259.5 66.11h1.71v1.81h-1.71zM288.49 66.11h1.71v1.81h-1.71zM165.71 67.92h1.71v1.81h-1.71zM223.69 67.92h1.71v1.81h-1.71zM235.63 67.92h1.71v1.81h-1.71zM239.04 67.92h1.71v1.81h-1.71zM240.74 67.92h1.71v1.81h-1.71zM242.45 67.92h1.71v1.81h-1.71zM245.86 67.92h1.71v1.81h-1.71zM264.62 67.92h1.71v1.81h-1.71zM279.97 67.92h1.71v1.81h-1.71zM288.49 67.92h1.71v1.81h-1.71zM237.33 69.74h1.71v1.81h-1.71zM242.45 69.74h1.71v1.81h-1.71zM252.68 69.74h1.71v1.81h-1.71zM165.71 71.55h1.71v1.81h-1.71zM208.34 71.55h1.71v1.81h-1.71zM216.87 71.55h1.71v1.81h-1.71zM244.15 71.55h1.71v1.81h-1.71zM256.09 71.55h1.71v1.81h-1.71zM273.15 71.55h1.71v1.81h-1.71zM274.85 71.55h1.71v1.81h-1.71zM285.08 71.55h1.71v1.81h-1.71zM187.88 73.36h1.71v1.81h-1.71zM216.87 73.36h1.71v1.81h-1.71zM218.57 73.36h1.71v1.81h-1.71zM230.51 73.36h1.71v1.81h-1.71zM240.74 73.36h1.71v1.81h-1.71zM247.56 73.36h1.71v1.81h-1.71zM256.09 73.36h1.71v1.81h-1.71zM257.8 73.36h1.71v1.81h-1.71zM169.12 75.18h1.71v1.81h-1.71zM174.23 75.18h1.71v1.81h-1.71zM184.46 75.18h1.71v1.81h-1.71zM208.34 75.18h1.71v1.81h-1.71zM237.33 75.18h1.71v1.81h-1.71zM239.04 75.18h1.71v1.81h-1.71zM245.86 75.18h1.71v1.81h-1.71zM254.39 75.18h1.71v1.81h-1.71zM266.32 75.18h1.71v1.81h-1.71zM273.15 75.18h1.71v1.81h-1.71zM196.4 76.99h1.71v1.81h-1.71zM213.46 76.99h1.71v1.81h-1.71zM225.39 76.99h1.71v1.81h-1.71zM249.27 76.99h1.71v1.81h-1.71zM264.62 76.99h1.71v1.81h-1.71zM172.53 78.81h1.71v1.81h-1.71zM196.4 78.81h1.71v1.81h-1.71zM204.93 78.81h1.71v1.81h-1.71zM211.75 78.81h1.71v1.81h-1.71zM213.46 78.81h1.71v1.81h-1.71zM240.74 78.81h1.71v1.81h-1.71zM261.21 78.81h1.71v1.81h-1.71zM269.74 78.81h1.71v1.81h-1.71zM279.97 78.81h1.71v1.81h-1.71zM288.49 78.81h1.71v1.81h-1.71zM201.52 80.62h1.71v1.81h-1.71zM215.16 80.62h1.71v1.81h-1.71zM256.09 80.62h1.71v1.81h-1.71zM266.32 80.62h1.71v1.81h-1.71zM271.44 80.62h1.71v1.81h-1.71zM164 82.43h1.71v1.81h-1.71zM187.88 82.43h1.71v1.81h-1.71zM240.74 82.43h1.71v1.81h-1.71zM271.44 82.43h1.71v1.81h-1.71zM288.49 82.43h1.71v1.81h-1.71zM164 84.25h1.71v1.81h-1.71zM172.53 84.25h1.71v1.81h-1.71zM203.22 84.25h1.71v1.81h-1.71zM204.93 84.25h1.71v1.81h-1.71zM211.75 84.25h1.71v1.81h-1.71zM213.46 84.25h1.71v1.81h-1.71zM268.03 84.25h1.71v1.81h-1.71zM269.74 84.25h1.71v1.81h-1.71zM172.53 86.06h1.71v1.81h-1.71zM174.23 86.06h1.71v1.81h-1.71zM175.94 86.06h1.71v1.81h-1.71zM198.11 86.06h1.71v1.81h-1.71zM204.93 86.06h1.71v1.81h-1.71zM208.34 86.06h1.71v1.81h-1.71zM225.39 86.06h1.71v1.81h-1.71zM227.1 86.06h1.71v1.81h-1.71zM239.04 86.06h1.71v1.81h-1.71zM274.85 86.06h1.71v1.81h-1.71zM278.26 86.06h1.71v1.81h-1.71zM167.41 87.87h1.71v1.81h-1.71zM192.99 87.87h1.71v1.81h-1.71zM216.87 87.87h1.71v1.81h-1.71zM223.69 87.87h1.71v1.81h-1.71zM259.5 87.87h1.71v1.81h-1.71zM285.08 87.87h1.71v1.81h-1.71zM164 89.69h1.71v1.81h-1.71zM215.16 89.69h1.71v1.81h-1.71zM230.51 89.69h1.71v1.81h-1.71zM239.04 89.69h1.71v1.81h-1.71zM244.15 89.69h1.71v1.81h-1.71zM245.86 89.69h1.71v1.81h-1.71zM257.8 89.69h1.71v1.81h-1.71zM261.21 89.69h1.71v1.81h-1.71zM278.26 89.69h1.71v1.81h-1.71zM281.67 89.69h1.71v1.81h-1.71zM31.31 95.4h1.71v1.85h-1.71zM46.71 95.4h1.71v1.85h-1.71zM68.94 95.4h1.71v1.85h-1.71zM137.36 95.4h1.71v1.85h-1.71zM151.05 95.4h1.71v1.85h-1.71zM74.07 97.25h1.71v1.85h-1.71zM87.76 97.25h1.71v1.85h-1.71zM115.13 97.25h1.71v1.85h-1.71zM116.84 97.25h1.71v1.85h-1.71zM121.97 97.25h1.71v1.85h-1.71zM130.52 97.25h1.71v1.85h-1.71zM142.49 97.25h1.71v1.85h-1.71zM50.13 99.11h1.71v1.85h-1.71zM62.1 99.11h1.71v1.85h-1.71zM72.36 99.11h1.71v1.85h-1.71zM147.63 99.11h1.71v1.85h-1.71zM41.57 100.96h1.71v1.85h-1.71zM65.52 100.96h1.71v1.85h-1.71zM72.36 100.96h1.71v1.85h-1.71zM80.92 100.96h1.71v1.85h-1.71zM104.86 100.96h1.71v1.85h-1.71zM118.55 100.96h1.71v1.85h-1.71zM156.18 100.96h1.71v1.85h-1.71zM36.44 102.82h1.71v1.85h-1.71zM56.97 102.82h1.71v1.85h-1.71zM89.47 102.82h1.71v1.85h-1.71zM91.18 102.82h1.71v1.85h-1.71zM121.97 102.82h1.71v1.85h-1.71zM142.49 102.82h1.71v1.85h-1.71zM149.34 102.82h1.71v1.85h-1.71zM92.89 104.67h1.71v1.85h-1.71zM106.57 104.67h1.71v1.85h-1.71zM128.81 104.67h1.71v1.85h-1.71zM36.44 106.53h1.71v1.85h-1.71zM46.71 106.53h1.71v1.85h-1.71zM82.63 106.53h1.71v1.85h-1.71zM86.05 106.53h1.71v1.85h-1.71zM144.21 106.53h1.71v1.85h-1.71zM33.02 108.38h1.71v1.85h-1.71zM86.05 108.38h1.71v1.85h-1.71zM91.18 108.38h1.71v1.85h-1.71zM101.44 108.38h1.71v1.85h-1.71zM104.86 108.38h1.71v1.85h-1.71zM128.81 108.38h1.71v1.85h-1.71zM132.23 108.38h1.71v1.85h-1.71zM140.78 108.38h1.71v1.85h-1.71zM157.89 108.38h1.71v1.85h-1.71zM62.1 110.24h1.71v1.85h-1.71zM79.21 110.24h1.71v1.85h-1.71zM84.34 110.24h1.71v1.85h-1.71zM89.47 110.24h1.71v1.85h-1.71zM92.89 110.24h1.71v1.85h-1.71zM106.57 110.24h1.71v1.85h-1.71zM125.39 110.24h1.71v1.85h-1.71zM127.1 110.24h1.71v1.85h-1.71zM139.07 110.24h1.71v1.85h-1.71zM99.73 112.09h1.71v1.85h-1.71zM139.07 112.09h1.71v1.85h-1.71zM43.28 113.95h1.71v1.85h-1.71zM113.42 113.95h1.71v1.85h-1.71zM125.39 113.95h1.71v1.85h-1.71zM184.46 95.4h1.71v1.85h-1.71zM230.51 95.4h1.71v1.85h-1.71zM237.33 95.4h1.71v1.85h-1.71zM268.03 95.4h1.71v1.85h-1.71zM278.26 95.4h1.71v1.85h-1.71zM281.67 95.4h1.71v1.85h-1.71zM288.49 95.4h1.71v1.85h-1.71zM182.76 97.25h1.71v1.85h-1.71zM204.93 97.25h1.71v1.85h-1.71zM206.64 97.25h1.71v1.85h-1.71zM228.81 97.25h1.71v1.85h-1.71zM172.53 99.11h1.71v1.85h-1.71zM179.35 99.11h1.71v1.85h-1.71zM223.69 99.11h1.71v1.85h-1.71zM225.39 99.11h1.71v1.85h-1.71zM261.21 99.11h1.71v1.85h-1.71zM269.74 99.11h1.71v1.85h-1.71zM279.97 99.11h1.71v1.85h-1.71zM194.7 100.96h1.71v1.85h-1.71zM203.22 100.96h1.71v1.85h-1.71zM211.75 100.96h1.71v1.85h-1.71zM276.56 100.96h1.71v1.85h-1.71zM192.99 102.82h1.71v1.85h-1.71zM206.64 102.82h1.71v1.85h-1.71zM244.15 102.82h1.71v1.85h-1.71zM276.56 102.82h1.71v1.85h-1.71zM216.87 104.67h1.71v1.85h-1.71zM244.15 104.67h1.71v1.85h-1.71zM252.68 104.67h1.71v1.85h-1.71zM262.91 104.67h1.71v1.85h-1.71zM288.49 104.67h1.71v1.85h-1.71zM182.76 106.53h1.71v1.85h-1.71zM227.1 106.53h1.71v1.85h-1.71zM204.93 108.38h1.71v1.85h-1.71zM223.69 108.38h1.71v1.85h-1.71zM257.8 108.38h1.71v1.85h-1.71zM261.21 108.38h1.71v1.85h-1.71zM262.91 108.38h1.71v1.85h-1.71zM170.82 110.24h1.71v1.85h-1.71zM244.15 110.24h1.71v1.85h-1.71zM250.98 110.24h1.71v1.85h-1.71zM279.97 110.24h1.71v1.85h-1.71zM281.67 110.24h1.71v1.85h-1.71zM167.41 112.09h1.71v1.85h-1.71zM201.52 112.09h1.71v1.85h-1.71zM213.46 112.09h1.71v1.85h-1.71zM216.87 112.09h1.71v1.85h-1.71zM271.44 112.09h1.71v1.85h-1.71zM189.58 113.95h1.71v1.85h-1.71zM233.92 113.95h1.71v1.85h-1.71zM252.68 113.95h1.71v1.85h-1.71zM29.6 129.2h1.71v1.65h-1.71zM36.44 129.2h1.71v1.65h-1.71zM56.97 129.2h1.71v1.65h-1.71zM75.78 129.2h1.71v1.65h-1.71zM84.34 129.2h1.71v1.65h-1.71zM127.1 129.2h1.71v1.65h-1.71zM31.31 130.85h1.71v1.65h-1.71zM36.44 130.85h1.71v1.65h-1.71zM55.26 130.85h1.71v1.65h-1.71zM60.39 130.85h1.71v1.65h-1.71zM65.52 130.85h1.71v1.65h-1.71zM68.94 130.85h1.71v1.65h-1.71zM74.07 130.85h1.71v1.65h-1.71zM92.89 130.85h1.71v1.65h-1.71zM99.73 130.85h1.71v1.65h-1.71zM104.86 130.85h1.71v1.65h-1.71zM111.71 130.85h1.71v1.65h-1.71zM121.97 130.85h1.71v1.65h-1.71zM130.52 130.85h1.71v1.65h-1.71zM151.05 130.85h1.71v1.65h-1.71zM177.64 129.2h1.71v1.65h-1.71zM191.29 129.2h1.71v1.65h-1.71zM215.16 129.2h1.71v1.65h-1.71zM227.1 129.2h1.71v1.65h-1.71zM232.22 129.2h1.71v1.65h-1.71zM247.56 129.2h1.71v1.65h-1.71zM259.5 129.2h1.71v1.65h-1.71zM271.44 129.2h1.71v1.65h-1.71zM274.85 129.2h1.71v1.65h-1.71zM169.12 130.85h1.71v1.65h-1.71zM182.76 130.85h1.71v1.65h-1.71zM189.58 130.85h1.71v1.65h-1.71zM199.81 130.85h1.71v1.65h-1.71zM201.52 130.85h1.71v1.65h-1.71zM211.75 130.85h1.71v1.65h-1.71zM216.87 130.85h1.71v1.65h-1.71zM221.98 130.85h1.71v1.65h-1.71zM230.51 130.85h1.71v1.65h-1.71zM276.56 130.85h1.71v1.65h-1.71zM140.78 136.5h1.71v1.81h-1.71zM33.02 138.31h1.71v1.81h-1.71zM46.71 138.31h1.71v1.81h-1.71zM51.84 138.31h1.71v1.81h-1.71zM55.26 138.31h1.71v1.81h-1.71zM67.23 138.31h1.71v1.81h-1.71zM68.94 138.31h1.71v1.81h-1.71zM74.07 138.31h1.71v1.81h-1.71zM79.21 138.31h1.71v1.81h-1.71zM84.34 138.31h1.71v1.81h-1.71zM113.42 138.31h1.71v1.81h-1.71zM115.13 138.31h1.71v1.81h-1.71zM121.97 138.31h1.71v1.81h-1.71zM127.1 138.31h1.71v1.81h-1.71zM140.78 138.31h1.71v1.81h-1.71zM152.76 138.31h1.71v1.81h-1.71zM154.47 138.31h1.71v1.81h-1.71zM157.89 138.31h1.71v1.81h-1.71zM31.31 140.13h1.71v1.81h-1.71zM108.28 140.13h1.71v1.81h-1.71zM34.73 141.94h1.71v1.81h-1.71zM46.71 141.94h1.71v1.81h-1.71zM55.26 141.94h1.71v1.81h-1.71zM145.92 141.94h1.71v1.81h-1.71zM152.76 141.94h1.71v1.81h-1.71zM31.31 143.76h1.71v1.81h-1.71zM33.02 143.76h1.71v1.81h-1.71zM36.44 143.76h1.71v1.81h-1.71zM43.28 143.76h1.71v1.81h-1.71zM86.05 143.76h1.71v1.81h-1.71zM89.47 143.76h1.71v1.81h-1.71zM104.86 143.76h1.71v1.81h-1.71zM125.39 143.76h1.71v1.81h-1.71zM152.76 143.76h1.71v1.81h-1.71zM39.86 145.57h1.71v1.81h-1.71zM115.13 145.57h1.71v1.81h-1.71zM132.23 145.57h1.71v1.81h-1.71zM139.07 145.57h1.71v1.81h-1.71zM140.78 145.57h1.71v1.81h-1.71zM34.73 147.39h1.71v1.81h-1.71zM55.26 147.39h1.71v1.81h-1.71zM96.31 147.39h1.71v1.81h-1.71zM98.02 147.39h1.71v1.81h-1.71zM120.26 147.39h1.71v1.81h-1.71zM137.36 147.39h1.71v1.81h-1.71zM144.21 147.39h1.71v1.81h-1.71zM154.47 147.39h1.71v1.81h-1.71zM203.22 136.5h1.71v1.81h-1.71zM240.74 136.5h1.71v1.81h-1.71zM259.5 136.5h1.71v1.81h-1.71zM266.32 136.5h1.71v1.81h-1.71zM278.26 136.5h1.71v1.81h-1.71zM237.33 138.31h1.71v1.81h-1.71zM239.04 138.31h1.71v1.81h-1.71zM276.56 138.31h1.71v1.81h-1.71zM278.26 138.31h1.71v1.81h-1.71zM164 140.13h1.71v1.81h-1.71zM198.11 140.13h1.71v1.81h-1.71zM203.22 140.13h1.71v1.81h-1.71zM210.05 140.13h1.71v1.81h-1.71zM286.79 140.13h1.71v1.81h-1.71zM172.53 141.94h1.71v1.81h-1.71zM194.7 141.94h1.71v1.81h-1.71zM199.81 141.94h1.71v1.81h-1.71zM257.8 141.94h1.71v1.81h-1.71zM262.91 141.94h1.71v1.81h-1.71zM276.56 141.94h1.71v1.81h-1.71zM278.26 141.94h1.71v1.81h-1.71zM187.88 143.76h1.71v1.81h-1.71zM199.81 143.76h1.71v1.81h-1.71zM213.46 143.76h1.71v1.81h-1.71zM220.28 143.76h1.71v1.81h-1.71zM259.5 143.76h1.71v1.81h-1.71zM271.44 143.76h1.71v1.81h-1.71zM279.97 143.76h1.71v1.81h-1.71zM288.49 143.76h1.71v1.81h-1.71zM165.71 145.57h1.71v1.81h-1.71zM189.58 145.57h1.71v1.81h-1.71zM206.64 145.57h1.71v1.81h-1.71zM237.33 145.57h1.71v1.81h-1.71zM274.85 145.57h1.71v1.81h-1.71zM175.94 147.39h1.71v1.81h-1.71zM213.46 147.39h1.71v1.81h-1.71zM240.74 147.39h1.71v1.81h-1.71zM268.03 147.39h1.71v1.81h-1.71zM273.15 147.39h1.71v1.81h-1.71zM283.38 147.39h1.71v1.81h-1.71zM286.79 147.39h1.71v1.81h-1.71zM288.49 147.39h1.71v1.81h-1.71z"/>
<path fill="#142814" d="M206.64 22.5h1.71v1.9h-1.71zM96.31 33.47h1.71v1.81h-1.71zM99.73 42.54h1.71v1.81h-1.71zM152.76 53.42h1.71v1.81h-1.71zM86.05 57.04h1.71v1.81h-1.71zM106.57 67.92h1.71v1.81h-1.71zM154.47 71.55h1.71v1.81h-1.71zM116.84 86.06h1.71v1.81h-1.71zM204.93 49.79h1.71v1.81h-1.71zM170.82 51.6h1.71v1.81h-1.71zM269.74 60.67h1.71v1.81h-1.71zM262.91 62.48h1.71v1.81h-1.71zM213.46 66.11h1.71v1.81h-1.71zM194.7 82.43h1.71v1.81h-1.71zM206.64 82.43h1.71v1.81h-1.71zM239.04 84.25h1.71v1.81h-1.71zM194.7 89.69h1.71v1.81h-1.71zM140.78 97.25h1.71v1.85h-1.71zM157.89 99.11h1.71v1.85h-1.71zM68.94 100.96h1.71v1.85h-1.71zM147.63 100.96h1.71v1.85h-1.71zM84.34 106.53h1.71v1.85h-1.71zM111.71 110.24h1.71v1.85h-1.71zM257.8 97.25h1.71v1.85h-1.71zM266.32 97.25h1.71v1.85h-1.71zM266.32 112.09h1.71v1.85h-1.71zM256.09 130.85h1.71v1.65h-1.71zM53.55 140.13h1.71v1.81h-1.71zM149.34 143.76h1.71v1.81h-1.71z"/>
<path fill="#c8c878" d="M29.6 24.4h1.71v1.81h-1.71zM44.99 24.4h1.71v1.81h-1.71zM29.6 26.21h1.71v1.81h-1.71z"/>
<path fill="#14283c" d="M31.31 24.4h1.71v1.81h-1.71zM36.44 24.4h1.71v1.81h-1.71zM38.15 24.4h1.71v1.81h-1.71zM39.86 24.4h1.71v1.81h-1.71zM43.28 24.4h1.71v1.81h-1.71zM51.84 24.4h1.71v1.81h-1.71zM55.26 24.4h1.71v1.81h-1.71zM58.68 24.4h1.71v1.81h-1.71zM63.81 24.4h1.71v1.81h-1.71zM74.07 24.4h1.71v1.81h-1.71zM77.49 24.4h1.71v1.81h-1.71zM87.76 24.4h1.71v1.81h-1.71zM98.02 24.4h1.71v1.81h-1.71zM101.44 24.4h1.71v1.81h-1.71zM104.86 24.4h1.71v1.81h-1.71zM106.57 24.4h1.71v1.81h-1.71zM108.28 24.4h1.71v1.81h-1.71zM109.99 24.4h1.71v1.81h-1.71zM113.42 24.4h1.71v1.81h-1.71zM120.26 24.4h1.71v1.81h-1.71zM123.68 24.4h1.71v1.81h-1.71zM125.39 24.4h1.71v1.81h-1.71zM128.81 24.4h1.71v1.81h-1.71zM139.07 24.4h1.71v1.81h-1.71zM149.34 24.4h1.71v1.81h-1.71zM151.05 24.4h1.71v1.81h-1.71zM31.31 26.21h1.71v1.81h-1.71zM36.44 26.21h1.71v1.81h-1.71zM38.15 26.21h1.71v1.81h-1.71zM39.86 26.21h1.71v1.81h-1.71zM43.28 26.21h1.71v1.81h-1.71zM51.84 26.21h1.71v1.81h-1.71zM55.26 26.21h1.71v1.81h-1.71zM58.68 26.21h1.71v1.81h-1.71zM63.81 26.21h1.71v1.81h-1.71zM74.07 26.21h1.71v1.81h-1.71zM77.49 26.21h1.71v1.81h-1.71zM87.76 26.21h1.71v1.81h-1.71zM98.02 26.21h1.71v1.81h-1.71zM101.44 26.21h1.71v1.81h-1.71zM104.86 26.21h1.71v1.81h-1.71zM106.57 26.21h1.71v1.81h-1.71zM108.28 26.21h1.71v1.81h-1.71zM109.99 26.21h1.71v1.81h-1.71zM113.42 26.21h1.71v1.81h-1.71zM120.26 26.21h1.71v1.81h-1.71zM123.68 26.21h1.71v1.81h-1.71zM125.39 26.21h1.71v1.81h-1.71zM128.81 26.21h1.71v1.81h-1.71zM139.07 26.21h1.71v1.81h-1.71zM149.34 26.21h1.71v1.81h-1.71zM80.92 28.03h1.71v1.81h-1.71zM87.76 28.03h1.71v1.81h-1.71zM89.47 28.03h1.71v1.81h-1.71zM82.63 29.84h1.71v1.81h-1.71zM91.18 29.84h1.71v1.81h-1.71zM44.99 31.65h1.71v1.81h-1.71zM63.81 31.65h1.71v1.81h-1.71zM65.52 31.65h1.71v1.81h-1.71zM77.49 31.65h1.71v1.81h-1.71zM86.05 31.65h1.71v1.81h-1.71zM89.47 31.65h1.71v1.81h-1.71zM113.42 31.65h1.71v1.81h-1.71zM137.36 31.65h1.71v1.81h-1.71zM34.73 33.47h1.71v1.81h-1.71zM72.36 33.47h1.71v1.81h-1.71zM80.92 33.47h1.71v1.81h-1.71zM91.18 33.47h1.71v1.81h-1.71zM92.89 33.47h1.71v1.81h-1.71zM98.02 33.47h1.71v1.81h-1.71zM104.86 33.47h1.71v1.81h-1.71zM108.28 33.47h1.71v1.81h-1.71zM113.42 33.47h1.71v1.81h-1.71zM39.86 35.28h1.71v1.81h-1.71zM46.71 35.28h1.71v1.81h-1.71zM58.68 35.28h1.71v1.81h-1.71zM72.36 35.28h1.71v1.81h-1.71zM86.05 35.28h1.71v1.81h-1.71zM96.31 35.28h1.71v1.81h-1.71zM104.86 35.28h1.71v1.81h-1.71zM123.68 35.28h1.71v1.81h-1.71zM44.99 37.09h1.71v1.81h-1.71zM48.42 37.09h1.71v1.81h-1.71zM68.94 37.09h1.71v1.81h-1.71zM72.36 37.09h1.71v1.81h-1.71zM79.21 37.09h1.71v1.81h-1.71zM101.44 37.09h1.71v1.81h-1.71zM115.13 37.09h1.71v1.81h-1.71zM43.28 38.91h1.71v1.81h-1.71zM48.42 38.91h1.71v1.81h-1.71zM75.78 38.91h1.71v1.81h-1.71zM104.86 38.91h1.71v1.81h-1.71zM106.57 38.91h1.71v1.81h-1.71zM29.6 40.72h1.71v1.81h-1.71zM33.02 40.72h1.71v1.81h-1.71zM44.99 40.72h1.71v1.81h-1.71zM63.81 40.72h1.71v1.81h-1.71zM82.63 40.72h1.71v1.81h-1.71zM84.34 40.72h1.71v1.81h-1.71zM123.68 40.72h1.71v1.81h-1.71zM62.1 42.54h1.71v1.81h-1.71zM63.81 42.54h1.71v1.81h-1.71zM77.49 42.54h1.71v1.81h-1.71zM80.92 42.54h1.71v1.81h-1.71zM96.31 42.54h1.71v1.81h-1.71zM115.13 42.54h1.71v1.81h-1.71zM50.13 44.35h1.71v1.81h-1.71zM60.39 44.35h1.71v1.81h-1.71zM77.49 44.35h1.71v1.81h-1.71zM96.31 44.35h1.71v1.81h-1.71zM109.99 44.35h1.71v1.81h-1.71zM60.39 46.16h1.71v1.81h-1.71zM87.76 46.16h1.71v1.81h-1.71zM96.31 46.16h1.71v1.81h-1.71zM116.84 46.16h1.71v1.81h-1.71zM36.44 47.98h1.71v1.81h-1.71zM62.1 47.98h1.71v1.81h-1.71zM63.81 47.98h1.71v1.81h-1.71zM70.65 47.98h1.71v1.81h-1.71zM82.63 47.98h1.71v1.81h-1.71zM91.18 47.98h1.71v1.81h-1.71zM108.28 47.98h1.71v1.81h-1.71zM77.49 49.79h1.71v1.81h-1.71zM103.15 49.79h1.71v1.81h-1.71zM104.86 49.79h1.71v1.81h-1.71zM115.13 49.79h1.71v1.81h-1.71zM34.73 51.6h1.71v1.81h-1.71zM55.26 51.6h1.71v1.81h-1.71zM68.94 51.6h1.71v1.81h-1.71zM72.36 51.6h1.71v1.81h-1.71zM75.78 51.6h1.71v1.81h-1.71zM82.63 51.6h1.71v1.81h-1.71zM99.73 51.6h1.71v1.81h-1.71zM39.86 53.42h1.71v1.81h-1.71zM65.52 53.42h1.71v1.81h-1.71zM77.49 53.42h1.71v1.81h-1.71zM79.21 53.42h1.71v1.81h-1.71zM80.92 53.42h1.71v1.81h-1.71zM89.47 53.42h1.71v1.81h-1.71zM98.02 53.42h1.71v1.81h-1.71zM99.73 53.42h1.71v1.81h-1.71zM104.86 53.42h1.71v1.81h-1.71zM113.42 53.42h1.71v1.81h-1.71zM43.28 55.23h1.71v1.81h-1.71zM44.99 55.23h1.71v1.81h-1.71zM48.42 55.23h1.71v1.81h-1.71zM86.05 55.23h1.71v1.81h-1.71zM89.47 55.23h1.71v1.81h-1.71zM96.31 55.23h1.71v1.81h-1.71zM106.57 55.23h1.71v1.81h-1.71zM147.63 55.23h1.71v1.81h-1.71zM39.86 57.04h1.71v1.81h-1.71zM60.39 57.04h1.71v1.81h-1.71zM62.1 57.04h1.71v1.81h-1.71zM75.78 57.04h1.71v1.81h-1.71zM79.21 57.04h1.71v1.81h-1.71zM80.92 57.04h1.71v1.81h-1.71zM89.47 57.04h1.71v1.81h-1.71zM96.31 57.04h1.71v1.81h-1.71zM115.13 57.04h1.71v1.81h-1.71zM46.71 58.86h1.71v1.81h-1.71zM50.13 58.86h1.71v1.81h-1.71zM62.1 58.86h1.71v1.81h-1.71zM77.49 58.86h1.71v1.81h-1.71zM84.34 58.86h1.71v1.81h-1.71zM86.05 58.86h1.71v1.81h-1.71zM87.76 58.86h1.71v1.81h-1.71zM94.6 58.86h1.71v1.81h-1.71zM34.73 60.67h1.71v1.81h-1.71zM51.84 60.67h1.71v1.81h-1.71zM74.07 60.67h1.71v1.81h-1.71zM98.02 60.67h1.71v1.81h-1.71zM99.73 60.67h1.71v1.81h-1.71zM103.15 60.67h1.71v1.81h-1.71zM106.57 60.67h1.71v1.81h-1.71zM109.99 60.67h1.71v1.81h-1.71zM113.42 60.67h1.71v1.81h-1.71zM120.26 60.67h1.71v1.81h-1.71zM133.94 60.67h1.71v1.81h-1.71zM33.02 62.48h1.71v1.81h-1.71zM86.05 62.48h1.71v1.81h-1.71zM87.76 62.48h1.71v1.81h-1.71zM89.47 62.48h1.71v1.81h-1.71zM91.18 62.48h1.71v1.81h-1.71zM94.6 62.48h1.71v1.81h-1.71zM98.02 62.48h1.71v1.81h-1.71zM101.44 62.48h1.71v1.81h-1.71zM130.52 62.48h1.71v1.81h-1.71zM33.02 64.3h1.71v1.81h-1.71zM41.57 64.3h1.71v1.81h-1.71zM48.42 64.3h1.71v1.81h-1.71zM56.97 64.3h1.71v1.81h-1.71zM79.21 64.3h1.71v1.81h-1.71zM80.92 64.3h1.71v1.81h-1.71zM104.86 64.3h1.71v1.81h-1.71zM67.23 66.11h1.71v1.81h-1.71zM70.65 66.11h1.71v1.81h-1.71zM82.63 66.11h1.71v1.81h-1.71zM87.76 66.11h1.71v1.81h-1.71zM98.02 66.11h1.71v1.81h-1.71zM118.55 66.11h1.71v1.81h-1.71zM53.55 67.92h1.71v1.81h-1.71zM79.21 67.92h1.71v1.81h-1.71zM82.63 67.92h1.71v1.81h-1.71zM87.76 67.92h1.71v1.81h-1.71zM91.18 67.92h1.71v1.81h-1.71zM92.89 67.92h1.71v1.81h-1.71zM96.31 67.92h1.71v1.81h-1.71zM111.71 67.92h1.71v1.81h-1.71zM31.31 69.74h1.71v1.81h-1.71zM56.97 69.74h1.71v1.81h-1.71zM77.49 69.74h1.71v1.81h-1.71zM91.18 69.74h1.71v1.81h-1.71zM99.73 69.74h1.71v1.81h-1.71zM106.57 69.74h1.71v1.81h-1.71zM116.84 69.74h1.71v1.81h-1.71zM33.02 71.55h1.71v1.81h-1.71zM63.81 71.55h1.71v1.81h-1.71zM68.94 71.55h1.71v1.81h-1.71zM87.76 71.55h1.71v1.81h-1.71zM91.18 71.55h1.71v1.81h-1.71zM120.26 71.55h1.71v1.81h-1.71zM46.71 73.36h1.71v1.81h-1.71zM48.42 73.36h1.71v1.81h-1.71zM55.26 73.36h1.71v1.81h-1.71zM75.78 73.36h1.71v1.81h-1.71zM91.18 73.36h1.71v1.81h-1.71zM94.6 73.36h1.71v1.81h-1.71zM98.02 73.36h1.71v1.81h-1.71zM99.73 73.36h1.71v1.81h-1.71zM38.15 75.18h1.71v1.81h-1.71zM53.55 75.18h1.71v1.81h-1.71zM84.34 75.18h1.71v1.81h-1.71zM86.05 75.18h1.71v1.81h-1.71zM87.76 75.18h1.71v1.81h-1.71zM91.18 75.18h1.71v1.81h-1.71zM92.89 75.18h1.71v1.81h-1.71zM113.42 75.18h1.71v1.81h-1.71zM121.97 75.18h1.71v1.81h-1.71zM130.52 75.18h1.71v1.81h-1.71zM58.68 76.99h1.71v1.81h-1.71zM68.94 76.99h1.71v1.81h-1.71zM72.36 76.99h1.71v1.81h-1.71zM75.78 76.99h1.71v1.81h-1.71zM77.49 76.99h1.71v1.81h-1.71zM79.21 76.99h1.71v1.81h-1.71zM86.05 76.99h1.71v1.81h-1.71zM94.6 76.99h1.71v1.81h-1.71zM98.02 76.99h1.71v1.81h-1.71zM106.57 76.99h1.71v1.81h-1.71zM113.42 76.99h1.71v1.81h-1.71zM144.21 76.99h1.71v1.81h-1.71zM70.65 78.81h1.71v1.81h-1.71zM74.07 78.81h1.71v1.81h-1.71zM80.92 78.81h1.71v1.81h-1.71zM86.05 78.81h1.71v1.81h-1.71zM89.47 78.81h1.71v1.81h-1.71zM96.31 78.81h1.71v1.81h-1.71zM116.84 78.81h1.71v1.81h-1.71zM140.78 78.81h1.71v1.81h-1.71zM38.15 80.62h1.71v1.81h-1.71zM39.86 80.62h1.71v1.81h-1.71zM50.13 80.62h1.71v1.81h-1.71zM51.84 80.62h1.71v1.81h-1.71zM56.97 80.62h1.71v1.81h-1.71zM58.68 80.62h1.71v1.81h-1.71zM62.1 80.62h1.71v1.81h-1.71zM63.81 80.62h1.71v1.81h-1.71zM72.36 80.62h1.71v1.81h-1.71zM75.78 80.62h1.71v1.81h-1.71zM94.6 80.62h1.71v1.81h-1.71zM96.31 80.62h1.71v1.81h-1.71zM103.15 80.62h1.71v1.81h-1.71zM106.57 80.62h1.71v1.81h-1.71zM109.99 80.62h1.71v1.81h-1.71zM139.07 80.62h1.71v1.81h-1.71zM38.15 82.43h1.71v1.81h-1.71zM41.57 82.43h1.71v1.81h-1.71zM55.26 82.43h1.71v1.81h-1.71zM68.94 82.43h1.71v1.81h-1.71zM70.65 82.43h1.71v1.81h-1.71zM79.21 82.43h1.71v1.81h-1.71zM82.63 82.43h1.71v1.81h-1.71zM84.34 82.43h1.71v1.81h-1.71zM86.05 82.43h1.71v1.81h-1.71zM87.76 82.43h1.71v1.81h-1.71zM89.47 82.43h1.71v1.81h-1.71zM94.6 82.43h1.71v1.81h-1.71zM98.02 82.43h1.71v1.81h-1.71zM101.44 82.43h1.71v1.81h-1.71zM108.28 82.43h1.71v1.81h-1.71zM113.42 82.43h1.71v1.81h-1.71zM115.13 82.43h1.71v1.81h-1.71zM132.23 82.43h1.71v1.81h-1.71zM29.6 84.25h1.71v1.81h-1.71zM55.26 84.25h1.71v1.81h-1.71zM60.39 84.25h1.71v1.81h-1.71zM62.1 84.25h1.71v1.81h-1.71zM67.23 84.25h1.71v1.81h-1.71zM68.94 84.25h1.71v1.81h-1.71zM74.07 84.25h1.71v1.81h-1.71zM75.78 84.25h1.71v1.81h-1.71zM84.34 84.25h1.71v1.81h-1.71zM86.05 84.25h1.71v1.81h-1.71zM92.89 84.25h1.71v1.81h-1.71zM99.73 84.25h1.71v1.81h-1.71zM101.44 84.25h1.71v1.81h-1.71zM60.39 86.06h1.71v1.81h-1.71zM62.1 86.06h1.71v1.81h-1.71zM79.21 86.06h1.71v1.81h-1.71zM99.73 86.06h1.71v1.81h-1.71zM101.44 86.06h1.71v1.81h-1.71zM128.81 86.06h1.71v1.81h-1.71zM38.15 87.87h1.71v1.81h-1.71zM41.57 87.87h1.71v1.81h-1.71zM67.23 87.87h1.71v1.81h-1.71zM72.36 87.87h1.71v1.81h-1.71zM77.49 87.87h1.71v1.81h-1.71zM87.76 87.87h1.71v1.81h-1.71zM92.89 87.87h1.71v1.81h-1.71zM94.6 87.87h1.71v1.81h-1.71zM101.44 87.87h1.71v1.81h-1.71zM106.57 87.87h1.71v1.81h-1.71zM116.84 87.87h1.71v1.81h-1.71zM125.39 87.87h1.71v1.81h-1.71zM41.57 89.69h1.71v1.81h-1.71zM43.28 89.69h1.71v1.81h-1.71zM46.71 89.69h1.71v1.81h-1.71zM60.39 89.69h1.71v1.81h-1.71zM68.94 89.69h1.71v1.81h-1.71zM74.07 89.69h1.71v1.81h-1.71zM75.78 89.69h1.71v1.81h-1.71zM82.63 89.69h1.71v1.81h-1.71zM91.18 89.69h1.71v1.81h-1.71zM94.6 89.69h1.71v1.81h-1.71zM96.31 89.69h1.71v1.81h-1.71zM123.68 89.69h1.71v1.81h-1.71zM128.81 89.69h1.71v1.81h-1.71zM174.23 29.84h1.71v1.81h-1.71zM165.71 31.65h1.71v1.81h-1.71zM174.23 31.65h1.71v1.81h-1.71zM177.64 33.47h1.71v1.81h-1.71zM182.76 35.28h1.71v1.81h-1.71zM184.46 38.91h1.71v1.81h-1.71zM174.23 40.72h1.71v1.81h-1.71zM187.88 40.72h1.71v1.81h-1.71zM165.71 42.54h1.71v1.81h-1.71zM167.41 42.54h1.71v1.81h-1.71zM181.05 42.54h1.71v1.81h-1.71zM177.64 44.35h1.71v1.81h-1.71zM179.35 44.35h1.71v1.81h-1.71zM186.17 44.35h1.71v1.81h-1.71zM189.58 44.35h1.71v1.81h-1.71zM191.29 46.16h1.71v1.81h-1.71zM165.71 47.98h1.71v1.81h-1.71zM172.53 47.98h1.71v1.81h-1.71zM175.94 47.98h1.71v1.81h-1.71zM172.53 49.79h1.71v1.81h-1.71zM167.41 51.6h1.71v1.81h-1.71zM175.94 51.6h1.71v1.81h-1.71zM179.35 51.6h1.71v1.81h-1.71zM179.35 55.23h1.71v1.81h-1.71zM182.76 55.23h1.71v1.81h-1.71zM164 57.04h1.71v1.81h-1.71zM191.29 57.04h1.71v1.81h-1.71zM174.23 58.86h1.71v1.81h-1.71zM170.82 62.48h1.71v1.81h-1.71zM172.53 62.48h1.71v1.81h-1.71zM184.46 62.48h1.71v1.81h-1.71zM167.41 64.3h1.71v1.81h-1.71zM164 66.11h1.71v1.81h-1.71zM172.53 66.11h1.71v1.81h-1.71zM172.53 67.92h1.71v1.81h-1.71zM174.23 67.92h1.71v1.81h-1.71zM186.17 71.55h1.71v1.81h-1.71zM175.94 73.36h1.71v1.81h-1.71zM182.76 73.36h1.71v1.81h-1.71zM177.64 75.18h1.71v1.81h-1.71zM181.05 76.99h1.71v1.81h-1.71zM179.35 78.81h1.71v1.81h-1.71zM169.12 80.62h1.71v1.81h-1.71zM186.17 80.62h1.71v1.81h-1.71zM177.64 82.43h1.71v1.81h-1.71zM181.05 82.43h1.71v1.81h-1.71zM186.17 82.43h1.71v1.81h-1.71zM174.23 84.25h1.71v1.81h-1.71zM184.46 84.25h1.71v1.81h-1.71zM165.71 86.06h1.71v1.81h-1.71zM169.12 87.87h1.71v1.81h-1.71zM167.41 89.69h1.71v1.81h-1.71zM175.94 89.69h1.71v1.81h-1.71zM179.35 89.69h1.71v1.81h-1.71zM187.88 89.69h1.71v1.81h-1.71zM149.34 95.4h1.71v1.85h-1.71zM128.81 99.11h1.71v1.85h-1.71zM142.49 99.11h1.71v1.85h-1.71zM156.18 99.11h1.71v1.85h-1.71zM113.42 100.96h1.71v1.85h-1.71zM132.23 100.96h1.71v1.85h-1.71zM139.07 100.96h1.71v1.85h-1.71zM140.78 100.96h1.71v1.85h-1.71zM157.89 100.96h1.71v1.85h-1.71zM139.07 102.82h1.71v1.85h-1.71zM145.92 102.82h1.71v1.85h-1.71zM152.76 102.82h1.71v1.85h-1.71zM135.65 104.67h1.71v1.85h-1.71zM142.49 104.67h1.71v1.85h-1.71zM139.07 106.53h1.71v1.85h-1.71zM145.92 106.53h1.71v1.85h-1.71zM116.84 108.38h1.71v1.85h-1.71zM123.68 108.38h1.71v1.85h-1.71zM147.63 108.38h1.71v1.85h-1.71zM151.05 108.38h1.71v1.85h-1.71zM144.21 110.24h1.71v1.85h-1.71zM144.21 112.09h1.71v1.85h-1.71zM147.63 112.09h1.71v1.85h-1.71zM132.23 113.95h1.71v1.85h-1.71zM139.07 113.95h1.71v1.85h-1.71zM140.78 113.95h1.71v1.85h-1.71zM142.49 113.95h1.71v1.85h-1.71zM147.63 113.95h1.71v1.85h-1.71zM165.71 95.4h1.71v1.85h-1.71zM175.94 95.4h1.71v1.85h-1.71zM181.05 95.4h1.71v1.85h-1.71zM194.7 95.4h1.71v1.85h-1.71zM233.92 95.4h1.71v1.85h-1.71zM250.98 95.4h1.71v1.85h-1.71zM262.91 95.4h1.71v1.85h-1.71zM269.74 95.4h1.71v1.85h-1.71zM273.15 95.4h1.71v1.85h-1.71zM164 97.25h1.71v1.85h-1.71zM165.71 97.25h1.71v1.85h-1.71zM167.41 97.25h1.71v1.85h-1.71zM172.53 97.25h1.71v1.85h-1.71zM175.94 97.25h1.71v1.85h-1.71zM179.35 97.25h1.71v1.85h-1.71zM191.29 97.25h1.71v1.85h-1.71zM235.63 97.25h1.71v1.85h-1.71zM245.86 97.25h1.71v1.85h-1.71zM259.5 97.25h1.71v1.85h-1.71zM268.03 97.25h1.71v1.85h-1.71zM269.74 97.25h1.71v1.85h-1.71zM274.85 97.25h1.71v1.85h-1.71zM174.23 99.11h1.71v1.85h-1.71zM203.22 99.11h1.71v1.85h-1.71zM204.93 99.11h1.71v1.85h-1.71zM216.87 99.11h1.71v1.85h-1.71zM228.81 99.11h1.71v1.85h-1.71zM245.86 99.11h1.71v1.85h-1.71zM274.85 99.11h1.71v1.85h-1.71zM283.38 99.11h1.71v1.85h-1.71zM170.82 100.96h1.71v1.85h-1.71zM175.94 100.96h1.71v1.85h-1.71zM186.17 100.96h1.71v1.85h-1.71zM196.4 100.96h1.71v1.85h-1.71zM198.11 100.96h1.71v1.85h-1.71zM208.34 100.96h1.71v1.85h-1.71zM213.46 100.96h1.71v1.85h-1.71zM261.21 100.96h1.71v1.85h-1.71zM262.91 100.96h1.71v1.85h-1.71zM274.85 100.96h1.71v1.85h-1.71zM283.38 100.96h1.71v1.85h-1.71zM164 102.82h1.71v1.85h-1.71zM169.12 102.82h1.71v1.85h-1.71zM181.05 102.82h1.71v1.85h-1.71zM186.17 102.82h1.71v1.85h-1.71zM189.58 102.82h1.71v1.85h-1.71zM191.29 102.82h1.71v1.85h-1.71zM203.22 102.82h1.71v1.85h-1.71zM216.87 102.82h1.71v1.85h-1.71zM262.91 102.82h1.71v1.85h-1.71zM288.49 102.82h1.71v1.85h-1.71zM167.41 104.67h1.71v1.85h-1.71zM170.82 104.67h1.71v1.85h-1.71zM186.17 104.67h1.71v1.85h-1.71zM187.88 104.67h1.71v1.85h-1.71zM204.93 104.67h1.71v1.85h-1.71zM206.64 104.67h1.71v1.85h-1.71zM225.39 104.67h1.71v1.85h-1.71zM228.81 104.67h1.71v1.85h-1.71zM233.92 104.67h1.71v1.85h-1.71zM240.74 104.67h1.71v1.85h-1.71zM269.74 104.67h1.71v1.85h-1.71zM273.15 104.67h1.71v1.85h-1.71zM274.85 104.67h1.71v1.85h-1.71zM283.38 104.67h1.71v1.85h-1.71zM285.08 104.67h1.71v1.85h-1.71zM169.12 106.53h1.71v1.85h-1.71zM191.29 106.53h1.71v1.85h-1.71zM198.11 106.53h1.71v1.85h-1.71zM203.22 106.53h1.71v1.85h-1.71zM206.64 106.53h1.71v1.85h-1.71zM220.28 106.53h1.71v1.85h-1.71zM225.39 106.53h1.71v1.85h-1.71zM228.81 106.53h1.71v1.85h-1.71zM235.63 106.53h1.71v1.85h-1.71zM239.04 106.53h1.71v1.85h-1.71zM244.15 106.53h1.71v1.85h-1.71zM254.39 106.53h1.71v1.85h-1.71zM279.97 106.53h1.71v1.85h-1.71zM288.49 106.53h1.71v1.85h-1.71zM164 108.38h1.71v1.85h-1.71zM175.94 108.38h1.71v1.85h-1.71zM184.46 108.38h1.71v1.85h-1.71zM199.81 108.38h1.71v1.85h-1.71zM208.34 108.38h1.71v1.85h-1.71zM213.46 108.38h1.71v1.85h-1.71zM221.98 108.38h1.71v1.85h-1.71zM233.92 108.38h1.71v1.85h-1.71zM239.04 108.38h1.71v1.85h-1.71zM242.45 108.38h1.71v1.85h-1.71zM249.27 108.38h1.71v1.85h-1.71zM252.68 108.38h1.71v1.85h-1.71zM269.74 108.38h1.71v1.85h-1.71zM187.88 110.24h1.71v1.85h-1.71zM192.99 110.24h1.71v1.85h-1.71zM201.52 110.24h1.71v1.85h-1.71zM213.46 110.24h1.71v1.85h-1.71zM215.16 110.24h1.71v1.85h-1.71zM230.51 110.24h1.71v1.85h-1.71zM233.92 110.24h1.71v1.85h-1.71zM240.74 110.24h1.71v1.85h-1.71zM249.27 110.24h1.71v1.85h-1.71zM252.68 110.24h1.71v1.85h-1.71zM254.39 110.24h1.71v1.85h-1.71zM256.09 110.24h1.71v1.85h-1.71zM276.56 110.24h1.71v1.85h-1.71zM164 112.09h1.71v1.85h-1.71zM181.05 112.09h1.71v1.85h-1.71zM199.81 112.09h1.71v1.85h-1.71zM230.51 112.09h1.71v1.85h-1.71zM239.04 112.09h1.71v1.85h-1.71zM244.15 112.09h1.71v1.85h-1.71zM252.68 112.09h1.71v1.85h-1.71zM256.09 112.09h1.71v1.85h-1.71zM273.15 112.09h1.71v1.85h-1.71zM274.85 112.09h1.71v1.85h-1.71zM278.26 112.09h1.71v1.85h-1.71zM281.67 112.09h1.71v1.85h-1.71zM283.38 112.09h1.71v1.85h-1.71zM165.71 113.95h1.71v1.85h-1.71zM186.17 113.95h1.71v1.85h-1.71zM192.99 113.95h1.71v1.85h-1.71zM199.81 113.95h1.71v1.85h-1.71zM215.16 113.95h1.71v1.85h-1.71zM227.1 113.95h1.71v1.85h-1.71zM230.51 113.95h1.71v1.85h-1.71zM232.22 113.95h1.71v1.85h-1.71zM249.27 113.95h1.71v1.85h-1.71zM259.5 113.95h1.71v1.85h-1.71zM264.62 113.95h1.71v1.85h-1.71zM268.03 113.95h1.71v1.85h-1.71zM276.56 113.95h1.71v1.85h-1.71zM278.26 113.95h1.71v1.85h-1.71zM279.97 113.95h1.71v1.85h-1.71zM285.08 113.95h1.71v1.85h-1.71zM286.79 113.95h1.71v1.85h-1.71zM170.82 129.2h1.71v1.65h-1.71zM192.99 129.2h1.71v1.65h-1.71zM203.22 129.2h1.71v1.65h-1.71zM213.46 129.2h1.71v1.65h-1.71zM216.87 129.2h1.71v1.65h-1.71zM218.57 129.2h1.71v1.65h-1.71zM221.98 129.2h1.71v1.65h-1.71zM254.39 129.2h1.71v1.65h-1.71zM264.62 129.2h1.71v1.65h-1.71zM269.74 129.2h1.71v1.65h-1.71zM285.08 129.2h1.71v1.65h-1.71zM165.71 130.85h1.71v1.65h-1.71zM167.41 130.85h1.71v1.65h-1.71zM192.99 130.85h1.71v1.65h-1.71zM215.16 130.85h1.71v1.65h-1.71zM218.57 130.85h1.71v1.65h-1.71zM228.81 130.85h1.71v1.65h-1.71zM232.22 130.85h1.71v1.65h-1.71zM233.92 130.85h1.71v1.65h-1.71zM249.27 130.85h1.71v1.65h-1.71zM254.39 130.85h1.71v1.65h-1.71zM273.15 130.85h1.71v1.65h-1.71zM274.85 130.85h1.71v1.65h-1.71zM44.99 136.5h1.71v1.81h-1.71zM50.13 136.5h1.71v1.81h-1.71zM62.1 136.5h1.71v1.81h-1.71zM68.94 136.5h1.71v1.81h-1.71zM79.21 136.5h1.71v1.81h-1.71zM80.92 136.5h1.71v1.81h-1.71zM87.76 136.5h1.71v1.81h-1.71zM89.47 136.5h1.71v1.81h-1.71zM111.71 136.5h1.71v1.81h-1.71zM123.68 136.5h1.71v1.81h-1.71zM128.81 136.5h1.71v1.81h-1.71zM135.65 136.5h1.71v1.81h-1.71zM145.92 136.5h1.71v1.81h-1.71zM157.89 136.5h1.71v1.81h-1.71zM39.86 138.31h1.71v1.81h-1.71zM48.42 138.31h1.71v1.81h-1.71zM65.52 138.31h1.71v1.81h-1.71zM72.36 138.31h1.71v1.81h-1.71zM75.78 138.31h1.71v1.81h-1.71zM86.05 138.31h1.71v1.81h-1.71zM99.73 138.31h1.71v1.81h-1.71zM104.86 138.31h1.71v1.81h-1.71zM137.36 138.31h1.71v1.81h-1.71zM144.21 138.31h1.71v1.81h-1.71zM149.34 138.31h1.71v1.81h-1.71zM151.05 138.31h1.71v1.81h-1.71zM48.42 140.13h1.71v1.81h-1.71zM62.1 140.13h1.71v1.81h-1.71zM63.81 140.13h1.71v1.81h-1.71zM67.23 140.13h1.71v1.81h-1.71zM70.65 140.13h1.71v1.81h-1.71zM72.36 140.13h1.71v1.81h-1.71zM92.89 140.13h1.71v1.81h-1.71zM115.13 140.13h1.71v1.81h-1.71zM121.97 140.13h1.71v1.81h-1.71zM130.52 140.13h1.71v1.81h-1.71zM133.94 140.13h1.71v1.81h-1.71zM149.34 140.13h1.71v1.81h-1.71zM152.76 140.13h1.71v1.81h-1.71zM38.15 141.94h1.71v1.81h-1.71zM39.86 141.94h1.71v1.81h-1.71zM41.57 141.94h1.71v1.81h-1.71zM43.28 141.94h1.71v1.81h-1.71zM48.42 141.94h1.71v1.81h-1.71zM50.13 141.94h1.71v1.81h-1.71zM56.97 141.94h1.71v1.81h-1.71zM58.68 141.94h1.71v1.81h-1.71zM75.78 141.94h1.71v1.81h-1.71zM79.21 141.94h1.71v1.81h-1.71zM86.05 141.94h1.71v1.81h-1.71zM108.28 141.94h1.71v1.81h-1.71zM111.71 141.94h1.71v1.81h-1.71zM123.68 141.94h1.71v1.81h-1.71zM127.1 141.94h1.71v1.81h-1.71zM154.47 141.94h1.71v1.81h-1.71zM156.18 141.94h1.71v1.81h-1.71zM51.84 143.76h1.71v1.81h-1.71zM60.39 143.76h1.71v1.81h-1.71zM65.52 143.76h1.71v1.81h-1.71zM77.49 143.76h1.71v1.81h-1.71zM87.76 143.76h1.71v1.81h-1.71zM98.02 143.76h1.71v1.81h-1.71zM99.73 143.76h1.71v1.81h-1.71zM101.44 143.76h1.71v1.81h-1.71zM111.71 143.76h1.71v1.81h-1.71zM116.84 143.76h1.71v1.81h-1.71zM123.68 143.76h1.71v1.81h-1.71zM130.52 143.76h1.71v1.81h-1.71zM154.47 143.76h1.71v1.81h-1.71zM31.31 145.57h1.71v1.81h-1.71zM46.71 145.57h1.71v1.81h-1.71zM50.13 145.57h1.71v1.81h-1.71zM51.84 145.57h1.71v1.81h-1.71zM58.68 145.57h1.71v1.81h-1.71zM75.78 145.57h1.71v1.81h-1.71zM116.84 145.57h1.71v1.81h-1.71zM144.21 145.57h1.71v1.81h-1.71zM147.63 145.57h1.71v1.81h-1.71zM39.86 147.39h1.71v1.81h-1.71zM51.84 147.39h1.71v1.81h-1.71zM53.55 147.39h1.71v1.81h-1.71zM56.97 147.39h1.71v1.81h-1.71zM68.94 147.39h1.71v1.81h-1.71zM82.63 147.39h1.71v1.81h-1.71zM84.34 147.39h1.71v1.81h-1.71zM87.76 147.39h1.71v1.81h-1.71zM92.89 147.39h1.71v1.81h-1.71zM94.6 147.39h1.71v1.81h-1.71zM101.44 147.39h1.71v1.81h-1.71zM103.15 147.39h1.71v1.81h-1.71zM125.39 147.39h1.71v1.81h-1.71zM140.78 147.39h1.71v1.81h-1.71zM175.94 136.5h1.71v1.81h-1.71zM182.76 136.5h1.71v1.81h-1.71zM186.17 136.5h1.71v1.81h-1.71zM208.34 136.5h1.71v1.81h-1.71zM172.53 138.31h1.71v1.81h-1.71zM220.28 138.31h1.71v1.81h-1.71zM172.53 140.13h1.71v1.81h-1.71zM191.29 140.13h1.71v1.81h-1.71zM174.23 141.94h1.71v1.81h-1.71zM189.58 141.94h1.71v1.81h-1.71zM191.29 141.94h1.71v1.81h-1.71zM203.22 141.94h1.71v1.81h-1.71zM179.35 143.76h1.71v1.81h-1.71zM167.41 145.57h1.71v1.81h-1.71zM194.7 145.57h1.71v1.81h-1.71zM165.71 147.39h1.71v1.81h-1.71z"/>
<path fill="#6478a0" d="M33.02 24.4h1.71v1.81h-1.71zM34.73 24.4h1.71v1.81h-1.71zM48.42 24.4h1.71v1.81h-1.71zM60.39 24.4h1.71v1.81h-1.71zM92.89 24.4h1.71v1.81h-1.71zM99.73 24.4h1.71v1.81h-1.71zM118.55 24.4h1.71v1.81h-1.71zM33.02 26.21h1.71v1.81h-1.71zM46.71 26.21h1.71v1.81h-1.71zM65.52 26.21h1.71v1.81h-1.71zM135.65 26.21h1.71v1.81h-1.71zM145.92 26.21h1.71v1.81h-1.71z"/>
<path fill="#3c78b4" d="M41.57 24.4h1.71v1.81h-1.71zM68.94 24.4h1.71v1.81h-1.71zM80.92 24.4h1.71v1.81h-1.71zM82.63 24.4h1.71v1.81h-1.71zM111.71 24.4h1.71v1.81h-1.71zM50.13 26.21h1.71v1.81h-1.71zM56.97 26.21h1.71v1.81h-1.71zM62.1 26.21h1.71v1.81h-1.71zM75.78 26.21h1.71v1.81h-1.71zM82.63 26.21h1.71v1.81h-1.71zM91.18 26.21h1.71v1.81h-1.71zM177.64 24.4h1.71v1.81h-1.71zM179.35 24.4h1.71v1.81h-1.71zM250.98 24.4h1.71v1.81h-1.71zM177.64 26.21h1.71v1.81h-1.71zM194.7 26.21h1.71v1.81h-1.71zM228.81 26.21h1.71v1.81h-1.71zM279.97 26.21h1.71v1.81h-1.71z"/>
<path fill="#648ca0" d="M46.71 24.4h1.71v1.81h-1.71zM53.55 24.4h1.71v1.81h-1.71zM115.13 24.4h1.71v1.81h-1.71zM144.21 24.4h1.71v1.81h-1.71zM145.92 24.4h1.71v1.81h-1.71zM48.42 26.21h1.71v1.81h-1.71zM89.47 26.21h1.71v1.81h-1.71zM115.13 26.21h1.71v1.81h-1.71z"/>
<path fill="#3c64a0" d="M50.13 24.4h1.71v1.81h-1.71zM62.1 24.4h1.71v1.81h-1.71zM67.23 24.4h1.71v1.81h-1.71zM70.65 24.4h1.71v1.81h-1.71zM72.36 24.4h1.71v1.81h-1.71zM91.18 24.4h1.71v1.81h-1.71zM130.52 24.4h1.71v1.81h-1.71zM133.94 24.4h1.71v1.81h-1.71zM67.23 26.21h1.71v1.81h-1.71zM68.94 26.21h1.71v1.81h-1.71zM111.71 26.21h1.71v1.81h-1.71zM132.23 26.21h1.71v1.81h-1.71zM240.74 24.4h1.71v1.81h-1.71zM285.08 24.4h1.71v1.81h-1.71zM199.81 26.21h1.71v1.81h-1.71zM269.74 26.21h1.71v1.81h-1.71z"/>
<path fill="#3c648c" d="M56.97 24.4h1.71v1.81h-1.71zM75.78 24.4h1.71v1.81h-1.71zM41.57 26.21h1.71v1.81h-1.71zM70.65 26.21h1.71v1.81h-1.71zM72.36 26.21h1.71v1.81h-1.71zM80.92 26.21h1.71v1.81h-1.71zM133.94 26.21h1.71v1.81h-1.71zM228.81 24.4h1.71v1.81h-1.71zM179.35 26.21h1.71v1.81h-1.71zM198.11 26.21h1.71v1.81h-1.71zM250.98 26.21h1.71v1.81h-1.71zM285.08 26.21h1.71v1.81h-1.71z"/>
<path fill="#788cb4" d="M65.52 24.4h1.71v1.81h-1.71zM89.47 24.4h1.71v1.81h-1.71zM135.65 24.4h1.71v1.81h-1.71zM96.31 26.21h1.71v1.81h-1.71zM118.55 26.21h1.71v1.81h-1.71zM121.97 26.21h1.71v1.81h-1.71z"/>
<path fill="#78a0b4" d="M79.21 24.4h1.71v1.81h-1.71zM53.55 26.21h1.71v1.81h-1.71zM79.21 26.21h1.71v1.81h-1.71zM144.21 26.21h1.71v1.81h-1.71z"/>
<path fill="#a0b464" d="M84.34 24.4h1.71v1.81h-1.71zM142.49 24.4h1.71v1.81h-1.71zM84.34 26.21h1.71v1.81h-1.71zM116.84 26.21h1.71v1.81h-1.71zM137.36 26.21h1.71v1.81h-1.71z"/>
<path fill="#648cb4" d="M86.05 24.4h1.71v1.81h-1.71zM96.31 24.4h1.71v1.81h-1.71zM121.97 24.4h1.71v1.81h-1.71zM60.39 26.21h1.71v1.81h-1.71zM86.05 26.21h1.71v1.81h-1.71zM92.89 26.21h1.71v1.81h-1.71z"/>
<path fill="#c8dc78" d="M94.6 24.4h1.71v1.81h-1.71zM44.99 26.21h1.71v1.81h-1.71zM127.1 26.21h1.71v1.81h-1.71z"/>
<path fill="#a0a064" d="M103.15 24.4h1.71v1.81h-1.71zM147.63 24.4h1.71v1.81h-1.71zM152.76 24.4h1.71v1.81h-1.71zM152.76 26.21h1.71v1.81h-1.71z"/>
<path fill="#b4b464" d="M116.84 24.4h1.71v1.81h-1.71zM137.36 24.4h1.71v1.81h-1.71zM140.78 24.4h1.71v1.81h-1.71zM154.47 24.4h1.71v1.81h-1.71zM103.15 26.21h1.71v1.81h-1.71zM140.78 26.21h1.71v1.81h-1.71zM147.63 26.21h1.71v1.81h-1.71zM154.47 26.21h1.71v1.81h-1.71z"/>
<path fill="#b4c864" d="M127.1 24.4h1.71v1.81h-1.71zM94.6 26.21h1.71v1.81h-1.71zM142.49 26.21h1.71v1.81h-1.71z"/>
<path fill="#3c78a0" d="M132.23 24.4h1.71v1.81h-1.71zM130.52 26.21h1.71v1.81h-1.71zM194.7 24.4h1.71v1.81h-1.71zM198.11 24.4h1.71v1.81h-1.71zM199.81 24.4h1.71v1.81h-1.71zM269.74 24.4h1.71v1.81h-1.71zM279.97 24.4h1.71v1.81h-1.71zM240.74 26.21h1.71v1.81h-1.71z"/>
<path fill="#78a0c8" d="M34.73 26.21h1.71v1.81h-1.71zM99.73 26.21h1.71v1.81h-1.71z"/>
<path fill="#14143c" d="M151.05 26.21h1.71v1.81h-1.71zM89.47 47.98h1.71v1.81h-1.71zM118.55 62.48h1.71v1.81h-1.71zM128.81 75.18h1.71v1.81h-1.71zM172.53 71.55h1.71v1.81h-1.71zM116.84 106.53h1.71v1.85h-1.71zM201.52 99.11h1.71v1.85h-1.71zM250.98 100.96h1.71v1.85h-1.71zM142.49 136.5h1.71v1.81h-1.71z"/>
<path fill="#787828" d="M156.18 26.21h1.71v1.81h-1.71zM98.02 29.84h1.71v1.81h-1.71zM157.89 31.65h1.71v1.81h-1.71zM36.44 33.47h1.71v1.81h-1.71zM74.07 33.47h1.71v1.81h-1.71zM116.84 35.28h1.71v1.81h-1.71zM149.34 35.28h1.71v1.81h-1.71zM139.07 37.09h1.71v1.81h-1.71zM74.07 38.91h1.71v1.81h-1.71zM86.05 38.91h1.71v1.81h-1.71zM92.89 38.91h1.71v1.81h-1.71zM127.1 38.91h1.71v1.81h-1.71zM154.47 38.91h1.71v1.81h-1.71zM60.39 40.72h1.71v1.81h-1.71zM128.81 40.72h1.71v1.81h-1.71zM135.65 40.72h1.71v1.81h-1.71zM75.78 42.54h1.71v1.81h-1.71zM123.68 42.54h1.71v1.81h-1.71zM147.63 42.54h1.71v1.81h-1.71zM151.05 42.54h1.71v1.81h-1.71zM92.89 46.16h1.71v1.81h-1.71zM98.02 46.16h1.71v1.81h-1.71zM135.65 46.16h1.71v1.81h-1.71zM156.18 47.98h1.71v1.81h-1.71zM132.23 51.6h1.71v1.81h-1.71zM147.63 51.6h1.71v1.81h-1.71zM125.39 55.23h1.71v1.81h-1.71zM133.94 55.23h1.71v1.81h-1.71zM152.76 55.23h1.71v1.81h-1.71zM127.1 57.04h1.71v1.81h-1.71zM144.21 57.04h1.71v1.81h-1.71zM157.89 58.86h1.71v1.81h-1.71zM142.49 60.67h1.71v1.81h-1.71zM89.47 64.3h1.71v1.81h-1.71zM140.78 64.3h1.71v1.81h-1.71zM127.1 66.11h1.71v1.81h-1.71zM132.23 66.11h1.71v1.81h-1.71zM58.68 67.92h1.71v1.81h-1.71zM145.92 67.92h1.71v1.81h-1.71zM101.44 69.74h1.71v1.81h-1.71zM51.84 71.55h1.71v1.81h-1.71zM139.07 73.36h1.71v1.81h-1.71zM101.44 75.18h1.71v1.81h-1.71zM142.49 76.99h1.71v1.81h-1.71zM125.39 78.81h1.71v1.81h-1.71zM157.89 78.81h1.71v1.81h-1.71zM118.55 82.43h1.71v1.81h-1.71zM133.94 84.25h1.71v1.81h-1.71zM98.02 86.06h1.71v1.81h-1.71zM121.97 86.06h1.71v1.81h-1.71zM132.23 86.06h1.71v1.81h-1.71zM157.89 86.06h1.71v1.81h-1.71zM56.97 87.87h1.71v1.81h-1.71zM116.84 89.69h1.71v1.81h-1.71zM211.75 28.03h1.71v1.81h-1.71zM213.46 28.03h1.71v1.81h-1.71zM242.45 28.03h1.71v1.81h-1.71zM266.32 28.03h1.71v1.81h-1.71zM269.74 29.84h1.71v1.81h-1.71zM288.49 29.84h1.71v1.81h-1.71zM175.94 31.65h1.71v1.81h-1.71zM175.94 33.47h1.71v1.81h-1.71zM254.39 33.47h1.71v1.81h-1.71zM184.46 35.28h1.71v1.81h-1.71zM204.93 35.28h1.71v1.81h-1.71zM216.87 35.28h1.71v1.81h-1.71zM230.51 35.28h1.71v1.81h-1.71zM240.74 35.28h1.71v1.81h-1.71zM179.35 37.09h1.71v1.81h-1.71zM261.21 37.09h1.71v1.81h-1.71zM273.15 37.09h1.71v1.81h-1.71zM233.92 38.91h1.71v1.81h-1.71zM250.98 38.91h1.71v1.81h-1.71zM211.75 40.72h1.71v1.81h-1.71zM288.49 40.72h1.71v1.81h-1.71zM169.12 42.54h1.71v1.81h-1.71zM237.33 42.54h1.71v1.81h-1.71zM276.56 44.35h1.71v1.81h-1.71zM181.05 46.16h1.71v1.81h-1.71zM192.99 46.16h1.71v1.81h-1.71zM204.93 46.16h1.71v1.81h-1.71zM220.28 46.16h1.71v1.81h-1.71zM240.74 47.98h1.71v1.81h-1.71zM189.58 49.79h1.71v1.81h-1.71zM227.1 49.79h1.71v1.81h-1.71zM266.32 49.79h1.71v1.81h-1.71zM235.63 51.6h1.71v1.81h-1.71zM227.1 53.42h1.71v1.81h-1.71zM211.75 55.23h1.71v1.81h-1.71zM250.98 55.23h1.71v1.81h-1.71zM266.32 55.23h1.71v1.81h-1.71zM203.22 58.86h1.71v1.81h-1.71zM232.22 58.86h1.71v1.81h-1.71zM285.08 58.86h1.71v1.81h-1.71zM201.52 60.67h1.71v1.81h-1.71zM182.76 62.48h1.71v1.81h-1.71zM215.16 62.48h1.71v1.81h-1.71zM257.8 62.48h1.71v1.81h-1.71zM187.88 64.3h1.71v1.81h-1.71zM211.75 64.3h1.71v1.81h-1.71zM244.15 64.3h1.71v1.81h-1.71zM252.68 64.3h1.71v1.81h-1.71zM259.5 64.3h1.71v1.81h-1.71zM264.62 64.3h1.71v1.81h-1.71zM288.49 64.3h1.71v1.81h-1.71zM206.64 71.55h1.71v1.81h-1.71zM259.5 71.55h1.71v1.81h-1.71zM279.97 71.55h1.71v1.81h-1.71zM262.91 73.36h1.71v1.81h-1.71zM189.58 75.18h1.71v1.81h-1.71zM240.74 75.18h1.71v1.81h-1.71zM285.08 75.18h1.71v1.81h-1.71zM233.92 76.99h1.71v1.81h-1.71zM247.56 76.99h1.71v1.81h-1.71zM266.32 76.99h1.71v1.81h-1.71zM283.38 76.99h1.71v1.81h-1.71zM216.87 78.81h1.71v1.81h-1.71zM221.98 78.81h1.71v1.81h-1.71zM283.38 78.81h1.71v1.81h-1.71zM172.53 80.62h1.71v1.81h-1.71zM184.46 80.62h1.71v1.81h-1.71zM279.97 80.62h1.71v1.81h-1.71zM170.82 82.43h1.71v1.81h-1.71zM175.94 82.43h1.71v1.81h-1.71zM285.08 82.43h1.71v1.81h-1.71zM191.29 86.06h1.71v1.81h-1.71zM225.39 87.87h1.71v1.81h-1.71zM232.22 87.87h1.71v1.81h-1.71zM245.86 87.87h1.71v1.81h-1.71zM269.74 87.87h1.71v1.81h-1.71zM279.97 87.87h1.71v1.81h-1.71zM227.1 89.69h1.71v1.81h-1.71zM264.62 89.69h1.71v1.81h-1.71zM86.05 95.4h1.71v1.85h-1.71zM89.47 95.4h1.71v1.85h-1.71zM123.68 95.4h1.71v1.85h-1.71zM91.18 97.25h1.71v1.85h-1.71zM106.57 97.25h1.71v1.85h-1.71zM156.18 97.25h1.71v1.85h-1.71zM55.26 99.11h1.71v1.85h-1.71zM63.81 99.11h1.71v1.85h-1.71zM109.99 99.11h1.71v1.85h-1.71zM139.07 99.11h1.71v1.85h-1.71zM34.73 100.96h1.71v1.85h-1.71zM60.39 102.82h1.71v1.85h-1.71zM120.26 102.82h1.71v1.85h-1.71zM80.92 104.67h1.71v1.85h-1.71zM120.26 104.67h1.71v1.85h-1.71zM125.39 104.67h1.71v1.85h-1.71zM56.97 106.53h1.71v1.85h-1.71zM98.02 106.53h1.71v1.85h-1.71zM46.71 108.38h1.71v1.85h-1.71zM55.26 108.38h1.71v1.85h-1.71zM99.73 108.38h1.71v1.85h-1.71zM109.99 108.38h1.71v1.85h-1.71zM39.86 110.24h1.71v1.85h-1.71zM43.28 110.24h1.71v1.85h-1.71zM46.71 110.24h1.71v1.85h-1.71zM128.81 110.24h1.71v1.85h-1.71zM31.31 112.09h1.71v1.85h-1.71zM38.15 112.09h1.71v1.85h-1.71zM67.23 112.09h1.71v1.85h-1.71zM72.36 112.09h1.71v1.85h-1.71zM82.63 112.09h1.71v1.85h-1.71zM221.98 95.4h1.71v1.85h-1.71zM235.63 95.4h1.71v1.85h-1.71zM245.86 95.4h1.71v1.85h-1.71zM279.97 95.4h1.71v1.85h-1.71zM285.08 95.4h1.71v1.85h-1.71zM276.56 99.11h1.71v1.85h-1.71zM227.1 100.96h1.71v1.85h-1.71zM167.41 102.82h1.71v1.85h-1.71zM247.56 102.82h1.71v1.85h-1.71zM208.34 104.67h1.71v1.85h-1.71zM174.23 106.53h1.71v1.85h-1.71zM187.88 106.53h1.71v1.85h-1.71zM242.45 106.53h1.71v1.85h-1.71zM91.18 129.2h1.71v1.65h-1.71zM106.57 129.2h1.71v1.65h-1.71zM109.99 129.2h1.71v1.65h-1.71zM116.84 129.2h1.71v1.65h-1.71zM140.78 129.2h1.71v1.65h-1.71zM144.21 129.2h1.71v1.65h-1.71zM147.63 129.2h1.71v1.65h-1.71zM206.64 129.2h1.71v1.65h-1.71zM239.04 129.2h1.71v1.65h-1.71zM187.88 130.85h1.71v1.65h-1.71zM210.05 130.85h1.71v1.65h-1.71zM36.44 136.5h1.71v1.81h-1.71zM58.68 136.5h1.71v1.81h-1.71zM133.94 136.5h1.71v1.81h-1.71zM152.76 136.5h1.71v1.81h-1.71zM62.1 138.31h1.71v1.81h-1.71zM111.71 138.31h1.71v1.81h-1.71zM29.6 140.13h1.71v1.81h-1.71zM56.97 140.13h1.71v1.81h-1.71zM87.76 140.13h1.71v1.81h-1.71zM140.78 140.13h1.71v1.81h-1.71zM156.18 143.76h1.71v1.81h-1.71zM55.26 145.57h1.71v1.81h-1.71zM215.16 136.5h1.71v1.81h-1.71zM174.23 138.31h1.71v1.81h-1.71zM191.29 138.31h1.71v1.81h-1.71zM242.45 138.31h1.71v1.81h-1.71zM182.76 140.13h1.71v1.81h-1.71zM232.22 140.13h1.71v1.81h-1.71zM266.32 140.13h1.71v1.81h-1.71zM273.15 140.13h1.71v1.81h-1.71zM170.82 141.94h1.71v1.81h-1.71zM232.22 141.94h1.71v1.81h-1.71zM235.63 141.94h1.71v1.81h-1.71zM273.15 141.94h1.71v1.81h-1.71zM191.29 143.76h1.71v1.81h-1.71zM264.62 143.76h1.71v1.81h-1.71zM273.15 143.76h1.71v1.81h-1.71zM283.38 143.76h1.71v1.81h-1.71zM256.09 145.57h1.71v1.81h-1.71zM264.62 145.57h1.71v1.81h-1.71zM276.56 145.57h1.71v1.81h-1.71zM237.33 147.39h1.71v1.81h-1.71zM259.5 147.39h1.71v1.81h-1.71zM264.62 147.39h1.71v1.81h-1.71z"/>
<path fill="#2864a0" d="M31.31 28.03h1.71v1.81h-1.71zM44.99 28.03h1.71v1.81h-1.71zM58.68 28.03h1.71v1.81h-1.71zM60.39 28.03h1.71v1.81h-1.71zM77.49 28.03h1.71v1.81h-1.71zM86.05 28.03h1.71v1.81h-1.71zM98.02 28.03h1.71v1.81h-1.71zM41.57 29.84h1.71v1.81h-1.71zM48.42 29.84h1.71v1.81h-1.71zM67.23 29.84h1.71v1.81h-1.71zM36.44 31.65h1.71v1.81h-1.71zM53.55 31.65h1.71v1.81h-1.71zM56.97 31.65h1.71v1.81h-1.71zM74.07 31.65h1.71v1.81h-1.71zM75.78 31.65h1.71v1.81h-1.71zM92.89 31.65h1.71v1.81h-1.71zM133.94 31.65h1.71v1.81h-1.71zM29.6 33.47h1.71v1.81h-1.71zM46.71 33.47h1.71v1.81h-1.71zM50.13 33.47h1.71v1.81h-1.71zM62.1 33.47h1.71v1.81h-1.71zM63.81 33.47h1.71v1.81h-1.71zM103.15 33.47h1.71v1.81h-1.71zM48.42 35.28h1.71v1.81h-1.71zM53.55 35.28h1.71v1.81h-1.71zM55.26 35.28h1.71v1.81h-1.71zM60.39 35.28h1.71v1.81h-1.71zM50.13 37.09h1.71v1.81h-1.71zM60.39 37.09h1.71v1.81h-1.71zM84.34 37.09h1.71v1.81h-1.71zM92.89 37.09h1.71v1.81h-1.71zM94.6 37.09h1.71v1.81h-1.71zM106.57 37.09h1.71v1.81h-1.71zM41.57 38.91h1.71v1.81h-1.71zM46.71 38.91h1.71v1.81h-1.71zM50.13 38.91h1.71v1.81h-1.71zM55.26 38.91h1.71v1.81h-1.71zM58.68 38.91h1.71v1.81h-1.71zM65.52 38.91h1.71v1.81h-1.71zM67.23 38.91h1.71v1.81h-1.71zM70.65 38.91h1.71v1.81h-1.71zM72.36 38.91h1.71v1.81h-1.71zM80.92 38.91h1.71v1.81h-1.71zM87.76 38.91h1.71v1.81h-1.71zM48.42 40.72h1.71v1.81h-1.71zM51.84 40.72h1.71v1.81h-1.71zM65.52 40.72h1.71v1.81h-1.71zM67.23 40.72h1.71v1.81h-1.71zM101.44 40.72h1.71v1.81h-1.71zM111.71 40.72h1.71v1.81h-1.71zM29.6 42.54h1.71v1.81h-1.71zM41.57 42.54h1.71v1.81h-1.71zM43.28 42.54h1.71v1.81h-1.71zM50.13 42.54h1.71v1.81h-1.71zM82.63 42.54h1.71v1.81h-1.71zM94.6 42.54h1.71v1.81h-1.71zM36.44 44.35h1.71v1.81h-1.71zM62.1 44.35h1.71v1.81h-1.71zM67.23 44.35h1.71v1.81h-1.71zM72.36 44.35h1.71v1.81h-1.71zM89.47 44.35h1.71v1.81h-1.71zM33.02 46.16h1.71v1.81h-1.71zM38.15 46.16h1.71v1.81h-1.71zM62.1 46.16h1.71v1.81h-1.71zM68.94 46.16h1.71v1.81h-1.71zM94.6 46.16h1.71v1.81h-1.71zM137.36 46.16h1.71v1.81h-1.71zM34.73 47.98h1.71v1.81h-1.71zM55.26 47.98h1.71v1.81h-1.71zM68.94 47.98h1.71v1.81h-1.71zM147.63 47.98h1.71v1.81h-1.71zM31.31 49.79h1.71v1.81h-1.71zM67.23 49.79h1.71v1.81h-1.71zM68.94 49.79h1.71v1.81h-1.71zM75.78 49.79h1.71v1.81h-1.71zM120.26 49.79h1.71v1.81h-1.71zM39.86 51.6h1.71v1.81h-1.71zM51.84 51.6h1.71v1.81h-1.71zM62.1 51.6h1.71v1.81h-1.71zM70.65 51.6h1.71v1.81h-1.71zM74.07 51.6h1.71v1.81h-1.71zM79.21 51.6h1.71v1.81h-1.71zM31.31 53.42h1.71v1.81h-1.71zM72.36 53.42h1.71v1.81h-1.71zM74.07 53.42h1.71v1.81h-1.71zM96.31 53.42h1.71v1.81h-1.71zM103.15 53.42h1.71v1.81h-1.71zM62.1 55.23h1.71v1.81h-1.71zM67.23 55.23h1.71v1.81h-1.71zM92.89 55.23h1.71v1.81h-1.71zM36.44 57.04h1.71v1.81h-1.71zM44.99 57.04h1.71v1.81h-1.71zM55.26 57.04h1.71v1.81h-1.71zM63.81 57.04h1.71v1.81h-1.71zM77.49 57.04h1.71v1.81h-1.71zM98.02 57.04h1.71v1.81h-1.71zM118.55 57.04h1.71v1.81h-1.71zM63.81 58.86h1.71v1.81h-1.71zM96.31 58.86h1.71v1.81h-1.71zM121.97 58.86h1.71v1.81h-1.71zM36.44 60.67h1.71v1.81h-1.71zM39.86 60.67h1.71v1.81h-1.71zM46.71 60.67h1.71v1.81h-1.71zM58.68 60.67h1.71v1.81h-1.71zM82.63 60.67h1.71v1.81h-1.71zM38.15 62.48h1.71v1.81h-1.71zM55.26 62.48h1.71v1.81h-1.71zM75.78 62.48h1.71v1.81h-1.71zM44.99 64.3h1.71v1.81h-1.71zM50.13 64.3h1.71v1.81h-1.71zM60.39 64.3h1.71v1.81h-1.71zM74.07 64.3h1.71v1.81h-1.71zM87.76 64.3h1.71v1.81h-1.71zM91.18 64.3h1.71v1.81h-1.71zM33.02 66.11h1.71v1.81h-1.71zM41.57 66.11h1.71v1.81h-1.71zM43.28 66.11h1.71v1.81h-1.71zM84.34 66.11h1.71v1.81h-1.71zM94.6 66.11h1.71v1.81h-1.71zM29.6 67.92h1.71v1.81h-1.71zM34.73 67.92h1.71v1.81h-1.71zM38.15 67.92h1.71v1.81h-1.71zM48.42 67.92h1.71v1.81h-1.71zM55.26 67.92h1.71v1.81h-1.71zM63.81 67.92h1.71v1.81h-1.71zM94.6 67.92h1.71v1.81h-1.71zM113.42 67.92h1.71v1.81h-1.71zM118.55 67.92h1.71v1.81h-1.71zM39.86 69.74h1.71v1.81h-1.71zM70.65 69.74h1.71v1.81h-1.71zM115.13 69.74h1.71v1.81h-1.71zM39.86 71.55h1.71v1.81h-1.71zM46.71 71.55h1.71v1.81h-1.71zM53.55 71.55h1.71v1.81h-1.71zM56.97 71.55h1.71v1.81h-1.71zM62.1 71.55h1.71v1.81h-1.71zM39.86 73.36h1.71v1.81h-1.71zM51.84 73.36h1.71v1.81h-1.71zM60.39 73.36h1.71v1.81h-1.71zM144.21 73.36h1.71v1.81h-1.71zM151.05 73.36h1.71v1.81h-1.71zM77.49 75.18h1.71v1.81h-1.71zM67.23 76.99h1.71v1.81h-1.71zM70.65 76.99h1.71v1.81h-1.71zM74.07 76.99h1.71v1.81h-1.71zM99.73 76.99h1.71v1.81h-1.71zM125.39 76.99h1.71v1.81h-1.71zM128.81 76.99h1.71v1.81h-1.71zM33.02 78.81h1.71v1.81h-1.71zM36.44 78.81h1.71v1.81h-1.71zM43.28 78.81h1.71v1.81h-1.71zM51.84 78.81h1.71v1.81h-1.71zM56.97 78.81h1.71v1.81h-1.71zM63.81 78.81h1.71v1.81h-1.71zM68.94 78.81h1.71v1.81h-1.71zM87.76 78.81h1.71v1.81h-1.71zM101.44 78.81h1.71v1.81h-1.71zM108.28 80.62h1.71v1.81h-1.71zM34.73 82.43h1.71v1.81h-1.71zM39.86 82.43h1.71v1.81h-1.71zM43.28 82.43h1.71v1.81h-1.71zM44.99 82.43h1.71v1.81h-1.71zM46.71 82.43h1.71v1.81h-1.71zM65.52 82.43h1.71v1.81h-1.71zM50.13 84.25h1.71v1.81h-1.71zM87.76 84.25h1.71v1.81h-1.71zM29.6 86.06h1.71v1.81h-1.71zM39.86 86.06h1.71v1.81h-1.71zM41.57 86.06h1.71v1.81h-1.71zM67.23 86.06h1.71v1.81h-1.71zM77.49 86.06h1.71v1.81h-1.71zM106.57 86.06h1.71v1.81h-1.71zM29.6 87.87h1.71v1.81h-1.71zM55.26 87.87h1.71v1.81h-1.71zM89.47 87.87h1.71v1.81h-1.71zM111.71 87.87h1.71v1.81h-1.71zM115.13 87.87h1.71v1.81h-1.71zM29.6 89.69h1.71v1.81h-1.71zM86.05 89.69h1.71v1.81h-1.71zM101.44 89.69h1.71v1.81h-1.71zM103.15 89.69h1.71v1.81h-1.71zM167.41 28.03h1.71v1.81h-1.71zM172.53 28.03h1.71v1.81h-1.71zM175.94 28.03h1.71v1.81h-1.71zM187.88 28.03h1.71v1.81h-1.71zM172.53 31.65h1.71v1.81h-1.71zM181.05 31.65h1.71v1.81h-1.71zM192.99 31.65h1.71v1.81h-1.71zM169.12 33.47h1.71v1.81h-1.71zM174.23 37.09h1.71v1.81h-1.71zM179.35 38.91h1.71v1.81h-1.71zM189.58 40.72h1.71v1.81h-1.71zM177.64 42.54h1.71v1.81h-1.71zM184.46 46.16h1.71v1.81h-1.71zM170.82 49.79h1.71v1.81h-1.71zM175.94 49.79h1.71v1.81h-1.71zM169.12 51.6h1.71v1.81h-1.71zM186.17 53.42h1.71v1.81h-1.71zM172.53 55.23h1.71v1.81h-1.71zM172.53 57.04h1.71v1.81h-1.71zM177.64 57.04h1.71v1.81h-1.71zM165.71 58.86h1.71v1.81h-1.71zM164 62.48h1.71v1.81h-1.71zM175.94 64.3h1.71v1.81h-1.71zM179.35 66.11h1.71v1.81h-1.71zM184.46 66.11h1.71v1.81h-1.71zM175.94 67.92h1.71v1.81h-1.71zM167.41 69.74h1.71v1.81h-1.71zM170.82 69.74h1.71v1.81h-1.71zM177.64 69.74h1.71v1.81h-1.71zM164 71.55h1.71v1.81h-1.71zM175.94 71.55h1.71v1.81h-1.71zM174.23 73.36h1.71v1.81h-1.71zM170.82 75.18h1.71v1.81h-1.71zM169.12 76.99h1.71v1.81h-1.71zM170.82 78.81h1.71v1.81h-1.71zM172.53 82.43h1.71v1.81h-1.71zM165.71 84.25h1.71v1.81h-1.71zM170.82 86.06h1.71v1.81h-1.71zM179.35 86.06h1.71v1.81h-1.71zM175.94 87.87h1.71v1.81h-1.71zM179.35 87.87h1.71v1.81h-1.71zM125.39 99.11h1.71v1.85h-1.71zM125.39 100.96h1.71v1.85h-1.71zM149.34 100.96h1.71v1.85h-1.71zM135.65 102.82h1.71v1.85h-1.71zM144.21 104.67h1.71v1.85h-1.71zM133.94 106.53h1.71v1.85h-1.71zM132.23 110.24h1.71v1.85h-1.71zM137.36 110.24h1.71v1.85h-1.71zM145.92 112.09h1.71v1.85h-1.71zM152.76 112.09h1.71v1.85h-1.71zM154.47 112.09h1.71v1.85h-1.71zM121.97 113.95h1.71v1.85h-1.71zM213.46 95.4h1.71v1.85h-1.71zM227.1 95.4h1.71v1.85h-1.71zM247.56 95.4h1.71v1.85h-1.71zM283.38 95.4h1.71v1.85h-1.71zM170.82 97.25h1.71v1.85h-1.71zM192.99 97.25h1.71v1.85h-1.71zM213.46 97.25h1.71v1.85h-1.71zM218.57 97.25h1.71v1.85h-1.71zM239.04 97.25h1.71v1.85h-1.71zM273.15 97.25h1.71v1.85h-1.71zM283.38 97.25h1.71v1.85h-1.71zM189.58 99.11h1.71v1.85h-1.71zM242.45 99.11h1.71v1.85h-1.71zM273.15 99.11h1.71v1.85h-1.71zM187.88 100.96h1.71v1.85h-1.71zM191.29 100.96h1.71v1.85h-1.71zM204.93 100.96h1.71v1.85h-1.71zM210.05 100.96h1.71v1.85h-1.71zM215.16 100.96h1.71v1.85h-1.71zM223.69 100.96h1.71v1.85h-1.71zM244.15 100.96h1.71v1.85h-1.71zM245.86 100.96h1.71v1.85h-1.71zM254.39 100.96h1.71v1.85h-1.71zM266.32 100.96h1.71v1.85h-1.71zM269.74 100.96h1.71v1.85h-1.71zM278.26 100.96h1.71v1.85h-1.71zM281.67 100.96h1.71v1.85h-1.71zM286.79 100.96h1.71v1.85h-1.71zM165.71 102.82h1.71v1.85h-1.71zM172.53 102.82h1.71v1.85h-1.71zM210.05 102.82h1.71v1.85h-1.71zM218.57 102.82h1.71v1.85h-1.71zM220.28 102.82h1.71v1.85h-1.71zM223.69 102.82h1.71v1.85h-1.71zM174.23 104.67h1.71v1.85h-1.71zM175.94 104.67h1.71v1.85h-1.71zM177.64 104.67h1.71v1.85h-1.71zM189.58 104.67h1.71v1.85h-1.71zM198.11 104.67h1.71v1.85h-1.71zM220.28 104.67h1.71v1.85h-1.71zM221.98 104.67h1.71v1.85h-1.71zM239.04 104.67h1.71v1.85h-1.71zM278.26 104.67h1.71v1.85h-1.71zM184.46 106.53h1.71v1.85h-1.71zM210.05 106.53h1.71v1.85h-1.71zM223.69 106.53h1.71v1.85h-1.71zM245.86 106.53h1.71v1.85h-1.71zM249.27 106.53h1.71v1.85h-1.71zM266.32 106.53h1.71v1.85h-1.71zM186.17 108.38h1.71v1.85h-1.71zM194.7 108.38h1.71v1.85h-1.71zM220.28 108.38h1.71v1.85h-1.71zM230.51 108.38h1.71v1.85h-1.71zM247.56 108.38h1.71v1.85h-1.71zM256.09 108.38h1.71v1.85h-1.71zM264.62 108.38h1.71v1.85h-1.71zM283.38 108.38h1.71v1.85h-1.71zM167.41 110.24h1.71v1.85h-1.71zM206.64 110.24h1.71v1.85h-1.71zM247.56 110.24h1.71v1.85h-1.71zM269.74 110.24h1.71v1.85h-1.71zM170.82 112.09h1.71v1.85h-1.71zM186.17 112.09h1.71v1.85h-1.71zM203.22 112.09h1.71v1.85h-1.71zM245.86 112.09h1.71v1.85h-1.71zM247.56 112.09h1.71v1.85h-1.71zM269.74 112.09h1.71v1.85h-1.71zM169.12 113.95h1.71v1.85h-1.71zM175.94 113.95h1.71v1.85h-1.71zM198.11 113.95h1.71v1.85h-1.71zM204.93 113.95h1.71v1.85h-1.71zM210.05 113.95h1.71v1.85h-1.71zM235.63 113.95h1.71v1.85h-1.71zM283.38 113.95h1.71v1.85h-1.71zM169.12 129.2h1.71v1.65h-1.71zM201.52 129.2h1.71v1.65h-1.71zM225.39 129.2h1.71v1.65h-1.71zM286.79 129.2h1.71v1.65h-1.71zM186.17 130.85h1.71v1.65h-1.71zM223.69 130.85h1.71v1.65h-1.71zM75.78 140.13h1.71v1.81h-1.71zM101.44 145.57h1.71v1.81h-1.71zM169.12 136.5h1.71v1.81h-1.71zM172.53 136.5h1.71v1.81h-1.71zM210.05 136.5h1.71v1.81h-1.71zM213.46 136.5h1.71v1.81h-1.71zM170.82 138.31h1.71v1.81h-1.71zM186.17 138.31h1.71v1.81h-1.71zM201.52 138.31h1.71v1.81h-1.71zM181.05 140.13h1.71v1.81h-1.71zM184.46 140.13h1.71v1.81h-1.71zM199.81 145.57h1.71v1.81h-1.71zM172.53 147.39h1.71v1.81h-1.71zM177.64 147.39h1.71v1.81h-1.71zM182.76 147.39h1.71v1.81h-1.71zM199.81 147.39h1.71v1.81h-1.71z"/>
<path fill="#2878c8" d="M33.02 28.03h1.71v1.81h-1.71zM36.44 29.84h1.71v1.81h-1.71zM44.99 29.84h1.71v1.81h-1.71zM55.26 31.65h1.71v1.81h-1.71zM44.99 35.28h1.71v1.81h-1.71zM38.15 38.91h1.71v1.81h-1.71zM53.55 40.72h1.71v1.81h-1.71zM68.94 40.72h1.71v1.81h-1.71zM43.28 44.35h1.71v1.81h-1.71zM58.68 46.16h1.71v1.81h-1.71zM33.02 49.79h1.71v1.81h-1.71zM34.73 49.79h1.71v1.81h-1.71zM43.28 49.79h1.71v1.81h-1.71zM51.84 49.79h1.71v1.81h-1.71zM29.6 53.42h1.71v1.81h-1.71zM53.55 53.42h1.71v1.81h-1.71zM58.68 55.23h1.71v1.81h-1.71zM33.02 57.04h1.71v1.81h-1.71zM41.57 57.04h1.71v1.81h-1.71zM68.94 57.04h1.71v1.81h-1.71zM33.02 58.86h1.71v1.81h-1.71zM44.99 58.86h1.71v1.81h-1.71zM29.6 60.67h1.71v1.81h-1.71zM53.55 60.67h1.71v1.81h-1.71zM56.97 60.67h1.71v1.81h-1.71zM43.28 62.48h1.71v1.81h-1.71zM44.99 62.48h1.71v1.81h-1.71zM46.71 62.48h1.71v1.81h-1.71zM50.13 62.48h1.71v1.81h-1.71zM29.6 66.11h1.71v1.81h-1.71zM53.55 66.11h1.71v1.81h-1.71zM56.97 67.92h1.71v1.81h-1.71zM48.42 69.74h1.71v1.81h-1.71zM44.99 71.55h1.71v1.81h-1.71zM38.15 73.36h1.71v1.81h-1.71zM56.97 73.36h1.71v1.81h-1.71zM65.52 73.36h1.71v1.81h-1.71zM31.31 75.18h1.71v1.81h-1.71zM41.57 75.18h1.71v1.81h-1.71zM48.42 75.18h1.71v1.81h-1.71zM43.28 76.99h1.71v1.81h-1.71zM38.15 78.81h1.71v1.81h-1.71zM50.13 78.81h1.71v1.81h-1.71zM62.1 78.81h1.71v1.81h-1.71zM34.73 80.62h1.71v1.81h-1.71zM44.99 80.62h1.71v1.81h-1.71zM53.55 80.62h1.71v1.81h-1.71zM29.6 82.43h1.71v1.81h-1.71zM33.02 82.43h1.71v1.81h-1.71zM63.81 84.25h1.71v1.81h-1.71zM33.02 86.06h1.71v1.81h-1.71z"/>
<path fill="#2878b4" d="M36.44 28.03h1.71v1.81h-1.71zM48.42 28.03h1.71v1.81h-1.71zM39.86 29.84h1.71v1.81h-1.71zM43.28 29.84h1.71v1.81h-1.71zM53.55 29.84h1.71v1.81h-1.71zM65.52 29.84h1.71v1.81h-1.71zM68.94 29.84h1.71v1.81h-1.71zM74.07 29.84h1.71v1.81h-1.71zM29.6 31.65h1.71v1.81h-1.71zM31.31 31.65h1.71v1.81h-1.71zM39.86 31.65h1.71v1.81h-1.71zM43.28 31.65h1.71v1.81h-1.71zM46.71 31.65h1.71v1.81h-1.71zM50.13 31.65h1.71v1.81h-1.71zM31.31 33.47h1.71v1.81h-1.71zM41.57 33.47h1.71v1.81h-1.71zM65.52 33.47h1.71v1.81h-1.71zM29.6 35.28h1.71v1.81h-1.71zM31.31 35.28h1.71v1.81h-1.71zM34.73 35.28h1.71v1.81h-1.71zM38.15 35.28h1.71v1.81h-1.71zM41.57 35.28h1.71v1.81h-1.71zM51.84 35.28h1.71v1.81h-1.71zM84.34 35.28h1.71v1.81h-1.71zM55.26 37.09h1.71v1.81h-1.71zM63.81 37.09h1.71v1.81h-1.71zM80.92 37.09h1.71v1.81h-1.71zM44.99 38.91h1.71v1.81h-1.71zM63.81 38.91h1.71v1.81h-1.71zM79.21 38.91h1.71v1.81h-1.71zM31.31 40.72h1.71v1.81h-1.71zM34.73 40.72h1.71v1.81h-1.71zM56.97 40.72h1.71v1.81h-1.71zM58.68 40.72h1.71v1.81h-1.71zM77.49 40.72h1.71v1.81h-1.71zM31.31 42.54h1.71v1.81h-1.71zM33.02 42.54h1.71v1.81h-1.71zM38.15 42.54h1.71v1.81h-1.71zM39.86 42.54h1.71v1.81h-1.71zM48.42 42.54h1.71v1.81h-1.71zM67.23 42.54h1.71v1.81h-1.71zM33.02 44.35h1.71v1.81h-1.71zM55.26 44.35h1.71v1.81h-1.71zM63.81 44.35h1.71v1.81h-1.71zM79.21 44.35h1.71v1.81h-1.71zM44.99 46.16h1.71v1.81h-1.71zM46.71 46.16h1.71v1.81h-1.71zM48.42 46.16h1.71v1.81h-1.71zM56.97 46.16h1.71v1.81h-1.71zM67.23 46.16h1.71v1.81h-1.71zM31.31 47.98h1.71v1.81h-1.71zM33.02 47.98h1.71v1.81h-1.71zM44.99 47.98h1.71v1.81h-1.71zM60.39 47.98h1.71v1.81h-1.71zM29.6 49.79h1.71v1.81h-1.71zM36.44 49.79h1.71v1.81h-1.71zM46.71 49.79h1.71v1.81h-1.71zM56.97 49.79h1.71v1.81h-1.71zM65.52 49.79h1.71v1.81h-1.71zM72.36 49.79h1.71v1.81h-1.71zM79.21 49.79h1.71v1.81h-1.71zM41.57 51.6h1.71v1.81h-1.71zM41.57 53.42h1.71v1.81h-1.71zM51.84 53.42h1.71v1.81h-1.71zM34.73 55.23h1.71v1.81h-1.71zM41.57 55.23h1.71v1.81h-1.71zM51.84 55.23h1.71v1.81h-1.71zM70.65 55.23h1.71v1.81h-1.71zM31.31 57.04h1.71v1.81h-1.71zM34.73 57.04h1.71v1.81h-1.71zM38.15 57.04h1.71v1.81h-1.71zM43.28 57.04h1.71v1.81h-1.71zM46.71 57.04h1.71v1.81h-1.71zM58.68 57.04h1.71v1.81h-1.71zM31.31 58.86h1.71v1.81h-1.71zM34.73 58.86h1.71v1.81h-1.71zM39.86 58.86h1.71v1.81h-1.71zM56.97 58.86h1.71v1.81h-1.71zM65.52 58.86h1.71v1.81h-1.71zM67.23 58.86h1.71v1.81h-1.71zM80.92 58.86h1.71v1.81h-1.71zM31.31 60.67h1.71v1.81h-1.71zM41.57 60.67h1.71v1.81h-1.71zM48.42 60.67h1.71v1.81h-1.71zM50.13 60.67h1.71v1.81h-1.71zM68.94 60.67h1.71v1.81h-1.71zM80.92 60.67h1.71v1.81h-1.71zM29.6 62.48h1.71v1.81h-1.71zM34.73 62.48h1.71v1.81h-1.71zM36.44 62.48h1.71v1.81h-1.71zM41.57 62.48h1.71v1.81h-1.71zM79.21 62.48h1.71v1.81h-1.71zM38.15 64.3h1.71v1.81h-1.71zM51.84 64.3h1.71v1.81h-1.71zM53.55 64.3h1.71v1.81h-1.71zM67.23 64.3h1.71v1.81h-1.71zM84.34 64.3h1.71v1.81h-1.71zM34.73 66.11h1.71v1.81h-1.71zM46.71 66.11h1.71v1.81h-1.71zM60.39 66.11h1.71v1.81h-1.71zM80.92 66.11h1.71v1.81h-1.71zM36.44 67.92h1.71v1.81h-1.71zM43.28 67.92h1.71v1.81h-1.71zM51.84 67.92h1.71v1.81h-1.71zM67.23 67.92h1.71v1.81h-1.71zM74.07 67.92h1.71v1.81h-1.71zM84.34 67.92h1.71v1.81h-1.71zM29.6 69.74h1.71v1.81h-1.71zM34.73 69.74h1.71v1.81h-1.71zM38.15 69.74h1.71v1.81h-1.71zM41.57 69.74h1.71v1.81h-1.71zM51.84 69.74h1.71v1.81h-1.71zM55.26 69.74h1.71v1.81h-1.71zM58.68 69.74h1.71v1.81h-1.71zM68.94 69.74h1.71v1.81h-1.71zM74.07 69.74h1.71v1.81h-1.71zM31.31 71.55h1.71v1.81h-1.71zM36.44 71.55h1.71v1.81h-1.71zM43.28 71.55h1.71v1.81h-1.71zM55.26 71.55h1.71v1.81h-1.71zM67.23 71.55h1.71v1.81h-1.71zM70.65 71.55h1.71v1.81h-1.71zM29.6 73.36h1.71v1.81h-1.71zM36.44 73.36h1.71v1.81h-1.71zM63.81 73.36h1.71v1.81h-1.71zM77.49 73.36h1.71v1.81h-1.71zM80.92 73.36h1.71v1.81h-1.71zM43.28 75.18h1.71v1.81h-1.71zM46.71 75.18h1.71v1.81h-1.71zM50.13 75.18h1.71v1.81h-1.71zM58.68 75.18h1.71v1.81h-1.71zM62.1 75.18h1.71v1.81h-1.71zM70.65 75.18h1.71v1.81h-1.71zM29.6 76.99h1.71v1.81h-1.71zM38.15 76.99h1.71v1.81h-1.71zM39.86 76.99h1.71v1.81h-1.71zM41.57 76.99h1.71v1.81h-1.71zM46.71 76.99h1.71v1.81h-1.71zM50.13 76.99h1.71v1.81h-1.71zM53.55 76.99h1.71v1.81h-1.71zM56.97 76.99h1.71v1.81h-1.71zM84.34 76.99h1.71v1.81h-1.71zM31.31 78.81h1.71v1.81h-1.71zM41.57 78.81h1.71v1.81h-1.71zM48.42 78.81h1.71v1.81h-1.71zM60.39 78.81h1.71v1.81h-1.71zM79.21 78.81h1.71v1.81h-1.71zM55.26 80.62h1.71v1.81h-1.71zM70.65 80.62h1.71v1.81h-1.71zM36.44 82.43h1.71v1.81h-1.71zM50.13 82.43h1.71v1.81h-1.71zM74.07 82.43h1.71v1.81h-1.71zM75.78 82.43h1.71v1.81h-1.71zM34.73 84.25h1.71v1.81h-1.71zM41.57 84.25h1.71v1.81h-1.71zM46.71 84.25h1.71v1.81h-1.71zM48.42 84.25h1.71v1.81h-1.71zM89.47 84.25h1.71v1.81h-1.71zM34.73 86.06h1.71v1.81h-1.71zM50.13 86.06h1.71v1.81h-1.71zM63.81 86.06h1.71v1.81h-1.71zM74.07 86.06h1.71v1.81h-1.71zM31.31 87.87h1.71v1.81h-1.71zM34.73 87.87h1.71v1.81h-1.71zM36.44 87.87h1.71v1.81h-1.71zM48.42 87.87h1.71v1.81h-1.71zM50.13 87.87h1.71v1.81h-1.71zM58.68 87.87h1.71v1.81h-1.71zM51.84 89.69h1.71v1.81h-1.71zM55.26 89.69h1.71v1.81h-1.71zM62.1 89.69h1.71v1.81h-1.71zM63.81 89.69h1.71v1.81h-1.71zM65.52 89.69h1.71v1.81h-1.71zM77.49 89.69h1.71v1.81h-1.71zM169.12 35.28h1.71v1.81h-1.71zM164 42.54h1.71v1.81h-1.71zM170.82 47.98h1.71v1.81h-1.71zM169.12 57.04h1.71v1.81h-1.71zM167.41 58.86h1.71v1.81h-1.71zM170.82 80.62h1.71v1.81h-1.71zM165.71 87.87h1.71v1.81h-1.71zM169.12 104.67h1.71v1.85h-1.71zM201.52 104.67h1.71v1.85h-1.71zM203.22 108.38h1.71v1.85h-1.71zM169.12 110.24h1.71v1.85h-1.71zM198.11 110.24h1.71v1.85h-1.71zM184.46 112.09h1.71v1.85h-1.71z"/>
<path fill="#142850" d="M56.97 28.03h1.71v1.81h-1.71zM62.1 28.03h1.71v1.81h-1.71zM33.02 29.84h1.71v1.81h-1.71zM58.68 29.84h1.71v1.81h-1.71zM51.84 33.47h1.71v1.81h-1.71zM33.02 35.28h1.71v1.81h-1.71zM43.28 35.28h1.71v1.81h-1.71zM62.1 35.28h1.71v1.81h-1.71zM51.84 37.09h1.71v1.81h-1.71zM56.97 37.09h1.71v1.81h-1.71zM70.65 37.09h1.71v1.81h-1.71zM74.07 40.72h1.71v1.81h-1.71zM65.52 42.54h1.71v1.81h-1.71zM75.78 44.35h1.71v1.81h-1.71zM84.34 44.35h1.71v1.81h-1.71zM29.6 46.16h1.71v1.81h-1.71zM77.49 46.16h1.71v1.81h-1.71zM82.63 46.16h1.71v1.81h-1.71zM58.68 47.98h1.71v1.81h-1.71zM75.78 47.98h1.71v1.81h-1.71zM38.15 49.79h1.71v1.81h-1.71zM29.6 51.6h1.71v1.81h-1.71zM43.28 51.6h1.71v1.81h-1.71zM58.68 51.6h1.71v1.81h-1.71zM44.99 53.42h1.71v1.81h-1.71zM46.71 53.42h1.71v1.81h-1.71zM55.26 53.42h1.71v1.81h-1.71zM67.23 53.42h1.71v1.81h-1.71zM53.55 55.23h1.71v1.81h-1.71zM75.78 55.23h1.71v1.81h-1.71zM77.49 60.67h1.71v1.81h-1.71zM39.86 62.48h1.71v1.81h-1.71zM29.6 64.3h1.71v1.81h-1.71zM58.68 64.3h1.71v1.81h-1.71zM62.1 64.3h1.71v1.81h-1.71zM31.31 66.11h1.71v1.81h-1.71zM51.84 66.11h1.71v1.81h-1.71zM79.21 66.11h1.71v1.81h-1.71zM60.39 67.92h1.71v1.81h-1.71zM65.52 67.92h1.71v1.81h-1.71zM72.36 67.92h1.71v1.81h-1.71zM60.39 69.74h1.71v1.81h-1.71zM43.28 73.36h1.71v1.81h-1.71zM53.55 73.36h1.71v1.81h-1.71zM68.94 73.36h1.71v1.81h-1.71zM70.65 73.36h1.71v1.81h-1.71zM74.07 73.36h1.71v1.81h-1.71zM82.63 73.36h1.71v1.81h-1.71zM67.23 75.18h1.71v1.81h-1.71zM34.73 76.99h1.71v1.81h-1.71zM51.84 76.99h1.71v1.81h-1.71zM58.68 78.81h1.71v1.81h-1.71zM43.28 80.62h1.71v1.81h-1.71zM48.42 80.62h1.71v1.81h-1.71zM74.07 80.62h1.71v1.81h-1.71zM94.6 84.25h1.71v1.81h-1.71zM44.99 86.06h1.71v1.81h-1.71zM70.65 86.06h1.71v1.81h-1.71zM87.76 86.06h1.71v1.81h-1.71zM33.02 87.87h1.71v1.81h-1.71zM43.28 87.87h1.71v1.81h-1.71zM46.71 87.87h1.71v1.81h-1.71zM72.36 89.69h1.71v1.81h-1.71zM80.92 89.69h1.71v1.81h-1.71zM84.34 89.69h1.71v1.81h-1.71zM172.53 95.4h1.71v1.85h-1.71zM177.64 95.4h1.71v1.85h-1.71zM191.29 95.4h1.71v1.85h-1.71zM201.52 95.4h1.71v1.85h-1.71zM216.87 95.4h1.71v1.85h-1.71zM225.39 95.4h1.71v1.85h-1.71zM244.15 95.4h1.71v1.85h-1.71zM177.64 97.25h1.71v1.85h-1.71zM181.05 97.25h1.71v1.85h-1.71zM199.81 97.25h1.71v1.85h-1.71zM184.46 99.11h1.71v1.85h-1.71zM187.88 99.11h1.71v1.85h-1.71zM199.81 99.11h1.71v1.85h-1.71zM286.79 99.11h1.71v1.85h-1.71zM181.05 100.96h1.71v1.85h-1.71zM184.46 100.96h1.71v1.85h-1.71zM220.28 100.96h1.71v1.85h-1.71zM242.45 100.96h1.71v1.85h-1.71zM256.09 100.96h1.71v1.85h-1.71zM184.46 102.82h1.71v1.85h-1.71zM194.7 102.82h1.71v1.85h-1.71zM199.81 102.82h1.71v1.85h-1.71zM211.75 102.82h1.71v1.85h-1.71zM213.46 102.82h1.71v1.85h-1.71zM215.16 102.82h1.71v1.85h-1.71zM268.03 102.82h1.71v1.85h-1.71zM172.53 104.67h1.71v1.85h-1.71zM182.76 104.67h1.71v1.85h-1.71zM192.99 104.67h1.71v1.85h-1.71zM215.16 104.67h1.71v1.85h-1.71zM256.09 104.67h1.71v1.85h-1.71zM170.82 106.53h1.71v1.85h-1.71zM179.35 106.53h1.71v1.85h-1.71zM216.87 106.53h1.71v1.85h-1.71zM221.98 106.53h1.71v1.85h-1.71zM269.74 106.53h1.71v1.85h-1.71zM167.41 108.38h1.71v1.85h-1.71zM196.4 108.38h1.71v1.85h-1.71zM206.64 108.38h1.71v1.85h-1.71zM211.75 110.24h1.71v1.85h-1.71zM278.26 110.24h1.71v1.85h-1.71zM175.94 112.09h1.71v1.85h-1.71zM177.64 112.09h1.71v1.85h-1.71zM211.75 112.09h1.71v1.85h-1.71zM215.16 112.09h1.71v1.85h-1.71zM218.57 112.09h1.71v1.85h-1.71zM232.22 112.09h1.71v1.85h-1.71zM181.05 113.95h1.71v1.85h-1.71zM184.46 113.95h1.71v1.85h-1.71zM187.88 113.95h1.71v1.85h-1.71zM216.87 113.95h1.71v1.85h-1.71zM239.04 113.95h1.71v1.85h-1.71zM271.44 113.95h1.71v1.85h-1.71zM48.42 136.5h1.71v1.81h-1.71zM91.18 136.5h1.71v1.81h-1.71zM115.13 136.5h1.71v1.81h-1.71zM60.39 141.94h1.71v1.81h-1.71zM48.42 145.57h1.71v1.81h-1.71zM67.23 145.57h1.71v1.81h-1.71zM94.6 145.57h1.71v1.81h-1.71zM118.55 145.57h1.71v1.81h-1.71zM65.52 147.39h1.71v1.81h-1.71zM75.78 147.39h1.71v1.81h-1.71z"/>
<path fill="#646428" d="M132.23 28.03h1.71v1.81h-1.71zM34.73 29.84h1.71v1.81h-1.71zM87.76 29.84h1.71v1.81h-1.71zM104.86 29.84h1.71v1.81h-1.71zM91.18 31.65h1.71v1.81h-1.71zM111.71 31.65h1.71v1.81h-1.71zM38.15 33.47h1.71v1.81h-1.71zM68.94 33.47h1.71v1.81h-1.71zM109.99 35.28h1.71v1.81h-1.71zM121.97 35.28h1.71v1.81h-1.71zM118.55 37.09h1.71v1.81h-1.71zM156.18 37.09h1.71v1.81h-1.71zM89.47 38.91h1.71v1.81h-1.71zM75.78 40.72h1.71v1.81h-1.71zM156.18 40.72h1.71v1.81h-1.71zM157.89 42.54h1.71v1.81h-1.71zM120.26 44.35h1.71v1.81h-1.71zM130.52 44.35h1.71v1.81h-1.71zM156.18 44.35h1.71v1.81h-1.71zM108.28 46.16h1.71v1.81h-1.71zM157.89 46.16h1.71v1.81h-1.71zM109.99 47.98h1.71v1.81h-1.71zM116.84 47.98h1.71v1.81h-1.71zM144.21 47.98h1.71v1.81h-1.71zM111.71 49.79h1.71v1.81h-1.71zM144.21 49.79h1.71v1.81h-1.71zM53.55 51.6h1.71v1.81h-1.71zM104.86 51.6h1.71v1.81h-1.71zM94.6 53.42h1.71v1.81h-1.71zM144.21 53.42h1.71v1.81h-1.71zM115.13 55.23h1.71v1.81h-1.71zM109.99 58.86h1.71v1.81h-1.71zM120.26 58.86h1.71v1.81h-1.71zM121.97 60.67h1.71v1.81h-1.71zM96.31 62.48h1.71v1.81h-1.71zM125.39 62.48h1.71v1.81h-1.71zM139.07 62.48h1.71v1.81h-1.71zM149.34 62.48h1.71v1.81h-1.71zM157.89 62.48h1.71v1.81h-1.71zM101.44 64.3h1.71v1.81h-1.71zM39.86 66.11h1.71v1.81h-1.71zM101.44 66.11h1.71v1.81h-1.71zM116.84 66.11h1.71v1.81h-1.71zM135.65 66.11h1.71v1.81h-1.71zM133.94 69.74h1.71v1.81h-1.71zM135.65 69.74h1.71v1.81h-1.71zM74.07 71.55h1.71v1.81h-1.71zM101.44 71.55h1.71v1.81h-1.71zM115.13 71.55h1.71v1.81h-1.71zM132.23 71.55h1.71v1.81h-1.71zM120.26 73.36h1.71v1.81h-1.71zM137.36 73.36h1.71v1.81h-1.71zM156.18 73.36h1.71v1.81h-1.71zM157.89 73.36h1.71v1.81h-1.71zM44.99 75.18h1.71v1.81h-1.71zM115.13 75.18h1.71v1.81h-1.71zM156.18 75.18h1.71v1.81h-1.71zM157.89 75.18h1.71v1.81h-1.71zM127.1 76.99h1.71v1.81h-1.71zM106.57 78.81h1.71v1.81h-1.71zM121.97 82.43h1.71v1.81h-1.71zM125.39 82.43h1.71v1.81h-1.71zM53.55 84.25h1.71v1.81h-1.71zM149.34 84.25h1.71v1.81h-1.71zM156.18 84.25h1.71v1.81h-1.71zM144.21 87.87h1.71v1.81h-1.71zM288.49 24.4h1.71v1.81h-1.71zM164 28.03h1.71v1.81h-1.71zM177.64 28.03h1.71v1.81h-1.71zM179.35 28.03h1.71v1.81h-1.71zM199.81 28.03h1.71v1.81h-1.71zM220.28 28.03h1.71v1.81h-1.71zM237.33 28.03h1.71v1.81h-1.71zM250.98 28.03h1.71v1.81h-1.71zM279.97 28.03h1.71v1.81h-1.71zM201.52 29.84h1.71v1.81h-1.71zM211.75 29.84h1.71v1.81h-1.71zM252.68 29.84h1.71v1.81h-1.71zM274.85 33.47h1.71v1.81h-1.71zM177.64 35.28h1.71v1.81h-1.71zM239.04 35.28h1.71v1.81h-1.71zM244.15 35.28h1.71v1.81h-1.71zM177.64 37.09h1.71v1.81h-1.71zM216.87 37.09h1.71v1.81h-1.71zM170.82 38.91h1.71v1.81h-1.71zM189.58 38.91h1.71v1.81h-1.71zM266.32 38.91h1.71v1.81h-1.71zM286.79 38.91h1.71v1.81h-1.71zM288.49 38.91h1.71v1.81h-1.71zM239.04 40.72h1.71v1.81h-1.71zM199.81 42.54h1.71v1.81h-1.71zM220.28 42.54h1.71v1.81h-1.71zM221.98 42.54h1.71v1.81h-1.71zM227.1 42.54h1.71v1.81h-1.71zM247.56 42.54h1.71v1.81h-1.71zM278.26 42.54h1.71v1.81h-1.71zM181.05 44.35h1.71v1.81h-1.71zM227.1 44.35h1.71v1.81h-1.71zM269.74 44.35h1.71v1.81h-1.71zM206.64 46.16h1.71v1.81h-1.71zM223.69 47.98h1.71v1.81h-1.71zM242.45 47.98h1.71v1.81h-1.71zM220.28 49.79h1.71v1.81h-1.71zM239.04 49.79h1.71v1.81h-1.71zM186.17 51.6h1.71v1.81h-1.71zM196.4 51.6h1.71v1.81h-1.71zM233.92 51.6h1.71v1.81h-1.71zM264.62 51.6h1.71v1.81h-1.71zM169.12 53.42h1.71v1.81h-1.71zM174.23 55.23h1.71v1.81h-1.71zM259.5 55.23h1.71v1.81h-1.71zM278.26 55.23h1.71v1.81h-1.71zM164 60.67h1.71v1.81h-1.71zM194.7 60.67h1.71v1.81h-1.71zM261.21 60.67h1.71v1.81h-1.71zM203.22 64.3h1.71v1.81h-1.71zM218.57 66.11h1.71v1.81h-1.71zM211.75 69.74h1.71v1.81h-1.71zM254.39 69.74h1.71v1.81h-1.71zM288.49 69.74h1.71v1.81h-1.71zM230.51 71.55h1.71v1.81h-1.71zM232.22 71.55h1.71v1.81h-1.71zM254.39 71.55h1.71v1.81h-1.71zM249.27 73.36h1.71v1.81h-1.71zM259.5 73.36h1.71v1.81h-1.71zM271.44 75.18h1.71v1.81h-1.71zM281.67 75.18h1.71v1.81h-1.71zM235.63 76.99h1.71v1.81h-1.71zM210.05 78.81h1.71v1.81h-1.71zM233.92 78.81h1.71v1.81h-1.71zM257.8 78.81h1.71v1.81h-1.71zM174.23 80.62h1.71v1.81h-1.71zM252.68 80.62h1.71v1.81h-1.71zM233.92 82.43h1.71v1.81h-1.71zM256.09 82.43h1.71v1.81h-1.71zM208.34 84.25h1.71v1.81h-1.71zM250.98 84.25h1.71v1.81h-1.71zM261.21 84.25h1.71v1.81h-1.71zM266.32 84.25h1.71v1.81h-1.71zM271.44 84.25h1.71v1.81h-1.71zM186.17 86.06h1.71v1.81h-1.71zM223.69 86.06h1.71v1.81h-1.71zM240.74 86.06h1.71v1.81h-1.71zM245.86 86.06h1.71v1.81h-1.71zM264.62 86.06h1.71v1.81h-1.71zM266.32 86.06h1.71v1.81h-1.71zM211.75 87.87h1.71v1.81h-1.71zM169.12 89.69h1.71v1.81h-1.71zM204.93 89.69h1.71v1.81h-1.71zM211.75 89.69h1.71v1.81h-1.71zM225.39 89.69h1.71v1.81h-1.71zM259.5 89.69h1.71v1.81h-1.71zM29.6 95.4h1.71v1.85h-1.71zM41.57 95.4h1.71v1.85h-1.71zM74.07 95.4h1.71v1.85h-1.71zM80.92 95.4h1.71v1.85h-1.71zM84.34 95.4h1.71v1.85h-1.71zM33.02 97.25h1.71v1.85h-1.71zM62.1 97.25h1.71v1.85h-1.71zM104.86 97.25h1.71v1.85h-1.71zM125.39 97.25h1.71v1.85h-1.71zM84.34 99.11h1.71v1.85h-1.71zM86.05 99.11h1.71v1.85h-1.71zM121.97 99.11h1.71v1.85h-1.71zM123.68 99.11h1.71v1.85h-1.71zM149.34 99.11h1.71v1.85h-1.71zM29.6 100.96h1.71v1.85h-1.71zM74.07 100.96h1.71v1.85h-1.71zM82.63 100.96h1.71v1.85h-1.71zM135.65 100.96h1.71v1.85h-1.71zM33.02 102.82h1.71v1.85h-1.71zM72.36 102.82h1.71v1.85h-1.71zM140.78 102.82h1.71v1.85h-1.71zM144.21 102.82h1.71v1.85h-1.71zM44.99 104.67h1.71v1.85h-1.71zM55.26 104.67h1.71v1.85h-1.71zM58.68 104.67h1.71v1.85h-1.71zM109.99 104.67h1.71v1.85h-1.71zM118.55 104.67h1.71v1.85h-1.71zM133.94 104.67h1.71v1.85h-1.71zM38.15 106.53h1.71v1.85h-1.71zM50.13 106.53h1.71v1.85h-1.71zM108.28 106.53h1.71v1.85h-1.71zM118.55 106.53h1.71v1.85h-1.71zM56.97 108.38h1.71v1.85h-1.71zM75.78 108.38h1.71v1.85h-1.71zM77.49 108.38h1.71v1.85h-1.71zM48.42 110.24h1.71v1.85h-1.71zM87.76 110.24h1.71v1.85h-1.71zM91.18 110.24h1.71v1.85h-1.71zM113.42 110.24h1.71v1.85h-1.71zM118.55 110.24h1.71v1.85h-1.71zM53.55 112.09h1.71v1.85h-1.71zM56.97 112.09h1.71v1.85h-1.71zM80.92 112.09h1.71v1.85h-1.71zM86.05 112.09h1.71v1.85h-1.71zM74.07 113.95h1.71v1.85h-1.71zM94.6 113.95h1.71v1.85h-1.71zM120.26 113.95h1.71v1.85h-1.71zM156.18 113.95h1.71v1.85h-1.71zM179.35 95.4h1.71v1.85h-1.71zM203.22 97.25h1.71v1.85h-1.71zM242.45 97.25h1.71v1.85h-1.71zM250.98 97.25h1.71v1.85h-1.71zM256.09 97.25h1.71v1.85h-1.71zM210.05 99.11h1.71v1.85h-1.71zM237.33 106.53h1.71v1.85h-1.71zM266.32 108.38h1.71v1.85h-1.71zM271.44 108.38h1.71v1.85h-1.71zM216.87 110.24h1.71v1.85h-1.71zM245.86 110.24h1.71v1.85h-1.71zM50.13 129.2h1.71v1.65h-1.71zM96.31 129.2h1.71v1.65h-1.71zM135.65 129.2h1.71v1.65h-1.71zM80.92 130.85h1.71v1.65h-1.71zM109.99 130.85h1.71v1.65h-1.71zM165.71 129.2h1.71v1.65h-1.71zM261.21 129.2h1.71v1.65h-1.71zM278.26 130.85h1.71v1.65h-1.71zM55.26 136.5h1.71v1.81h-1.71zM154.47 140.13h1.71v1.81h-1.71zM39.86 143.76h1.71v1.81h-1.71zM50.13 143.76h1.71v1.81h-1.71zM79.21 143.76h1.71v1.81h-1.71zM103.15 145.57h1.71v1.81h-1.71zM154.47 145.57h1.71v1.81h-1.71zM46.71 147.39h1.71v1.81h-1.71zM133.94 147.39h1.71v1.81h-1.71zM239.04 136.5h1.71v1.81h-1.71zM245.86 136.5h1.71v1.81h-1.71zM252.68 136.5h1.71v1.81h-1.71zM269.74 140.13h1.71v1.81h-1.71zM194.7 143.76h1.71v1.81h-1.71zM268.03 143.76h1.71v1.81h-1.71zM227.1 145.57h1.71v1.81h-1.71zM235.63 145.57h1.71v1.81h-1.71zM250.98 145.57h1.71v1.81h-1.71zM285.08 145.57h1.71v1.81h-1.71zM227.1 147.39h1.71v1.81h-1.71zM228.81 147.39h1.71v1.81h-1.71zM247.56 147.39h1.71v1.81h-1.71zM261.21 147.39h1.71v1.81h-1.71zM281.67 147.39h1.71v1.81h-1.71z"/>
<path fill="#506428" d="M140.78 28.03h1.71v1.81h-1.71zM157.89 33.47h1.71v1.81h-1.71zM58.68 37.09h1.71v1.81h-1.71zM104.86 37.09h1.71v1.81h-1.71zM108.28 37.09h1.71v1.81h-1.71zM101.44 44.35h1.71v1.81h-1.71zM135.65 44.35h1.71v1.81h-1.71zM149.34 46.16h1.71v1.81h-1.71zM108.28 51.6h1.71v1.81h-1.71zM132.23 53.42h1.71v1.81h-1.71zM125.39 58.86h1.71v1.81h-1.71zM133.94 58.86h1.71v1.81h-1.71zM63.81 60.67h1.71v1.81h-1.71zM103.15 62.48h1.71v1.81h-1.71zM144.21 62.48h1.71v1.81h-1.71zM89.47 66.11h1.71v1.81h-1.71zM147.63 67.92h1.71v1.81h-1.71zM152.76 67.92h1.71v1.81h-1.71zM120.26 69.74h1.71v1.81h-1.71zM147.63 69.74h1.71v1.81h-1.71zM133.94 75.18h1.71v1.81h-1.71zM152.76 87.87h1.71v1.81h-1.71zM218.57 31.65h1.71v1.81h-1.71zM244.15 31.65h1.71v1.81h-1.71zM259.5 31.65h1.71v1.81h-1.71zM184.46 33.47h1.71v1.81h-1.71zM235.63 33.47h1.71v1.81h-1.71zM273.15 33.47h1.71v1.81h-1.71zM247.56 35.28h1.71v1.81h-1.71zM286.79 35.28h1.71v1.81h-1.71zM288.49 35.28h1.71v1.81h-1.71zM271.44 37.09h1.71v1.81h-1.71zM285.08 37.09h1.71v1.81h-1.71zM283.38 42.54h1.71v1.81h-1.71zM233.92 49.79h1.71v1.81h-1.71zM210.05 51.6h1.71v1.81h-1.71zM262.91 51.6h1.71v1.81h-1.71zM262.91 53.42h1.71v1.81h-1.71zM182.76 58.86h1.71v1.81h-1.71zM223.69 60.67h1.71v1.81h-1.71zM240.74 69.74h1.71v1.81h-1.71zM276.56 71.55h1.71v1.81h-1.71zM223.69 76.99h1.71v1.81h-1.71zM274.85 76.99h1.71v1.81h-1.71zM281.67 76.99h1.71v1.81h-1.71zM187.88 78.81h1.71v1.81h-1.71zM237.33 82.43h1.71v1.81h-1.71zM273.15 82.43h1.71v1.81h-1.71zM283.38 82.43h1.71v1.81h-1.71zM210.05 84.25h1.71v1.81h-1.71zM252.68 84.25h1.71v1.81h-1.71zM254.39 86.06h1.71v1.81h-1.71zM268.03 86.06h1.71v1.81h-1.71zM279.97 86.06h1.71v1.81h-1.71zM230.51 87.87h1.71v1.81h-1.71zM184.46 89.69h1.71v1.81h-1.71zM50.13 97.25h1.71v1.85h-1.71zM86.05 97.25h1.71v1.85h-1.71zM127.1 97.25h1.71v1.85h-1.71zM89.47 99.11h1.71v1.85h-1.71zM154.47 99.11h1.71v1.85h-1.71zM36.44 100.96h1.71v1.85h-1.71zM51.84 100.96h1.71v1.85h-1.71zM31.31 102.82h1.71v1.85h-1.71zM123.68 110.24h1.71v1.85h-1.71zM104.86 112.09h1.71v1.85h-1.71zM120.26 112.09h1.71v1.85h-1.71zM245.86 102.82h1.71v1.85h-1.71zM257.8 104.67h1.71v1.85h-1.71zM262.91 106.53h1.71v1.85h-1.71zM286.79 110.24h1.71v1.85h-1.71zM274.85 113.95h1.71v1.85h-1.71zM151.05 129.2h1.71v1.65h-1.71zM118.55 130.85h1.71v1.65h-1.71zM257.8 129.2h1.71v1.65h-1.71zM285.08 130.85h1.71v1.65h-1.71zM145.92 143.76h1.71v1.81h-1.71zM233.92 136.5h1.71v1.81h-1.71zM175.94 138.31h1.71v1.81h-1.71zM210.05 141.94h1.71v1.81h-1.71zM279.97 141.94h1.71v1.81h-1.71zM164 143.76h1.71v1.81h-1.71zM232.22 143.76h1.71v1.81h-1.71zM184.46 147.39h1.71v1.81h-1.71zM235.63 147.39h1.71v1.81h-1.71zM242.45 147.39h1.71v1.81h-1.71z"/>
<path fill="#647828" d="M145.92 28.03h1.71v1.81h-1.71zM144.21 33.47h1.71v1.81h-1.71zM91.18 42.54h1.71v1.81h-1.71zM130.52 42.54h1.71v1.81h-1.71zM140.78 46.16h1.71v1.81h-1.71zM140.78 47.98h1.71v1.81h-1.71zM156.18 53.42h1.71v1.81h-1.71zM92.89 57.04h1.71v1.81h-1.71zM137.36 58.86h1.71v1.81h-1.71zM156.18 60.67h1.71v1.81h-1.71zM51.84 62.48h1.71v1.81h-1.71zM98.02 64.3h1.71v1.81h-1.71zM128.81 64.3h1.71v1.81h-1.71zM75.78 66.11h1.71v1.81h-1.71zM79.21 71.55h1.71v1.81h-1.71zM130.52 89.69h1.71v1.81h-1.71zM174.23 28.03h1.71v1.81h-1.71zM206.64 28.03h1.71v1.81h-1.71zM257.8 28.03h1.71v1.81h-1.71zM169.12 29.84h1.71v1.81h-1.71zM218.57 29.84h1.71v1.81h-1.71zM256.09 29.84h1.71v1.81h-1.71zM198.11 33.47h1.71v1.81h-1.71zM187.88 35.28h1.71v1.81h-1.71zM196.4 35.28h1.71v1.81h-1.71zM235.63 37.09h1.71v1.81h-1.71zM286.79 37.09h1.71v1.81h-1.71zM192.99 38.91h1.71v1.81h-1.71zM239.04 38.91h1.71v1.81h-1.71zM191.29 42.54h1.71v1.81h-1.71zM233.92 46.16h1.71v1.81h-1.71zM167.41 47.98h1.71v1.81h-1.71zM233.92 47.98h1.71v1.81h-1.71zM164 49.79h1.71v1.81h-1.71zM216.87 49.79h1.71v1.81h-1.71zM213.46 53.42h1.71v1.81h-1.71zM223.69 53.42h1.71v1.81h-1.71zM233.92 53.42h1.71v1.81h-1.71zM268.03 53.42h1.71v1.81h-1.71zM225.39 55.23h1.71v1.81h-1.71zM273.15 57.04h1.71v1.81h-1.71zM283.38 57.04h1.71v1.81h-1.71zM230.51 58.86h1.71v1.81h-1.71zM250.98 58.86h1.71v1.81h-1.71zM262.91 67.92h1.71v1.81h-1.71zM220.28 69.74h1.71v1.81h-1.71zM244.15 69.74h1.71v1.81h-1.71zM237.33 73.36h1.71v1.81h-1.71zM192.99 75.18h1.71v1.81h-1.71zM262.91 76.99h1.71v1.81h-1.71zM250.98 78.81h1.71v1.81h-1.71zM213.46 82.43h1.71v1.81h-1.71zM244.15 84.25h1.71v1.81h-1.71zM286.79 84.25h1.71v1.81h-1.71zM244.15 86.06h1.71v1.81h-1.71zM250.98 86.06h1.71v1.81h-1.71zM235.63 89.69h1.71v1.81h-1.71zM34.73 95.4h1.71v1.85h-1.71zM139.07 97.25h1.71v1.85h-1.71zM108.28 99.11h1.71v1.85h-1.71zM79.21 102.82h1.71v1.85h-1.71zM68.94 106.53h1.71v1.85h-1.71zM140.78 106.53h1.71v1.85h-1.71zM67.23 108.38h1.71v1.85h-1.71zM115.13 108.38h1.71v1.85h-1.71zM33.02 110.24h1.71v1.85h-1.71zM70.65 110.24h1.71v1.85h-1.71zM51.84 113.95h1.71v1.85h-1.71zM60.39 113.95h1.71v1.85h-1.71zM208.34 97.25h1.71v1.85h-1.71zM252.68 99.11h1.71v1.85h-1.71zM233.92 100.96h1.71v1.85h-1.71zM228.81 102.82h1.71v1.85h-1.71zM286.79 102.82h1.71v1.85h-1.71zM103.15 138.31h1.71v1.81h-1.71zM106.57 147.39h1.71v1.81h-1.71zM145.92 147.39h1.71v1.81h-1.71zM220.28 136.5h1.71v1.81h-1.71zM218.57 143.76h1.71v1.81h-1.71zM257.8 145.57h1.71v1.81h-1.71z"/>
<path fill="#143c50" d="M31.31 29.84h1.71v1.81h-1.71zM60.39 29.84h1.71v1.81h-1.71zM39.86 37.09h1.71v1.81h-1.71zM43.28 37.09h1.71v1.81h-1.71zM33.02 38.91h1.71v1.81h-1.71zM31.31 46.16h1.71v1.81h-1.71zM53.55 46.16h1.71v1.81h-1.71zM55.26 49.79h1.71v1.81h-1.71zM58.68 49.79h1.71v1.81h-1.71zM34.73 53.42h1.71v1.81h-1.71zM31.31 55.23h1.71v1.81h-1.71zM39.86 55.23h1.71v1.81h-1.71zM46.71 55.23h1.71v1.81h-1.71zM50.13 57.04h1.71v1.81h-1.71zM48.42 58.86h1.71v1.81h-1.71zM44.99 60.67h1.71v1.81h-1.71zM33.02 73.36h1.71v1.81h-1.71zM41.57 73.36h1.71v1.81h-1.71zM55.26 75.18h1.71v1.81h-1.71zM48.42 82.43h1.71v1.81h-1.71zM51.84 82.43h1.71v1.81h-1.71zM55.26 86.06h1.71v1.81h-1.71zM58.68 86.06h1.71v1.81h-1.71zM70.65 89.69h1.71v1.81h-1.71zM274.85 69.74h1.71v1.81h-1.71zM182.76 108.38h1.71v1.85h-1.71zM82.63 130.85h1.71v1.65h-1.71z"/>
<path fill="#2878a0" d="M50.13 29.84h1.71v1.81h-1.71zM44.99 33.47h1.71v1.81h-1.71zM62.1 38.91h1.71v1.81h-1.71zM60.39 42.54h1.71v1.81h-1.71zM51.84 44.35h1.71v1.81h-1.71zM70.65 46.16h1.71v1.81h-1.71zM84.34 46.16h1.71v1.81h-1.71zM70.65 49.79h1.71v1.81h-1.71zM38.15 55.23h1.71v1.81h-1.71zM36.44 58.86h1.71v1.81h-1.71zM70.65 60.67h1.71v1.81h-1.71zM84.34 60.67h1.71v1.81h-1.71zM70.65 64.3h1.71v1.81h-1.71zM74.07 66.11h1.71v1.81h-1.71zM77.49 66.11h1.71v1.81h-1.71zM86.05 67.92h1.71v1.81h-1.71zM72.36 71.55h1.71v1.81h-1.71zM53.55 78.81h1.71v1.81h-1.71zM46.71 80.62h1.71v1.81h-1.71zM79.21 80.62h1.71v1.81h-1.71zM91.18 80.62h1.71v1.81h-1.71zM60.39 82.43h1.71v1.81h-1.71zM43.28 86.06h1.71v1.81h-1.71zM165.71 57.04h1.71v1.81h-1.71zM174.23 97.25h1.71v1.85h-1.71zM167.41 106.53h1.71v1.85h-1.71zM174.23 108.38h1.71v1.85h-1.71zM203.22 110.24h1.71v1.85h-1.71zM165.71 112.09h1.71v1.85h-1.71zM194.7 112.09h1.71v1.85h-1.71zM194.7 113.95h1.71v1.85h-1.71zM213.46 113.95h1.71v1.85h-1.71z"/>
<path fill="#288cc8" d="M33.02 31.65h1.71v1.81h-1.71zM34.73 37.09h1.71v1.81h-1.71zM29.6 47.98h1.71v1.81h-1.71zM38.15 51.6h1.71v1.81h-1.71zM31.31 76.99h1.71v1.81h-1.71zM39.86 78.81h1.71v1.81h-1.71z"/>
<path fill="#dcdc50" d="M184.46 24.4h1.71v1.81h-1.71zM196.4 24.4h1.71v1.81h-1.71zM204.93 24.4h1.71v1.81h-1.71zM230.51 24.4h1.71v1.81h-1.71zM233.92 24.4h1.71v1.81h-1.71zM235.63 24.4h1.71v1.81h-1.71zM196.4 26.21h1.71v1.81h-1.71zM204.93 26.21h1.71v1.81h-1.71zM221.98 26.21h1.71v1.81h-1.71zM247.56 26.21h1.71v1.81h-1.71zM257.8 26.21h1.71v1.81h-1.71zM271.44 26.21h1.71v1.81h-1.71z"/>
<path fill="#c8c850" d="M192.99 24.4h1.71v1.81h-1.71zM239.04 24.4h1.71v1.81h-1.71zM249.27 24.4h1.71v1.81h-1.71zM266.32 24.4h1.71v1.81h-1.71zM230.51 26.21h1.71v1.81h-1.71zM242.45 26.21h1.71v1.81h-1.71zM249.27 26.21h1.71v1.81h-1.71zM259.5 26.21h1.71v1.81h-1.71z"/></g>
<rect x="22.2" y="16.8" width="2.8" height="98.8" fill="#000"/>
<rect x="22.2" y="128.6" width="2.8" height="20.4" fill="#000"/>
<rect x="25.2" y="17" width="4.4" height="8.8" fill="#e8262c"/>
<text transform="translate(17 87.6) rotate(-90) scale(1 0.9)" font-size="13.3" font-weight="bold" stroke="#000" stroke-width="0.6">mRNAs</text>
<text transform="translate(17 163.6) rotate(-90) scale(1 0.9)" font-size="13.4" font-weight="bold" stroke="#000" stroke-width="0.6">miRNAs</text>
<defs><linearGradient id="cb" x1="0" x2="1" y1="0" y2="0">
<stop offset="0" stop-color="#3a9ee0"/><stop offset="0.5" stop-color="#000"/><stop offset="1" stop-color="#ecec30"/></linearGradient></defs>
<rect x="119.5" y="158.5" width="85" height="8" fill="url(#cb)" stroke="#111" stroke-width="1"/>
<text x="108.5" y="165.4" font-size="9.5" font-weight="bold" font-style="normal" text-anchor="start" stroke="#000" stroke-width="0.3" >-2</text>
<text x="206.5" y="165.4" font-size="9.5" font-weight="bold" font-style="normal" text-anchor="start" stroke="#000" stroke-width="0.3" >+2</text>
<text x="304.8" y="14.3" font-size="18" font-weight="bold" font-style="normal" text-anchor="start" stroke="#000" stroke-width="0.5" >B</text>
<rect x="400.3" y="14.6" width="111.1" height="15" fill="#c0bcbc" stroke="#141010" stroke-width="1.5"/>
<text transform="translate(392.5 24.7) scale(0.96 1.0)" font-size="12.3" font-weight="normal" font-style="normal" text-anchor="end" stroke="#000" stroke-width="0.35" >cytoskeleton</text>
<rect x="400.3" y="39.9" width="104" height="15" fill="#c0bcbc" stroke="#141010" stroke-width="1.5"/>
<text transform="translate(392.5 49.8) scale(0.96 1.0)" font-size="12.3" font-weight="normal" font-style="normal" text-anchor="end" stroke="#000" stroke-width="0.35" >actin binding</text>
<rect x="400.3" y="65.1" width="85.9" height="15" fill="#c0bcbc" stroke="#141010" stroke-width="1.5"/>
<text transform="translate(392.5 75) scale(0.96 1.0)" font-size="12.3" font-weight="normal" font-style="normal" text-anchor="end" stroke="#000" stroke-width="0.35" >cell adhesion</text>
<rect x="400.3" y="90.3" width="34.7" height="15" fill="#c0bcbc" stroke="#141010" stroke-width="1.5"/>
<text transform="translate(392.5 100.4) scale(0.96 1.0)" font-size="12.3" font-weight="normal" font-style="normal" text-anchor="end" stroke="#000" stroke-width="0.35" >cytosol</text>
<rect x="400.3" y="115.5" width="28.7" height="15" fill="#c0bcbc" stroke="#141010" stroke-width="1.5"/>
<text transform="translate(392.5 124.6) scale(0.96 1.0)" font-size="12.3" font-weight="normal" font-style="normal" text-anchor="end" stroke="#000" stroke-width="0.35" >protein binding</text>
<line x1="400" y1="136.6" x2="507.7" y2="136.6" stroke="#111" stroke-width="1.3"/>
<line x1="400.5" y1="136.5" x2="400.5" y2="140" stroke="#111" stroke-width="1.2"/>
<line x1="415.75" y1="136.5" x2="415.75" y2="140" stroke="#111" stroke-width="1.2"/>
<line x1="431" y1="136.5" x2="431" y2="140" stroke="#111" stroke-width="1.2"/>
<line x1="446.25" y1="136.5" x2="446.25" y2="140" stroke="#111" stroke-width="1.2"/>
<line x1="461.5" y1="136.5" x2="461.5" y2="140" stroke="#111" stroke-width="1.2"/>
<line x1="476.75" y1="136.5" x2="476.75" y2="140" stroke="#111" stroke-width="1.2"/>
<line x1="492" y1="136.5" x2="492" y2="140" stroke="#111" stroke-width="1.2"/>
<line x1="507.25" y1="136.5" x2="507.25" y2="140" stroke="#111" stroke-width="1.2"/>
<text x="401.5" y="151.5" font-size="12.3" font-weight="normal" font-style="normal" text-anchor="middle" stroke="#000" stroke-width="0.35" >0</text>
<text x="432" y="151.5" font-size="12.3" font-weight="normal" font-style="normal" text-anchor="middle" stroke="#000" stroke-width="0.35" >2</text>
<text x="462.5" y="151.5" font-size="12.3" font-weight="normal" font-style="normal" text-anchor="middle" stroke="#000" stroke-width="0.35" >4</text>
<text x="493" y="151.5" font-size="12.3" font-weight="normal" font-style="normal" text-anchor="middle" stroke="#000" stroke-width="0.35" >6</text>
<text x="453.4" y="164.4" font-size="13.6" font-weight="normal" font-style="normal" text-anchor="middle" stroke="#000" stroke-width="0.35" >Odds Ratio</text>
<text x="-0.2" y="217.9" font-size="18" font-weight="bold" font-style="normal" text-anchor="start" stroke="#000" stroke-width="0.5" >C</text>
<rect x="111.3" y="225.5" width="45.2" height="15" fill="#c0bcbc" stroke="#141010" stroke-width="1.5"/>
<text transform="translate(104 235.9) scale(0.96 1.0)" font-size="12.3" font-weight="normal" font-style="normal" text-anchor="end" stroke="#000" stroke-width="0.35" >blood coagulation</text>
<rect x="111.3" y="253.5" width="41" height="15" fill="#c0bcbc" stroke="#141010" stroke-width="1.5"/>
<text transform="translate(104 264.3) scale(0.96 1.0)" font-size="12.3" font-weight="normal" font-style="normal" text-anchor="end" stroke="#000" stroke-width="0.35" >protein binding</text>
<rect x="111.3" y="280.4" width="29.9" height="15" fill="#c0bcbc" stroke="#141010" stroke-width="1.5"/>
<text transform="translate(104 292.8) scale(0.96 1.0)" font-size="12.3" font-weight="normal" font-style="normal" text-anchor="end" stroke="#000" stroke-width="0.35" >cytosol</text>
<line x1="110.8" y1="302.4" x2="154.4" y2="302.4" stroke="#111" stroke-width="1.3"/>
<line x1="111.3" y1="302.2" x2="111.3" y2="305.6" stroke="#111" stroke-width="1.2"/>
<line x1="145.5" y1="302.2" x2="145.5" y2="305.6" stroke="#111" stroke-width="1.2"/>
<text x="110.8" y="318.8" font-size="14.5" font-weight="normal" font-style="normal" text-anchor="middle" stroke="#000" stroke-width="0.35" >0</text>
<text x="145.8" y="318.8" font-size="14.5" font-weight="normal" font-style="normal" text-anchor="middle" stroke="#000" stroke-width="0.35" >2</text>
<text x="133.4" y="334.8" font-size="14.4" font-weight="normal" font-style="normal" text-anchor="middle" stroke="#000" stroke-width="0.35" >Odds Ratio</text>
<text x="194.8" y="217.8" font-size="18" font-weight="bold" font-style="normal" text-anchor="start" stroke="#000" stroke-width="0.5" >D</text>
<line x1="237.2" y1="266.8" x2="255.9" y2="299.3" stroke="#587270" stroke-width="1.35"/>
<line x1="275" y1="266.6" x2="255.9" y2="299.3" stroke="#587270" stroke-width="1.35"/>
<line x1="235.4" y1="333.9" x2="235" y2="377.2" stroke="#587270" stroke-width="1.35"/>
<line x1="284" y1="333.6" x2="283.6" y2="377.8" stroke="#587270" stroke-width="1.35"/>
<line x1="346.2" y1="364.8" x2="326" y2="254.7" stroke="#587270" stroke-width="1.35"/>
<line x1="346.2" y1="364.8" x2="315.5" y2="283" stroke="#587270" stroke-width="1.35"/>
<line x1="346.2" y1="364.8" x2="315.4" y2="313" stroke="#587270" stroke-width="1.35"/>
<line x1="346.2" y1="364.8" x2="325.3" y2="341.4" stroke="#587270" stroke-width="1.35"/>
<line x1="346.2" y1="364.8" x2="476.5" y2="341.5" stroke="#587270" stroke-width="1.35"/>
<line x1="346.2" y1="364.8" x2="456.9" y2="364.6" stroke="#587270" stroke-width="1.35"/>
<line x1="346.2" y1="364.8" x2="430.5" y2="379.7" stroke="#587270" stroke-width="1.35"/>
<line x1="346.2" y1="364.8" x2="400.9" y2="384.6" stroke="#587270" stroke-width="1.35"/>
<line x1="371.6" y1="379.6" x2="326" y2="254.7" stroke="#587270" stroke-width="1.35"/>
<line x1="371.6" y1="379.6" x2="345.4" y2="231.6" stroke="#587270" stroke-width="1.35"/>
<line x1="371.6" y1="379.6" x2="371.2" y2="216.2" stroke="#587270" stroke-width="1.35"/>
<line x1="371.6" y1="379.6" x2="401.3" y2="211.2" stroke="#587270" stroke-width="1.35"/>
<line x1="371.6" y1="379.6" x2="430.5" y2="216.1" stroke="#587270" stroke-width="1.35"/>
<line x1="371.6" y1="379.6" x2="456.9" y2="231.7" stroke="#587270" stroke-width="1.35"/>
<line x1="371.6" y1="379.6" x2="476.1" y2="254.7" stroke="#587270" stroke-width="1.35"/>
<line x1="371.6" y1="379.6" x2="486.6" y2="282.9" stroke="#587270" stroke-width="1.35"/>
<line x1="371.6" y1="379.6" x2="486" y2="313" stroke="#587270" stroke-width="1.35"/>
<line x1="371.6" y1="379.6" x2="476.5" y2="341.5" stroke="#587270" stroke-width="1.35"/>
<line x1="371.6" y1="379.6" x2="456.9" y2="364.6" stroke="#587270" stroke-width="1.35"/>
<line x1="371.6" y1="379.6" x2="430.5" y2="379.7" stroke="#587270" stroke-width="1.35"/>
<line x1="371.6" y1="379.6" x2="400.9" y2="384.6" stroke="#587270" stroke-width="1.35"/>
<path d="M255.9 291.1l8.2 8.2l-8.2 8.2l-8.2 -8.2z" fill="#ef7e45" stroke="#4a220e" stroke-width="1.1"/>
<path d="M235 369l8.2 8.2l-8.2 8.2l-8.2 -8.2z" fill="#ef7e45" stroke="#4a220e" stroke-width="1.1"/>
<path d="M283.6 369.6l8.2 8.2l-8.2 8.2l-8.2 -8.2z" fill="#ef7e45" stroke="#4a220e" stroke-width="1.1"/>
<path d="M326 246.5l8.2 8.2l-8.2 8.2l-8.2 -8.2z" fill="#ef7e45" stroke="#4a220e" stroke-width="1.1"/>
<path d="M315.5 274.8l8.2 8.2l-8.2 8.2l-8.2 -8.2z" fill="#ef7e45" stroke="#4a220e" stroke-width="1.1"/>
<path d="M315.4 304.8l8.2 8.2l-8.2 8.2l-8.2 -8.2z" fill="#ef7e45" stroke="#4a220e" stroke-width="1.1"/>
<path d="M325.3 333.2l8.2 8.2l-8.2 8.2l-8.2 -8.2z" fill="#ef7e45" stroke="#4a220e" stroke-width="1.1"/>
<path d="M345.4 223.4l8.2 8.2l-8.2 8.2l-8.2 -8.2z" fill="#ef7e45" stroke="#4a220e" stroke-width="1.1"/>
<path d="M371.2 208l8.2 8.2l-8.2 8.2l-8.2 -8.2z" fill="#ef7e45" stroke="#4a220e" stroke-width="1.1"/>
<path d="M401.3 203l8.2 8.2l-8.2 8.2l-8.2 -8.2z" fill="#ef7e45" stroke="#4a220e" stroke-width="1.1"/>
<path d="M430.5 207.9l8.2 8.2l-8.2 8.2l-8.2 -8.2z" fill="#ef7e45" stroke="#4a220e" stroke-width="1.1"/>
<path d="M456.9 223.5l8.2 8.2l-8.2 8.2l-8.2 -8.2z" fill="#ef7e45" stroke="#4a220e" stroke-width="1.1"/>
<path d="M476.1 246.5l8.2 8.2l-8.2 8.2l-8.2 -8.2z" fill="#ef7e45" stroke="#4a220e" stroke-width="1.1"/>
<path d="M486.6 274.7l8.2 8.2l-8.2 8.2l-8.2 -8.2z" fill="#ef7e45" stroke="#4a220e" stroke-width="1.1"/>
<path d="M486 304.8l8.2 8.2l-8.2 8.2l-8.2 -8.2z" fill="#ef7e45" stroke="#4a220e" stroke-width="1.1"/>
<path d="M476.5 333.3l8.2 8.2l-8.2 8.2l-8.2 -8.2z" fill="#ef7e45" stroke="#4a220e" stroke-width="1.1"/>
<path d="M456.9 356.4l8.2 8.2l-8.2 8.2l-8.2 -8.2z" fill="#ef7e45" stroke="#4a220e" stroke-width="1.1"/>
<path d="M430.5 371.5l8.2 8.2l-8.2 8.2l-8.2 -8.2z" fill="#ef7e45" stroke="#4a220e" stroke-width="1.1"/>
<path d="M400.9 376.4l8.2 8.2l-8.2 8.2l-8.2 -8.2z" fill="#ef7e45" stroke="#4a220e" stroke-width="1.1"/>
<circle cx="237.2" cy="266.8" r="7.95" fill="#2aaae6" stroke="#1b4f66" stroke-width="1.1"/>
<circle cx="275" cy="266.6" r="7.95" fill="#2aaae6" stroke="#1b4f66" stroke-width="1.1"/>
<circle cx="235.4" cy="333.9" r="7.95" fill="#2aaae6" stroke="#1b4f66" stroke-width="1.1"/>
<circle cx="284" cy="333.6" r="7.95" fill="#2aaae6" stroke="#1b4f66" stroke-width="1.1"/>
<circle cx="346.2" cy="364.8" r="7.95" fill="#2aaae6" stroke="#1b4f66" stroke-width="1.1"/>
<circle cx="371.6" cy="379.6" r="7.95" fill="#2aaae6" stroke="#1b4f66" stroke-width="1.1"/>
<text x="246.5" y="302.6" font-size="11.12" font-weight="bold" font-style="italic" text-anchor="start" stroke="#000" stroke-width="0.35" >CNN1</text>
<text x="213.5" y="380.3" font-size="11.51" font-weight="bold" font-style="italic" text-anchor="start" stroke="#000" stroke-width="0.35" >PRELID2</text>
<text x="269.5" y="380.3" font-size="11.4" font-weight="bold" font-style="italic" text-anchor="start" stroke="#000" stroke-width="0.35" >ELMO1</text>
<text x="320" y="258" font-size="10.67" font-weight="bold" font-style="italic" text-anchor="start" stroke="#000" stroke-width="0.35" >UTY</text>
<text x="308" y="285.7" font-size="11.62" font-weight="bold" font-style="italic" text-anchor="start" stroke="#000" stroke-width="0.35" >SLA</text>
<text x="308.7" y="316.1" font-size="11.54" font-weight="bold" font-style="italic" text-anchor="start" stroke="#000" stroke-width="0.35" >IL32</text>
<text x="318.8" y="344.2" font-size="12.32" font-weight="bold" font-style="italic" text-anchor="start" stroke="#000" stroke-width="0.35" >DBI</text>
<text x="336.8" y="234.2" font-size="10.84" font-weight="bold" font-style="italic" text-anchor="start" stroke="#000" stroke-width="0.35" >CD47</text>
<text x="362.2" y="219.6" font-size="10.93" font-weight="bold" font-style="italic" text-anchor="start" stroke="#000" stroke-width="0.35" >CTSC</text>
<text x="394.4" y="214.8" font-size="10.82" font-weight="bold" font-style="italic" text-anchor="start" stroke="#000" stroke-width="0.35" >TST</text>
<text x="418.3" y="219.6" font-size="11.31" font-weight="bold" font-style="italic" text-anchor="start" stroke="#000" stroke-width="0.35" >THBS1</text>
<text x="440.1" y="234.8" font-size="11.31" font-weight="bold" font-style="italic" text-anchor="start" stroke="#000" stroke-width="0.35" >SLC16A7</text>
<text x="458.9" y="257.6" font-size="11.36" font-weight="bold" font-style="italic" text-anchor="start" stroke="#000" stroke-width="0.35" >TMEM204</text>
<text x="469.9" y="285.7" font-size="11.36" font-weight="bold" font-style="italic" text-anchor="start" stroke="#000" stroke-width="0.35" >SLC44A1</text>
<text x="480.8" y="316.2" font-size="12.14" font-weight="bold" font-style="italic" text-anchor="start" stroke="#000" stroke-width="0.35" >BID</text>
<text x="462.4" y="344.2" font-size="11.62" font-weight="bold" font-style="italic" text-anchor="start" stroke="#000" stroke-width="0.35" >EIF1AY</text>
<text x="442.5" y="366.6" font-size="11.37" font-weight="bold" font-style="italic" text-anchor="start" stroke="#000" stroke-width="0.35" >TMSB4Y</text>
<text x="421.3" y="381.9" font-size="11.21" font-weight="bold" font-style="italic" text-anchor="start" stroke="#000" stroke-width="0.35" >LCP1</text>
<text x="386.4" y="391" font-size="11.32" font-weight="bold" font-style="italic" text-anchor="start" stroke="#000" stroke-width="0.35" >RNF11</text>
<text x="205.2" y="270" font-size="11.75" font-weight="bold" font-style="italic" text-anchor="start" stroke="#000" stroke-width="0.35" >miR-520e</text>
<text x="265.6" y="269.4" font-size="11.7" font-weight="bold" font-style="italic" text-anchor="start" stroke="#000" stroke-width="0.35" >miR-195</text>
<text x="215.6" y="336.6" font-size="11.54" font-weight="bold" font-style="italic" text-anchor="start" stroke="#000" stroke-width="0.35" >miR-497</text>
<text x="268.5" y="336.6" font-size="11.72" font-weight="bold" font-style="italic" text-anchor="start" stroke="#000" stroke-width="0.35" >miR-29b</text>
<text x="310.1" y="367.3" font-size="11.64" font-weight="bold" font-style="italic" text-anchor="start" stroke="#000" stroke-width="0.35" >miR-223</text>
<text x="333.3" y="385.6" font-size="11.61" font-weight="bold" font-style="italic" text-anchor="start" stroke="#000" stroke-width="0.35" >miR-145</text>
<circle cx="237.1" cy="210.1" r="7.95" fill="#2aaae6" stroke="#1b4f66" stroke-width="1.1"/>
<path d="M238 223.6l8.2 8.2l-8.2 8.2l-8.2 -8.2z" fill="#ef7e45" stroke="#4a220e" stroke-width="1.1"/>
<text x="249.2" y="213.8" font-size="14.1" font-weight="bold" font-style="normal" text-anchor="start" stroke="#000" stroke-width="0.3" >microRNA</text>
<text x="252" y="234.4" font-size="13.9" font-weight="bold" font-style="normal" text-anchor="start" stroke="#000" stroke-width="0.3" >mRNA</text>
</svg></body></html>
